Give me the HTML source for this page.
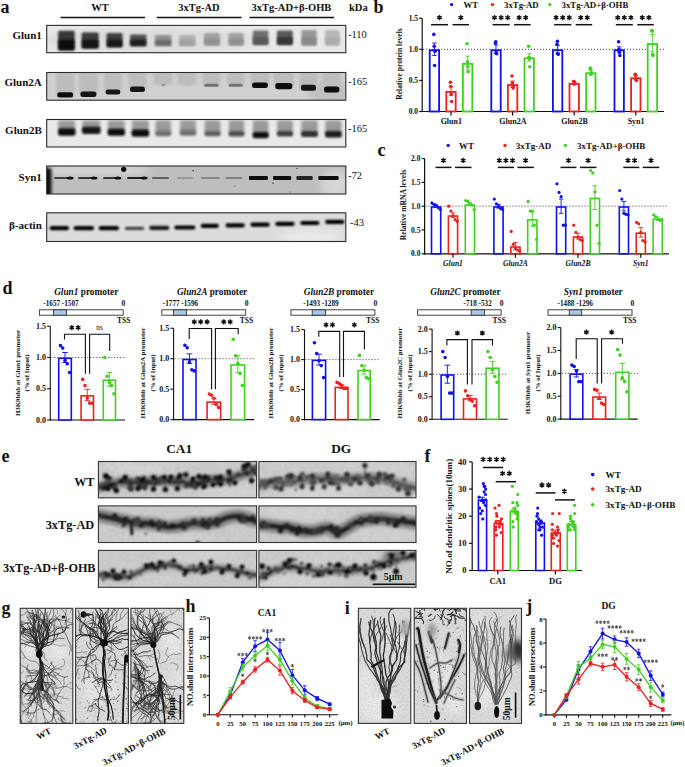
<!DOCTYPE html>
<html><head><meta charset="utf-8"><style>
html,body{margin:0;padding:0;background:#fff;}
svg{display:block;font-family:"Liberation Serif", serif;}
</style></head><body>
<svg width="685" height="767" viewBox="0 0 685 767">
<defs>
<filter id="b1" x="-50%" y="-50%" width="200%" height="200%"><feGaussianBlur stdDeviation="1"/></filter>
<filter id="b06" x="-50%" y="-50%" width="200%" height="200%"><feGaussianBlur stdDeviation="0.6"/></filter>
<filter id="b15" x="-50%" y="-50%" width="200%" height="200%"><feGaussianBlur stdDeviation="1.5"/></filter>
<filter id="b2" x="-50%" y="-50%" width="200%" height="200%"><feGaussianBlur stdDeviation="2.2"/></filter>
<filter id="b3" x="-50%" y="-50%" width="200%" height="200%"><feGaussianBlur stdDeviation="3.5"/></filter>
<filter id="nz" x="0" y="0" width="100%" height="100%"><feTurbulence type="fractalNoise" baseFrequency="0.75" numOctaves="2" seed="4"/><feColorMatrix type="matrix" values="0 0 0 0 0  0 0 0 0 0  0 0 0 0 0  0.45 0 0 0 -0.17"/></filter>
<filter id="b08" x="-50%" y="-50%" width="200%" height="200%"><feGaussianBlur stdDeviation="0.8"/></filter>
<filter id="b07" x="-50%" y="-50%" width="200%" height="200%"><feGaussianBlur stdDeviation="0.7"/></filter>
<filter id="nz2" x="0" y="0" width="100%" height="100%"><feTurbulence type="fractalNoise" baseFrequency="0.6" numOctaves="2" seed="9"/><feColorMatrix type="matrix" values="0 0 0 0 0  0 0 0 0 0  0 0 0 0 0  0.22 0 0 0 -0.09"/></filter>
<filter id="b04" x="-50%" y="-50%" width="200%" height="200%"><feGaussianBlur stdDeviation="0.4"/></filter>
</defs>
<rect width="685" height="767" fill="#fff"/>
<text x="0.50" y="13.20" font-size="18" font-weight="bold" font-style="normal" text-anchor="start" fill="#111" >a</text>
<text x="100.00" y="10.60" font-size="10.5" font-weight="bold" font-style="normal" text-anchor="middle" fill="#111" >WT</text>
<text x="199.00" y="10.60" font-size="10.5" font-weight="bold" font-style="normal" text-anchor="middle" fill="#111" >3xTg-AD</text>
<text x="291.50" y="10.60" font-size="10.5" font-weight="bold" font-style="normal" text-anchor="middle" fill="#111" >3xTg-AD+β-OHB</text>
<text x="349.00" y="10.60" font-size="10.5" font-weight="bold" font-style="normal" text-anchor="start" fill="#111" >kDa</text>
<line x1="60.60" y1="17.50" x2="145.00" y2="17.50" stroke="#111" stroke-width="1.6" />
<line x1="156.80" y1="17.50" x2="241.50" y2="17.50" stroke="#111" stroke-width="1.6" />
<line x1="249.40" y1="17.50" x2="334.00" y2="17.50" stroke="#111" stroke-width="1.6" />
<clipPath id="cg1"><rect x="46.7" y="25.4" width="299.1" height="27.300000000000004"/></clipPath>
<rect x="46.70" y="25.40" width="299.10" height="27.30" fill="#e8e8e8" stroke="none" stroke-width="1" />
<g clip-path="url(#cg1)"><ellipse cx="150.00" cy="40.00" rx="110.00" ry="12.00" fill="#dcdcdc" opacity="1" filter="url(#b3)"/></g>
<g clip-path="url(#cg1)"><rect x="58.10" y="30.70" width="16.60" height="19.80" rx="1.5" fill="#383838" filter="url(#b1)"/></g>
<g clip-path="url(#cg1)"><rect x="58.60" y="39.61" width="15.60" height="10.39" rx="1.5" fill="#0e0e0e" filter="url(#b1)"/></g>
<g clip-path="url(#cg1)"><rect x="81.60" y="32.50" width="17.10" height="15.90" rx="1.5" fill="#3a3a3a" filter="url(#b1)"/></g>
<g clip-path="url(#cg1)"><rect x="82.10" y="39.66" width="16.10" height="8.24" rx="1.5" fill="#141414" filter="url(#b1)"/></g>
<g clip-path="url(#cg1)"><rect x="106.60" y="33.00" width="16.00" height="14.20" rx="1.5" fill="#404040" filter="url(#b1)"/></g>
<g clip-path="url(#cg1)"><rect x="107.10" y="39.39" width="15.00" height="7.31" rx="1.5" fill="#161616" filter="url(#b1)"/></g>
<g clip-path="url(#cg1)"><rect x="130.00" y="34.50" width="16.50" height="11.70" rx="1.5" fill="#505050" filter="url(#b1)"/></g>
<g clip-path="url(#cg1)"><rect x="130.50" y="39.77" width="15.50" height="5.94" rx="1.5" fill="#1c1c1c" filter="url(#b1)"/></g>
<g clip-path="url(#cg1)"><rect x="154.90" y="35.00" width="16.60" height="11.00" rx="1.5" fill="#909090" filter="url(#b1)"/></g>
<g clip-path="url(#cg1)"><rect x="155.40" y="39.95" width="15.60" height="5.55" rx="1.5" fill="#6c6c6c" filter="url(#b1)"/></g>
<g clip-path="url(#cg1)"><rect x="179.00" y="35.00" width="16.40" height="11.00" rx="1.5" fill="#b0b0b0" filter="url(#b1)"/></g>
<g clip-path="url(#cg1)"><rect x="179.50" y="39.95" width="15.40" height="5.55" rx="1.5" fill="#a0a0a0" filter="url(#b1)"/></g>
<g clip-path="url(#cg1)"><rect x="204.00" y="33.00" width="15.90" height="12.50" rx="1.5" fill="#a0a0a0" filter="url(#b1)"/></g>
<g clip-path="url(#cg1)"><rect x="204.50" y="38.62" width="14.90" height="6.38" rx="1.5" fill="#909090" filter="url(#b1)"/></g>
<g clip-path="url(#cg1)"><rect x="228.50" y="33.00" width="15.20" height="12.50" rx="1.5" fill="#a0a0a0" filter="url(#b1)"/></g>
<g clip-path="url(#cg1)"><rect x="229.00" y="38.62" width="14.20" height="6.38" rx="1.5" fill="#909090" filter="url(#b1)"/></g>
<g clip-path="url(#cg1)"><rect x="252.70" y="30.50" width="15.80" height="14.50" rx="1.5" fill="#707070" filter="url(#b1)"/></g>
<g clip-path="url(#cg1)"><rect x="253.20" y="37.02" width="14.80" height="7.48" rx="1.5" fill="#585858" filter="url(#b1)"/></g>
<g clip-path="url(#cg1)"><rect x="276.90" y="30.50" width="15.90" height="14.50" rx="1.5" fill="#585858" filter="url(#b1)"/></g>
<g clip-path="url(#cg1)"><rect x="277.40" y="37.02" width="14.90" height="7.48" rx="1.5" fill="#343434" filter="url(#b1)"/></g>
<g clip-path="url(#cg1)"><rect x="301.40" y="30.00" width="15.30" height="15.50" rx="1.5" fill="#989898" filter="url(#b1)"/></g>
<g clip-path="url(#cg1)"><rect x="301.90" y="36.98" width="14.30" height="8.02" rx="1.5" fill="#888888" filter="url(#b1)"/></g>
<g clip-path="url(#cg1)"><rect x="325.00" y="30.00" width="14.80" height="15.50" rx="1.5" fill="#b8b8b8" filter="url(#b1)"/></g>
<g clip-path="url(#cg1)"><rect x="325.50" y="36.98" width="13.80" height="8.02" rx="1.5" fill="#acacac" filter="url(#b1)"/></g>
<rect x="46.70" y="25.40" width="299.10" height="27.30" fill="none" stroke="#2a2a2a" stroke-width="1.1" />
<text x="41.80" y="38.80" font-size="11" font-weight="bold" font-style="normal" text-anchor="end" fill="#111" >Glun1</text>
<text x="348.00" y="38.30" font-size="10.5" font-weight="normal" font-style="normal" text-anchor="start" fill="#111" >-110</text>
<clipPath id="cg2"><rect x="46.7" y="72.5" width="299.1" height="27.700000000000003"/></clipPath>
<rect x="46.70" y="72.50" width="299.10" height="27.70" fill="#d0d0d0" stroke="none" stroke-width="1" />
<g clip-path="url(#cg2)"><rect x="55.70" y="72.50" width="19.00" height="22.50" rx="1.5" fill="#bcbcbc" filter="url(#b15)"/></g>
<g clip-path="url(#cg2)"><rect x="78.90" y="72.50" width="19.00" height="21.50" rx="1.5" fill="#bcbcbc" filter="url(#b15)"/></g>
<g clip-path="url(#cg2)"><rect x="104.00" y="72.50" width="17.80" height="19.50" rx="1.5" fill="#bcbcbc" filter="url(#b15)"/></g>
<g clip-path="url(#cg2)"><rect x="128.50" y="72.50" width="17.90" height="16.70" rx="1.5" fill="#bcbcbc" filter="url(#b15)"/></g>
<g clip-path="url(#cg2)"><rect x="153.50" y="72.50" width="19.00" height="12.50" rx="1.5" fill="#bcbcbc" filter="url(#b15)"/></g>
<g clip-path="url(#cg2)"><rect x="177.50" y="72.50" width="19.00" height="12.50" rx="1.5" fill="#bcbcbc" filter="url(#b15)"/></g>
<g clip-path="url(#cg2)"><rect x="202.50" y="72.50" width="17.80" height="12.80" rx="1.5" fill="#bcbcbc" filter="url(#b15)"/></g>
<g clip-path="url(#cg2)"><rect x="227.00" y="72.50" width="17.50" height="12.80" rx="1.5" fill="#bcbcbc" filter="url(#b15)"/></g>
<g clip-path="url(#cg2)"><rect x="250.50" y="72.50" width="18.90" height="12.70" rx="1.5" fill="#bcbcbc" filter="url(#b15)"/></g>
<g clip-path="url(#cg2)"><rect x="273.80" y="72.50" width="20.00" height="13.60" rx="1.5" fill="#bcbcbc" filter="url(#b15)"/></g>
<g clip-path="url(#cg2)"><rect x="299.40" y="72.50" width="18.10" height="15.20" rx="1.5" fill="#bcbcbc" filter="url(#b15)"/></g>
<g clip-path="url(#cg2)"><rect x="322.50" y="72.50" width="18.40" height="17.00" rx="1.5" fill="#bcbcbc" filter="url(#b15)"/></g>
<g clip-path="url(#cg2)"><ellipse cx="330.00" cy="92.00" rx="22.00" ry="12.00" fill="#c0c0c0" opacity="1" filter="url(#b3)"/></g>
<g clip-path="url(#cg2)"><rect x="57.20" y="92.30" width="16.00" height="5.20" rx="2.5" fill="#101010" filter="url(#b06)"/></g>
<g clip-path="url(#cg2)"><rect x="80.40" y="91.40" width="16.00" height="5.50" rx="2.5" fill="#181818" filter="url(#b06)"/></g>
<g clip-path="url(#cg2)"><rect x="105.50" y="89.40" width="14.80" height="5.20" rx="2.5" fill="#141414" filter="url(#b06)"/></g>
<g clip-path="url(#cg2)"><rect x="130.00" y="86.40" width="14.90" height="5.70" rx="2.5" fill="#141414" filter="url(#b06)"/></g>
<g clip-path="url(#cg2)"><rect x="161.50" y="83.80" width="4.00" height="2.20" rx="2.5" fill="#909090" filter="url(#b06)"/></g>
<g clip-path="url(#cg2)"><rect x="184.00" y="84.00" width="7.00" height="1.80" rx="2.5" fill="#b8b8b8" filter="url(#b06)"/></g>
<g clip-path="url(#cg2)"><rect x="204.00" y="83.80" width="14.80" height="3.00" rx="2.5" fill="#707070" filter="url(#b06)"/></g>
<g clip-path="url(#cg2)"><rect x="228.50" y="83.80" width="14.50" height="3.00" rx="2.5" fill="#707070" filter="url(#b06)"/></g>
<g clip-path="url(#cg2)"><rect x="252.00" y="82.40" width="15.90" height="5.70" rx="2.5" fill="#0a0a0a" filter="url(#b06)"/></g>
<g clip-path="url(#cg2)"><rect x="275.30" y="83.00" width="17.00" height="6.20" rx="2.5" fill="#0a0a0a" filter="url(#b06)"/></g>
<g clip-path="url(#cg2)"><rect x="300.90" y="84.70" width="15.10" height="6.10" rx="2.5" fill="#121212" filter="url(#b06)"/></g>
<g clip-path="url(#cg2)"><rect x="324.00" y="86.50" width="15.40" height="6.10" rx="2.5" fill="#0a0a0a" filter="url(#b06)"/></g>
<rect x="46.70" y="72.50" width="299.10" height="27.70" fill="none" stroke="#2a2a2a" stroke-width="1.1" />
<text x="41.80" y="86.00" font-size="11" font-weight="bold" font-style="normal" text-anchor="end" fill="#111" >Glun2A</text>
<text x="348.00" y="85.30" font-size="10.5" font-weight="normal" font-style="normal" text-anchor="start" fill="#111" >-165</text>
<clipPath id="cg3"><rect x="46.7" y="119.5" width="299.1" height="27.5"/></clipPath>
<rect x="46.70" y="119.50" width="299.10" height="27.50" fill="#e9e9e9" stroke="none" stroke-width="1" />
<g clip-path="url(#cg3)"><rect x="58.30" y="120.50" width="16.90" height="10.00" rx="1.5" fill="#989898" filter="url(#b15)"/></g>
<g clip-path="url(#cg3)"><rect x="82.20" y="120.50" width="18.10" height="8.50" rx="1.5" fill="#989898" filter="url(#b15)"/></g>
<g clip-path="url(#cg3)"><rect x="107.90" y="120.50" width="16.80" height="10.50" rx="1.5" fill="#989898" filter="url(#b15)"/></g>
<g clip-path="url(#cg3)"><rect x="131.90" y="120.50" width="16.90" height="11.20" rx="1.5" fill="#989898" filter="url(#b15)"/></g>
<g clip-path="url(#cg3)"><rect x="155.50" y="120.50" width="15.40" height="12.30" rx="1.5" fill="#989898" filter="url(#b15)"/></g>
<g clip-path="url(#cg3)"><rect x="180.10" y="120.50" width="15.80" height="11.50" rx="1.5" fill="#989898" filter="url(#b15)"/></g>
<g clip-path="url(#cg3)"><rect x="204.70" y="120.50" width="15.70" height="12.90" rx="1.5" fill="#989898" filter="url(#b15)"/></g>
<g clip-path="url(#cg3)"><rect x="228.90" y="120.50" width="15.30" height="12.90" rx="1.5" fill="#989898" filter="url(#b15)"/></g>
<g clip-path="url(#cg3)"><rect x="252.90" y="120.50" width="15.50" height="13.80" rx="1.5" fill="#989898" filter="url(#b15)"/></g>
<g clip-path="url(#cg3)"><rect x="277.10" y="120.50" width="15.70" height="12.90" rx="1.5" fill="#989898" filter="url(#b15)"/></g>
<g clip-path="url(#cg3)"><rect x="301.30" y="120.50" width="16.40" height="12.90" rx="1.5" fill="#989898" filter="url(#b15)"/></g>
<g clip-path="url(#cg3)"><rect x="325.30" y="120.50" width="16.20" height="12.90" rx="1.5" fill="#989898" filter="url(#b15)"/></g>
<g clip-path="url(#cg3)"><rect x="58.00" y="128.20" width="17.50" height="7.50" rx="2.5" fill="#0c0c0c" filter="url(#b08)"/></g>
<g clip-path="url(#cg3)"><rect x="81.90" y="126.70" width="18.70" height="7.40" rx="2.5" fill="#121212" filter="url(#b08)"/></g>
<g clip-path="url(#cg3)"><rect x="107.60" y="128.70" width="17.40" height="7.00" rx="2.5" fill="#0e0e0e" filter="url(#b08)"/></g>
<g clip-path="url(#cg3)"><rect x="131.60" y="129.40" width="17.50" height="7.40" rx="2.5" fill="#0c0c0c" filter="url(#b08)"/></g>
<g clip-path="url(#cg3)"><rect x="155.20" y="130.50" width="16.00" height="5.80" rx="2.5" fill="#707070" filter="url(#b08)"/></g>
<g clip-path="url(#cg3)"><rect x="179.80" y="129.70" width="16.40" height="6.00" rx="2.5" fill="#707070" filter="url(#b08)"/></g>
<g clip-path="url(#cg3)"><rect x="204.40" y="131.10" width="16.30" height="5.10" rx="2.5" fill="#606060" filter="url(#b08)"/></g>
<g clip-path="url(#cg3)"><rect x="228.60" y="131.10" width="15.90" height="5.40" rx="2.5" fill="#505050" filter="url(#b08)"/></g>
<g clip-path="url(#cg3)"><rect x="252.60" y="132.00" width="16.10" height="6.30" rx="2.5" fill="#0a0a0a" filter="url(#b08)"/></g>
<g clip-path="url(#cg3)"><rect x="276.80" y="131.10" width="16.30" height="5.40" rx="2.5" fill="#404040" filter="url(#b08)"/></g>
<g clip-path="url(#cg3)"><rect x="301.00" y="131.10" width="17.00" height="6.00" rx="2.5" fill="#303030" filter="url(#b08)"/></g>
<g clip-path="url(#cg3)"><rect x="325.00" y="131.10" width="16.80" height="6.40" rx="2.5" fill="#1a1a1a" filter="url(#b08)"/></g>
<rect x="46.70" y="119.50" width="299.10" height="27.50" fill="none" stroke="#2a2a2a" stroke-width="1.1" />
<text x="41.80" y="133.60" font-size="11" font-weight="bold" font-style="normal" text-anchor="end" fill="#111" >Glun2B</text>
<text x="348.00" y="131.60" font-size="10.5" font-weight="normal" font-style="normal" text-anchor="start" fill="#111" >-165</text>
<clipPath id="cg4"><rect x="46.7" y="166" width="299.1" height="28"/></clipPath>
<rect x="46.70" y="166.00" width="299.10" height="28.00" fill="#bebebe" stroke="none" stroke-width="1" />
<g clip-path="url(#cg4)"><ellipse cx="90.00" cy="169.00" rx="60.00" ry="7.00" fill="#d4d4d4" opacity="1" filter="url(#b3)"/></g>
<g clip-path="url(#cg4)"><ellipse cx="335.00" cy="185.00" rx="14.00" ry="14.00" fill="#d6d6d6" opacity="1" filter="url(#b3)"/></g>
<g clip-path="url(#cg4)"><rect x="44.00" y="168.00" width="7.50" height="28.00" rx="1.5" fill="#101010" filter="url(#b15)"/></g>
<g clip-path="url(#cg4)"><rect x="54.00" y="177.00" width="19.60" height="2.00" rx="1" fill="#404040" filter="url(#b06)"/></g>
<g clip-path="url(#cg4)"><ellipse cx="70.10" cy="178.00" rx="3.20" ry="1.50" fill="#101010" opacity="1" filter="url(#b06)"/></g>
<g clip-path="url(#cg4)"><rect x="78.00" y="177.00" width="19.50" height="2.00" rx="1" fill="#383838" filter="url(#b06)"/></g>
<g clip-path="url(#cg4)"><ellipse cx="94.00" cy="178.00" rx="3.20" ry="1.50" fill="#101010" opacity="1" filter="url(#b06)"/></g>
<g clip-path="url(#cg4)"><rect x="103.00" y="177.00" width="18.40" height="2.00" rx="1" fill="#383838" filter="url(#b06)"/></g>
<g clip-path="url(#cg4)"><ellipse cx="117.90" cy="178.00" rx="3.20" ry="1.50" fill="#101010" opacity="1" filter="url(#b06)"/></g>
<g clip-path="url(#cg4)"><rect x="127.00" y="177.00" width="20.60" height="2.00" rx="1" fill="#202020" filter="url(#b06)"/></g>
<g clip-path="url(#cg4)"><ellipse cx="144.10" cy="178.00" rx="3.20" ry="1.50" fill="#101010" opacity="1" filter="url(#b06)"/></g>
<g clip-path="url(#cg4)"><rect x="152.00" y="177.00" width="17.00" height="2.00" rx="1" fill="#606060" filter="url(#b06)"/></g>
<g clip-path="url(#cg4)"><rect x="177.00" y="177.00" width="16.00" height="2.00" rx="1" fill="#989898" filter="url(#b06)"/></g>
<g clip-path="url(#cg4)"><rect x="200.70" y="177.00" width="19.20" height="2.00" rx="1" fill="#888888" filter="url(#b06)"/></g>
<g clip-path="url(#cg4)"><rect x="225.50" y="177.00" width="17.00" height="2.00" rx="1" fill="#808080" filter="url(#b06)"/></g>
<g clip-path="url(#cg4)"><rect x="248.90" y="176.10" width="19.00" height="3.80" rx="1" fill="#101010" filter="url(#b06)"/></g>
<g clip-path="url(#cg4)"><rect x="273.00" y="176.10" width="18.20" height="3.80" rx="1" fill="#080808" filter="url(#b06)"/></g>
<g clip-path="url(#cg4)"><rect x="296.40" y="176.10" width="16.30" height="3.80" rx="1" fill="#202020" filter="url(#b06)"/></g>
<g clip-path="url(#cg4)"><rect x="318.30" y="176.10" width="20.40" height="3.80" rx="1" fill="#101010" filter="url(#b06)"/></g>
<circle cx="123.7" cy="169.3" r="2.6" fill="#080808"/>
<circle cx="193.2" cy="170.7" r="0.8" fill="#333"/>
<circle cx="297" cy="168.5" r="0.7" fill="#444"/>
<circle cx="273" cy="183" r="0.8" fill="#333"/>
<circle cx="235" cy="186" r="0.6" fill="#555"/>
<circle cx="290" cy="192" r="0.6" fill="#555"/>
<rect x="46.70" y="166.00" width="299.10" height="28.00" fill="none" stroke="#2a2a2a" stroke-width="1.1" />
<text x="41.80" y="180.80" font-size="11" font-weight="bold" font-style="normal" text-anchor="end" fill="#111" >Syn1</text>
<text x="348.00" y="178.60" font-size="10.5" font-weight="normal" font-style="normal" text-anchor="start" fill="#111" >-72</text>
<clipPath id="cg5"><rect x="46.7" y="212.8" width="299.1" height="28.69999999999999"/></clipPath>
<rect x="46.70" y="212.80" width="299.10" height="28.70" fill="#dcdcdc" stroke="none" stroke-width="1" />
<g clip-path="url(#cg5)"><ellipse cx="310.00" cy="237.00" rx="30.00" ry="8.00" fill="#e8e8e8" opacity="1" filter="url(#b3)"/></g>
<g clip-path="url(#cg5)"><rect x="49.70" y="226.10" width="19.30" height="4.20" rx="2" fill="#040404" filter="url(#b08)"/></g>
<g clip-path="url(#cg5)"><rect x="73.60" y="226.10" width="20.40" height="4.20" rx="2" fill="#040404" filter="url(#b08)"/></g>
<g clip-path="url(#cg5)"><rect x="98.70" y="226.10" width="20.30" height="4.20" rx="2" fill="#000000" filter="url(#b08)"/></g>
<g clip-path="url(#cg5)"><rect x="124.80" y="226.80" width="19.40" height="3.20" rx="2" fill="#404040" filter="url(#b08)"/></g>
<g clip-path="url(#cg5)"><rect x="149.20" y="225.70" width="20.10" height="4.20" rx="2" fill="#181818" filter="url(#b08)"/></g>
<g clip-path="url(#cg5)"><rect x="174.30" y="225.40" width="21.10" height="4.20" rx="2" fill="#000000" filter="url(#b08)"/></g>
<g clip-path="url(#cg5)"><rect x="200.70" y="223.80" width="18.10" height="4.20" rx="2" fill="#040404" filter="url(#b08)"/></g>
<g clip-path="url(#cg5)"><rect x="225.50" y="223.30" width="19.30" height="4.20" rx="2" fill="#000000" filter="url(#b08)"/></g>
<g clip-path="url(#cg5)"><rect x="250.40" y="222.50" width="19.30" height="4.20" rx="2" fill="#000000" filter="url(#b08)"/></g>
<g clip-path="url(#cg5)"><rect x="275.30" y="221.80" width="19.30" height="4.20" rx="2" fill="#040404" filter="url(#b08)"/></g>
<g clip-path="url(#cg5)"><rect x="300.20" y="220.90" width="19.30" height="4.20" rx="2" fill="#040404" filter="url(#b08)"/></g>
<g clip-path="url(#cg5)"><rect x="325.10" y="219.70" width="19.30" height="4.20" rx="2" fill="#000000" filter="url(#b08)"/></g>
<rect x="46.70" y="212.80" width="299.10" height="28.70" fill="none" stroke="#2a2a2a" stroke-width="1.1" />
<text x="41.80" y="229.20" font-size="11" font-weight="bold" font-style="normal" text-anchor="end" fill="#111" >β-actin</text>
<text x="350.00" y="225.80" font-size="10.5" font-weight="normal" font-style="normal" text-anchor="start" fill="#111" >-43</text>
<text x="373.50" y="12.60" font-size="18" font-weight="bold" font-style="normal" text-anchor="start" fill="#111" >b</text>
<line x1="422.20" y1="18.20" x2="422.20" y2="112.10" stroke="#111" stroke-width="1.2" />
<line x1="421.60" y1="111.50" x2="664.00" y2="111.50" stroke="#111" stroke-width="1.2" />
<line x1="419.20" y1="111.50" x2="422.20" y2="111.50" stroke="#111" stroke-width="1.2" />
<text x="418.00" y="114.05" font-size="7.5" font-weight="bold" font-style="normal" text-anchor="end" fill="#111" >0.0</text>
<line x1="419.20" y1="80.40" x2="422.20" y2="80.40" stroke="#111" stroke-width="1.2" />
<text x="418.00" y="82.95" font-size="7.5" font-weight="bold" font-style="normal" text-anchor="end" fill="#111" >0.5</text>
<line x1="419.20" y1="49.30" x2="422.20" y2="49.30" stroke="#111" stroke-width="1.2" />
<text x="418.00" y="51.85" font-size="7.5" font-weight="bold" font-style="normal" text-anchor="end" fill="#111" >1.0</text>
<line x1="419.20" y1="18.20" x2="422.20" y2="18.20" stroke="#111" stroke-width="1.2" />
<text x="418.00" y="20.75" font-size="7.5" font-weight="bold" font-style="normal" text-anchor="end" fill="#111" >1.5</text>
<line x1="423.00" y1="49.30" x2="664.00" y2="49.30" stroke="#222" stroke-width="0.9" stroke-dasharray="1 2"/>
<text transform="translate(399.50,64.00) rotate(-90)" x="0" y="0" font-size="7.6" font-weight="bold" font-style="normal" text-anchor="middle" dominant-baseline="central" fill="#111">Relative protein levels</text>
<circle cx="451.6" cy="4.6" r="1.7" fill="#1010f0"/>
<text x="463.50" y="8.00" font-size="8.8" font-weight="bold" font-style="normal" text-anchor="start" fill="#111" >WT</text>
<circle cx="492.5" cy="4.6" r="1.7" fill="#f02020"/>
<text x="504.00" y="8.00" font-size="8.8" font-weight="bold" font-style="normal" text-anchor="start" fill="#111" >3xTg-AD</text>
<circle cx="549.8" cy="4.6" r="1.7" fill="#40d020"/>
<text x="561.50" y="8.00" font-size="8.8" font-weight="bold" font-style="normal" text-anchor="start" fill="#111" >3xTg-AD+β-OHB</text>
<rect x="429.70" y="50.20" width="9.40" height="61.30" fill="#fff" stroke="#1010f0" stroke-width="1.8"/>
<line x1="434.40" y1="43.08" x2="434.40" y2="55.52" stroke="#1010f0" stroke-width="0.9" />
<line x1="432.20" y1="43.08" x2="436.60" y2="43.08" stroke="#1010f0" stroke-width="0.9" />
<line x1="432.20" y1="55.52" x2="436.60" y2="55.52" stroke="#1010f0" stroke-width="0.9" />
<circle cx="433.8" cy="34.4" r="1.8" fill="#1010f0"/>
<circle cx="434.2" cy="46.2" r="1.8" fill="#1010f0"/>
<circle cx="434.6" cy="65.5" r="1.8" fill="#1010f0"/>
<circle cx="435" cy="51.2" r="1.8" fill="#1010f0"/>
<rect x="446.30" y="91.87" width="9.40" height="19.63" fill="#fff" stroke="#f02020" stroke-width="1.8"/>
<line x1="451.00" y1="86.62" x2="451.00" y2="95.33" stroke="#f02020" stroke-width="0.9" />
<line x1="448.80" y1="86.62" x2="453.20" y2="86.62" stroke="#f02020" stroke-width="0.9" />
<line x1="448.80" y1="95.33" x2="453.20" y2="95.33" stroke="#f02020" stroke-width="0.9" />
<circle cx="450.4" cy="82.3" r="1.8" fill="#f02020"/>
<circle cx="450.8" cy="86.6" r="1.8" fill="#f02020"/>
<circle cx="451.2" cy="94.1" r="1.8" fill="#f02020"/>
<circle cx="451.6" cy="101.5" r="1.8" fill="#f02020"/>
<rect x="462.90" y="63.88" width="9.40" height="47.62" fill="#fff" stroke="#40d020" stroke-width="1.8"/>
<line x1="467.60" y1="56.14" x2="467.60" y2="69.83" stroke="#40d020" stroke-width="0.9" />
<line x1="465.40" y1="56.14" x2="469.80" y2="56.14" stroke="#40d020" stroke-width="0.9" />
<line x1="465.40" y1="69.83" x2="469.80" y2="69.83" stroke="#40d020" stroke-width="0.9" />
<circle cx="467" cy="43.7" r="1.8" fill="#40d020"/>
<circle cx="467.4" cy="61.7" r="1.8" fill="#40d020"/>
<circle cx="467.8" cy="66.7" r="1.8" fill="#40d020"/>
<circle cx="468.2" cy="71.7" r="1.8" fill="#40d020"/>
<line x1="451.00" y1="111.50" x2="451.00" y2="115.50" stroke="#111" stroke-width="1.2" />
<text x="451.30" y="123.80" font-size="8" font-weight="bold" font-style="normal" text-anchor="middle" fill="#111" >Glun1</text>
<line x1="431.00" y1="24.70" x2="448.00" y2="24.70" stroke="#111" stroke-width="1.5" />
<line x1="452.50" y1="24.70" x2="469.00" y2="24.70" stroke="#111" stroke-width="1.5" />
<path d="M439.5 15v5.3M437.2 16.3l4.6 2.6M437.2 18.9l4.6 -2.6" stroke="#111" stroke-width="1.35" fill="none"/>
<path d="M460.8 15v5.3M458.5 16.3l4.6 2.6M458.5 18.9l4.6 -2.6" stroke="#111" stroke-width="1.35" fill="none"/>
<rect x="491.30" y="50.20" width="9.40" height="61.30" fill="#fff" stroke="#1010f0" stroke-width="1.8"/>
<line x1="496.00" y1="44.95" x2="496.00" y2="53.65" stroke="#1010f0" stroke-width="0.9" />
<line x1="493.80" y1="44.95" x2="498.20" y2="44.95" stroke="#1010f0" stroke-width="0.9" />
<line x1="493.80" y1="53.65" x2="498.20" y2="53.65" stroke="#1010f0" stroke-width="0.9" />
<circle cx="495.4" cy="43.1" r="1.8" fill="#1010f0"/>
<circle cx="495.8" cy="41.8" r="1.8" fill="#1010f0"/>
<circle cx="496.2" cy="52.4" r="1.8" fill="#1010f0"/>
<circle cx="496.6" cy="53.7" r="1.8" fill="#1010f0"/>
<rect x="507.90" y="85.03" width="9.40" height="26.47" fill="#fff" stroke="#f02020" stroke-width="1.8"/>
<line x1="512.60" y1="81.02" x2="512.60" y2="87.24" stroke="#f02020" stroke-width="0.9" />
<line x1="510.40" y1="81.02" x2="514.80" y2="81.02" stroke="#f02020" stroke-width="0.9" />
<line x1="510.40" y1="87.24" x2="514.80" y2="87.24" stroke="#f02020" stroke-width="0.9" />
<circle cx="512" cy="76" r="1.8" fill="#f02020"/>
<circle cx="512.4" cy="82.9" r="1.8" fill="#f02020"/>
<circle cx="512.8" cy="86.6" r="1.8" fill="#f02020"/>
<circle cx="513.2" cy="87.9" r="1.8" fill="#f02020"/>
<rect x="524.50" y="58.29" width="9.40" height="53.21" fill="#fff" stroke="#40d020" stroke-width="1.8"/>
<line x1="529.20" y1="53.65" x2="529.20" y2="61.12" stroke="#40d020" stroke-width="0.9" />
<line x1="527.00" y1="53.65" x2="531.40" y2="53.65" stroke="#40d020" stroke-width="0.9" />
<line x1="527.00" y1="61.12" x2="531.40" y2="61.12" stroke="#40d020" stroke-width="0.9" />
<circle cx="528.6" cy="46.2" r="1.8" fill="#40d020"/>
<circle cx="529" cy="57.4" r="1.8" fill="#40d020"/>
<circle cx="529.4" cy="58.6" r="1.8" fill="#40d020"/>
<circle cx="529.8" cy="66.7" r="1.8" fill="#40d020"/>
<line x1="512.60" y1="111.50" x2="512.60" y2="115.50" stroke="#111" stroke-width="1.2" />
<text x="512.90" y="123.80" font-size="8" font-weight="bold" font-style="normal" text-anchor="middle" fill="#111" >Glun2A</text>
<line x1="492.60" y1="24.70" x2="509.60" y2="24.70" stroke="#111" stroke-width="1.5" />
<line x1="514.10" y1="24.70" x2="530.60" y2="24.70" stroke="#111" stroke-width="1.5" />
<path d="M494.5 15v5.3M492.2 16.3l4.6 2.6M492.2 18.9l4.6 -2.6M501.1 15v5.3M498.8 16.3l4.6 2.6M498.8 18.9l4.6 -2.6M507.7 15v5.3M505.4 16.3l4.6 2.6M505.4 18.9l4.6 -2.6" stroke="#111" stroke-width="1.35" fill="none"/>
<path d="M519.1 15v5.3M516.8 16.3l4.6 2.6M516.8 18.9l4.6 -2.6M525.7 15v5.3M523.4 16.3l4.6 2.6M523.4 18.9l4.6 -2.6" stroke="#111" stroke-width="1.35" fill="none"/>
<rect x="552.90" y="50.20" width="9.40" height="61.30" fill="#fff" stroke="#1010f0" stroke-width="1.8"/>
<line x1="557.60" y1="45.57" x2="557.60" y2="53.03" stroke="#1010f0" stroke-width="0.9" />
<line x1="555.40" y1="45.57" x2="559.80" y2="45.57" stroke="#1010f0" stroke-width="0.9" />
<line x1="555.40" y1="53.03" x2="559.80" y2="53.03" stroke="#1010f0" stroke-width="0.9" />
<circle cx="557" cy="44.3" r="1.8" fill="#1010f0"/>
<circle cx="557.4" cy="41.2" r="1.8" fill="#1010f0"/>
<circle cx="557.8" cy="53.7" r="1.8" fill="#1010f0"/>
<circle cx="558.2" cy="54.3" r="1.8" fill="#1010f0"/>
<rect x="569.50" y="83.79" width="9.40" height="27.71" fill="#fff" stroke="#f02020" stroke-width="1.8"/>
<line x1="574.20" y1="81.64" x2="574.20" y2="84.13" stroke="#f02020" stroke-width="0.9" />
<line x1="572.00" y1="81.64" x2="576.40" y2="81.64" stroke="#f02020" stroke-width="0.9" />
<line x1="572.00" y1="84.13" x2="576.40" y2="84.13" stroke="#f02020" stroke-width="0.9" />
<circle cx="573.6" cy="81.6" r="1.8" fill="#f02020"/>
<circle cx="574" cy="81.6" r="1.8" fill="#f02020"/>
<circle cx="574.4" cy="84.1" r="1.8" fill="#f02020"/>
<circle cx="574.8" cy="82.9" r="1.8" fill="#f02020"/>
<rect x="586.10" y="73.21" width="9.40" height="38.29" fill="#fff" stroke="#40d020" stroke-width="1.8"/>
<line x1="590.80" y1="69.83" x2="590.80" y2="74.80" stroke="#40d020" stroke-width="0.9" />
<line x1="588.60" y1="69.83" x2="593.00" y2="69.83" stroke="#40d020" stroke-width="0.9" />
<line x1="588.60" y1="74.80" x2="593.00" y2="74.80" stroke="#40d020" stroke-width="0.9" />
<circle cx="590.2" cy="68" r="1.8" fill="#40d020"/>
<circle cx="590.6" cy="69.2" r="1.8" fill="#40d020"/>
<circle cx="591" cy="74.2" r="1.8" fill="#40d020"/>
<circle cx="591.4" cy="72.9" r="1.8" fill="#40d020"/>
<line x1="574.20" y1="111.50" x2="574.20" y2="115.50" stroke="#111" stroke-width="1.2" />
<text x="574.50" y="123.80" font-size="8" font-weight="bold" font-style="normal" text-anchor="middle" fill="#111" >Glun2B</text>
<line x1="554.20" y1="24.70" x2="571.20" y2="24.70" stroke="#111" stroke-width="1.5" />
<line x1="575.70" y1="24.70" x2="592.20" y2="24.70" stroke="#111" stroke-width="1.5" />
<path d="M556.1 15v5.3M553.8 16.3l4.6 2.6M553.8 18.9l4.6 -2.6M562.7 15v5.3M560.4 16.3l4.6 2.6M560.4 18.9l4.6 -2.6M569.3 15v5.3M567 16.3l4.6 2.6M567 18.9l4.6 -2.6" stroke="#111" stroke-width="1.35" fill="none"/>
<path d="M580.7 15v5.3M578.4 16.3l4.6 2.6M578.4 18.9l4.6 -2.6M587.3 15v5.3M585 16.3l4.6 2.6M585 18.9l4.6 -2.6" stroke="#111" stroke-width="1.35" fill="none"/>
<rect x="614.50" y="50.20" width="9.40" height="61.30" fill="#fff" stroke="#1010f0" stroke-width="1.8"/>
<line x1="619.20" y1="46.81" x2="619.20" y2="51.79" stroke="#1010f0" stroke-width="0.9" />
<line x1="617.00" y1="46.81" x2="621.40" y2="46.81" stroke="#1010f0" stroke-width="0.9" />
<line x1="617.00" y1="51.79" x2="621.40" y2="51.79" stroke="#1010f0" stroke-width="0.9" />
<circle cx="618.6" cy="41.8" r="1.8" fill="#1010f0"/>
<circle cx="619" cy="49.3" r="1.8" fill="#1010f0"/>
<circle cx="619.4" cy="52.4" r="1.8" fill="#1010f0"/>
<circle cx="619.8" cy="55.5" r="1.8" fill="#1010f0"/>
<rect x="631.10" y="78.19" width="9.40" height="33.31" fill="#fff" stroke="#f02020" stroke-width="1.8"/>
<line x1="635.80" y1="75.42" x2="635.80" y2="79.16" stroke="#f02020" stroke-width="0.9" />
<line x1="633.60" y1="75.42" x2="638.00" y2="75.42" stroke="#f02020" stroke-width="0.9" />
<line x1="633.60" y1="79.16" x2="638.00" y2="79.16" stroke="#f02020" stroke-width="0.9" />
<circle cx="635.2" cy="74.2" r="1.8" fill="#f02020"/>
<circle cx="635.6" cy="75.4" r="1.8" fill="#f02020"/>
<circle cx="636" cy="79.2" r="1.8" fill="#f02020"/>
<circle cx="636.4" cy="80.4" r="1.8" fill="#f02020"/>
<rect x="647.70" y="43.98" width="9.40" height="67.52" fill="#fff" stroke="#40d020" stroke-width="1.8"/>
<line x1="652.40" y1="34.37" x2="652.40" y2="51.79" stroke="#40d020" stroke-width="0.9" />
<line x1="650.20" y1="34.37" x2="654.60" y2="34.37" stroke="#40d020" stroke-width="0.9" />
<line x1="650.20" y1="51.79" x2="654.60" y2="51.79" stroke="#40d020" stroke-width="0.9" />
<circle cx="651.8" cy="30.6" r="1.8" fill="#40d020"/>
<circle cx="652.2" cy="31.3" r="1.8" fill="#40d020"/>
<circle cx="652.6" cy="54.3" r="1.8" fill="#40d020"/>
<circle cx="653" cy="55.5" r="1.8" fill="#40d020"/>
<line x1="635.80" y1="111.50" x2="635.80" y2="115.50" stroke="#111" stroke-width="1.2" />
<text x="636.10" y="123.80" font-size="8" font-weight="bold" font-style="normal" text-anchor="middle" fill="#111" >Syn1</text>
<line x1="615.80" y1="24.70" x2="632.80" y2="24.70" stroke="#111" stroke-width="1.5" />
<line x1="637.30" y1="24.70" x2="653.80" y2="24.70" stroke="#111" stroke-width="1.5" />
<path d="M617.7 15v5.3M615.4 16.3l4.6 2.6M615.4 18.9l4.6 -2.6M624.3 15v5.3M622 16.3l4.6 2.6M622 18.9l4.6 -2.6M630.9 15v5.3M628.6 16.3l4.6 2.6M628.6 18.9l4.6 -2.6" stroke="#111" stroke-width="1.35" fill="none"/>
<path d="M642.3 15v5.3M640 16.3l4.6 2.6M640 18.9l4.6 -2.6M648.9 15v5.3M646.6 16.3l4.6 2.6M646.6 18.9l4.6 -2.6" stroke="#111" stroke-width="1.35" fill="none"/>
<text x="377.50" y="155.80" font-size="18" font-weight="bold" font-style="normal" text-anchor="start" fill="#111" >c</text>
<line x1="424.60" y1="158.60" x2="424.60" y2="254.40" stroke="#111" stroke-width="1.2" />
<line x1="424.00" y1="253.80" x2="669.00" y2="253.80" stroke="#111" stroke-width="1.2" />
<line x1="421.60" y1="253.80" x2="424.60" y2="253.80" stroke="#111" stroke-width="1.2" />
<text x="420.40" y="256.35" font-size="7.5" font-weight="bold" font-style="normal" text-anchor="end" fill="#111" >0.0</text>
<line x1="421.60" y1="230.00" x2="424.60" y2="230.00" stroke="#111" stroke-width="1.2" />
<text x="420.40" y="232.55" font-size="7.5" font-weight="bold" font-style="normal" text-anchor="end" fill="#111" >0.5</text>
<line x1="421.60" y1="206.20" x2="424.60" y2="206.20" stroke="#111" stroke-width="1.2" />
<text x="420.40" y="208.75" font-size="7.5" font-weight="bold" font-style="normal" text-anchor="end" fill="#111" >1.0</text>
<line x1="421.60" y1="182.40" x2="424.60" y2="182.40" stroke="#111" stroke-width="1.2" />
<text x="420.40" y="184.95" font-size="7.5" font-weight="bold" font-style="normal" text-anchor="end" fill="#111" >1.5</text>
<line x1="421.60" y1="158.60" x2="424.60" y2="158.60" stroke="#111" stroke-width="1.2" />
<text x="420.40" y="161.15" font-size="7.5" font-weight="bold" font-style="normal" text-anchor="end" fill="#111" >2.0</text>
<line x1="425.50" y1="206.20" x2="668.00" y2="206.20" stroke="#222" stroke-width="0.9" stroke-dasharray="1 2"/>
<text transform="translate(403.50,205.00) rotate(-90)" x="0" y="0" font-size="7.6" font-weight="bold" font-style="normal" text-anchor="middle" dominant-baseline="central" fill="#111">Relative mRNA levels</text>
<circle cx="448.2" cy="145.4" r="1.7" fill="#1010f0"/>
<text x="459.00" y="148.80" font-size="9" font-weight="bold" font-style="normal" text-anchor="start" fill="#111" >WT</text>
<circle cx="505" cy="145.4" r="1.7" fill="#f02020"/>
<text x="515.80" y="148.80" font-size="9" font-weight="bold" font-style="normal" text-anchor="start" fill="#111" >3xTg-AD</text>
<circle cx="565.4" cy="145.4" r="1.7" fill="#40d020"/>
<text x="577.00" y="148.80" font-size="9" font-weight="bold" font-style="normal" text-anchor="start" fill="#111" >3xTg-AD+β-OHB</text>
<rect x="431.50" y="207.00" width="9.20" height="46.80" fill="#fff" stroke="#1010f0" stroke-width="1.6"/>
<line x1="436.10" y1="205.25" x2="436.10" y2="207.15" stroke="#1010f0" stroke-width="0.9" />
<line x1="433.90" y1="205.25" x2="438.30" y2="205.25" stroke="#1010f0" stroke-width="0.9" />
<line x1="433.90" y1="207.15" x2="438.30" y2="207.15" stroke="#1010f0" stroke-width="0.9" />
<circle cx="431.9" cy="202.9" r="1.6" fill="#1010f0"/>
<circle cx="434" cy="204.3" r="1.6" fill="#1010f0"/>
<circle cx="436.1" cy="205.2" r="1.6" fill="#1010f0"/>
<circle cx="438.2" cy="207.6" r="1.6" fill="#1010f0"/>
<circle cx="440.3" cy="209.5" r="1.6" fill="#1010f0"/>
<rect x="448.40" y="216.04" width="9.20" height="37.76" fill="#fff" stroke="#f02020" stroke-width="1.6"/>
<line x1="453.00" y1="212.86" x2="453.00" y2="217.62" stroke="#f02020" stroke-width="0.9" />
<line x1="450.80" y1="212.86" x2="455.20" y2="212.86" stroke="#f02020" stroke-width="0.9" />
<line x1="450.80" y1="217.62" x2="455.20" y2="217.62" stroke="#f02020" stroke-width="0.9" />
<circle cx="448.8" cy="206.2" r="1.6" fill="#f02020"/>
<circle cx="450.9" cy="211" r="1.6" fill="#f02020"/>
<circle cx="453" cy="215.7" r="1.6" fill="#f02020"/>
<circle cx="455.1" cy="219.5" r="1.6" fill="#f02020"/>
<circle cx="457.2" cy="221.4" r="1.6" fill="#f02020"/>
<rect x="465.30" y="205.10" width="9.20" height="48.70" fill="#fff" stroke="#40d020" stroke-width="1.6"/>
<line x1="469.90" y1="202.87" x2="469.90" y2="205.72" stroke="#40d020" stroke-width="0.9" />
<line x1="467.70" y1="202.87" x2="472.10" y2="202.87" stroke="#40d020" stroke-width="0.9" />
<line x1="467.70" y1="205.72" x2="472.10" y2="205.72" stroke="#40d020" stroke-width="0.9" />
<circle cx="465.7" cy="200.5" r="1.6" fill="#40d020"/>
<circle cx="467.8" cy="201.4" r="1.6" fill="#40d020"/>
<circle cx="469.9" cy="203.8" r="1.6" fill="#40d020"/>
<circle cx="472" cy="205.2" r="1.6" fill="#40d020"/>
<circle cx="474.1" cy="209.5" r="1.6" fill="#40d020"/>
<line x1="453.00" y1="253.80" x2="453.00" y2="257.80" stroke="#111" stroke-width="1.2" />
<text x="453.00" y="266.20" font-size="7.6" font-weight="bold" font-style="italic" text-anchor="middle" fill="#111" >Glun1</text>
<line x1="435.50" y1="167.40" x2="451.50" y2="167.40" stroke="#111" stroke-width="1.5" />
<line x1="455.00" y1="167.40" x2="471.50" y2="167.40" stroke="#111" stroke-width="1.5" />
<path d="M443.5 157.8v5.3M441.2 159.2l4.6 2.6M441.2 161.8l4.6 -2.6" stroke="#111" stroke-width="1.35" fill="none"/>
<path d="M463.2 157.8v5.3M460.9 159.2l4.6 2.6M460.9 161.8l4.6 -2.6" stroke="#111" stroke-width="1.35" fill="none"/>
<rect x="493.90" y="207.00" width="9.20" height="46.80" fill="#fff" stroke="#1010f0" stroke-width="1.6"/>
<line x1="498.50" y1="204.30" x2="498.50" y2="208.10" stroke="#1010f0" stroke-width="0.9" />
<line x1="496.30" y1="204.30" x2="500.70" y2="204.30" stroke="#1010f0" stroke-width="0.9" />
<line x1="496.30" y1="208.10" x2="500.70" y2="208.10" stroke="#1010f0" stroke-width="0.9" />
<circle cx="494.3" cy="199.1" r="1.6" fill="#1010f0"/>
<circle cx="496.4" cy="203.8" r="1.6" fill="#1010f0"/>
<circle cx="498.5" cy="206.2" r="1.6" fill="#1010f0"/>
<circle cx="500.6" cy="208.6" r="1.6" fill="#1010f0"/>
<circle cx="502.7" cy="209.5" r="1.6" fill="#1010f0"/>
<rect x="510.80" y="246.98" width="9.20" height="6.82" fill="#fff" stroke="#f02020" stroke-width="1.6"/>
<line x1="515.40" y1="242.38" x2="515.40" y2="249.99" stroke="#f02020" stroke-width="0.9" />
<line x1="513.20" y1="242.38" x2="517.60" y2="242.38" stroke="#f02020" stroke-width="0.9" />
<line x1="513.20" y1="249.99" x2="517.60" y2="249.99" stroke="#f02020" stroke-width="0.9" />
<circle cx="511.2" cy="231.4" r="1.6" fill="#f02020"/>
<circle cx="513.3" cy="244.3" r="1.6" fill="#f02020"/>
<circle cx="515.4" cy="248.1" r="1.6" fill="#f02020"/>
<circle cx="517.5" cy="250" r="1.6" fill="#f02020"/>
<circle cx="519.6" cy="250.9" r="1.6" fill="#f02020"/>
<rect x="527.70" y="219.85" width="9.20" height="33.95" fill="#fff" stroke="#40d020" stroke-width="1.6"/>
<line x1="532.30" y1="211.91" x2="532.30" y2="226.19" stroke="#40d020" stroke-width="0.9" />
<line x1="530.10" y1="211.91" x2="534.50" y2="211.91" stroke="#40d020" stroke-width="0.9" />
<line x1="530.10" y1="226.19" x2="534.50" y2="226.19" stroke="#40d020" stroke-width="0.9" />
<circle cx="528.1" cy="201.4" r="1.6" fill="#40d020"/>
<circle cx="530.2" cy="211" r="1.6" fill="#40d020"/>
<circle cx="532.3" cy="211" r="1.6" fill="#40d020"/>
<circle cx="534.4" cy="225.2" r="1.6" fill="#40d020"/>
<circle cx="536.5" cy="239.5" r="1.6" fill="#40d020"/>
<line x1="515.40" y1="253.80" x2="515.40" y2="257.80" stroke="#111" stroke-width="1.2" />
<text x="515.40" y="266.20" font-size="7.6" font-weight="bold" font-style="italic" text-anchor="middle" fill="#111" >Glun2A</text>
<line x1="497.90" y1="167.40" x2="513.90" y2="167.40" stroke="#111" stroke-width="1.5" />
<line x1="517.40" y1="167.40" x2="533.90" y2="167.40" stroke="#111" stroke-width="1.5" />
<path d="M499.3 157.8v5.3M497 159.2l4.6 2.6M497 161.8l4.6 -2.6M505.9 157.8v5.3M503.6 159.2l4.6 2.6M503.6 161.8l4.6 -2.6M512.5 157.8v5.3M510.2 159.2l4.6 2.6M510.2 161.8l4.6 -2.6" stroke="#111" stroke-width="1.35" fill="none"/>
<path d="M525.6 157.8v5.3M523.3 159.2l4.6 2.6M523.3 161.8l4.6 -2.6" stroke="#111" stroke-width="1.35" fill="none"/>
<rect x="556.50" y="207.00" width="9.20" height="46.80" fill="#fff" stroke="#1010f0" stroke-width="1.6"/>
<line x1="561.10" y1="199.06" x2="561.10" y2="213.34" stroke="#1010f0" stroke-width="0.9" />
<line x1="558.90" y1="199.06" x2="563.30" y2="199.06" stroke="#1010f0" stroke-width="0.9" />
<line x1="558.90" y1="213.34" x2="563.30" y2="213.34" stroke="#1010f0" stroke-width="0.9" />
<circle cx="556.9" cy="183.8" r="1.6" fill="#1010f0"/>
<circle cx="559" cy="192.4" r="1.6" fill="#1010f0"/>
<circle cx="561.1" cy="196.7" r="1.6" fill="#1010f0"/>
<circle cx="563.2" cy="225.2" r="1.6" fill="#1010f0"/>
<circle cx="565.3" cy="225.2" r="1.6" fill="#1010f0"/>
<rect x="573.40" y="236.99" width="9.20" height="16.81" fill="#fff" stroke="#f02020" stroke-width="1.6"/>
<line x1="578.00" y1="233.33" x2="578.00" y2="239.04" stroke="#f02020" stroke-width="0.9" />
<line x1="575.80" y1="233.33" x2="580.20" y2="233.33" stroke="#f02020" stroke-width="0.9" />
<line x1="575.80" y1="239.04" x2="580.20" y2="239.04" stroke="#f02020" stroke-width="0.9" />
<circle cx="573.8" cy="225.2" r="1.6" fill="#f02020"/>
<circle cx="575.9" cy="232.4" r="1.6" fill="#f02020"/>
<circle cx="578" cy="237.1" r="1.6" fill="#f02020"/>
<circle cx="580.1" cy="239.5" r="1.6" fill="#f02020"/>
<circle cx="582.2" cy="240.5" r="1.6" fill="#f02020"/>
<rect x="590.30" y="198.43" width="9.20" height="55.37" fill="#fff" stroke="#40d020" stroke-width="1.6"/>
<line x1="594.90" y1="185.73" x2="594.90" y2="209.53" stroke="#40d020" stroke-width="0.9" />
<line x1="592.70" y1="185.73" x2="597.10" y2="185.73" stroke="#40d020" stroke-width="0.9" />
<line x1="592.70" y1="209.53" x2="597.10" y2="209.53" stroke="#40d020" stroke-width="0.9" />
<circle cx="590.7" cy="170.5" r="1.6" fill="#40d020"/>
<circle cx="592.8" cy="172.9" r="1.6" fill="#40d020"/>
<circle cx="594.9" cy="191.9" r="1.6" fill="#40d020"/>
<circle cx="597" cy="225.2" r="1.6" fill="#40d020"/>
<circle cx="599.1" cy="243.3" r="1.6" fill="#40d020"/>
<line x1="578.00" y1="253.80" x2="578.00" y2="257.80" stroke="#111" stroke-width="1.2" />
<text x="578.00" y="266.20" font-size="7.6" font-weight="bold" font-style="italic" text-anchor="middle" fill="#111" >Glun2B</text>
<line x1="560.50" y1="167.40" x2="576.50" y2="167.40" stroke="#111" stroke-width="1.5" />
<line x1="580.00" y1="167.40" x2="596.50" y2="167.40" stroke="#111" stroke-width="1.5" />
<path d="M568.5 157.8v5.3M566.2 159.2l4.6 2.6M566.2 161.8l4.6 -2.6" stroke="#111" stroke-width="1.35" fill="none"/>
<path d="M588.2 157.8v5.3M585.9 159.2l4.6 2.6M585.9 161.8l4.6 -2.6" stroke="#111" stroke-width="1.35" fill="none"/>
<rect x="619.30" y="207.00" width="9.20" height="46.80" fill="#fff" stroke="#1010f0" stroke-width="1.6"/>
<line x1="623.90" y1="201.44" x2="623.90" y2="210.96" stroke="#1010f0" stroke-width="0.9" />
<line x1="621.70" y1="201.44" x2="626.10" y2="201.44" stroke="#1010f0" stroke-width="0.9" />
<line x1="621.70" y1="210.96" x2="626.10" y2="210.96" stroke="#1010f0" stroke-width="0.9" />
<circle cx="619.7" cy="190.5" r="1.6" fill="#1010f0"/>
<circle cx="621.8" cy="199.1" r="1.6" fill="#1010f0"/>
<circle cx="623.9" cy="213.3" r="1.6" fill="#1010f0"/>
<circle cx="626" cy="214.3" r="1.6" fill="#1010f0"/>
<circle cx="628.1" cy="214.8" r="1.6" fill="#1010f0"/>
<rect x="636.20" y="233.18" width="9.20" height="20.62" fill="#fff" stroke="#f02020" stroke-width="1.6"/>
<line x1="640.80" y1="227.62" x2="640.80" y2="237.14" stroke="#f02020" stroke-width="0.9" />
<line x1="638.60" y1="227.62" x2="643.00" y2="227.62" stroke="#f02020" stroke-width="0.9" />
<line x1="638.60" y1="237.14" x2="643.00" y2="237.14" stroke="#f02020" stroke-width="0.9" />
<circle cx="636.6" cy="222.4" r="1.6" fill="#f02020"/>
<circle cx="638.7" cy="223.8" r="1.6" fill="#f02020"/>
<circle cx="640.8" cy="232.4" r="1.6" fill="#f02020"/>
<circle cx="642.9" cy="240.5" r="1.6" fill="#f02020"/>
<circle cx="645" cy="241.9" r="1.6" fill="#f02020"/>
<rect x="653.10" y="219.14" width="9.20" height="34.66" fill="#fff" stroke="#40d020" stroke-width="1.6"/>
<line x1="657.70" y1="216.91" x2="657.70" y2="219.77" stroke="#40d020" stroke-width="0.9" />
<line x1="655.50" y1="216.91" x2="659.90" y2="216.91" stroke="#40d020" stroke-width="0.9" />
<line x1="655.50" y1="219.77" x2="659.90" y2="219.77" stroke="#40d020" stroke-width="0.9" />
<circle cx="653.5" cy="214.8" r="1.6" fill="#40d020"/>
<circle cx="655.6" cy="216.7" r="1.6" fill="#40d020"/>
<circle cx="657.7" cy="219.5" r="1.6" fill="#40d020"/>
<circle cx="659.8" cy="220.5" r="1.6" fill="#40d020"/>
<circle cx="661.9" cy="219.5" r="1.6" fill="#40d020"/>
<line x1="640.80" y1="253.80" x2="640.80" y2="257.80" stroke="#111" stroke-width="1.2" />
<text x="640.80" y="266.20" font-size="7.6" font-weight="bold" font-style="italic" text-anchor="middle" fill="#111" >Syn1</text>
<line x1="623.30" y1="167.40" x2="639.30" y2="167.40" stroke="#111" stroke-width="1.5" />
<line x1="642.80" y1="167.40" x2="659.30" y2="167.40" stroke="#111" stroke-width="1.5" />
<path d="M628 157.8v5.3M625.7 159.2l4.6 2.6M625.7 161.8l4.6 -2.6M634.6 157.8v5.3M632.3 159.2l4.6 2.6M632.3 161.8l4.6 -2.6" stroke="#111" stroke-width="1.35" fill="none"/>
<path d="M651 157.8v5.3M648.7 159.2l4.6 2.6M648.7 161.8l4.6 -2.6" stroke="#111" stroke-width="1.35" fill="none"/>
<text x="2.40" y="293.60" font-size="18" font-weight="bold" font-style="normal" text-anchor="start" fill="#111" >d</text>
<line x1="50.30" y1="326.25" x2="50.30" y2="420.55" stroke="#111" stroke-width="1.1" />
<line x1="49.75" y1="420.00" x2="125.00" y2="420.00" stroke="#111" stroke-width="1.1" />
<line x1="47.10" y1="420.00" x2="50.30" y2="420.00" stroke="#111" stroke-width="1.1" />
<text x="45.90" y="422.72" font-size="8" font-weight="bold" font-style="normal" text-anchor="end" fill="#111" >0.0</text>
<line x1="47.10" y1="388.75" x2="50.30" y2="388.75" stroke="#111" stroke-width="1.1" />
<text x="45.90" y="391.47" font-size="8" font-weight="bold" font-style="normal" text-anchor="end" fill="#111" >0.5</text>
<line x1="47.10" y1="357.50" x2="50.30" y2="357.50" stroke="#111" stroke-width="1.1" />
<text x="45.90" y="360.22" font-size="8" font-weight="bold" font-style="normal" text-anchor="end" fill="#111" >1.0</text>
<line x1="47.10" y1="326.25" x2="50.30" y2="326.25" stroke="#111" stroke-width="1.1" />
<text x="45.90" y="328.97" font-size="8" font-weight="bold" font-style="normal" text-anchor="end" fill="#111" >1.5</text>
<line x1="51.30" y1="357.50" x2="125.00" y2="357.50" stroke="#222" stroke-width="0.9" stroke-dasharray="1 2"/>
<rect x="58.70" y="358.30" width="12.60" height="61.70" fill="#fff" stroke="#1010f0" stroke-width="1.6"/>
<line x1="65.00" y1="352.50" x2="65.00" y2="362.50" stroke="#1010f0" stroke-width="0.9" />
<line x1="62.20" y1="352.50" x2="67.80" y2="352.50" stroke="#1010f0" stroke-width="0.9" />
<line x1="62.20" y1="362.50" x2="67.80" y2="362.50" stroke="#1010f0" stroke-width="0.9" />
<circle cx="60.4" cy="345.6" r="1.8" fill="#1010f0"/>
<circle cx="62.7" cy="348.1" r="1.8" fill="#1010f0"/>
<circle cx="65" cy="360.6" r="1.8" fill="#1010f0"/>
<circle cx="67.3" cy="363.8" r="1.8" fill="#1010f0"/>
<circle cx="69.6" cy="372.5" r="1.8" fill="#1010f0"/>
<rect x="81.10" y="395.80" width="12.40" height="24.20" fill="#fff" stroke="#f02020" stroke-width="1.6"/>
<line x1="87.30" y1="389.38" x2="87.30" y2="400.62" stroke="#f02020" stroke-width="0.9" />
<line x1="84.50" y1="389.38" x2="90.10" y2="389.38" stroke="#f02020" stroke-width="0.9" />
<line x1="84.50" y1="400.62" x2="90.10" y2="400.62" stroke="#f02020" stroke-width="0.9" />
<circle cx="82.7" cy="379.4" r="1.8" fill="#f02020"/>
<circle cx="85" cy="385.6" r="1.8" fill="#f02020"/>
<circle cx="87.3" cy="398.1" r="1.8" fill="#f02020"/>
<circle cx="89.6" cy="403.1" r="1.8" fill="#f02020"/>
<circle cx="91.9" cy="403.1" r="1.8" fill="#f02020"/>
<rect x="103.30" y="380.18" width="12.20" height="39.83" fill="#fff" stroke="#40d020" stroke-width="1.6"/>
<line x1="109.40" y1="372.50" x2="109.40" y2="386.25" stroke="#40d020" stroke-width="0.9" />
<line x1="106.60" y1="372.50" x2="112.20" y2="372.50" stroke="#40d020" stroke-width="0.9" />
<line x1="106.60" y1="386.25" x2="112.20" y2="386.25" stroke="#40d020" stroke-width="0.9" />
<circle cx="104.8" cy="357.5" r="1.8" fill="#40d020"/>
<circle cx="107.1" cy="376.2" r="1.8" fill="#40d020"/>
<circle cx="109.4" cy="382.5" r="1.8" fill="#40d020"/>
<circle cx="111.7" cy="385.6" r="1.8" fill="#40d020"/>
<circle cx="114" cy="393.8" r="1.8" fill="#40d020"/>
<polyline points="64.5,339.5 64.5,334.2 85.4,334.2 85.4,373.7" fill="none" stroke="#111" stroke-width="1.1"/>
<polyline points="89.6,373.7 89.6,334.2 109.7,334.2 109.7,351" fill="none" stroke="#111" stroke-width="1.1"/>
<path d="M71.8 325v5.2M69.5 326.3l4.5 2.6M69.5 328.9l4.5 -2.6M78.2 325v5.2M75.9 326.3l4.5 2.6M75.9 328.9l4.5 -2.6" stroke="#111" stroke-width="1.35" fill="none"/>
<text x="99.50" y="330.00" font-size="7.5" font-weight="normal" font-style="normal" text-anchor="middle" fill="#111" >ns</text>
<text x="86.20" y="294.6" font-size="9.3" font-weight="bold" text-anchor="middle" fill="#111"><tspan font-style="italic">Glun1</tspan> promoter</text>
<rect x="39.40" y="309.80" width="83.80" height="5.40" fill="#fff" stroke="#333" stroke-width="0.9" />
<rect x="53.50" y="309.80" width="12.90" height="5.40" fill="#a7c7e4" stroke="#333" stroke-width="0.9" />
<text x="43.30" y="306.30" font-size="7.2" font-weight="bold" font-style="normal" text-anchor="start" fill="#111" >-1657 -1507</text>
<text x="121.50" y="306.30" font-size="7.6" font-weight="bold" font-style="normal" text-anchor="start" fill="#111" >0</text>
<text x="117.00" y="323.20" font-size="7.6" font-weight="bold" font-style="normal" text-anchor="start" fill="#111" >TSS</text>
<text transform="translate(17.00,373.00) rotate(-90)" x="0" y="0" font-size="6.9" font-weight="bold" font-style="normal" text-anchor="middle" dominant-baseline="central" fill="#111">H3K9bhb at Glun1 promoter</text>
<text transform="translate(26.60,373.00) rotate(-90)" x="0" y="0" font-size="6.9" font-weight="bold" font-style="normal" text-anchor="middle" dominant-baseline="central" fill="#111">(% of Input)</text>
<line x1="173.60" y1="328.25" x2="173.60" y2="420.15" stroke="#111" stroke-width="1.1" />
<line x1="173.05" y1="419.60" x2="254.30" y2="419.60" stroke="#111" stroke-width="1.1" />
<line x1="170.40" y1="419.60" x2="173.60" y2="419.60" stroke="#111" stroke-width="1.1" />
<text x="169.20" y="422.32" font-size="8" font-weight="bold" font-style="normal" text-anchor="end" fill="#111" >0.0</text>
<line x1="170.40" y1="389.15" x2="173.60" y2="389.15" stroke="#111" stroke-width="1.1" />
<text x="169.20" y="391.87" font-size="8" font-weight="bold" font-style="normal" text-anchor="end" fill="#111" >0.5</text>
<line x1="170.40" y1="358.70" x2="173.60" y2="358.70" stroke="#111" stroke-width="1.1" />
<text x="169.20" y="361.42" font-size="8" font-weight="bold" font-style="normal" text-anchor="end" fill="#111" >1.0</text>
<line x1="170.40" y1="328.25" x2="173.60" y2="328.25" stroke="#111" stroke-width="1.1" />
<text x="169.20" y="330.97" font-size="8" font-weight="bold" font-style="normal" text-anchor="end" fill="#111" >1.5</text>
<line x1="174.60" y1="358.70" x2="254.30" y2="358.70" stroke="#222" stroke-width="0.9" stroke-dasharray="1 2"/>
<rect x="183.00" y="359.50" width="13.00" height="60.10" fill="#fff" stroke="#1010f0" stroke-width="1.6"/>
<line x1="189.50" y1="353.83" x2="189.50" y2="363.57" stroke="#1010f0" stroke-width="0.9" />
<line x1="186.70" y1="353.83" x2="192.30" y2="353.83" stroke="#1010f0" stroke-width="0.9" />
<line x1="186.70" y1="363.57" x2="192.30" y2="363.57" stroke="#1010f0" stroke-width="0.9" />
<circle cx="184.9" cy="345.3" r="1.8" fill="#1010f0"/>
<circle cx="187.2" cy="347.7" r="1.8" fill="#1010f0"/>
<circle cx="189.5" cy="361.7" r="1.8" fill="#1010f0"/>
<circle cx="191.8" cy="369.7" r="1.8" fill="#1010f0"/>
<circle cx="194.1" cy="370.9" r="1.8" fill="#1010f0"/>
<rect x="207.10" y="402.13" width="13.60" height="17.47" fill="#fff" stroke="#f02020" stroke-width="1.6"/>
<line x1="213.90" y1="398.29" x2="213.90" y2="404.38" stroke="#f02020" stroke-width="0.9" />
<line x1="211.10" y1="398.29" x2="216.70" y2="398.29" stroke="#f02020" stroke-width="0.9" />
<line x1="211.10" y1="404.38" x2="216.70" y2="404.38" stroke="#f02020" stroke-width="0.9" />
<circle cx="209.3" cy="394" r="1.8" fill="#f02020"/>
<circle cx="211.6" cy="395.2" r="1.8" fill="#f02020"/>
<circle cx="213.9" cy="398.3" r="1.8" fill="#f02020"/>
<circle cx="216.2" cy="404.4" r="1.8" fill="#f02020"/>
<circle cx="218.5" cy="407.4" r="1.8" fill="#f02020"/>
<rect x="231.00" y="364.98" width="13.60" height="54.62" fill="#fff" stroke="#40d020" stroke-width="1.6"/>
<line x1="237.80" y1="355.66" x2="237.80" y2="372.71" stroke="#40d020" stroke-width="0.9" />
<line x1="235.00" y1="355.66" x2="240.60" y2="355.66" stroke="#40d020" stroke-width="0.9" />
<line x1="235.00" y1="372.71" x2="240.60" y2="372.71" stroke="#40d020" stroke-width="0.9" />
<circle cx="233.2" cy="339.2" r="1.8" fill="#40d020"/>
<circle cx="235.5" cy="355.7" r="1.8" fill="#40d020"/>
<circle cx="237.8" cy="363.6" r="1.8" fill="#40d020"/>
<circle cx="240.1" cy="373.3" r="1.8" fill="#40d020"/>
<circle cx="242.4" cy="385.5" r="1.8" fill="#40d020"/>
<polyline points="189.2,339 189.2,328.5 211.6,328.5 211.6,389.3" fill="none" stroke="#111" stroke-width="1.1"/>
<polyline points="215.4,389.3 215.4,328.5 238.2,328.5 238.2,334.2" fill="none" stroke="#111" stroke-width="1.1"/>
<path d="M194.3 319.3v5.2M192 320.6l4.5 2.6M192 323.2l4.5 -2.6M200.7 319.3v5.2M198.4 320.6l4.5 2.6M198.4 323.2l4.5 -2.6M207.1 319.3v5.2M204.8 320.6l4.5 2.6M204.8 323.2l4.5 -2.6" stroke="#111" stroke-width="1.35" fill="none"/>
<path d="M223.8 319.3v5.2M221.5 320.6l4.5 2.6M221.5 323.2l4.5 -2.6M230.2 319.3v5.2M227.9 320.6l4.5 2.6M227.9 323.2l4.5 -2.6" stroke="#111" stroke-width="1.35" fill="none"/>
<text x="212.05" y="294.6" font-size="9.3" font-weight="bold" text-anchor="middle" fill="#111"><tspan font-style="italic">Glun2A</tspan> promoter</text>
<rect x="161.80" y="309.80" width="83.90" height="5.40" fill="#fff" stroke="#333" stroke-width="0.9" />
<rect x="173.60" y="309.80" width="13.00" height="5.40" fill="#a7c7e4" stroke="#333" stroke-width="0.9" />
<text x="162.80" y="306.30" font-size="7.2" font-weight="bold" font-style="normal" text-anchor="start" fill="#111" >-1777 -1596</text>
<text x="244.80" y="306.30" font-size="7.6" font-weight="bold" font-style="normal" text-anchor="start" fill="#111" >0</text>
<text x="239.70" y="323.20" font-size="7.6" font-weight="bold" font-style="normal" text-anchor="start" fill="#111" >TSS</text>
<text transform="translate(142.90,373.00) rotate(-90)" x="0" y="0" font-size="6.9" font-weight="bold" font-style="normal" text-anchor="middle" dominant-baseline="central" fill="#111">H3K9bhb at Glun2A promoter</text>
<text transform="translate(152.40,373.00) rotate(-90)" x="0" y="0" font-size="6.9" font-weight="bold" font-style="normal" text-anchor="middle" dominant-baseline="central" fill="#111">(% of Input)</text>
<line x1="304.50" y1="329.60" x2="304.50" y2="420.15" stroke="#111" stroke-width="1.1" />
<line x1="303.95" y1="419.60" x2="379.60" y2="419.60" stroke="#111" stroke-width="1.1" />
<line x1="301.30" y1="419.60" x2="304.50" y2="419.60" stroke="#111" stroke-width="1.1" />
<text x="300.10" y="422.32" font-size="8" font-weight="bold" font-style="normal" text-anchor="end" fill="#111" >0.0</text>
<line x1="301.30" y1="389.60" x2="304.50" y2="389.60" stroke="#111" stroke-width="1.1" />
<text x="300.10" y="392.32" font-size="8" font-weight="bold" font-style="normal" text-anchor="end" fill="#111" >0.5</text>
<line x1="301.30" y1="359.60" x2="304.50" y2="359.60" stroke="#111" stroke-width="1.1" />
<text x="300.10" y="362.32" font-size="8" font-weight="bold" font-style="normal" text-anchor="end" fill="#111" >1.0</text>
<line x1="301.30" y1="329.60" x2="304.50" y2="329.60" stroke="#111" stroke-width="1.1" />
<text x="300.10" y="332.32" font-size="8" font-weight="bold" font-style="normal" text-anchor="end" fill="#111" >1.5</text>
<line x1="305.50" y1="359.60" x2="379.60" y2="359.60" stroke="#222" stroke-width="0.9" stroke-dasharray="1 2"/>
<rect x="312.40" y="360.40" width="13.20" height="59.20" fill="#fff" stroke="#1010f0" stroke-width="1.6"/>
<line x1="319.00" y1="354.20" x2="319.00" y2="365.00" stroke="#1010f0" stroke-width="0.9" />
<line x1="316.20" y1="354.20" x2="321.80" y2="354.20" stroke="#1010f0" stroke-width="0.9" />
<line x1="316.20" y1="365.00" x2="321.80" y2="365.00" stroke="#1010f0" stroke-width="0.9" />
<circle cx="314.4" cy="342.8" r="1.8" fill="#1010f0"/>
<circle cx="316.7" cy="353.6" r="1.8" fill="#1010f0"/>
<circle cx="319" cy="360.8" r="1.8" fill="#1010f0"/>
<circle cx="321.3" cy="365.6" r="1.8" fill="#1010f0"/>
<circle cx="323.6" cy="377.6" r="1.8" fill="#1010f0"/>
<rect x="335.20" y="387.40" width="12.80" height="32.20" fill="#fff" stroke="#f02020" stroke-width="1.6"/>
<line x1="341.60" y1="384.80" x2="341.60" y2="388.40" stroke="#f02020" stroke-width="0.9" />
<line x1="338.80" y1="384.80" x2="344.40" y2="384.80" stroke="#f02020" stroke-width="0.9" />
<line x1="338.80" y1="388.40" x2="344.40" y2="388.40" stroke="#f02020" stroke-width="0.9" />
<circle cx="337" cy="382.4" r="1.8" fill="#f02020"/>
<circle cx="339.3" cy="383.6" r="1.8" fill="#f02020"/>
<circle cx="341.6" cy="385.4" r="1.8" fill="#f02020"/>
<circle cx="343.9" cy="388.4" r="1.8" fill="#f02020"/>
<circle cx="346.2" cy="388.4" r="1.8" fill="#f02020"/>
<rect x="358.00" y="370.60" width="12.20" height="49.00" fill="#fff" stroke="#40d020" stroke-width="1.6"/>
<line x1="364.10" y1="365.60" x2="364.10" y2="374.00" stroke="#40d020" stroke-width="0.9" />
<line x1="361.30" y1="365.60" x2="366.90" y2="365.60" stroke="#40d020" stroke-width="0.9" />
<line x1="361.30" y1="374.00" x2="366.90" y2="374.00" stroke="#40d020" stroke-width="0.9" />
<circle cx="359.5" cy="355.4" r="1.8" fill="#40d020"/>
<circle cx="361.8" cy="365.6" r="1.8" fill="#40d020"/>
<circle cx="364.1" cy="370.4" r="1.8" fill="#40d020"/>
<circle cx="366.4" cy="377.6" r="1.8" fill="#40d020"/>
<circle cx="368.7" cy="378.8" r="1.8" fill="#40d020"/>
<polyline points="318.8,336.7 318.8,331.4 339.7,331.4 339.7,377" fill="none" stroke="#111" stroke-width="1.1"/>
<polyline points="343.5,377 343.5,331.4 364.4,331.4 364.4,349.4" fill="none" stroke="#111" stroke-width="1.1"/>
<path d="M326.1 322.2v5.2M323.8 323.5l4.5 2.6M323.8 326.1l4.5 -2.6M332.5 322.2v5.2M330.2 323.5l4.5 2.6M330.2 326.1l4.5 -2.6" stroke="#111" stroke-width="1.35" fill="none"/>
<path d="M354.4 322.2v5.2M352.1 323.5l4.5 2.6M352.1 326.1l4.5 -2.6" stroke="#111" stroke-width="1.35" fill="none"/>
<text x="338.95" y="294.6" font-size="9.3" font-weight="bold" text-anchor="middle" fill="#111"><tspan font-style="italic">Glun2B</tspan> promoter</text>
<rect x="290.90" y="309.80" width="84.00" height="5.40" fill="#fff" stroke="#333" stroke-width="0.9" />
<rect x="312.20" y="309.80" width="13.30" height="5.40" fill="#a7c7e4" stroke="#333" stroke-width="0.9" />
<text x="303.30" y="306.30" font-size="7.2" font-weight="bold" font-style="normal" text-anchor="start" fill="#111" >-1493 -1289</text>
<text x="373.50" y="306.30" font-size="7.6" font-weight="bold" font-style="normal" text-anchor="start" fill="#111" >0</text>
<text x="365.90" y="323.20" font-size="7.6" font-weight="bold" font-style="normal" text-anchor="start" fill="#111" >TSS</text>
<text transform="translate(270.40,373.00) rotate(-90)" x="0" y="0" font-size="6.9" font-weight="bold" font-style="normal" text-anchor="middle" dominant-baseline="central" fill="#111">H3K9bhb at Glun2B promoter</text>
<text transform="translate(280.00,373.00) rotate(-90)" x="0" y="0" font-size="6.9" font-weight="bold" font-style="normal" text-anchor="middle" dominant-baseline="central" fill="#111">(% of Input)</text>
<line x1="432.10" y1="329.10" x2="432.10" y2="419.85" stroke="#111" stroke-width="1.1" />
<line x1="431.55" y1="419.30" x2="507.70" y2="419.30" stroke="#111" stroke-width="1.1" />
<line x1="428.90" y1="419.30" x2="432.10" y2="419.30" stroke="#111" stroke-width="1.1" />
<text x="427.70" y="422.02" font-size="8" font-weight="bold" font-style="normal" text-anchor="end" fill="#111" >0.0</text>
<line x1="428.90" y1="396.75" x2="432.10" y2="396.75" stroke="#111" stroke-width="1.1" />
<text x="427.70" y="399.47" font-size="8" font-weight="bold" font-style="normal" text-anchor="end" fill="#111" >0.5</text>
<line x1="428.90" y1="374.20" x2="432.10" y2="374.20" stroke="#111" stroke-width="1.1" />
<text x="427.70" y="376.92" font-size="8" font-weight="bold" font-style="normal" text-anchor="end" fill="#111" >1.0</text>
<line x1="428.90" y1="351.65" x2="432.10" y2="351.65" stroke="#111" stroke-width="1.1" />
<text x="427.70" y="354.37" font-size="8" font-weight="bold" font-style="normal" text-anchor="end" fill="#111" >1.5</text>
<line x1="428.90" y1="329.10" x2="432.10" y2="329.10" stroke="#111" stroke-width="1.1" />
<text x="427.70" y="331.82" font-size="8" font-weight="bold" font-style="normal" text-anchor="end" fill="#111" >2.0</text>
<line x1="433.10" y1="374.20" x2="507.70" y2="374.20" stroke="#222" stroke-width="0.9" stroke-dasharray="1 2"/>
<rect x="441.10" y="375.00" width="12.60" height="44.30" fill="#fff" stroke="#1010f0" stroke-width="1.6"/>
<line x1="447.40" y1="365.18" x2="447.40" y2="383.22" stroke="#1010f0" stroke-width="0.9" />
<line x1="444.60" y1="365.18" x2="450.20" y2="365.18" stroke="#1010f0" stroke-width="0.9" />
<line x1="444.60" y1="383.22" x2="450.20" y2="383.22" stroke="#1010f0" stroke-width="0.9" />
<circle cx="442.8" cy="351.6" r="1.8" fill="#1010f0"/>
<circle cx="445.1" cy="357.5" r="1.8" fill="#1010f0"/>
<circle cx="447.4" cy="376.5" r="1.8" fill="#1010f0"/>
<circle cx="449.7" cy="393.1" r="1.8" fill="#1010f0"/>
<circle cx="452" cy="393.1" r="1.8" fill="#1010f0"/>
<rect x="463.50" y="398.90" width="13.00" height="20.40" fill="#fff" stroke="#f02020" stroke-width="1.6"/>
<line x1="470.00" y1="395.40" x2="470.00" y2="400.81" stroke="#f02020" stroke-width="0.9" />
<line x1="467.20" y1="395.40" x2="472.80" y2="395.40" stroke="#f02020" stroke-width="0.9" />
<line x1="467.20" y1="400.81" x2="472.80" y2="400.81" stroke="#f02020" stroke-width="0.9" />
<circle cx="465.4" cy="390.9" r="1.8" fill="#f02020"/>
<circle cx="467.7" cy="395.8" r="1.8" fill="#f02020"/>
<circle cx="470" cy="399" r="1.8" fill="#f02020"/>
<circle cx="472.3" cy="401.3" r="1.8" fill="#f02020"/>
<circle cx="474.6" cy="405.8" r="1.8" fill="#f02020"/>
<rect x="486.10" y="368.24" width="12.80" height="51.07" fill="#fff" stroke="#40d020" stroke-width="1.6"/>
<line x1="492.50" y1="361.57" x2="492.50" y2="373.30" stroke="#40d020" stroke-width="0.9" />
<line x1="489.70" y1="361.57" x2="495.30" y2="361.57" stroke="#40d020" stroke-width="0.9" />
<line x1="489.70" y1="373.30" x2="495.30" y2="373.30" stroke="#40d020" stroke-width="0.9" />
<circle cx="487.9" cy="351.6" r="1.8" fill="#40d020"/>
<circle cx="490.2" cy="357.5" r="1.8" fill="#40d020"/>
<circle cx="492.5" cy="369.7" r="1.8" fill="#40d020"/>
<circle cx="494.8" cy="376.5" r="1.8" fill="#40d020"/>
<circle cx="497.1" cy="382.3" r="1.8" fill="#40d020"/>
<polyline points="446.9,345.6 446.9,339.6 467.4,339.6 467.4,384.5" fill="none" stroke="#111" stroke-width="1.1"/>
<polyline points="472,384.5 472,339.6 492.5,339.6 492.5,345.6" fill="none" stroke="#111" stroke-width="1.1"/>
<path d="M457.4 330.4v5.2M455.1 331.7l4.5 2.6M455.1 334.3l4.5 -2.6" stroke="#111" stroke-width="1.35" fill="none"/>
<path d="M482.4 330.4v5.2M480.1 331.7l4.5 2.6M480.1 334.3l4.5 -2.6" stroke="#111" stroke-width="1.35" fill="none"/>
<text x="465.40" y="294.6" font-size="9.3" font-weight="bold" text-anchor="middle" fill="#111"><tspan font-style="italic">Glun2C</tspan> promoter</text>
<rect x="417.60" y="309.80" width="83.50" height="5.40" fill="#fff" stroke="#333" stroke-width="0.9" />
<rect x="471.20" y="309.80" width="13.30" height="5.40" fill="#a7c7e4" stroke="#333" stroke-width="0.9" />
<text x="463.60" y="306.30" font-size="7.2" font-weight="bold" font-style="normal" text-anchor="start" fill="#111" >-718 -532</text>
<text x="499.70" y="306.30" font-size="7.6" font-weight="bold" font-style="normal" text-anchor="start" fill="#111" >0</text>
<text x="492.50" y="323.20" font-size="7.6" font-weight="bold" font-style="normal" text-anchor="start" fill="#111" >TSS</text>
<text transform="translate(399.50,373.00) rotate(-90)" x="0" y="0" font-size="6.9" font-weight="bold" font-style="normal" text-anchor="middle" dominant-baseline="central" fill="#111">H3K9bhb at Glun2C promoter</text>
<text transform="translate(409.00,373.00) rotate(-90)" x="0" y="0" font-size="6.9" font-weight="bold" font-style="normal" text-anchor="middle" dominant-baseline="central" fill="#111">(% of Input)</text>
<line x1="560.80" y1="327.60" x2="560.80" y2="419.65" stroke="#111" stroke-width="1.1" />
<line x1="560.25" y1="419.10" x2="637.70" y2="419.10" stroke="#111" stroke-width="1.1" />
<line x1="557.60" y1="419.10" x2="560.80" y2="419.10" stroke="#111" stroke-width="1.1" />
<text x="556.40" y="421.82" font-size="8" font-weight="bold" font-style="normal" text-anchor="end" fill="#111" >0.0</text>
<line x1="557.60" y1="396.23" x2="560.80" y2="396.23" stroke="#111" stroke-width="1.1" />
<text x="556.40" y="398.95" font-size="8" font-weight="bold" font-style="normal" text-anchor="end" fill="#111" >0.5</text>
<line x1="557.60" y1="373.35" x2="560.80" y2="373.35" stroke="#111" stroke-width="1.1" />
<text x="556.40" y="376.07" font-size="8" font-weight="bold" font-style="normal" text-anchor="end" fill="#111" >1.0</text>
<line x1="557.60" y1="350.48" x2="560.80" y2="350.48" stroke="#111" stroke-width="1.1" />
<text x="556.40" y="353.20" font-size="8" font-weight="bold" font-style="normal" text-anchor="end" fill="#111" >1.5</text>
<line x1="557.60" y1="327.60" x2="560.80" y2="327.60" stroke="#111" stroke-width="1.1" />
<text x="556.40" y="330.32" font-size="8" font-weight="bold" font-style="normal" text-anchor="end" fill="#111" >2.0</text>
<line x1="561.80" y1="373.35" x2="637.70" y2="373.35" stroke="#222" stroke-width="0.9" stroke-dasharray="1 2"/>
<rect x="570.10" y="374.15" width="12.70" height="44.95" fill="#fff" stroke="#1010f0" stroke-width="1.6"/>
<line x1="576.45" y1="369.69" x2="576.45" y2="377.01" stroke="#1010f0" stroke-width="0.9" />
<line x1="573.65" y1="369.69" x2="579.25" y2="369.69" stroke="#1010f0" stroke-width="0.9" />
<line x1="573.65" y1="377.01" x2="579.25" y2="377.01" stroke="#1010f0" stroke-width="0.9" />
<circle cx="571.9" cy="365.1" r="1.8" fill="#1010f0"/>
<circle cx="574.2" cy="366.5" r="1.8" fill="#1010f0"/>
<circle cx="576.5" cy="371.1" r="1.8" fill="#1010f0"/>
<circle cx="578.8" cy="381.6" r="1.8" fill="#1010f0"/>
<circle cx="581.1" cy="381.6" r="1.8" fill="#1010f0"/>
<rect x="592.90" y="397.03" width="12.70" height="22.07" fill="#fff" stroke="#f02020" stroke-width="1.6"/>
<line x1="599.25" y1="393.02" x2="599.25" y2="399.43" stroke="#f02020" stroke-width="0.9" />
<line x1="596.45" y1="393.02" x2="602.05" y2="393.02" stroke="#f02020" stroke-width="0.9" />
<line x1="596.45" y1="399.43" x2="602.05" y2="399.43" stroke="#f02020" stroke-width="0.9" />
<circle cx="594.6" cy="389.4" r="1.8" fill="#f02020"/>
<circle cx="597" cy="390.3" r="1.8" fill="#f02020"/>
<circle cx="599.2" cy="398.5" r="1.8" fill="#f02020"/>
<circle cx="601.5" cy="403.1" r="1.8" fill="#f02020"/>
<circle cx="603.9" cy="404.5" r="1.8" fill="#f02020"/>
<rect x="615.70" y="372.32" width="13.20" height="46.78" fill="#fff" stroke="#40d020" stroke-width="1.6"/>
<line x1="622.30" y1="363.29" x2="622.30" y2="379.76" stroke="#40d020" stroke-width="0.9" />
<line x1="619.50" y1="363.29" x2="625.10" y2="363.29" stroke="#40d020" stroke-width="0.9" />
<line x1="619.50" y1="379.76" x2="625.10" y2="379.76" stroke="#40d020" stroke-width="0.9" />
<circle cx="617.7" cy="349.6" r="1.8" fill="#40d020"/>
<circle cx="620" cy="355.1" r="1.8" fill="#40d020"/>
<circle cx="622.3" cy="377.9" r="1.8" fill="#40d020"/>
<circle cx="624.6" cy="381.6" r="1.8" fill="#40d020"/>
<circle cx="626.9" cy="391.7" r="1.8" fill="#40d020"/>
<polyline points="576.2,358.9 576.2,338.7 597.2,338.7 597.2,383.6" fill="none" stroke="#111" stroke-width="1.1"/>
<polyline points="601.6,383.6 601.6,338.7 622.5,338.7 622.5,343.7" fill="none" stroke="#111" stroke-width="1.1"/>
<path d="M586.4 329.5v5.2M584.1 330.8l4.5 2.6M584.1 333.4l4.5 -2.6" stroke="#111" stroke-width="1.35" fill="none"/>
<path d="M611.7 329.5v5.2M609.4 330.8l4.5 2.6M609.4 333.4l4.5 -2.6" stroke="#111" stroke-width="1.35" fill="none"/>
<text x="593.25" y="294.6" font-size="9.3" font-weight="bold" text-anchor="middle" fill="#111"><tspan font-style="italic">Syn1</tspan> promoter</text>
<rect x="548.00" y="309.80" width="84.00" height="5.40" fill="#fff" stroke="#333" stroke-width="0.9" />
<rect x="569.30" y="309.80" width="12.40" height="5.40" fill="#a7c7e4" stroke="#333" stroke-width="0.9" />
<text x="557.60" y="306.30" font-size="7.2" font-weight="bold" font-style="normal" text-anchor="start" fill="#111" >-1488 -1296</text>
<text x="630.50" y="306.30" font-size="7.6" font-weight="bold" font-style="normal" text-anchor="start" fill="#111" >0</text>
<text x="623.00" y="323.20" font-size="7.6" font-weight="bold" font-style="normal" text-anchor="start" fill="#111" >TSS</text>
<text transform="translate(527.60,373.00) rotate(-90)" x="0" y="0" font-size="6.9" font-weight="bold" font-style="normal" text-anchor="middle" dominant-baseline="central" fill="#111">H3K9bhb at Syn1 promoter</text>
<text transform="translate(537.10,373.00) rotate(-90)" x="0" y="0" font-size="6.9" font-weight="bold" font-style="normal" text-anchor="middle" dominant-baseline="central" fill="#111">(% of Input)</text>
<text x="1.50" y="462.30" font-size="18" font-weight="bold" font-style="normal" text-anchor="start" fill="#111" >e</text>
<text x="179.20" y="453.40" font-size="13.3" font-weight="bold" font-style="normal" text-anchor="middle" fill="#111" >CA1</text>
<text x="341.20" y="453.40" font-size="13.3" font-weight="bold" font-style="normal" text-anchor="middle" fill="#111" >DG</text>
<text x="94.50" y="486.20" font-size="12.2" font-weight="bold" font-style="normal" text-anchor="end" fill="#111" >WT</text>
<text x="94.20" y="529.20" font-size="12.3" font-weight="bold" font-style="normal" text-anchor="end" fill="#111" >3xTg-AD</text>
<text x="95.50" y="572.20" font-size="12.2" font-weight="bold" font-style="normal" text-anchor="end" fill="#111" >3xTg-AD+β-OHB</text>
<clipPath id="ce1"><rect x="98.4" y="461.5" width="158.20000000000002" height="36.30000000000001"/></clipPath>
<rect x="98.40" y="461.50" width="158.20" height="36.30" fill="#d6d6d6" stroke="none" stroke-width="1" />
<g clip-path="url(#ce1)"><g filter="url(#b1)">
<ellipse cx="140" cy="469" rx="30" ry="6" fill="#dedede" filter="url(#b3)"/>
<ellipse cx="230" cy="492" rx="30" ry="5" fill="#e0e0e0" filter="url(#b3)"/>
<rect x="98.4" y="461.5" width="158.20000000000002" height="36.30000000000001" filter="url(#nz)"/>
<path d="M98.0,488.0 C100.1,487.2 106.0,484.4 110.4,483.5 C114.9,482.6 119.9,482.7 124.7,482.5 C129.5,482.3 134.2,482.7 139.0,482.5 C143.8,482.3 148.7,481.4 153.5,481.2 C158.3,480.9 163.0,480.8 167.8,481.0 C172.6,481.2 177.4,482.2 182.2,482.5 C187.0,482.8 191.7,483.4 196.5,483.0 C201.3,482.6 206.2,480.6 211.0,480.0 C215.8,479.4 220.5,480.2 225.3,479.5 C230.1,478.8 234.8,477.0 239.6,475.5 C244.4,474.0 250.9,471.6 254.0,470.5 C257.1,469.4 257.3,469.2 258.0,469.0" fill="none" stroke="#7e7e7e" stroke-width="10" stroke-linecap="round" filter="url(#b15)"/>
<path d="M98.0,488.0 C100.1,487.2 106.0,484.4 110.4,483.5 C114.9,482.6 119.9,482.7 124.7,482.5 C129.5,482.3 134.2,482.7 139.0,482.5 C143.8,482.3 148.7,481.4 153.5,481.2 C158.3,480.9 163.0,480.8 167.8,481.0 C172.6,481.2 177.4,482.2 182.2,482.5 C187.0,482.8 191.7,483.4 196.5,483.0 C201.3,482.6 206.2,480.6 211.0,480.0 C215.8,479.4 220.5,480.2 225.3,479.5 C230.1,478.8 234.8,477.0 239.6,475.5 C244.4,474.0 250.9,471.6 254.0,470.5 C257.1,469.4 257.3,469.2 258.0,469.0" fill="none" stroke="#2a2a2a" stroke-width="2.4" stroke-linecap="round" stroke-linejoin="round" filter="url(#b06)"/>
<g filter="url(#b07)"><circle cx="124.4" cy="481.2" r="2.1" fill="#1f1f1f"/><circle cx="256.4" cy="466.2" r="2.1" fill="#4f4f4f"/><circle cx="180" cy="480.4" r="1.3" fill="#292929"/><circle cx="247.2" cy="472.8" r="2" fill="#1b1b1b"/><circle cx="225" cy="479.7" r="1.4" fill="#414141"/><circle cx="221.3" cy="481.5" r="2" fill="#2e2e2e"/><circle cx="103.5" cy="484.6" r="1.5" fill="#4e4e4e"/><circle cx="248.1" cy="475.2" r="1.3" fill="#414141"/><circle cx="228.8" cy="482.7" r="2" fill="#353535"/><circle cx="214.6" cy="484.1" r="1.9" fill="#1b1b1b"/><circle cx="127.9" cy="487.6" r="1.7" fill="#434343"/><circle cx="129.6" cy="483.7" r="2.4" fill="#454545"/><circle cx="241" cy="475.1" r="2.2" fill="#404040"/><circle cx="109.3" cy="479.5" r="2.2" fill="#353535"/><circle cx="230.3" cy="479.9" r="2.7" fill="#2c2c2c"/><circle cx="144.7" cy="487.6" r="2.8" fill="#323232"/><circle cx="159.7" cy="483.7" r="1.3" fill="#171717"/><circle cx="123.4" cy="482.5" r="2.4" fill="#505050"/><circle cx="177.4" cy="478.7" r="2.5" fill="#202020"/><circle cx="189.4" cy="482.9" r="1.8" fill="#505050"/><circle cx="197.6" cy="483.4" r="1.9" fill="#4d4d4d"/><circle cx="151.2" cy="482.8" r="2.5" fill="#4d4d4d"/><circle cx="147.1" cy="482.5" r="2.6" fill="#434343"/><circle cx="166.6" cy="481.6" r="1.6" fill="#141414"/><circle cx="206.1" cy="486.3" r="2" fill="#1c1c1c"/><circle cx="251.8" cy="467.4" r="2.2" fill="#4a4a4a"/><circle cx="153.5" cy="477.4" r="2.8" fill="#212121"/><circle cx="124" cy="482.4" r="1.4" fill="#454545"/><circle cx="163.2" cy="481" r="1.8" fill="#484848"/><circle cx="139.3" cy="481.6" r="1.8" fill="#2c2c2c"/><circle cx="137.8" cy="478.4" r="2.3" fill="#1b1b1b"/><circle cx="255.4" cy="473.2" r="2.5" fill="#303030"/><circle cx="105.9" cy="487.5" r="2.8" fill="#303030"/><circle cx="102.5" cy="489.3" r="1.6" fill="#474747"/><circle cx="156.5" cy="482.6" r="2.5" fill="#313131"/><circle cx="191" cy="484.9" r="2.7" fill="#252525"/><circle cx="120.2" cy="481.6" r="2.5" fill="#2a2a2a"/><circle cx="207.6" cy="479.9" r="2.8" fill="#131313"/><circle cx="140.3" cy="481.5" r="2.8" fill="#2c2c2c"/><circle cx="139.2" cy="484.2" r="1.9" fill="#4f4f4f"/><circle cx="227.9" cy="479.7" r="1.9" fill="#1d1d1d"/><circle cx="102.1" cy="487.6" r="2" fill="#1b1b1b"/><circle cx="109.5" cy="485.4" r="1.8" fill="#4e4e4e"/><circle cx="149.9" cy="483" r="2.1" fill="#202020"/><circle cx="197.4" cy="485" r="1.6" fill="#414141"/><circle cx="186" cy="487.3" r="1.4" fill="#3f3f3f"/><circle cx="178.8" cy="482.1" r="2.8" fill="#2a2a2a"/><circle cx="172.2" cy="480.6" r="1.4" fill="#424242"/><circle cx="188.7" cy="483.9" r="2.8" fill="#383838"/><circle cx="148.2" cy="480.2" r="1.4" fill="#2a2a2a"/><circle cx="123" cy="481.4" r="2.6" fill="#454545"/><circle cx="185.9" cy="474.8" r="2.8" fill="#181818"/><circle cx="185.3" cy="485.9" r="1.8" fill="#333333"/><circle cx="147.6" cy="483" r="2.4" fill="#333333"/><circle cx="219.3" cy="481" r="1.8" fill="#1e1e1e"/><circle cx="154.8" cy="484.5" r="1.8" fill="#2c2c2c"/><circle cx="115.2" cy="484.1" r="2.6" fill="#424242"/><circle cx="254.4" cy="470.8" r="2.1" fill="#4e4e4e"/><circle cx="101.2" cy="485.1" r="2.1" fill="#2a2a2a"/><circle cx="238.1" cy="473.7" r="1.4" fill="#131313"/><circle cx="105.8" cy="483.4" r="2.4" fill="#464646"/><circle cx="162.7" cy="481.9" r="2" fill="#454545"/><circle cx="135.8" cy="480.2" r="2.3" fill="#4f4f4f"/><circle cx="202.7" cy="483.7" r="1.4" fill="#1d1d1d"/><circle cx="176.7" cy="480.8" r="2.5" fill="#3a3a3a"/><circle cx="199.2" cy="477.1" r="2.3" fill="#404040"/><circle cx="235.4" cy="475.4" r="1.7" fill="#4c4c4c"/><circle cx="177.8" cy="478.3" r="1.8" fill="#2a2a2a"/><circle cx="230" cy="485.8" r="1.3" fill="#262626"/><circle cx="130.3" cy="480.7" r="2.7" fill="#3f3f3f"/><circle cx="121.3" cy="481.7" r="1.8" fill="#4e4e4e"/><circle cx="158.1" cy="480.8" r="2.5" fill="#505050"/><circle cx="115.3" cy="487.1" r="1.6" fill="#272727"/><circle cx="157.5" cy="480" r="2.2" fill="#1e1e1e"/><circle cx="139.7" cy="484.6" r="1.7" fill="#484848"/><circle cx="252.8" cy="470.2" r="2.7" fill="#323232"/><circle cx="130" cy="480.8" r="1.9" fill="#4e4e4e"/><circle cx="160.8" cy="479.9" r="1.9" fill="#2f2f2f"/><circle cx="196.7" cy="482.6" r="1.9" fill="#232323"/><circle cx="113.8" cy="484.8" r="2.9" fill="#1f1f1f"/><circle cx="103.5" cy="488.3" r="2.4" fill="#131313"/><circle cx="110" cy="478" r="2.2" fill="#2b2b2b"/><circle cx="195.3" cy="482.4" r="1.3" fill="#343434"/><circle cx="121.7" cy="480.9" r="2.9" fill="#1e1e1e"/><circle cx="170.7" cy="483.3" r="1.5" fill="#444444"/><circle cx="243.9" cy="472.5" r="2" fill="#474747"/><circle cx="105.9" cy="486.2" r="2.2" fill="#202020"/><circle cx="190" cy="485.2" r="2.6" fill="#373737"/><circle cx="246" cy="473.6" r="2.2" fill="#171717"/><circle cx="167.7" cy="480.7" r="2.6" fill="#424242"/><circle cx="203.3" cy="483.4" r="2.1" fill="#343434"/><circle cx="197.2" cy="485.3" r="2.1" fill="#454545"/><circle cx="206.2" cy="481.9" r="1.8" fill="#3a3a3a"/><circle cx="198.3" cy="483.8" r="2.7" fill="#161616"/><circle cx="204.9" cy="481.7" r="2.6" fill="#292929"/><circle cx="141.2" cy="483.4" r="1.4" fill="#141414"/><circle cx="191.6" cy="482.1" r="1.9" fill="#141414"/><circle cx="114.7" cy="487.7" r="2.8" fill="#343434"/><circle cx="138.1" cy="483" r="2.8" fill="#2d2d2d"/><circle cx="110.5" cy="485.1" r="2.6" fill="#1f1f1f"/><circle cx="178.4" cy="481.6" r="2.3" fill="#3b3b3b"/><circle cx="125.9" cy="479" r="2.4" fill="#313131"/><circle cx="174.6" cy="483.5" r="1.3" fill="#232323"/><circle cx="206.7" cy="478.8" r="1.6" fill="#434343"/><circle cx="201.7" cy="479.3" r="1.5" fill="#252525"/><circle cx="160.4" cy="478.7" r="2.8" fill="#4d4d4d"/><circle cx="209.5" cy="476.5" r="1.6" fill="#222222"/><circle cx="195.2" cy="487.2" r="2.5" fill="#3b3b3b"/><circle cx="217.8" cy="482.7" r="2.1" fill="#2c2c2c"/><circle cx="131.1" cy="488.9" r="2.9" fill="#353535"/><circle cx="143.8" cy="477.9" r="2.8" fill="#4c4c4c"/><circle cx="111.3" cy="484.8" r="1.9" fill="#1d1d1d"/><circle cx="154.3" cy="478.7" r="2.2" fill="#131313"/><circle cx="243.9" cy="469.4" r="2.8" fill="#424242"/><circle cx="102.2" cy="485.6" r="1.5" fill="#4d4d4d"/><circle cx="183.2" cy="481" r="1.9" fill="#323232"/><circle cx="145.4" cy="484" r="2.3" fill="#2f2f2f"/><circle cx="221.3" cy="482.9" r="2.5" fill="#3b3b3b"/><circle cx="132" cy="484.5" r="1.7" fill="#303030"/><circle cx="140.5" cy="486.8" r="2.2" fill="#2f2f2f"/><circle cx="130.9" cy="483.1" r="2" fill="#252525"/><circle cx="215.8" cy="477.5" r="2.5" fill="#1c1c1c"/><circle cx="158.3" cy="481" r="2.4" fill="#373737"/><circle cx="145.5" cy="482.1" r="2.6" fill="#2f2f2f"/><circle cx="129.5" cy="483.1" r="2.6" fill="#303030"/><circle cx="205.7" cy="485.3" r="1.3" fill="#4c4c4c"/><circle cx="230.2" cy="475.2" r="1.9" fill="#3a3a3a"/><circle cx="169.7" cy="481.2" r="2.4" fill="#161616"/><circle cx="236.4" cy="476.4" r="1.7" fill="#444444"/><circle cx="171.4" cy="478.9" r="1.5" fill="#4b4b4b"/><line x1="106" y1="485.1" x2="105.4" y2="476" stroke="#444" stroke-width="1.2"/><circle cx="106" cy="476" r="3.1" fill="#0c0c0c"/><line x1="125.2" y1="482.5" x2="125.9" y2="477" stroke="#444" stroke-width="1.2"/><circle cx="125.2" cy="477" r="3" fill="#0c0c0c"/><line x1="142.7" y1="482.2" x2="143.5" y2="479.5" stroke="#444" stroke-width="1.2"/><circle cx="142.7" cy="479.5" r="2.8" fill="#0c0c0c"/><line x1="153.5" y1="481.2" x2="152.7" y2="477" stroke="#444" stroke-width="1.2"/><circle cx="153.5" cy="477" r="2.8" fill="#0c0c0c"/><line x1="164.2" y1="481.1" x2="163.8" y2="477" stroke="#444" stroke-width="1.2"/><circle cx="164.2" cy="477" r="2.8" fill="#0c0c0c"/><line x1="179.8" y1="482.2" x2="180.1" y2="476" stroke="#444" stroke-width="1.2"/><circle cx="179.8" cy="476" r="2.9" fill="#0c0c0c"/><line x1="193" y1="482.9" x2="192.3" y2="479" stroke="#444" stroke-width="1.2"/><circle cx="193" cy="479" r="2.8" fill="#0c0c0c"/><line x1="205" y1="481.2" x2="205.7" y2="477" stroke="#444" stroke-width="1.2"/><circle cx="205" cy="477" r="2.8" fill="#0c0c0c"/><line x1="220.5" y1="479.7" x2="220" y2="477" stroke="#444" stroke-width="1.2"/><circle cx="220.5" cy="477" r="2.8" fill="#0c0c0c"/><line x1="244.4" y1="473.8" x2="244.8" y2="466.4" stroke="#444" stroke-width="1.2"/><circle cx="244.4" cy="466.4" r="3" fill="#0c0c0c"/><line x1="251.6" y1="471.3" x2="251.2" y2="480.7" stroke="#444" stroke-width="1.2"/><circle cx="251.6" cy="480.7" r="2.8" fill="#0c0c0c"/><line x1="108" y1="484.4" x2="107.4" y2="488.5" stroke="#444" stroke-width="1.2"/><circle cx="108" cy="488.5" r="2.8" fill="#0c0c0c"/><line x1="116.3" y1="483.1" x2="115.7" y2="490.5" stroke="#444" stroke-width="1.2"/><circle cx="116.3" cy="490.5" r="2.8" fill="#0c0c0c"/><line x1="137.9" y1="482.5" x2="137.9" y2="488.5" stroke="#444" stroke-width="1.2"/><circle cx="137.9" cy="488.5" r="2.8" fill="#0c0c0c"/><line x1="153.5" y1="481.2" x2="153.9" y2="489" stroke="#444" stroke-width="1.2"/><circle cx="153.5" cy="489" r="2.8" fill="#0c0c0c"/><line x1="165.4" y1="481" x2="164.8" y2="489.5" stroke="#444" stroke-width="1.2"/><circle cx="165.4" cy="489.5" r="2.8" fill="#0c0c0c"/><line x1="177.4" y1="482" x2="177.8" y2="488.5" stroke="#444" stroke-width="1.2"/><circle cx="177.4" cy="488.5" r="2.8" fill="#0c0c0c"/><line x1="203.7" y1="481.5" x2="203.4" y2="487" stroke="#444" stroke-width="1.2"/><circle cx="203.7" cy="487" r="2.8" fill="#0c0c0c"/><line x1="220.5" y1="479.7" x2="220.8" y2="484.5" stroke="#444" stroke-width="1.2"/><circle cx="220.5" cy="484.5" r="2.8" fill="#0c0c0c"/><line x1="234.9" y1="476.8" x2="234.6" y2="483" stroke="#444" stroke-width="1.2"/><circle cx="234.9" cy="483" r="2.8" fill="#0c0c0c"/><line x1="229" y1="478.5" x2="228.4" y2="472" stroke="#444" stroke-width="1.2"/><circle cx="229" cy="472" r="2.8" fill="#0c0c0c"/><line x1="248" y1="472.6" x2="247.3" y2="464.5" stroke="#444" stroke-width="1.2"/><circle cx="248" cy="464.5" r="2.8" fill="#0c0c0c"/><line x1="199" y1="482.5" x2="198.1" y2="476.5" stroke="#444" stroke-width="1.2"/><circle cx="199" cy="476.5" r="2.8" fill="#0c0c0c"/><line x1="171" y1="481.3" x2="171.4" y2="477" stroke="#444" stroke-width="1.2"/><circle cx="171" cy="477" r="2.8" fill="#0c0c0c"/><line x1="213" y1="479.9" x2="212.8" y2="485" stroke="#444" stroke-width="1.2"/><circle cx="213" cy="485" r="2.8" fill="#0c0c0c"/></g>
</g></g>
<rect x="98.40" y="461.50" width="158.20" height="36.30" fill="none" stroke="#333" stroke-width="1.1" />
<clipPath id="ce2"><rect x="258.9" y="461.5" width="157.10000000000002" height="36.30000000000001"/></clipPath>
<rect x="258.90" y="461.50" width="157.10" height="36.30" fill="#d6d6d6" stroke="none" stroke-width="1" />
<g clip-path="url(#ce2)"><g filter="url(#b1)">
<ellipse cx="320" cy="492" rx="40" ry="5" fill="#e2e2e2" filter="url(#b3)"/>
<ellipse cx="380" cy="467" rx="30" ry="4" fill="#dedede" filter="url(#b3)"/>
<rect x="258.9" y="461.5" width="157.10000000000002" height="36.30000000000001" filter="url(#nz)"/>
<path d="M258.0,485.5 C260.1,485.1 265.9,483.7 270.4,483.1 C274.8,482.5 279.9,482.4 284.7,482.0 C289.5,481.6 294.3,481.3 299.1,480.7 C303.9,480.1 308.7,478.7 313.5,478.3 C318.3,477.9 323.0,478.1 327.8,478.3 C332.6,478.5 337.4,479.5 342.2,479.5 C347.0,479.5 352.1,478.7 356.5,478.3 C360.9,477.9 364.5,477.2 368.5,477.2 C372.5,477.2 376.1,477.5 380.5,478.3 C384.9,479.1 390.1,480.6 394.9,482.0 C399.7,483.4 405.5,485.7 409.2,486.7 C412.9,487.7 415.7,487.8 417.0,488.0" fill="none" stroke="#8c8c8c" stroke-width="10" stroke-linecap="round" filter="url(#b15)"/>
<path d="M258.0,485.5 C260.1,485.1 265.9,483.7 270.4,483.1 C274.8,482.5 279.9,482.4 284.7,482.0 C289.5,481.6 294.3,481.3 299.1,480.7 C303.9,480.1 308.7,478.7 313.5,478.3 C318.3,477.9 323.0,478.1 327.8,478.3 C332.6,478.5 337.4,479.5 342.2,479.5 C347.0,479.5 352.1,478.7 356.5,478.3 C360.9,477.9 364.5,477.2 368.5,477.2 C372.5,477.2 376.1,477.5 380.5,478.3 C384.9,479.1 390.1,480.6 394.9,482.0 C399.7,483.4 405.5,485.7 409.2,486.7 C412.9,487.7 415.7,487.8 417.0,488.0" fill="none" stroke="#444" stroke-width="2.4" stroke-linecap="round" stroke-linejoin="round" filter="url(#b06)"/>
<g filter="url(#b07)"><circle cx="410.4" cy="487.3" r="2.9" fill="#4f4f4f"/><circle cx="369.6" cy="477.8" r="2.5" fill="#646464"/><circle cx="384" cy="481.3" r="1.4" fill="#4e4e4e"/><circle cx="406.2" cy="486.9" r="2.4" fill="#6f6f6f"/><circle cx="370.6" cy="483.3" r="2.2" fill="#5f5f5f"/><circle cx="325" cy="480.2" r="1.6" fill="#464646"/><circle cx="350.7" cy="483.6" r="2.8" fill="#3f3f3f"/><circle cx="369" cy="475.3" r="2.3" fill="#595959"/><circle cx="287.3" cy="476.7" r="2.7" fill="#4a4a4a"/><circle cx="302.4" cy="484.2" r="1.7" fill="#4f4f4f"/><circle cx="326.7" cy="474.8" r="2" fill="#585858"/><circle cx="338.5" cy="484.6" r="2.1" fill="#6c6c6c"/><circle cx="321.2" cy="480" r="2.2" fill="#6a6a6a"/><circle cx="350.6" cy="477.9" r="1.8" fill="#6f6f6f"/><circle cx="378.4" cy="480.7" r="1.4" fill="#707070"/><circle cx="314.6" cy="476.4" r="2" fill="#6b6b6b"/><circle cx="267.2" cy="484.8" r="1.7" fill="#383838"/><circle cx="273.4" cy="481.2" r="2.7" fill="#4d4d4d"/><circle cx="262.8" cy="483.2" r="2.8" fill="#505050"/><circle cx="328.5" cy="479.7" r="1.4" fill="#494949"/><circle cx="384.5" cy="478.1" r="2.4" fill="#3e3e3e"/><circle cx="289" cy="480" r="1.5" fill="#4a4a4a"/><circle cx="404.4" cy="479.5" r="2.1" fill="#494949"/><circle cx="350.9" cy="480.2" r="2.9" fill="#747474"/><circle cx="333.7" cy="483.1" r="2.8" fill="#464646"/><circle cx="388.3" cy="482.2" r="2.3" fill="#474747"/><circle cx="260.9" cy="480.7" r="1.8" fill="#4d4d4d"/><circle cx="358" cy="478.2" r="2.3" fill="#5a5a5a"/><circle cx="286.2" cy="483.6" r="2.4" fill="#535353"/><circle cx="343" cy="480.3" r="2.1" fill="#404040"/><circle cx="286.7" cy="481.6" r="2.1" fill="#525252"/><circle cx="322" cy="479.6" r="1.5" fill="#4f4f4f"/><circle cx="264.1" cy="480.1" r="1.4" fill="#525252"/><circle cx="377.8" cy="482.1" r="2.3" fill="#3e3e3e"/><circle cx="377.3" cy="477.3" r="1.7" fill="#555555"/><circle cx="275.9" cy="479.4" r="2.8" fill="#4c4c4c"/><circle cx="286.4" cy="484.4" r="1.3" fill="#4c4c4c"/><circle cx="354" cy="477.9" r="1.4" fill="#767676"/><circle cx="369.4" cy="476.4" r="1.6" fill="#717171"/><circle cx="392.6" cy="486.5" r="1.7" fill="#6f6f6f"/><circle cx="280.2" cy="479.1" r="2.6" fill="#393939"/><circle cx="369.8" cy="482.3" r="2.3" fill="#454545"/><circle cx="285.9" cy="484" r="2.2" fill="#666666"/><circle cx="302.3" cy="474.2" r="2.7" fill="#595959"/><circle cx="287.9" cy="481.4" r="2.6" fill="#777777"/><circle cx="368.8" cy="479" r="2.6" fill="#505050"/><circle cx="337.4" cy="475.7" r="1.4" fill="#505050"/><circle cx="370.4" cy="482.5" r="1.4" fill="#686868"/><circle cx="311.8" cy="482" r="2.7" fill="#515151"/><circle cx="346.7" cy="480.3" r="2.7" fill="#383838"/><circle cx="341.8" cy="479.5" r="2.8" fill="#3e3e3e"/><circle cx="386.3" cy="479.2" r="2.6" fill="#444444"/><circle cx="348.7" cy="481" r="1.8" fill="#606060"/><circle cx="402.6" cy="483.4" r="2" fill="#626262"/><circle cx="309.2" cy="476.6" r="1.4" fill="#555555"/><circle cx="385.3" cy="474.8" r="2.3" fill="#616161"/><circle cx="366" cy="479.7" r="1.5" fill="#606060"/><circle cx="305.4" cy="479.7" r="1.3" fill="#606060"/><circle cx="275.9" cy="487.3" r="2.8" fill="#4c4c4c"/><circle cx="333.8" cy="475.7" r="2" fill="#656565"/><circle cx="280.2" cy="480.5" r="1.7" fill="#676767"/><circle cx="401.7" cy="485.5" r="2" fill="#5b5b5b"/><circle cx="339.7" cy="479.6" r="1.7" fill="#5f5f5f"/><circle cx="346.4" cy="480.7" r="2" fill="#585858"/><circle cx="416.1" cy="488.5" r="2.1" fill="#4d4d4d"/><circle cx="338.2" cy="477.8" r="1.4" fill="#636363"/><circle cx="290.8" cy="484.5" r="2.7" fill="#6f6f6f"/><circle cx="358.3" cy="481.4" r="1.4" fill="#727272"/><circle cx="386.5" cy="478.5" r="1.8" fill="#393939"/><circle cx="406.9" cy="483.4" r="1.5" fill="#727272"/><circle cx="377.8" cy="481.4" r="2.6" fill="#5a5a5a"/><circle cx="358.1" cy="480" r="1.3" fill="#4c4c4c"/><circle cx="351.1" cy="478" r="2.4" fill="#636363"/><circle cx="375.4" cy="479.9" r="2" fill="#4e4e4e"/><circle cx="381.4" cy="476.9" r="2.6" fill="#6e6e6e"/><circle cx="299.6" cy="477.8" r="2.7" fill="#575757"/><circle cx="293.8" cy="476.7" r="2.2" fill="#565656"/><circle cx="355.1" cy="477.6" r="1.7" fill="#727272"/><circle cx="384.9" cy="473.6" r="2.2" fill="#555555"/><circle cx="313.4" cy="484.3" r="1.9" fill="#494949"/><circle cx="265.3" cy="482.1" r="2.5" fill="#484848"/><circle cx="386.3" cy="478.2" r="2.1" fill="#555555"/><circle cx="321" cy="481.1" r="2.5" fill="#393939"/><circle cx="259.4" cy="487.4" r="2" fill="#626262"/><circle cx="283.1" cy="485.5" r="1.6" fill="#444444"/><circle cx="299.6" cy="479.3" r="1.5" fill="#4d4d4d"/><circle cx="285.9" cy="484.9" r="1.7" fill="#707070"/><circle cx="343.5" cy="481.2" r="1.8" fill="#616161"/><circle cx="294.3" cy="483.7" r="1.4" fill="#474747"/><circle cx="315.7" cy="483.7" r="1.3" fill="#6c6c6c"/><circle cx="357.6" cy="476.6" r="2.5" fill="#555555"/><circle cx="394" cy="484.5" r="2.9" fill="#595959"/><circle cx="264.7" cy="482.1" r="1.5" fill="#616161"/><circle cx="405.3" cy="488.6" r="2.1" fill="#3b3b3b"/><circle cx="367.7" cy="475.6" r="2.8" fill="#393939"/><circle cx="329.9" cy="478.1" r="1.9" fill="#414141"/><circle cx="315.3" cy="481.7" r="1.6" fill="#464646"/><circle cx="355.5" cy="479" r="2.6" fill="#4d4d4d"/><circle cx="406.5" cy="487.3" r="2" fill="#515151"/><circle cx="308.2" cy="479.2" r="2.6" fill="#727272"/><circle cx="295.7" cy="489.6" r="1.6" fill="#6d6d6d"/><circle cx="378.5" cy="481.8" r="2.6" fill="#5b5b5b"/><circle cx="306.8" cy="476.9" r="1.9" fill="#424242"/><circle cx="346.7" cy="474.9" r="2.9" fill="#4a4a4a"/><circle cx="288" cy="480.8" r="2.7" fill="#5b5b5b"/><circle cx="377.9" cy="478.8" r="1.9" fill="#393939"/><circle cx="387" cy="482.9" r="2.3" fill="#757575"/><circle cx="288.1" cy="480" r="1.6" fill="#5f5f5f"/><circle cx="265.1" cy="487.6" r="2.2" fill="#545454"/><circle cx="275.7" cy="483.3" r="1.7" fill="#656565"/><line x1="290.7" y1="481.5" x2="291.6" y2="476" stroke="#444" stroke-width="1.2"/><circle cx="290.7" cy="476" r="3.2" fill="#303030"/><line x1="312.3" y1="478.5" x2="311.6" y2="476" stroke="#444" stroke-width="1.2"/><circle cx="312.3" cy="476" r="2.8" fill="#303030"/><line x1="327.8" y1="478.3" x2="327.3" y2="474.5" stroke="#444" stroke-width="1.2"/><circle cx="327.8" cy="474.5" r="2.9" fill="#303030"/><line x1="347" y1="479.1" x2="347.8" y2="474.5" stroke="#444" stroke-width="1.2"/><circle cx="347" cy="474.5" r="2.8" fill="#303030"/><line x1="364.9" y1="477.5" x2="365.5" y2="465.5" stroke="#444" stroke-width="1.2"/><circle cx="364.9" cy="465.5" r="3" fill="#303030"/><line x1="379.3" y1="478.2" x2="379.5" y2="474.3" stroke="#444" stroke-width="1.2"/><circle cx="379.3" cy="474.3" r="3.1" fill="#303030"/><line x1="387.7" y1="480.1" x2="388.1" y2="477" stroke="#444" stroke-width="1.2"/><circle cx="387.7" cy="477" r="2.8" fill="#303030"/><line x1="354.2" y1="478.5" x2="353.4" y2="479" stroke="#444" stroke-width="1.2"/><circle cx="354.2" cy="479" r="2.8" fill="#303030"/><line x1="330.2" y1="478.5" x2="330.9" y2="483" stroke="#444" stroke-width="1.2"/><circle cx="330.2" cy="483" r="2.8" fill="#303030"/><line x1="338.6" y1="479.2" x2="337.9" y2="488.5" stroke="#444" stroke-width="1.2"/><circle cx="338.6" cy="488.5" r="2.8" fill="#303030"/><line x1="312.3" y1="478.5" x2="311.6" y2="488.5" stroke="#444" stroke-width="1.2"/><circle cx="312.3" cy="488.5" r="2.8" fill="#303030"/><line x1="324.2" y1="478.3" x2="324.7" y2="487" stroke="#444" stroke-width="1.2"/><circle cx="324.2" cy="487" r="2.8" fill="#303030"/><line x1="281.1" y1="482.3" x2="282" y2="489" stroke="#444" stroke-width="1.2"/><circle cx="281.1" cy="489" r="2.8" fill="#303030"/><line x1="398.4" y1="483.2" x2="399.2" y2="489" stroke="#444" stroke-width="1.2"/><circle cx="398.4" cy="489" r="2.8" fill="#303030"/><line x1="408" y1="486.3" x2="408.4" y2="493.5" stroke="#444" stroke-width="1.2"/><circle cx="408" cy="493.5" r="3" fill="#303030"/><line x1="270.4" y1="483.1" x2="270.1" y2="481" stroke="#444" stroke-width="1.2"/><circle cx="270.4" cy="481" r="2.8" fill="#303030"/><line x1="300" y1="480.6" x2="301" y2="478" stroke="#444" stroke-width="1.2"/><circle cx="300" cy="478" r="2.8" fill="#303030"/><line x1="302" y1="480.2" x2="302.2" y2="487" stroke="#444" stroke-width="1.2"/><circle cx="302" cy="487" r="2.8" fill="#303030"/><line x1="360" y1="478" x2="360.3" y2="483" stroke="#444" stroke-width="1.2"/><circle cx="360" cy="483" r="2.8" fill="#303030"/><line x1="372" y1="477.5" x2="372.4" y2="484" stroke="#444" stroke-width="1.2"/><circle cx="372" cy="484" r="2.8" fill="#303030"/><line x1="392" y1="481.3" x2="392.1" y2="476" stroke="#444" stroke-width="1.2"/><circle cx="392" cy="476" r="2.8" fill="#303030"/></g>
</g></g>
<rect x="258.90" y="461.50" width="157.10" height="36.30" fill="none" stroke="#333" stroke-width="1.1" />
<clipPath id="ce3"><rect x="98.4" y="505.9" width="158.20000000000002" height="36.60000000000002"/></clipPath>
<rect x="98.40" y="505.90" width="158.20" height="36.60" fill="#d6d6d6" stroke="none" stroke-width="1" />
<g clip-path="url(#ce3)"><g filter="url(#b1)">
<ellipse cx="170" cy="538" rx="40" ry="4" fill="#dedede" filter="url(#b3)"/>
<rect x="98.4" y="505.9" width="158.20000000000002" height="36.60000000000002" filter="url(#nz)"/>
<path d="M97.0,515.0 C98.8,515.4 104.2,516.6 108.0,517.4 C111.8,518.2 116.0,519.0 120.0,519.8 C124.0,520.6 127.9,521.6 131.9,522.2 C135.9,522.8 139.9,523.0 143.9,523.4 C147.9,523.8 151.9,523.9 155.9,524.5 C159.9,525.1 163.8,526.8 167.8,527.0 C171.8,527.2 175.8,526.3 179.8,525.7 C183.8,525.1 187.8,523.8 191.8,523.4 C195.8,523.0 199.7,523.6 203.7,523.4 C207.7,523.2 211.7,523.2 215.7,522.2 C219.7,521.2 223.7,518.4 227.7,517.4 C231.7,516.4 235.6,515.8 239.6,516.2 C243.6,516.6 248.5,519.0 251.6,519.8 C254.7,520.6 256.9,520.8 258.0,521.0" fill="none" stroke="#808080" stroke-width="13" stroke-linecap="round" filter="url(#b15)"/>
<path d="M97.0,515.0 C98.8,515.4 104.2,516.6 108.0,517.4 C111.8,518.2 116.0,519.0 120.0,519.8 C124.0,520.6 127.9,521.6 131.9,522.2 C135.9,522.8 139.9,523.0 143.9,523.4 C147.9,523.8 151.9,523.9 155.9,524.5 C159.9,525.1 163.8,526.8 167.8,527.0 C171.8,527.2 175.8,526.3 179.8,525.7 C183.8,525.1 187.8,523.8 191.8,523.4 C195.8,523.0 199.7,523.6 203.7,523.4 C207.7,523.2 211.7,523.2 215.7,522.2 C219.7,521.2 223.7,518.4 227.7,517.4 C231.7,516.4 235.6,515.8 239.6,516.2 C243.6,516.6 248.5,519.0 251.6,519.8 C254.7,520.6 256.9,520.8 258.0,521.0" fill="none" stroke="#262626" stroke-width="5.4" stroke-linecap="round" stroke-linejoin="round" filter="url(#b06)"/>
<g filter="url(#b07)"><circle cx="245.9" cy="521.7" r="2" fill="#3d3d3d"/><circle cx="146.4" cy="522.4" r="2.5" fill="#2e2e2e"/><circle cx="118" cy="520.1" r="2.2" fill="#353535"/><circle cx="242.2" cy="518.8" r="2" fill="#373737"/><circle cx="164.8" cy="523.5" r="2.4" fill="#1b1b1b"/><circle cx="130.1" cy="521.6" r="1.9" fill="#2f2f2f"/><circle cx="202.9" cy="519.9" r="2.5" fill="#2f2f2f"/><circle cx="252.9" cy="516.8" r="2.3" fill="#2c2c2c"/><circle cx="189.3" cy="524.3" r="2.7" fill="#343434"/><circle cx="205.8" cy="522.2" r="2.1" fill="#232323"/><circle cx="182.9" cy="524.1" r="2.8" fill="#1d1d1d"/><circle cx="112.9" cy="516.4" r="1.9" fill="#292929"/><circle cx="248.4" cy="518.4" r="2" fill="#2a2a2a"/><circle cx="184.3" cy="527.2" r="3.4" fill="#353535"/><circle cx="185.4" cy="524.6" r="3.2" fill="#373737"/><circle cx="135.3" cy="523.4" r="2.8" fill="#3d3d3d"/><circle cx="113.2" cy="517" r="1.9" fill="#404040"/><circle cx="164" cy="527.5" r="1.8" fill="#262626"/><circle cx="207.6" cy="526.2" r="3.5" fill="#3a3a3a"/><circle cx="249.1" cy="518.5" r="2.6" fill="#1d1d1d"/><circle cx="152.7" cy="525.9" r="2.1" fill="#1c1c1c"/><circle cx="139.6" cy="522.7" r="2.8" fill="#353535"/><circle cx="250" cy="519.5" r="2.8" fill="#222222"/><circle cx="208.2" cy="523.8" r="2.8" fill="#272727"/><circle cx="137.7" cy="519.4" r="2.6" fill="#2d2d2d"/><circle cx="202.7" cy="525.2" r="2.5" fill="#222222"/><circle cx="241.1" cy="515.9" r="3" fill="#404040"/><circle cx="217.1" cy="519.9" r="2.8" fill="#333333"/><circle cx="162.9" cy="526.3" r="2.8" fill="#2a2a2a"/><circle cx="114.5" cy="516.4" r="2.9" fill="#2d2d2d"/><circle cx="252.4" cy="519.7" r="2.1" fill="#1d1d1d"/><circle cx="151.4" cy="522.2" r="3" fill="#1f1f1f"/><circle cx="134.8" cy="520.6" r="2.6" fill="#292929"/><circle cx="97.6" cy="514.4" r="2.5" fill="#212121"/><circle cx="217.6" cy="518.8" r="1.9" fill="#343434"/><circle cx="217.1" cy="523.5" r="3.5" fill="#323232"/><circle cx="209.6" cy="520.1" r="2.8" fill="#3b3b3b"/><circle cx="125.6" cy="521.3" r="2.8" fill="#282828"/><circle cx="241.7" cy="520" r="3.4" fill="#373737"/><circle cx="157.8" cy="526.8" r="1.8" fill="#353535"/><circle cx="194.4" cy="523" r="2.4" fill="#2b2b2b"/><circle cx="141.1" cy="524.6" r="3.5" fill="#222222"/><circle cx="159.4" cy="522.3" r="2.7" fill="#3b3b3b"/><circle cx="239.2" cy="517.8" r="2.8" fill="#1d1d1d"/><circle cx="158.8" cy="529.3" r="2.1" fill="#2f2f2f"/><circle cx="114.8" cy="515.4" r="2.6" fill="#1f1f1f"/><circle cx="141.7" cy="523.2" r="1.9" fill="#1f1f1f"/><circle cx="136.9" cy="522.5" r="3.6" fill="#404040"/><circle cx="172.6" cy="525.9" r="2.2" fill="#3c3c3c"/><circle cx="120.6" cy="520.3" r="3.3" fill="#1d1d1d"/><circle cx="126" cy="518.5" r="2.5" fill="#1d1d1d"/><circle cx="197.6" cy="523.3" r="3.1" fill="#3e3e3e"/><circle cx="124.3" cy="524.6" r="2.1" fill="#191919"/><circle cx="118.9" cy="519" r="3" fill="#2a2a2a"/><circle cx="172.5" cy="525.9" r="3.2" fill="#1a1a1a"/><circle cx="194.1" cy="521.1" r="2.9" fill="#2c2c2c"/><circle cx="101.7" cy="515.4" r="2.2" fill="#333333"/><circle cx="256.7" cy="521.6" r="3.2" fill="#262626"/><circle cx="182.9" cy="526.3" r="2.5" fill="#262626"/><circle cx="216.9" cy="520.2" r="3.5" fill="#2b2b2b"/></g>
<g filter="url(#b06)"><path d="M131,522 L132,534" stroke="#222" stroke-width="3.4" stroke-linecap="round"/><circle cx="122.3" cy="527" r="1.2" fill="#444"/><circle cx="145.8" cy="534" r="1.3" fill="#333"/><circle cx="197.7" cy="542.5" r="2.2" fill="#222"/></g>
</g></g>
<rect x="98.40" y="505.90" width="158.20" height="36.60" fill="none" stroke="#333" stroke-width="1.1" />
<clipPath id="ce4"><rect x="258.9" y="505.9" width="157.10000000000002" height="36.60000000000002"/></clipPath>
<rect x="258.90" y="505.90" width="157.10" height="36.60" fill="#d6d6d6" stroke="none" stroke-width="1" />
<g clip-path="url(#ce4)"><g filter="url(#b1)">
<ellipse cx="300" cy="513" rx="40" ry="5" fill="#e0e0e0" filter="url(#b3)"/>
<ellipse cx="380" cy="537" rx="40" ry="4" fill="#dedede" filter="url(#b3)"/>
<rect x="258.9" y="505.9" width="157.10000000000002" height="36.60000000000002" filter="url(#nz)"/>
<path d="M258.0,524.5 C260.1,524.7 266.7,525.3 270.4,525.7 C274.1,526.1 276.4,526.6 280.0,527.0 C283.6,527.4 287.9,527.4 291.9,528.1 C295.9,528.8 299.9,530.8 303.9,531.2 C307.9,531.6 311.9,531.0 315.9,530.5 C319.9,530.0 324.2,527.8 327.8,528.1 C331.4,528.4 334.2,532.5 337.4,532.5 C340.6,532.5 343.8,529.8 347.0,528.1 C350.2,526.4 353.3,523.6 356.5,522.2 C359.7,520.8 362.1,520.4 366.1,519.8 C370.1,519.2 376.5,518.6 380.5,518.6 C384.5,518.6 386.9,519.4 390.1,519.8 C393.3,520.2 396.4,520.6 399.6,521.0 C402.8,521.4 406.3,521.8 409.2,522.2 C412.1,522.6 415.7,523.1 417.0,523.3" fill="none" stroke="#808080" stroke-width="13" stroke-linecap="round" filter="url(#b15)"/>
<path d="M258.0,524.5 C260.1,524.7 266.7,525.3 270.4,525.7 C274.1,526.1 276.4,526.6 280.0,527.0 C283.6,527.4 287.9,527.4 291.9,528.1 C295.9,528.8 299.9,530.8 303.9,531.2 C307.9,531.6 311.9,531.0 315.9,530.5 C319.9,530.0 324.2,527.8 327.8,528.1 C331.4,528.4 334.2,532.5 337.4,532.5 C340.6,532.5 343.8,529.8 347.0,528.1 C350.2,526.4 353.3,523.6 356.5,522.2 C359.7,520.8 362.1,520.4 366.1,519.8 C370.1,519.2 376.5,518.6 380.5,518.6 C384.5,518.6 386.9,519.4 390.1,519.8 C393.3,520.2 396.4,520.6 399.6,521.0 C402.8,521.4 406.3,521.8 409.2,522.2 C412.1,522.6 415.7,523.1 417.0,523.3" fill="none" stroke="#222" stroke-width="5.4" stroke-linecap="round" stroke-linejoin="round" filter="url(#b06)"/>
<g filter="url(#b07)"><circle cx="371.3" cy="520" r="3.6" fill="#242424"/><circle cx="284.9" cy="526.5" r="3" fill="#212121"/><circle cx="386.2" cy="518.5" r="1.8" fill="#353535"/><circle cx="395.7" cy="524.5" r="3.6" fill="#1f1f1f"/><circle cx="262.5" cy="526" r="3.3" fill="#2b2b2b"/><circle cx="337.5" cy="534.3" r="3.6" fill="#282828"/><circle cx="392.1" cy="520.9" r="2.3" fill="#3a3a3a"/><circle cx="361.2" cy="522.4" r="3" fill="#1a1a1a"/><circle cx="405" cy="520.1" r="1.9" fill="#1e1e1e"/><circle cx="297.1" cy="532.9" r="2.9" fill="#212121"/><circle cx="388.2" cy="523.1" r="2.3" fill="#292929"/><circle cx="405" cy="521.5" r="2" fill="#373737"/><circle cx="382.8" cy="518" r="2.2" fill="#3e3e3e"/><circle cx="412.8" cy="521.4" r="2" fill="#383838"/><circle cx="299.2" cy="528.7" r="3.2" fill="#1d1d1d"/><circle cx="358.3" cy="521.7" r="2.3" fill="#3a3a3a"/><circle cx="361.1" cy="518.6" r="2.5" fill="#363636"/><circle cx="315.6" cy="532.5" r="2.4" fill="#232323"/><circle cx="376.2" cy="519.7" r="3.4" fill="#2f2f2f"/><circle cx="263.4" cy="523.6" r="3.4" fill="#2c2c2c"/><circle cx="327.8" cy="528.3" r="1.9" fill="#2c2c2c"/><circle cx="371.1" cy="518.6" r="3.3" fill="#3a3a3a"/><circle cx="337.1" cy="528.9" r="3.3" fill="#2a2a2a"/><circle cx="306.2" cy="530.5" r="2.3" fill="#2d2d2d"/><circle cx="376.4" cy="521.1" r="3.2" fill="#282828"/><circle cx="405" cy="522.6" r="1.8" fill="#323232"/><circle cx="321.6" cy="528.2" r="2.6" fill="#2f2f2f"/><circle cx="308.7" cy="531.9" r="3.1" fill="#313131"/><circle cx="402.5" cy="518.2" r="2.1" fill="#262626"/><circle cx="392.4" cy="520.5" r="2.8" fill="#3d3d3d"/><circle cx="291.9" cy="527" r="1.9" fill="#1d1d1d"/><circle cx="266.3" cy="525.7" r="3.5" fill="#3b3b3b"/><circle cx="412" cy="521.4" r="2.4" fill="#2b2b2b"/><circle cx="274.5" cy="526.3" r="2.1" fill="#212121"/><circle cx="381.9" cy="519" r="2.7" fill="#393939"/><circle cx="370" cy="517.1" r="2.3" fill="#353535"/><circle cx="331.2" cy="526.8" r="3" fill="#212121"/><circle cx="312.3" cy="533.5" r="2.1" fill="#212121"/><circle cx="286.9" cy="526.1" r="3.5" fill="#262626"/><circle cx="360" cy="521.9" r="2" fill="#1e1e1e"/><circle cx="306.8" cy="531" r="3.5" fill="#272727"/><circle cx="404.2" cy="519.1" r="2.6" fill="#242424"/><circle cx="292" cy="530.4" r="2.7" fill="#2d2d2d"/><circle cx="415.7" cy="522.8" r="2.6" fill="#212121"/><circle cx="395.2" cy="521.4" r="2.1" fill="#262626"/><circle cx="260" cy="524.2" r="2.3" fill="#363636"/><circle cx="366" cy="519.8" r="2.4" fill="#272727"/><circle cx="304.6" cy="529.8" r="2.7" fill="#2a2a2a"/><circle cx="407.4" cy="522.1" r="2.8" fill="#262626"/><circle cx="316" cy="533" r="2.2" fill="#383838"/><circle cx="320.4" cy="531.1" r="3.3" fill="#343434"/><circle cx="314.8" cy="531.3" r="2.6" fill="#3c3c3c"/><circle cx="323.8" cy="530" r="1.9" fill="#2b2b2b"/><circle cx="358.7" cy="521.9" r="2.8" fill="#1c1c1c"/><circle cx="350.7" cy="525" r="3.1" fill="#3e3e3e"/><circle cx="292" cy="529" r="2.1" fill="#1f1f1f"/><circle cx="360.6" cy="519.9" r="2.3" fill="#404040"/><circle cx="370.5" cy="519.3" r="2.1" fill="#393939"/><circle cx="393.1" cy="519.3" r="2.3" fill="#3d3d3d"/><circle cx="280.6" cy="530.7" r="2.9" fill="#1c1c1c"/></g>
</g></g>
<rect x="258.90" y="505.90" width="157.10" height="36.60" fill="none" stroke="#333" stroke-width="1.1" />
<clipPath id="ce5"><rect x="98.4" y="550.4" width="158.20000000000002" height="36.89999999999998"/></clipPath>
<rect x="98.40" y="550.40" width="158.20" height="36.90" fill="#d6d6d6" stroke="none" stroke-width="1" />
<g clip-path="url(#ce5)"><g filter="url(#b1)">
<ellipse cx="200" cy="556" rx="40" ry="4" fill="#dedede" filter="url(#b3)"/>
<ellipse cx="150" cy="584" rx="30" ry="3" fill="#dcdcdc" filter="url(#b3)"/>
<rect x="98.4" y="550.4" width="158.20000000000002" height="36.89999999999998" filter="url(#nz)"/>
<path d="M97.0,574.5 C98.8,574.7 104.6,575.3 108.0,575.7 C111.4,576.1 114.3,576.8 117.5,577.0 C120.7,577.2 123.9,577.6 127.1,577.0 C130.3,576.4 133.5,574.7 136.7,573.3 C139.9,571.9 143.1,569.5 146.3,568.5 C149.5,567.5 152.7,567.9 155.9,567.3 C159.1,566.7 162.2,565.2 165.4,565.0 C168.6,564.8 171.8,565.4 175.0,566.2 C178.2,567.0 181.4,569.1 184.6,569.7 C187.8,570.3 191.0,569.9 194.2,569.7 C197.4,569.5 200.5,568.9 203.7,568.5 C206.9,568.1 210.1,567.3 213.3,567.3 C216.5,567.3 219.7,568.1 222.9,568.5 C226.1,568.9 229.3,569.1 232.5,569.7 C235.7,570.3 238.4,571.3 242.0,572.1 C245.6,572.9 251.3,574.0 254.0,574.5 C256.7,575.0 257.3,574.9 258.0,575.0" fill="none" stroke="#888" stroke-width="7" stroke-linecap="round" filter="url(#b15)"/>
<path d="M97.0,574.5 C98.8,574.7 104.6,575.3 108.0,575.7 C111.4,576.1 114.3,576.8 117.5,577.0 C120.7,577.2 123.9,577.6 127.1,577.0 C130.3,576.4 133.5,574.7 136.7,573.3 C139.9,571.9 143.1,569.5 146.3,568.5 C149.5,567.5 152.7,567.9 155.9,567.3 C159.1,566.7 162.2,565.2 165.4,565.0 C168.6,564.8 171.8,565.4 175.0,566.2 C178.2,567.0 181.4,569.1 184.6,569.7 C187.8,570.3 191.0,569.9 194.2,569.7 C197.4,569.5 200.5,568.9 203.7,568.5 C206.9,568.1 210.1,567.3 213.3,567.3 C216.5,567.3 219.7,568.1 222.9,568.5 C226.1,568.9 229.3,569.1 232.5,569.7 C235.7,570.3 238.4,571.3 242.0,572.1 C245.6,572.9 251.3,574.0 254.0,574.5 C256.7,575.0 257.3,574.9 258.0,575.0" fill="none" stroke="#2a2a2a" stroke-width="2.8" stroke-linecap="round" stroke-linejoin="round" filter="url(#b06)"/>
<g filter="url(#b06)"><ellipse cx="117.5" cy="577" rx="5.5" ry="4" fill="#222"/><ellipse cx="104" cy="574" rx="3" ry="2.5" fill="#333"/></g>
<g filter="url(#b07)"><circle cx="157.7" cy="571.2" r="1.3" fill="#3d3d3d"/><circle cx="199.5" cy="566.9" r="1.1" fill="#363636"/><circle cx="102.6" cy="574.1" r="2.2" fill="#5f5f5f"/><circle cx="207.6" cy="567.6" r="2.2" fill="#575757"/><circle cx="252.1" cy="576.2" r="2.3" fill="#5c5c5c"/><circle cx="154.7" cy="566.7" r="1.7" fill="#232323"/><circle cx="239.2" cy="573.3" r="1.8" fill="#434343"/><circle cx="163.7" cy="562.1" r="1.3" fill="#2a2a2a"/><circle cx="196.6" cy="571.7" r="1.1" fill="#262626"/><circle cx="214.4" cy="568.6" r="2.4" fill="#5b5b5b"/><circle cx="124.7" cy="577.7" r="1.6" fill="#5d5d5d"/><circle cx="169" cy="563.8" r="2.1" fill="#565656"/><circle cx="202.3" cy="564.4" r="1.7" fill="#2b2b2b"/><circle cx="104.7" cy="577" r="1.6" fill="#464646"/><circle cx="198.2" cy="566.4" r="1.3" fill="#5f5f5f"/><circle cx="153.4" cy="568.4" r="1.1" fill="#262626"/><circle cx="117.1" cy="577.1" r="1.9" fill="#272727"/><circle cx="132.3" cy="576.6" r="1.2" fill="#454545"/><circle cx="130.9" cy="571.9" r="2.1" fill="#585858"/><circle cx="169.8" cy="561.6" r="1.4" fill="#555555"/><circle cx="176.9" cy="564.3" r="1.5" fill="#565656"/><circle cx="255.8" cy="575.3" r="1.2" fill="#373737"/><circle cx="164.2" cy="566.6" r="1.8" fill="#333333"/><circle cx="189.1" cy="566" r="1.2" fill="#373737"/><circle cx="180" cy="567.9" r="2.1" fill="#1d1d1d"/><circle cx="180.6" cy="566.3" r="1.2" fill="#1a1a1a"/><circle cx="140.6" cy="574.5" r="1.1" fill="#4a4a4a"/><circle cx="205" cy="567.1" r="1.8" fill="#292929"/><circle cx="184.6" cy="574.2" r="2.4" fill="#212121"/><circle cx="208.9" cy="572.4" r="1.3" fill="#5c5c5c"/><circle cx="210.7" cy="564.6" r="1.1" fill="#181818"/><circle cx="149.6" cy="564.5" r="1.2" fill="#333333"/><circle cx="139.5" cy="571.1" r="1.4" fill="#515151"/><circle cx="193.4" cy="565.9" r="2.1" fill="#444444"/><circle cx="142.7" cy="569.6" r="1.4" fill="#4d4d4d"/><circle cx="103.3" cy="580.1" r="1.4" fill="#3a3a3a"/><circle cx="108.1" cy="574.6" r="2.4" fill="#1d1d1d"/><circle cx="135" cy="573.1" r="1.6" fill="#565656"/><circle cx="105" cy="573.3" r="2.3" fill="#292929"/><circle cx="155" cy="568.1" r="1.1" fill="#1c1c1c"/><circle cx="201.9" cy="573.2" r="1.6" fill="#171717"/><circle cx="117.9" cy="575.4" r="2.2" fill="#202020"/><circle cx="211.2" cy="569.3" r="2.3" fill="#1b1b1b"/><circle cx="109.2" cy="574.5" r="1.5" fill="#232323"/><circle cx="115.1" cy="573.6" r="1.2" fill="#555555"/><circle cx="106.3" cy="574.2" r="2.4" fill="#1f1f1f"/><circle cx="226.4" cy="569.2" r="2.3" fill="#484848"/><circle cx="222.7" cy="569.4" r="2.2" fill="#2a2a2a"/><circle cx="159.2" cy="565.7" r="2.4" fill="#3d3d3d"/><circle cx="214.2" cy="568.3" r="1.7" fill="#5a5a5a"/><circle cx="129.7" cy="578.2" r="2" fill="#1e1e1e"/><circle cx="195.8" cy="570.6" r="2.3" fill="#323232"/><circle cx="158.6" cy="568.3" r="1.7" fill="#3a3a3a"/><circle cx="174" cy="559.9" r="1.6" fill="#2f2f2f"/><circle cx="107.5" cy="577.6" r="1.2" fill="#343434"/><circle cx="152.6" cy="565.7" r="2.4" fill="#2a2a2a"/><circle cx="165.1" cy="567.9" r="2" fill="#303030"/><circle cx="151.8" cy="568.5" r="1.6" fill="#4f4f4f"/><circle cx="154.9" cy="568.5" r="1.9" fill="#1c1c1c"/><circle cx="179.5" cy="566.6" r="2" fill="#242424"/><circle cx="184.6" cy="569.4" r="1.2" fill="#181818"/><circle cx="249.2" cy="578" r="1.6" fill="#4c4c4c"/><circle cx="138.4" cy="572.2" r="2.2" fill="#555555"/><circle cx="171.7" cy="566.4" r="1.1" fill="#383838"/><circle cx="159.1" cy="566.9" r="1.5" fill="#1f1f1f"/><circle cx="105.6" cy="575.5" r="2.1" fill="#232323"/><circle cx="103.1" cy="576.4" r="2.2" fill="#575757"/><circle cx="247" cy="573.4" r="2.3" fill="#232323"/><circle cx="181.7" cy="566" r="1.2" fill="#5f5f5f"/><circle cx="257.9" cy="575.2" r="1.7" fill="#1a1a1a"/><line x1="146.3" y1="568.5" x2="145.8" y2="565.5" stroke="#444" stroke-width="1.2"/><circle cx="146.3" cy="565.5" r="2.6" fill="#0c0c0c"/><line x1="152" y1="567.8" x2="151.8" y2="564.5" stroke="#444" stroke-width="1.2"/><circle cx="152" cy="564.5" r="2.6" fill="#0c0c0c"/><line x1="173.8" y1="566" x2="173.6" y2="560.5" stroke="#444" stroke-width="1.2"/><circle cx="173.8" cy="560.5" r="2.6" fill="#0c0c0c"/><line x1="201.3" y1="568.8" x2="202.2" y2="564.2" stroke="#444" stroke-width="1.2"/><circle cx="201.3" cy="564.2" r="2.6" fill="#0c0c0c"/><line x1="211" y1="567.6" x2="210.7" y2="561.8" stroke="#444" stroke-width="1.2"/><circle cx="211" cy="561.8" r="2.8" fill="#0c0c0c"/><line x1="228.9" y1="569.2" x2="229.4" y2="566" stroke="#444" stroke-width="1.2"/><circle cx="228.9" cy="566" r="2.6" fill="#0c0c0c"/><line x1="237.3" y1="570.9" x2="236.6" y2="575.5" stroke="#444" stroke-width="1.2"/><circle cx="237.3" cy="575.5" r="2.7" fill="#0c0c0c"/><line x1="205" y1="568.3" x2="205.5" y2="571.5" stroke="#444" stroke-width="1.2"/><circle cx="205" cy="571.5" r="2.6" fill="#0c0c0c"/><line x1="186" y1="569.7" x2="185.9" y2="571" stroke="#444" stroke-width="1.2"/><circle cx="186" cy="571" r="2.6" fill="#0c0c0c"/><line x1="124" y1="577" x2="125" y2="572" stroke="#444" stroke-width="1.2"/><circle cx="124" cy="572" r="2.6" fill="#0c0c0c"/><line x1="113" y1="576.4" x2="112" y2="571" stroke="#444" stroke-width="1.2"/><circle cx="113" cy="571" r="2.6" fill="#0c0c0c"/><line x1="160" y1="566.3" x2="159.5" y2="562.5" stroke="#444" stroke-width="1.2"/><circle cx="160" cy="562.5" r="2.6" fill="#0c0c0c"/><line x1="242" y1="572.1" x2="242.8" y2="567" stroke="#444" stroke-width="1.2"/><circle cx="242" cy="567" r="2.6" fill="#0c0c0c"/><line x1="222" y1="568.4" x2="221.9" y2="572" stroke="#444" stroke-width="1.2"/><circle cx="222" cy="572" r="2.6" fill="#0c0c0c"/></g>
</g></g>
<rect x="98.40" y="550.40" width="158.20" height="36.90" fill="none" stroke="#333" stroke-width="1.1" />
<clipPath id="ce6"><rect x="258.9" y="550.4" width="157.10000000000002" height="36.89999999999998"/></clipPath>
<rect x="258.90" y="550.40" width="157.10" height="36.90" fill="#d6d6d6" stroke="none" stroke-width="1" />
<g clip-path="url(#ce6)"><g filter="url(#b1)">
<ellipse cx="300" cy="582" rx="40" ry="5" fill="#e2e2e2" filter="url(#b3)"/>
<ellipse cx="330" cy="556" rx="30" ry="3" fill="#dedede" filter="url(#b3)"/>
<rect x="258.9" y="550.4" width="157.10000000000002" height="36.89999999999998" filter="url(#nz)"/>
<g filter="url(#b2)"><ellipse cx="395" cy="556" rx="12" ry="5" fill="#666"/></g>
<path d="M258.0,578.1 C259.7,577.3 264.3,574.9 268.0,573.3 C271.7,571.7 276.0,569.5 280.0,568.5 C284.0,567.5 287.9,567.3 291.9,567.3 C295.9,567.3 299.9,567.9 303.9,568.5 C307.9,569.1 311.9,570.6 315.9,571.0 C319.9,571.4 323.8,571.0 327.8,571.0 C331.8,571.0 335.8,571.0 339.8,571.0 C343.8,571.0 347.8,571.2 351.8,571.0 C355.8,570.8 359.7,570.5 363.7,569.7 C367.7,568.9 371.7,567.6 375.7,566.2 C379.7,564.8 383.7,562.6 387.7,561.4 C391.7,560.2 395.2,559.8 399.6,559.0 C404.0,558.2 411.1,557.1 414.0,556.6 C416.9,556.1 416.5,556.1 417.0,556.0" fill="none" stroke="#858585" stroke-width="8" stroke-linecap="round" filter="url(#b15)"/>
<path d="M258.0,578.1 C259.7,577.3 264.3,574.9 268.0,573.3 C271.7,571.7 276.0,569.5 280.0,568.5 C284.0,567.5 287.9,567.3 291.9,567.3 C295.9,567.3 299.9,567.9 303.9,568.5 C307.9,569.1 311.9,570.6 315.9,571.0 C319.9,571.4 323.8,571.0 327.8,571.0 C331.8,571.0 335.8,571.0 339.8,571.0 C343.8,571.0 347.8,571.2 351.8,571.0 C355.8,570.8 359.7,570.5 363.7,569.7 C367.7,568.9 371.7,567.6 375.7,566.2 C379.7,564.8 383.7,562.6 387.7,561.4 C391.7,560.2 395.2,559.8 399.6,559.0 C404.0,558.2 411.1,557.1 414.0,556.6 C416.9,556.1 416.5,556.1 417.0,556.0" fill="none" stroke="#2e2e2e" stroke-width="2.6" stroke-linecap="round" stroke-linejoin="round" filter="url(#b06)"/>
<g filter="url(#b07)"><circle cx="376.8" cy="566.3" r="1.8" fill="#1d1d1d"/><circle cx="278.3" cy="571.1" r="2.3" fill="#535353"/><circle cx="264.6" cy="573.5" r="1.9" fill="#353535"/><circle cx="414.9" cy="553.2" r="1.6" fill="#2f2f2f"/><circle cx="383" cy="564" r="2.3" fill="#323232"/><circle cx="280.9" cy="568.3" r="1.3" fill="#535353"/><circle cx="391.4" cy="563.4" r="2.2" fill="#191919"/><circle cx="262.8" cy="575" r="2" fill="#5b5b5b"/><circle cx="343.3" cy="566.7" r="1.7" fill="#5d5d5d"/><circle cx="307.9" cy="569.1" r="1.4" fill="#4c4c4c"/><circle cx="326.7" cy="570.6" r="2.3" fill="#2f2f2f"/><circle cx="407.4" cy="556.7" r="1.5" fill="#4c4c4c"/><circle cx="354.5" cy="571.5" r="1.2" fill="#5c5c5c"/><circle cx="371.5" cy="568.6" r="1.1" fill="#4a4a4a"/><circle cx="292.7" cy="559.8" r="2.3" fill="#5b5b5b"/><circle cx="310" cy="564.5" r="1.6" fill="#1b1b1b"/><circle cx="407.8" cy="556.6" r="1.1" fill="#222222"/><circle cx="365.4" cy="565.4" r="2.1" fill="#272727"/><circle cx="365.9" cy="568" r="2.1" fill="#4d4d4d"/><circle cx="313.3" cy="576.6" r="1.7" fill="#474747"/><circle cx="371" cy="569.2" r="1" fill="#242424"/><circle cx="412.6" cy="556.5" r="1.9" fill="#525252"/><circle cx="263.3" cy="577.2" r="2" fill="#4c4c4c"/><circle cx="265.7" cy="578.1" r="2.4" fill="#2a2a2a"/><circle cx="268.2" cy="573.9" r="1.9" fill="#1a1a1a"/><circle cx="397.9" cy="560.5" r="2.2" fill="#4c4c4c"/><circle cx="344.8" cy="571.8" r="2.1" fill="#3f3f3f"/><circle cx="361.1" cy="567.7" r="1.8" fill="#484848"/><circle cx="262.6" cy="577.5" r="1.3" fill="#333333"/><circle cx="281.1" cy="569.7" r="1.8" fill="#474747"/><circle cx="321.9" cy="572.6" r="1.7" fill="#1e1e1e"/><circle cx="374.4" cy="562.2" r="2.3" fill="#1b1b1b"/><circle cx="261.8" cy="574.2" r="1.3" fill="#3f3f3f"/><circle cx="327.2" cy="572.6" r="1.3" fill="#555555"/><circle cx="296.1" cy="559.7" r="1.1" fill="#181818"/><circle cx="291.9" cy="566" r="2.1" fill="#282828"/><circle cx="346.3" cy="576.1" r="2.4" fill="#5b5b5b"/><circle cx="284.3" cy="573.9" r="1.2" fill="#595959"/><circle cx="414.7" cy="559.7" r="1.2" fill="#303030"/><circle cx="312.4" cy="571.4" r="1.3" fill="#5c5c5c"/><circle cx="260.5" cy="576.8" r="1.7" fill="#606060"/><circle cx="372.6" cy="569.1" r="1.5" fill="#363636"/><circle cx="379.1" cy="566.3" r="1.4" fill="#606060"/><circle cx="389.9" cy="554.7" r="2.1" fill="#373737"/><circle cx="322.3" cy="574.9" r="2.4" fill="#3d3d3d"/><circle cx="287.6" cy="564.3" r="1.4" fill="#323232"/><circle cx="348.4" cy="567.9" r="1.8" fill="#3e3e3e"/><circle cx="379.2" cy="564.7" r="1.7" fill="#222222"/><circle cx="390.2" cy="561.2" r="2.2" fill="#1d1d1d"/><circle cx="376.3" cy="562.4" r="2" fill="#606060"/><circle cx="407.3" cy="558.1" r="1.5" fill="#202020"/><circle cx="379.5" cy="563.6" r="2" fill="#252525"/><circle cx="334.9" cy="565.9" r="2.2" fill="#4b4b4b"/><circle cx="298" cy="568.1" r="1.8" fill="#222222"/><circle cx="359" cy="569.1" r="2.1" fill="#323232"/><circle cx="300.4" cy="568.2" r="2" fill="#3c3c3c"/><circle cx="379.4" cy="565.6" r="1.8" fill="#272727"/><circle cx="389.6" cy="565.8" r="2.4" fill="#515151"/><circle cx="275.1" cy="568.3" r="2.2" fill="#4e4e4e"/><circle cx="334.6" cy="571.2" r="1.2" fill="#393939"/><circle cx="270.2" cy="573" r="1.9" fill="#2e2e2e"/><circle cx="380.5" cy="569.2" r="1.1" fill="#353535"/><circle cx="348.7" cy="572.3" r="1.5" fill="#4a4a4a"/><circle cx="328" cy="569.6" r="2.4" fill="#575757"/><circle cx="289.3" cy="567.9" r="2" fill="#262626"/><circle cx="345.7" cy="572.4" r="1.4" fill="#1e1e1e"/><circle cx="329.6" cy="564.4" r="2.3" fill="#282828"/><circle cx="357.1" cy="569.1" r="2.2" fill="#444444"/><circle cx="359.9" cy="567.3" r="1.5" fill="#5e5e5e"/><circle cx="363.9" cy="569.7" r="1.9" fill="#4b4b4b"/><circle cx="370.9" cy="567.6" r="1.2" fill="#424242"/><circle cx="414.6" cy="556" r="1.3" fill="#272727"/><circle cx="339.6" cy="574.5" r="1.5" fill="#5d5d5d"/><circle cx="270.4" cy="570.5" r="1.2" fill="#171717"/><circle cx="295.1" cy="566.5" r="1.7" fill="#282828"/><circle cx="350.7" cy="567.1" r="1.1" fill="#464646"/><circle cx="320.5" cy="573.4" r="1.8" fill="#555555"/><circle cx="350.3" cy="571.8" r="1.8" fill="#1d1d1d"/><circle cx="329.8" cy="573.3" r="1.2" fill="#292929"/><circle cx="317" cy="574.6" r="1.8" fill="#434343"/><circle cx="343.3" cy="569.7" r="1.5" fill="#404040"/><circle cx="360.3" cy="568.8" r="1.7" fill="#3a3a3a"/><circle cx="390.7" cy="558.8" r="2.3" fill="#3a3a3a"/><circle cx="307.1" cy="573.8" r="2.1" fill="#5a5a5a"/><circle cx="301.6" cy="563.1" r="1.7" fill="#3a3a3a"/><circle cx="365.3" cy="573.6" r="1.8" fill="#434343"/><circle cx="321.4" cy="566.2" r="1.3" fill="#343434"/><circle cx="352.7" cy="568.4" r="1.7" fill="#2f2f2f"/><circle cx="268.4" cy="568.3" r="2.3" fill="#2e2e2e"/><circle cx="334.6" cy="567" r="2.1" fill="#555555"/><line x1="262" y1="576.2" x2="261.5" y2="566.2" stroke="#444" stroke-width="1.2"/><circle cx="262" cy="566.2" r="3" fill="#0c0c0c"/><line x1="289.5" y1="567.5" x2="290" y2="560.5" stroke="#444" stroke-width="1.2"/><circle cx="289.5" cy="560.5" r="2.8" fill="#0c0c0c"/><line x1="308.7" y1="569.5" x2="308.7" y2="566" stroke="#444" stroke-width="1.2"/><circle cx="308.7" cy="566" r="2.8" fill="#0c0c0c"/><line x1="338.6" y1="571" x2="338.5" y2="565" stroke="#444" stroke-width="1.2"/><circle cx="338.6" cy="565" r="3.2" fill="#0c0c0c"/><line x1="347" y1="571" x2="346.3" y2="571.5" stroke="#444" stroke-width="1.2"/><circle cx="347" cy="571.5" r="2.9" fill="#0c0c0c"/><line x1="373.3" y1="566.9" x2="373.9" y2="577" stroke="#444" stroke-width="1.2"/><circle cx="373.3" cy="577" r="3.2" fill="#0c0c0c"/><line x1="396" y1="559.7" x2="396.3" y2="571.5" stroke="#444" stroke-width="1.2"/><circle cx="396" cy="571.5" r="3" fill="#0c0c0c"/><line x1="411.6" y1="557" x2="410.7" y2="555.4" stroke="#444" stroke-width="1.2"/><circle cx="411.6" cy="555.4" r="2.8" fill="#0c0c0c"/><line x1="330.2" y1="571" x2="329.6" y2="572.5" stroke="#444" stroke-width="1.2"/><circle cx="330.2" cy="572.5" r="2.8" fill="#0c0c0c"/><line x1="318" y1="571" x2="317.1" y2="575" stroke="#444" stroke-width="1.2"/><circle cx="318" cy="575" r="2.8" fill="#0c0c0c"/><line x1="300" y1="568.1" x2="300.1" y2="572" stroke="#444" stroke-width="1.2"/><circle cx="300" cy="572" r="2.8" fill="#0c0c0c"/><line x1="355" y1="570.7" x2="355.4" y2="566" stroke="#444" stroke-width="1.2"/><circle cx="355" cy="566" r="2.8" fill="#0c0c0c"/><line x1="366" y1="569" x2="365.7" y2="573" stroke="#444" stroke-width="1.2"/><circle cx="366" cy="573" r="2.8" fill="#0c0c0c"/><line x1="384" y1="562.9" x2="383.4" y2="566" stroke="#444" stroke-width="1.2"/><circle cx="384" cy="566" r="2.8" fill="#0c0c0c"/><line x1="392" y1="560.5" x2="391.8" y2="556" stroke="#444" stroke-width="1.2"/><circle cx="392" cy="556" r="2.8" fill="#0c0c0c"/><line x1="403" y1="558.4" x2="403.2" y2="553" stroke="#444" stroke-width="1.2"/><circle cx="403" cy="553" r="2.8" fill="#0c0c0c"/><line x1="285" y1="568" x2="284.1" y2="564" stroke="#444" stroke-width="1.2"/><circle cx="285" cy="564" r="2.8" fill="#0c0c0c"/></g>
</g></g>
<rect x="258.90" y="550.40" width="157.10" height="36.90" fill="none" stroke="#333" stroke-width="1.1" />
<line x1="372.80" y1="584.20" x2="415.20" y2="584.20" stroke="#111" stroke-width="1.6" />
<text x="393.20" y="579.60" font-size="10" font-weight="bold" font-style="normal" text-anchor="middle" fill="#111" >5μm</text>
<text x="424.50" y="462.00" font-size="18" font-weight="bold" font-style="normal" text-anchor="start" fill="#111" >f</text>
<line x1="472.20" y1="461.90" x2="472.20" y2="571.10" stroke="#111" stroke-width="1.2" />
<line x1="471.60" y1="570.50" x2="582.20" y2="570.50" stroke="#111" stroke-width="1.2" />
<line x1="469.00" y1="570.50" x2="472.20" y2="570.50" stroke="#111" stroke-width="1.2" />
<text x="466.60" y="573.39" font-size="8.5" font-weight="bold" font-style="normal" text-anchor="end" fill="#111" >0</text>
<line x1="469.00" y1="543.35" x2="472.20" y2="543.35" stroke="#111" stroke-width="1.2" />
<text x="466.60" y="546.24" font-size="8.5" font-weight="bold" font-style="normal" text-anchor="end" fill="#111" >10</text>
<line x1="469.00" y1="516.20" x2="472.20" y2="516.20" stroke="#111" stroke-width="1.2" />
<text x="466.60" y="519.09" font-size="8.5" font-weight="bold" font-style="normal" text-anchor="end" fill="#111" >20</text>
<line x1="469.00" y1="489.05" x2="472.20" y2="489.05" stroke="#111" stroke-width="1.2" />
<text x="466.60" y="491.94" font-size="8.5" font-weight="bold" font-style="normal" text-anchor="end" fill="#111" >30</text>
<line x1="469.00" y1="461.90" x2="472.20" y2="461.90" stroke="#111" stroke-width="1.2" />
<text x="466.60" y="464.79" font-size="8.5" font-weight="bold" font-style="normal" text-anchor="end" fill="#111" >40</text>
<text transform="translate(448.80,516.30) rotate(-90)" x="0" y="0" font-size="9.1" font-weight="bold" font-style="normal" text-anchor="middle" dominant-baseline="central" fill="#111">NO.of dendritic spines(10um)</text>
<rect x="478.40" y="500.17" width="8.20" height="70.33" fill="#fff" stroke="#1010f0" stroke-width="1.6"/>
<line x1="482.50" y1="497.19" x2="482.50" y2="501.54" stroke="#1010f0" stroke-width="0.9" />
<line x1="480.00" y1="497.19" x2="485.00" y2="497.19" stroke="#1010f0" stroke-width="0.9" />
<line x1="480.00" y1="501.54" x2="485.00" y2="501.54" stroke="#1010f0" stroke-width="0.9" />
<circle cx="483.4" cy="483.6" r="1.6" fill="#1010f0"/>
<circle cx="484.2" cy="486.3" r="1.6" fill="#1010f0"/>
<circle cx="484.6" cy="486.3" r="1.6" fill="#1010f0"/>
<circle cx="485.7" cy="489.1" r="1.6" fill="#1010f0"/>
<circle cx="484.2" cy="491.8" r="1.6" fill="#1010f0"/>
<circle cx="485.5" cy="494.5" r="1.6" fill="#1010f0"/>
<circle cx="479.1" cy="497.2" r="1.6" fill="#1010f0"/>
<circle cx="482.3" cy="499.9" r="1.6" fill="#1010f0"/>
<circle cx="485.7" cy="499.9" r="1.6" fill="#1010f0"/>
<circle cx="483.6" cy="502.6" r="1.6" fill="#1010f0"/>
<circle cx="485.4" cy="505.3" r="1.6" fill="#1010f0"/>
<circle cx="479.7" cy="508.1" r="1.6" fill="#1010f0"/>
<circle cx="482.3" cy="510.8" r="1.6" fill="#1010f0"/>
<circle cx="480.7" cy="513.5" r="1.6" fill="#1010f0"/>
<circle cx="482.8" cy="518.9" r="1.6" fill="#1010f0"/>
<rect x="494.20" y="523.52" width="8.60" height="46.98" fill="#fff" stroke="#f02020" stroke-width="1.6"/>
<line x1="498.50" y1="520.54" x2="498.50" y2="524.89" stroke="#f02020" stroke-width="0.9" />
<line x1="496.00" y1="520.54" x2="501.00" y2="520.54" stroke="#f02020" stroke-width="0.9" />
<line x1="496.00" y1="524.89" x2="501.00" y2="524.89" stroke="#f02020" stroke-width="0.9" />
<circle cx="499" cy="505.3" r="1.6" fill="#f02020"/>
<circle cx="495" cy="508.1" r="1.6" fill="#f02020"/>
<circle cx="496.5" cy="513.5" r="1.6" fill="#f02020"/>
<circle cx="496.9" cy="516.2" r="1.6" fill="#f02020"/>
<circle cx="501.5" cy="518.9" r="1.6" fill="#f02020"/>
<circle cx="500.4" cy="521.6" r="1.6" fill="#f02020"/>
<circle cx="496" cy="521.6" r="1.6" fill="#f02020"/>
<circle cx="500.6" cy="524.3" r="1.6" fill="#f02020"/>
<circle cx="495.9" cy="527.1" r="1.6" fill="#f02020"/>
<circle cx="499.3" cy="527.1" r="1.6" fill="#f02020"/>
<circle cx="495.8" cy="529.8" r="1.6" fill="#f02020"/>
<circle cx="494.9" cy="529.8" r="1.6" fill="#f02020"/>
<circle cx="501.2" cy="532.5" r="1.6" fill="#f02020"/>
<circle cx="496.4" cy="535.2" r="1.6" fill="#f02020"/>
<rect x="510.30" y="511.57" width="8.00" height="58.93" fill="#fff" stroke="#40d020" stroke-width="1.6"/>
<line x1="514.30" y1="508.60" x2="514.30" y2="512.94" stroke="#40d020" stroke-width="0.9" />
<line x1="511.80" y1="508.60" x2="516.80" y2="508.60" stroke="#40d020" stroke-width="0.9" />
<line x1="511.80" y1="512.94" x2="516.80" y2="512.94" stroke="#40d020" stroke-width="0.9" />
<circle cx="512.3" cy="486.3" r="1.6" fill="#40d020"/>
<circle cx="517.8" cy="494.5" r="1.6" fill="#40d020"/>
<circle cx="517" cy="502.6" r="1.6" fill="#40d020"/>
<circle cx="512.8" cy="502.6" r="1.6" fill="#40d020"/>
<circle cx="517.6" cy="505.3" r="1.6" fill="#40d020"/>
<circle cx="514.6" cy="508.1" r="1.6" fill="#40d020"/>
<circle cx="515.6" cy="510.8" r="1.6" fill="#40d020"/>
<circle cx="512.2" cy="510.8" r="1.6" fill="#40d020"/>
<circle cx="517.5" cy="513.5" r="1.6" fill="#40d020"/>
<circle cx="515.7" cy="513.5" r="1.6" fill="#40d020"/>
<circle cx="517.7" cy="516.2" r="1.6" fill="#40d020"/>
<circle cx="517.1" cy="518.9" r="1.6" fill="#40d020"/>
<circle cx="512.9" cy="521.6" r="1.6" fill="#40d020"/>
<circle cx="513.3" cy="527.1" r="1.6" fill="#40d020"/>
<line x1="497.80" y1="570.50" x2="497.80" y2="574.50" stroke="#111" stroke-width="1.2" />
<text x="497.80" y="584.20" font-size="8.6" font-weight="bold" font-style="normal" text-anchor="middle" fill="#111" >CA1</text>
<rect x="535.80" y="522.97" width="8.60" height="47.53" fill="#fff" stroke="#1010f0" stroke-width="1.6"/>
<line x1="540.10" y1="520.00" x2="540.10" y2="524.35" stroke="#1010f0" stroke-width="0.9" />
<line x1="537.60" y1="520.00" x2="542.60" y2="520.00" stroke="#1010f0" stroke-width="0.9" />
<line x1="537.60" y1="524.35" x2="542.60" y2="524.35" stroke="#1010f0" stroke-width="0.9" />
<circle cx="537.7" cy="508.1" r="1.6" fill="#1010f0"/>
<circle cx="537.5" cy="513.5" r="1.6" fill="#1010f0"/>
<circle cx="537" cy="516.2" r="1.6" fill="#1010f0"/>
<circle cx="538.7" cy="518.9" r="1.6" fill="#1010f0"/>
<circle cx="540.8" cy="521.6" r="1.6" fill="#1010f0"/>
<circle cx="536.5" cy="521.6" r="1.6" fill="#1010f0"/>
<circle cx="541.4" cy="521.6" r="1.6" fill="#1010f0"/>
<circle cx="538.9" cy="524.3" r="1.6" fill="#1010f0"/>
<circle cx="538.7" cy="524.3" r="1.6" fill="#1010f0"/>
<circle cx="542.4" cy="527.1" r="1.6" fill="#1010f0"/>
<circle cx="540" cy="527.1" r="1.6" fill="#1010f0"/>
<circle cx="538.8" cy="529.8" r="1.6" fill="#1010f0"/>
<circle cx="540" cy="529.8" r="1.6" fill="#1010f0"/>
<circle cx="541.6" cy="535.2" r="1.6" fill="#1010f0"/>
<rect x="551.30" y="533.02" width="8.90" height="37.48" fill="#fff" stroke="#f02020" stroke-width="1.6"/>
<line x1="555.75" y1="530.05" x2="555.75" y2="534.39" stroke="#f02020" stroke-width="0.9" />
<line x1="553.25" y1="530.05" x2="558.25" y2="530.05" stroke="#f02020" stroke-width="0.9" />
<line x1="553.25" y1="534.39" x2="558.25" y2="534.39" stroke="#f02020" stroke-width="0.9" />
<circle cx="552.6" cy="513.5" r="1.6" fill="#f02020"/>
<circle cx="559.2" cy="513.5" r="1.6" fill="#f02020"/>
<circle cx="552.3" cy="524.3" r="1.6" fill="#f02020"/>
<circle cx="557.5" cy="527.1" r="1.6" fill="#f02020"/>
<circle cx="558.2" cy="529.8" r="1.6" fill="#f02020"/>
<circle cx="552.3" cy="529.8" r="1.6" fill="#f02020"/>
<circle cx="557.8" cy="532.5" r="1.6" fill="#f02020"/>
<circle cx="554.8" cy="532.5" r="1.6" fill="#f02020"/>
<circle cx="556.3" cy="535.2" r="1.6" fill="#f02020"/>
<circle cx="552.2" cy="535.2" r="1.6" fill="#f02020"/>
<circle cx="552.5" cy="537.9" r="1.6" fill="#f02020"/>
<circle cx="553.5" cy="537.9" r="1.6" fill="#f02020"/>
<circle cx="559" cy="540.6" r="1.6" fill="#f02020"/>
<circle cx="553.6" cy="543.4" r="1.6" fill="#f02020"/>
<circle cx="557.6" cy="546.1" r="1.6" fill="#f02020"/>
<rect x="567.30" y="524.60" width="8.50" height="45.90" fill="#fff" stroke="#40d020" stroke-width="1.6"/>
<line x1="571.55" y1="521.63" x2="571.55" y2="525.97" stroke="#40d020" stroke-width="0.9" />
<line x1="569.05" y1="521.63" x2="574.05" y2="521.63" stroke="#40d020" stroke-width="0.9" />
<line x1="569.05" y1="525.97" x2="574.05" y2="525.97" stroke="#40d020" stroke-width="0.9" />
<circle cx="574.6" cy="505.3" r="1.6" fill="#40d020"/>
<circle cx="574.7" cy="513.5" r="1.6" fill="#40d020"/>
<circle cx="570.4" cy="516.2" r="1.6" fill="#40d020"/>
<circle cx="570.5" cy="518.9" r="1.6" fill="#40d020"/>
<circle cx="571.7" cy="521.6" r="1.6" fill="#40d020"/>
<circle cx="573.5" cy="521.6" r="1.6" fill="#40d020"/>
<circle cx="568.7" cy="524.3" r="1.6" fill="#40d020"/>
<circle cx="573.3" cy="524.3" r="1.6" fill="#40d020"/>
<circle cx="573.7" cy="527.1" r="1.6" fill="#40d020"/>
<circle cx="574.1" cy="527.1" r="1.6" fill="#40d020"/>
<circle cx="568.2" cy="527.1" r="1.6" fill="#40d020"/>
<circle cx="574.8" cy="529.8" r="1.6" fill="#40d020"/>
<circle cx="568.6" cy="529.8" r="1.6" fill="#40d020"/>
<circle cx="570.4" cy="529.8" r="1.6" fill="#40d020"/>
<line x1="555.40" y1="570.50" x2="555.40" y2="574.50" stroke="#111" stroke-width="1.2" />
<text x="555.40" y="584.20" font-size="8.6" font-weight="bold" font-style="normal" text-anchor="middle" fill="#111" >DG</text>
<line x1="483.00" y1="467.50" x2="503.20" y2="467.50" stroke="#111" stroke-width="1.5" />
<path d="M483.1 456.7v5.4M480.7 458l4.7 2.7M480.7 460.8l4.7 -2.7M489.8 456.7v5.4M487.4 458l4.7 2.7M487.4 460.8l4.7 -2.7M496.5 456.7v5.4M494.1 458l4.7 2.7M494.1 460.8l4.7 -2.7M503.2 456.7v5.4M500.8 458l4.7 2.7M500.8 460.8l4.7 -2.7" stroke="#111" stroke-width="1.35" fill="none"/>
<line x1="495.70" y1="481.70" x2="516.00" y2="481.70" stroke="#111" stroke-width="1.5" />
<path d="M502.5 470.7v5.4M500.2 472l4.7 2.7M500.2 474.8l4.7 -2.7M509.2 470.7v5.4M506.9 472l4.7 2.7M506.9 474.8l4.7 -2.7" stroke="#111" stroke-width="1.35" fill="none"/>
<line x1="535.70" y1="492.90" x2="555.60" y2="492.90" stroke="#111" stroke-width="1.5" />
<path d="M541.9 482.3v5.4M539.6 483.6l4.7 2.7M539.6 486.4l4.7 -2.7M548.6 482.3v5.4M546.3 483.6l4.7 2.7M546.3 486.4l4.7 -2.7" stroke="#111" stroke-width="1.35" fill="none"/>
<line x1="555.00" y1="499.90" x2="574.90" y2="499.90" stroke="#111" stroke-width="1.5" />
<path d="M564.3 488.5v5.4M562 489.8l4.7 2.7M562 492.6l4.7 -2.7" stroke="#111" stroke-width="1.35" fill="none"/>
<circle cx="592.7" cy="474.6" r="1.8" fill="#1010f0"/>
<text x="605.50" y="477.90" font-size="9.2" font-weight="bold" font-style="normal" text-anchor="start" fill="#111" >WT</text>
<circle cx="592.7" cy="489" r="1.8" fill="#f02020"/>
<text x="605.50" y="492.30" font-size="9.2" font-weight="bold" font-style="normal" text-anchor="start" fill="#111" >3xTg-AD</text>
<circle cx="592.7" cy="504.7" r="1.8" fill="#40d020"/>
<text x="605.50" y="508.00" font-size="9.2" font-weight="bold" font-style="normal" text-anchor="start" fill="#111" >3xTg-AD+β-OHB</text>
<text x="1.50" y="613.50" font-size="18" font-weight="bold" font-style="normal" text-anchor="start" fill="#111" >g</text>
<clipPath id="cg_1"><rect x="20.2" y="608.3" width="52.599999999999994" height="115.10000000000002"/></clipPath>
<rect x="20.20" y="608.30" width="52.60" height="115.10" fill="#dcdcdc" stroke="none" stroke-width="1" />
<g clip-path="url(#cg_1)"><g filter="url(#b04)">
<ellipse cx="30" cy="648" rx="7" ry="9" fill="#ececec" filter="url(#b3)"/>
<ellipse cx="58" cy="652" rx="10" ry="9" fill="#eaeaea" filter="url(#b3)"/>
<ellipse cx="52" cy="708" rx="8" ry="10" fill="#e6e6e6" filter="url(#b3)"/>
<ellipse cx="45" cy="612" rx="10" ry="4" fill="#e4e4e4" filter="url(#b3)"/>
<rect x="20.2" y="608.3" width="52.599999999999994" height="115.10000000000002" filter="url(#nz2)"/>
<g filter="url(#b04)" opacity="1.0"><path d="M50.8 630.6l-1.1-1.2-1.2-1.1-.5-1.5-.9-1.3-.8-1.4-1.2-1-1.5-.5-1.4-.8-1.2-1.1-.7-1.4" fill="none" stroke="#6a6a6a" stroke-width="0.57" stroke-linecap="round" stroke-linejoin="round"/><path d="M48.5 630.2l-1.5-.6-1.1-1.2-1.1-1.1-.9-1.3-.5-1.6" fill="none" stroke="#5b5b5b" stroke-width="0.65" stroke-linecap="round" stroke-linejoin="round"/><path d="M55.2 710.4l1.6 .4 1.5 .4 1.6-.3 1.6 .1 1.5-.4 1.5 .8" fill="none" stroke="#595959" stroke-width="0.56" stroke-linecap="round" stroke-linejoin="round"/><path d="M39.7 649.7l1.4 .8 1.3 .8 1.2 1.1 .7 1.4-.1 1.6-.1 1.6 .6 1.5 1 1.3 1.4 .7" fill="none" stroke="#5b5b5b" stroke-width="0.70" stroke-linecap="round" stroke-linejoin="round"/><path d="M46.4 709.6l.7 1.5 1.5 .5 1 1.2 .7 1.5 1.5 .7 1.5 .4 1.4-.7 1.6-.4 1.4-.7 .8-1.4" fill="none" stroke="#6b6b6b" stroke-width="0.62" stroke-linecap="round" stroke-linejoin="round"/><path d="M52.1 661.4l-1.2 1.1 .2 1.6 1.4 .8 1.1 1.3 0 1.6-1.3 1-1.4 .6-1.3 1" fill="none" stroke="#4c4c4c" stroke-width="0.68" stroke-linecap="round" stroke-linejoin="round"/><path d="M23.6 671.6l-1.4 .8-1 1.3-.9 1.3-1.3 1-.6 1.5-.8 1.4" fill="none" stroke="#515151" stroke-width="0.46" stroke-linecap="round" stroke-linejoin="round"/><path d="M47.8 700.8l.7-1.4 .7-1.4 1.1-1.2 .7-1.4-.6-1.5" fill="none" stroke="#4b4b4b" stroke-width="0.52" stroke-linecap="round" stroke-linejoin="round"/><path d="M32.6 639.7l-1 1.2-1.2 1-1.3 .9-1.1 1.2-1.4 .8-.8 1.4-1.3 1" fill="none" stroke="#555555" stroke-width="0.58" stroke-linecap="round" stroke-linejoin="round"/><path d="M59.5 667.9l1.3-.9 1.6-.3 1.3-.9 .7-1.5 .4-1.5-.2-1.6-.7-1.4-1.3-1" fill="none" stroke="#474747" stroke-width="0.49" stroke-linecap="round" stroke-linejoin="round"/><path d="M26.8 671.3l1.2 1 1.5 .6 .6 1.5 .8 1.4 .8 1.4-.1 1.6 .6 1.4-.5 1.5" fill="none" stroke="#4f4f4f" stroke-width="0.63" stroke-linecap="round" stroke-linejoin="round"/><path d="M43.2 614l-1.3 .9-1.2 1.1-1.2 1-1.2 1-1.6 .3" fill="none" stroke="#5d5d5d" stroke-width="0.46" stroke-linecap="round" stroke-linejoin="round"/><path d="M60.8 718.7l.6 1.5 .8 1.4 1.1 1.1 1.6 .4 1.5-.3 1.4 .8 1.4 .7 1.6 .1 1.3 1" fill="none" stroke="#424242" stroke-width="0.61" stroke-linecap="round" stroke-linejoin="round"/><path d="M27.8 690.8l1.2 1 1.6 .4 .8 1.4 1 1.2 1.2 1.1" fill="none" stroke="#4d4d4d" stroke-width="0.51" stroke-linecap="round" stroke-linejoin="round"/><path d="M68.6 698.7l-1.6 .5-1.3-.9-1.6 .1-1.6-.2-1.4 .8" fill="none" stroke="#4c4c4c" stroke-width="0.48" stroke-linecap="round" stroke-linejoin="round"/><path d="M66.7 620.2l-1 1.2-.5 1.6-.2 1.6" fill="none" stroke="#606060" stroke-width="0.68" stroke-linecap="round" stroke-linejoin="round"/><path d="M25.9 612.7l-1.1 1.2-1.4 .8-1.5 .6-1.5 .4-.9 1.4-1.4 .8-1.6 0-1.6-.2-1.5-.3" fill="none" stroke="#666666" stroke-width="0.70" stroke-linecap="round" stroke-linejoin="round"/><path d="M35.3 627.2l-1.4-.8-1.4 .7-1.4 .9-1.4 .7-1.1 1.1-1.6-.2-1.6 .2-1.6 .2" fill="none" stroke="#6d6d6d" stroke-width="0.54" stroke-linecap="round" stroke-linejoin="round"/><path d="M28 627.1l-.9 1.3-1 1.2-1.1 1.2-1.1 1.1-1 1.3-1.3 .9-1.4 .8-.8 1.4-.9 1.3-1.5 .3" fill="none" stroke="#707070" stroke-width="0.67" stroke-linecap="round" stroke-linejoin="round"/><path d="M58.3 718l.3 1.6 1.4 .8 1.3 1 1.4 .8 1.4 .6 1.6 .4 1.6 0 1.5-.5 1.5-.5" fill="none" stroke="#5d5d5d" stroke-width="0.68" stroke-linecap="round" stroke-linejoin="round"/><path d="M70.2 613l.3-1.5 1-1.2-.2-1.6" fill="none" stroke="#595959" stroke-width="0.48" stroke-linecap="round" stroke-linejoin="round"/><path d="M29.9 687.8l-1.5-.7-.8-1.4-.6-1.5-.8-1.3-.4-1.6 .5-1.5 .4-1.6 .9-1.3 1.3-1" fill="none" stroke="#6e6e6e" stroke-width="0.52" stroke-linecap="round" stroke-linejoin="round"/><path d="M22.9 620.5l-1.3 .9-.8 1.4-.1 1.6-1.1 1.1-1.6 0-1.6 0-1.6-.5-1.6-.1-1.5-.3" fill="none" stroke="#5d5d5d" stroke-width="0.57" stroke-linecap="round" stroke-linejoin="round"/><path d="M25.4 696.3l.7-1.4 1.3-.9 .6-1.5 1.2-1.1 .9-1.3 .6-1.5 .9-1.3" fill="none" stroke="#5d5d5d" stroke-width="0.67" stroke-linecap="round" stroke-linejoin="round"/><path d="M48.6 696.9l.8-1.4 1.5-.6 1.6-.1 1.5-.3 1.6-.3 1.6-.3" fill="none" stroke="#6c6c6c" stroke-width="0.49" stroke-linecap="round" stroke-linejoin="round"/><path d="M48 673.2l1 1.3 1.6 .4 1.6 0 1.5 .3 1.5 .5 1.5-.7 1.1-1 1.4-.9" fill="none" stroke="#4f4f4f" stroke-width="0.67" stroke-linecap="round" stroke-linejoin="round"/><path d="M46.5 643.4l1.4-.9 1.5-.2 1.4 .8 1 1.2" fill="none" stroke="#434343" stroke-width="0.56" stroke-linecap="round" stroke-linejoin="round"/><path d="M55.4 608.8l1.4 .9 .9 1.3 0 1.6-.5 1.6" fill="none" stroke="#686868" stroke-width="0.51" stroke-linecap="round" stroke-linejoin="round"/><path d="M65.7 645.2l-1.6 0-1.5 .4-1.6 0-1.5 .7-1.3-1.1-1.5-.3-1.6-.2-1.5-.5" fill="none" stroke="#6c6c6c" stroke-width="0.54" stroke-linecap="round" stroke-linejoin="round"/><path d="M27.7 721.4l1.6 .3 1.6 .2 1.3 1 1 1.2 1.1 1.1 .7 1.5 .2 1.6" fill="none" stroke="#4b4b4b" stroke-width="0.66" stroke-linecap="round" stroke-linejoin="round"/><path d="M40.9 651l0-1.6-.5-1.5-.5-1.5-.1-1.6 .1-1.6 0-1.6 .2-1.6 .3-1.6 .9-1.3 .4-1.6 .3-1.5" fill="none" stroke="#181818" stroke-width="0.67" stroke-linecap="round" stroke-linejoin="round"/><path d="M39.9 646.4l-.8-1.5-.7-1.4-1-1.2-1.4-.9-1.5-.4-1.6-.3" fill="none" stroke="#242424" stroke-width="0.47" stroke-linecap="round" stroke-linejoin="round"/><path d="M36 641.4l.8-1.4 1.3-.9 1.2-1.1" fill="none" stroke="#303030" stroke-width="0.45" stroke-linecap="round" stroke-linejoin="round"/><path d="M39.8 644.8l1.3-1 1-1.2 1.3-.9 1.4-.8 1.3-.9 1.4-.8" fill="none" stroke="#242424" stroke-width="0.47" stroke-linecap="round" stroke-linejoin="round"/><path d="M47.5 639.2l.9-1.4 .7-1.4 1.1-1.1" fill="none" stroke="#303030" stroke-width="0.45" stroke-linecap="round" stroke-linejoin="round"/><path d="M47.5 639.2l1.6-.2 1.6 .2 1.6 .4" fill="none" stroke="#303030" stroke-width="0.45" stroke-linecap="round" stroke-linejoin="round"/><path d="M42 634l-.1-1.6 0-1.6 0-1.6-.5-1.6" fill="none" stroke="#242424" stroke-width="0.50" stroke-linecap="round" stroke-linejoin="round"/><path d="M41.4 627.6l-.4-1.5-.2-1.6" fill="none" stroke="#303030" stroke-width="0.45" stroke-linecap="round" stroke-linejoin="round"/><path d="M41.4 627.6l0-1.6 .1-1.6" fill="none" stroke="#303030" stroke-width="0.45" stroke-linecap="round" stroke-linejoin="round"/><path d="M42 634l1-1.3 .9-1.3 .9-1.3 .8-1.4" fill="none" stroke="#242424" stroke-width="0.50" stroke-linecap="round" stroke-linejoin="round"/><path d="M39.9 651l-.6-1.5-.2-1.6-.2-1.6-.6-1.5-.5-1.5-.2-1.6-.2-1.6-.1-1.6 .1-1.6-.6-1.5-.7-1.4-.8-1.3-1.2-1.1-.9-1.3-.8-1.4-.9-1.4" fill="none" stroke="#1c1c1c" stroke-width="0.83" stroke-linecap="round" stroke-linejoin="round"/><path d="M35.3 632.7l-1.1-1.2-1.3-1-1.4-.8-1.5-.6-1.6 0-1.6 .2-1.5-.3-1.6-.4" fill="none" stroke="#282828" stroke-width="0.58" stroke-linecap="round" stroke-linejoin="round"/><path d="M23.7 628.6l-1.6-.2-1.6-.3-1.5-.5-1.5-.5" fill="none" stroke="#343434" stroke-width="0.45" stroke-linecap="round" stroke-linejoin="round"/><path d="M23.7 628.6l-1.5-.6-1.5-.4-1.5-.5-1.6-.1" fill="none" stroke="#343434" stroke-width="0.45" stroke-linecap="round" stroke-linejoin="round"/><path d="M39.7 651l-.6-1.5-.6-1.5-.6-1.4-.7-1.5-.5-1.5-.6-1.5-.6-1.4-.9-1.4-1.1-1.1-1.3-1-1.5-.7-1.5-.6-1.5-.5-1.4-.8-1.5-.2-1.5-.6-1.6-.2-1.6-.1" fill="none" stroke="#282828" stroke-width="0.92" stroke-linecap="round" stroke-linejoin="round"/><path d="M20.1 633.5l-1.6 0-1.6 0-1.5 .6-1.6 .3-1.6 0-1.6 .2" fill="none" stroke="#343434" stroke-width="0.69" stroke-linecap="round" stroke-linejoin="round"/><path d="M10.6 634.6l-1.6-.1-1.6 0-1.6-.2-1.6 .1" fill="none" stroke="#404040" stroke-width="0.52" stroke-linecap="round" stroke-linejoin="round"/><path d="M10.6 634.6l-1.6-.1-1.5 .6-1.4 .7" fill="none" stroke="#404040" stroke-width="0.52" stroke-linecap="round" stroke-linejoin="round"/><path d="M20.1 633.5l-1.5-.6-1.4-.8-1.5-.5-1.6-.3-1.5-.6-1.3-.8-1.4-.8-1.3-1-1.4-.7-1.4-.9" fill="none" stroke="#343434" stroke-width="0.69" stroke-linecap="round" stroke-linejoin="round"/><path d="M35.9 651l.2-1.6 .4-1.5 .6-1.5 1.2-1.1 1.2-1 1.1-1.2 1.3-1 1.1-1.1 1.1-1.2 1.5-.6 1.4-.8 1.1-1.1 1.2-1 1.4-.8 1.6-.3 1.5-.6 1.5-.4 1.6-.2 1.6-.1 1.5-.6 1.5-.6 1.5-.5 1.4-.8 .7-1.4" fill="none" stroke="#1c1c1c" stroke-width="0.92" stroke-linecap="round" stroke-linejoin="round"/><path d="M36.5 647.9l.2-1.6-.2-1.6 .3-1.6 .5-1.5-.4-1.6-.6-1.5-.5-1.5-.5-1.5-1-1.2-1.2-1.1-1.1-1.1-.9-1.4-1.1-1.2-.7-1.4" fill="none" stroke="#282828" stroke-width="0.65" stroke-linecap="round" stroke-linejoin="round"/><path d="M37.1 646.4l.9-1.4 .2-1.5 .9-1.4 .4-1.5 .3-1.6 .3-1.6 .1-1.6 .4-1.5 .3-1.6 .4-1.5 .6-1.5 .6-1.5 .3-1.6 .8-1.3" fill="none" stroke="#282828" stroke-width="0.65" stroke-linecap="round" stroke-linejoin="round"/><path d="M40.9 632.7l.2-1.6 .1-1.5-.1-1.6 .1-1.6-.2-1.6" fill="none" stroke="#343434" stroke-width="0.45" stroke-linecap="round" stroke-linejoin="round"/><path d="M63 632.2l-.2-1.5-.4-1.6-.3-1.6-.6-1.5-.6-1.5-.3-1.5-.9-1.3-.9-1.3" fill="none" stroke="#282828" stroke-width="0.65" stroke-linecap="round" stroke-linejoin="round"/><path d="M58.8 620.4l-.9-1.4-.7-1.4-1-1.2-.9-1.4" fill="none" stroke="#343434" stroke-width="0.48" stroke-linecap="round" stroke-linejoin="round"/><path d="M58.8 620.4l-.8-1.5-1.4-.7-1.3-.8-1.1-1.3" fill="none" stroke="#343434" stroke-width="0.48" stroke-linecap="round" stroke-linejoin="round"/><path d="M65.1 630l.6-1.5 .3-1.6 .2-1.6 .1-1.6-.3-1.6-.1-1.6 .3-1.5 .2-1.6-.4-1.5-.4-1.6" fill="none" stroke="#282828" stroke-width="0.69" stroke-linecap="round" stroke-linejoin="round"/><path d="M65.6 614.3l-.6-1.5-1-1.2-1.2-1.1-1-1.2" fill="none" stroke="#343434" stroke-width="0.52" stroke-linecap="round" stroke-linejoin="round"/><path d="M65.6 614.3l.4-1.6 0-1.6 0-1.6" fill="none" stroke="#343434" stroke-width="0.52" stroke-linecap="round" stroke-linejoin="round"/><path d="M65.1 630l.7-1.5 .7-1.4 .9-1.4 1.5-.6 1.5-.5 1.5-.3 1.6 .5 1.2 1 1.4 .8 1.6 .3" fill="none" stroke="#282828" stroke-width="0.69" stroke-linecap="round" stroke-linejoin="round"/><path d="M77.7 626.9l1.6-.3 1.4 .7 1.2 1.1 1.4 .8" fill="none" stroke="#343434" stroke-width="0.52" stroke-linecap="round" stroke-linejoin="round"/><path d="M77.7 626.9l1.4 .8 1.5 .5 1.4 .7" fill="none" stroke="#343434" stroke-width="0.52" stroke-linecap="round" stroke-linejoin="round"/><path d="M38.9 651l-.9-1.3-.7-1.5-.5-1.5-.1-1.6-.2-1.6-.4-1.6-.1-1.5-.8-1.4-1-1.3-1.2-1.1-1.3-.9-1.2-1-1.4-.8-1.4-.7-1.5-.5-1.6-.4-1.6-.2" fill="none" stroke="#282828" stroke-width="0.87" stroke-linecap="round" stroke-linejoin="round"/><path d="M36.1 641.9l-.3-1.5-.8-1.4-.8-1.4-.9-1.3-.9-1.3-1-1.3-.5-1.5" fill="none" stroke="#343434" stroke-width="0.61" stroke-linecap="round" stroke-linejoin="round"/><path d="M30.9 632.2l-.7-1.4-.3-1.6 0-1.6-.4-1.6" fill="none" stroke="#404040" stroke-width="0.46" stroke-linecap="round" stroke-linejoin="round"/><path d="M30.9 632.2l0-1.6-.2-1.6-.6-1.5" fill="none" stroke="#404040" stroke-width="0.46" stroke-linecap="round" stroke-linejoin="round"/><path d="M30.5 634.7l-1.2-1-1.3-1-1.3-1-1.3-.8-1.5-.7-.9-1.3-.8-1.4-.8-1.4" fill="none" stroke="#343434" stroke-width="0.61" stroke-linecap="round" stroke-linejoin="round"/><path d="M21.4 626.1l-.6-1.4-.7-1.5-1-1.2-1.2-1.1" fill="none" stroke="#404040" stroke-width="0.46" stroke-linecap="round" stroke-linejoin="round"/><path d="M21.4 626.1l-.8-1.3-1.2-1.1-1.6-.3-1.5-.6" fill="none" stroke="#404040" stroke-width="0.46" stroke-linecap="round" stroke-linejoin="round"/><path d="M23 632.1l-1.5-.4-1.5-.6-1.2-1.1-1.1-1.2-.9-1.3-.7-1.4-.9-1.4-.6-1.4-.8-1.4" fill="none" stroke="#343434" stroke-width="0.66" stroke-linecap="round" stroke-linejoin="round"/><path d="M23 632.1l-1.5-.4-1.6-.4-1.6-.1-1.6 .2-1.5-.4-1.6-.3-1.6 0-1.4-.7" fill="none" stroke="#343434" stroke-width="0.66" stroke-linecap="round" stroke-linejoin="round"/><path d="M10.6 630l-1.6-.3-1.5-.6-1.4-.8" fill="none" stroke="#404040" stroke-width="0.49" stroke-linecap="round" stroke-linejoin="round"/><path d="M10.6 630l-1.4-.9-1-1.2-.8-1.4-.5-1.5" fill="none" stroke="#404040" stroke-width="0.49" stroke-linecap="round" stroke-linejoin="round"/><path d="M39 651l.7-1.5 .7-1.4 .8-1.4 .7-1.4 .8-1.4 .8-1.4 1-1.2 .7-1.5 .6-1.5 .6-1.5 .9-1.3 .6-1.4-.1-1.6" fill="none" stroke="#2c2c2c" stroke-width="0.98" stroke-linecap="round" stroke-linejoin="round"/><path d="M47.8 632.5l-.9-1.4-.7-1.5-.4-1.5-.5-1.5 0-1.6-.2-1.6 0-1.6" fill="none" stroke="#383838" stroke-width="0.73" stroke-linecap="round" stroke-linejoin="round"/><path d="M45.1 621.8l0-1.6-.5-1.5-.6-1.5-.2-1.6" fill="none" stroke="#444444" stroke-width="0.55" stroke-linecap="round" stroke-linejoin="round"/><path d="M45.1 621.8l-.1-1.6-.3-1.6-.1-1.6" fill="none" stroke="#444444" stroke-width="0.55" stroke-linecap="round" stroke-linejoin="round"/><path d="M47.8 632.5l0-1.6 0-1.6 .2-1.6 .6-1.5 .6-1.5 .2-1.6" fill="none" stroke="#383838" stroke-width="0.73" stroke-linecap="round" stroke-linejoin="round"/><path d="M49.4 623.1l-.2-1.6-.2-1.6 0-1.6" fill="none" stroke="#444444" stroke-width="0.55" stroke-linecap="round" stroke-linejoin="round"/><path d="M49.4 623.1l.1-1.6 0-1.6" fill="none" stroke="#444444" stroke-width="0.55" stroke-linecap="round" stroke-linejoin="round"/><path d="M40.2 651l.6-1.5 .7-1.4 .3-1.6 .5-1.5 .4-1.6 .1-1.6 .4-1.5 .4-1.6-.2-1.5-.1-1.6 .3-1.6 .1-1.6 .2-1.6 0-1.6 .2-1.6 .1-1.6-.2-1.6-.5-1.5" fill="none" stroke="#252525" stroke-width="0.93" stroke-linecap="round" stroke-linejoin="round"/><path d="M43.5 622.9l-1.2-1.1-1.1-1.1-1.1-1.2-1.4-.9-1.1-1.1-1.3-.9-1.4-.8" fill="none" stroke="#313131" stroke-width="0.69" stroke-linecap="round" stroke-linejoin="round"/><path d="M41.2 620.7l-1.5-.7-1-1.3-.9-1.3-.7-1.4" fill="none" stroke="#3d3d3d" stroke-width="0.49" stroke-linecap="round" stroke-linejoin="round"/><path d="M34.9 615.8l-1.6 .1-1.6 .1-1.5 .5-1.5 .6" fill="none" stroke="#3d3d3d" stroke-width="0.52" stroke-linecap="round" stroke-linejoin="round"/><path d="M34.9 615.8l-1.3-1-.7-1.4-.5-1.5-.3-1.6" fill="none" stroke="#3d3d3d" stroke-width="0.52" stroke-linecap="round" stroke-linejoin="round"/><path d="M43.5 622.9l-.5-1.5-.7-1.4-.9-1.3-1.5-.8-1.1-1.1-1.2-1.1-1.4-.8-1.5-.6-1.5-.6" fill="none" stroke="#313131" stroke-width="0.69" stroke-linecap="round" stroke-linejoin="round"/><path d="M36.2 614.9l.4-1.5 .7-1.5 0-1.6" fill="none" stroke="#3d3d3d" stroke-width="0.49" stroke-linecap="round" stroke-linejoin="round"/><path d="M33.2 613.7l-1.5-.1-1.6-.3-1.3-.9-1.1-1.2" fill="none" stroke="#3d3d3d" stroke-width="0.52" stroke-linecap="round" stroke-linejoin="round"/><path d="M33.2 613.7l-1.5-.4-1.5-.5-1.5-.6-1.6-.2-1.6 .2" fill="none" stroke="#3d3d3d" stroke-width="0.52" stroke-linecap="round" stroke-linejoin="round"/><path d="M41 651l-.2-1.6-.2-1.6 .4-1.5 .6-1.5 .6-1.5 .4-1.5 .6-1.5 .9-1.4 .6-1.5 .7-1.4 .5-1.5 .5-1.5-.2-1.6-.5-1.5-.4-1.6 .1-1.6-.4-1.5-.9-1.3-.6-1.5 .3-1.6 .2-1.6 .5-1.5 .3-1.6 .1-1.6" fill="none" stroke="#2e2e2e" stroke-width="0.94" stroke-linecap="round" stroke-linejoin="round"/><path d="M42.2 643.3l.5-1.5 .3-1.6 .9-1.3 .9-1.3 1-1.3 1-1.3 1.1-1.1 1.4-.9 1.4-.6 1.4-.8" fill="none" stroke="#3a3a3a" stroke-width="0.66" stroke-linecap="round" stroke-linejoin="round"/><path d="M46.8 635l-.4-1.5-.6-1.5-.7-1.4-.8-1.4" fill="none" stroke="#464646" stroke-width="0.46" stroke-linecap="round" stroke-linejoin="round"/><path d="M42.6 641.8l-1-1.3-1-1.3-.6-1.5-.4-1.5 0-1.6-.1-1.6-.7-1.4-1.1-1.2-1-1.2-1.2-1.2-1-1.2-1.1-1.1-1.1-1.2-1.2-1.1" fill="none" stroke="#3a3a3a" stroke-width="0.66" stroke-linecap="round" stroke-linejoin="round"/><path d="M40 637.7l-.5-1.5 0-1.6-.2-1.6-.6-1.5-.8-1.3" fill="none" stroke="#464646" stroke-width="0.46" stroke-linecap="round" stroke-linejoin="round"/><path d="M31.1 623.4l-1.4-.7-1.6 .2-1.6 .3-1.5 .5-1.5 .4-1.6 .1-1.5 .7-1.5 .3" fill="none" stroke="#464646" stroke-width="0.49" stroke-linecap="round" stroke-linejoin="round"/><path d="M31.1 623.4l-.4-1.5-1-1.3-1-1.2-.9-1.3-1.1-1.2" fill="none" stroke="#464646" stroke-width="0.49" stroke-linecap="round" stroke-linejoin="round"/><path d="M43.2 640.3l-.9-1.3-.7-1.4-.8-1.4-.6-1.5-.8-1.4-.4-1.5-.4-1.6-.5-1.5-.4-1.6-.1-1.5 .5-1.6 .3-1.5" fill="none" stroke="#3a3a3a" stroke-width="0.66" stroke-linecap="round" stroke-linejoin="round"/><path d="M39 631.8l.3-1.6 .1-1.6 .2-1.6 .7-1.4 1.2-1.1 1.2-1" fill="none" stroke="#464646" stroke-width="0.46" stroke-linecap="round" stroke-linejoin="round"/><path d="M38.4 622.5l.3-1.6 .3-1.6 .2-1.6 .4-1.5 .7-1.5 .4-1.5" fill="none" stroke="#464646" stroke-width="0.49" stroke-linecap="round" stroke-linejoin="round"/><path d="M38.4 622.5l.5-1.6 .5-1.5 .7-1.4 0-1.6 .2-1.6 .1-1.6" fill="none" stroke="#464646" stroke-width="0.49" stroke-linecap="round" stroke-linejoin="round"/><path d="M44.9 614.5l0-1.6 .3-1.6 .1-1.6-.2-1.5-.1-1.6 .3-1.6 .2-1.6 .3-1.6" fill="none" stroke="#3a3a3a" stroke-width="0.71" stroke-linecap="round" stroke-linejoin="round"/><path d="M45.8 601.8l-.3-1.5 0-1.6 .5-1.6 .9-1.3" fill="none" stroke="#464646" stroke-width="0.53" stroke-linecap="round" stroke-linejoin="round"/><path d="M45.8 601.8l.7-1.4 .9-1.3 .9-1.3" fill="none" stroke="#464646" stroke-width="0.53" stroke-linecap="round" stroke-linejoin="round"/><path d="M44.9 614.5l0-1.6 .3-1.6 .2-1.5 .4-1.6 .3-1.6 .4-1.5 .1-1.6 0-1.6-.1-1.6-.6-1.5-.8-1.3-.6-1.5-.7-1.4-.8-1.4" fill="none" stroke="#3a3a3a" stroke-width="0.71" stroke-linecap="round" stroke-linejoin="round"/><path d="M45.4 609.8l-.4-1.6-.7-1.5-.4-1.5-.3-1.6-.4-1.5-.4-1.6-.2-1.6" fill="none" stroke="#464646" stroke-width="0.49" stroke-linecap="round" stroke-linejoin="round"/><path d="M43 593.2l-1.4-.8-1.1-1.2-1.1-1.2-1.2-1-1.2-1.1-1-1.3-1-1.2" fill="none" stroke="#464646" stroke-width="0.53" stroke-linecap="round" stroke-linejoin="round"/><path d="M43 593.2l-.7-1.5-.7-1.4-.5-1.5-1.1-1.2-1-1.3-1.1-1.1-1.4-.8" fill="none" stroke="#464646" stroke-width="0.53" stroke-linecap="round" stroke-linejoin="round"/><path d="M39.6 651l1.2-1 1-1.2 .5-1.6 0-1.6-.6-1.5-.7-1.4-.6-1.5-.7-1.4-.4-1.6-.6-1.4-.1-1.6 .1-1.6 .3-1.6 .5-1.5 .7-1.5 .3-1.6 .8-1.3 .6-1.5 .4-1.6 .7-1.4 .9-1.3 1.3-1" fill="none" stroke="#181818" stroke-width="0.94" stroke-linecap="round" stroke-linejoin="round"/><path d="M40 651l.7-1.4 1.1-1.2 1.2-1 1.3-1 1.6-.4 1.5-.4 1.6-.3 1.5-.6 1.3-.9 1.1-1.2 .4-1.5 .4-1.6 .4-1.5 .2-1.6 .1-1.6 0-1.6 .5-1.5 .8-1.4 1.1-1.2 1.4-.7" fill="none" stroke="#2c2c2c" stroke-width="0.91" stroke-linecap="round" stroke-linejoin="round"/><path d="M54.3 636.4l-.2-1.6-.1-1.6 0-1.6 0-1.6-.1-1.6 .1-1.6 .1-1.6 .5-1.5 .1-1.6 .1-1.6" fill="none" stroke="#383838" stroke-width="0.64" stroke-linecap="round" stroke-linejoin="round"/><path d="M58.2 628.4l1.4-.8 1.6-.4 1.6-.2 1.5 .2 1.6 .5 1.6 .3 1.6-.1" fill="none" stroke="#383838" stroke-width="0.68" stroke-linecap="round" stroke-linejoin="round"/><path d="M58.2 628.4l1.6-.1 1.6 .4 1.3 1 1.1 1.1 .9 1.3 .6 1.5 .8 1.4 .6 1.5 .6 1.4 .5 1.6 .6 1.5 .8 1.3" fill="none" stroke="#383838" stroke-width="0.68" stroke-linecap="round" stroke-linejoin="round"/><path d="M62.7 629.7l1.4-.8 1.5-.5 1.5-.5 1.5-.5" fill="none" stroke="#444444" stroke-width="0.48" stroke-linecap="round" stroke-linejoin="round"/><path d="M69.2 642.3l.9 1.3 .9 1.4 .4 1.5 0 1.6 0 1.6 .4 1.6" fill="none" stroke="#444444" stroke-width="0.51" stroke-linecap="round" stroke-linejoin="round"/><path d="M69.2 642.3l.6 1.5 .1 1.6 .2 1.6 .2 1.6 .1 1.6-.7 1.4 0 1.6-.2 1.6" fill="none" stroke="#444444" stroke-width="0.51" stroke-linecap="round" stroke-linejoin="round"/><path d="M41.3 651l-.3-1.6-.1-1.6 .4-1.5 .4-1.5 .5-1.6 .3-1.5 0-1.6 .3-1.6 .3-1.6 .4-1.5 .1-1.6 .1-1.6 .7-1.5 1-1.2 .7-1.5 .9-1.3 .6-1.5 .5-1.5 .7-1.4 .8-1.4 1-1.2" fill="none" stroke="#2f2f2f" stroke-width="0.93" stroke-linecap="round" stroke-linejoin="round"/><path d="M42.2 643.2l-.7-1.4-.7-1.5-.5-1.5-.5-1.5-.4-1.6-.5-1.4-.4-1.6 .1-1.6" fill="none" stroke="#3b3b3b" stroke-width="0.65" stroke-linecap="round" stroke-linejoin="round"/><path d="M38.6 631.1l-.1-1.6-.3-1.6-.3-1.5-.3-1.6" fill="none" stroke="#474747" stroke-width="0.49" stroke-linecap="round" stroke-linejoin="round"/><path d="M38.6 631.1l.5-1.5 .3-1.6 .5-1.5" fill="none" stroke="#474747" stroke-width="0.49" stroke-linecap="round" stroke-linejoin="round"/><path d="M46.1 628l.6-1.4 .5-1.6 .6-1.4 0-1.6-.2-1.6-.1-1.6 .3-1.6 .8-1.4 .8-1.4 .8-1.4 .5-1.5 0-1.6" fill="none" stroke="#3b3b3b" stroke-width="0.65" stroke-linecap="round" stroke-linejoin="round"/><path d="M47.2 625l-.5-1.5-.8-1.4-1.4-.8-1.5-.2-1.6 0" fill="none" stroke="#474747" stroke-width="0.46" stroke-linecap="round" stroke-linejoin="round"/><path d="M50.6 619.7l1.1-1.2 1.1-1.1 .4-1.6 .5-1.5 .2-1.6-.2-1.6-.5-1.5-.4-1.6-.8-1.4-.6-1.4-.1-1.6 .4-1.6" fill="none" stroke="#3b3b3b" stroke-width="0.70" stroke-linecap="round" stroke-linejoin="round"/><path d="M51.7 602l-.1-1.6-.3-1.6-.3-1.5 .2-1.6 .3-1.6 .3-1.6 .1-1.6" fill="none" stroke="#474747" stroke-width="0.53" stroke-linecap="round" stroke-linejoin="round"/><path d="M51.7 602l.9-1.4 1-1.2 .8-1.4 .8-1.4" fill="none" stroke="#474747" stroke-width="0.53" stroke-linecap="round" stroke-linejoin="round"/><path d="M50.6 619.7l1.5-.6 1.6-.1 1.6 .1 1.6-.1 1.6 .1 1.5 .5 1.6 .4 1.5 .3 1.6 .1 1.6 .3" fill="none" stroke="#3b3b3b" stroke-width="0.70" stroke-linecap="round" stroke-linejoin="round"/><path d="M66.3 620.7l1.5-.6 1.4-.9 1.2-.9" fill="none" stroke="#474747" stroke-width="0.53" stroke-linecap="round" stroke-linejoin="round"/><path d="M66.3 620.7l1.3 1 1.5 .5 1.5 .3 1.6 .5 1.4 .6" fill="none" stroke="#474747" stroke-width="0.53" stroke-linecap="round" stroke-linejoin="round"/><path d="M40.6 651l-1-1.2-1.2-1.1-1.4-.7-1.6-.5-1.5-.5-1.5-.5-1.6-.4-1.5-.3-1.5-.6-1.5-.6-1.6-.2-1.3-.8-1.6-.5-1.4-.7-1.4-.7-1.4-.8-1.5-.7-1.5-.3-1.6 .2-1.6 .4-1.5 .2" fill="none" stroke="#161616" stroke-width="0.65" stroke-linecap="round" stroke-linejoin="round"/><path d="M9.9 640.7l-1.6 .5-1.2 .9-1.1 1.2-1.5 .6-1.6-.1-1.6 0-1.6 0-1.6 0-1.6 0-1.5-.4" fill="none" stroke="#222222" stroke-width="0.49" stroke-linecap="round" stroke-linejoin="round"/><path d="M9.9 640.7l-1.6-.3-1.6-.3-1.6-.1-1.6-.2-1.6-.3-1.5-.3-1.6 .2-1.5 .6-1.4 .7-1.4 .8-1.2 1.1-1.2 1" fill="none" stroke="#222222" stroke-width="0.49" stroke-linecap="round" stroke-linejoin="round"/><path d="M-2.7 640l-1.6 .1-1.5 .5-1.1 1.2-1 1.2-1.1 1.2" fill="none" stroke="#2e2e2e" stroke-width="0.45" stroke-linecap="round" stroke-linejoin="round"/><path d="M-7.9 643.6l-.9 1.4-.5 1.5-.6 1.4-.9 1.4-1.2 1-1.5 .5" fill="none" stroke="#2e2e2e" stroke-width="0.45" stroke-linecap="round" stroke-linejoin="round"/><path d="M-7.9 643.6l-1.5 .7-1.4 .8-1.4 .6-1.4 .9-1.5 .4-1.6 .3-1.6 .1" fill="none" stroke="#2e2e2e" stroke-width="0.45" stroke-linecap="round" stroke-linejoin="round"/><path d="M39.3 651l1-1.2 1.1-1.3 .7-1.4 .7-1.4 .3-1.6 .1-1.6 .2-1.6 .3-1.6-.1-1.6-.7-1.3-.8-1.4-1-1.3-1.2-1.1-1.3-.9-1.5-.6-1.2-1-1.3-.9-1-1.3-.8-1.4-1-1.3-1-1.2-1.4-.8-1.6-.1" fill="none" stroke="#1d1d1d" stroke-width="0.64" stroke-linecap="round" stroke-linejoin="round"/><path d="M43.2 642.5l1.2-1 1.1-1.2 1.1-1.2 .8-1.3 1-1.3 .9-1.3 .8-1.4 .9-1.3 1.3-1" fill="none" stroke="#292929" stroke-width="0.45" stroke-linecap="round" stroke-linejoin="round"/><path d="M52.3 631.5l1-1.3 1.1-1.1 1.1-1.2 1.3-.9 1.4-.8" fill="none" stroke="#353535" stroke-width="0.45" stroke-linecap="round" stroke-linejoin="round"/><path d="M52.3 631.5l1.3-1 1.2-.9 1.3-1 1.4-.7 1.1-1.3" fill="none" stroke="#353535" stroke-width="0.45" stroke-linecap="round" stroke-linejoin="round"/><path d="M30.8 624l1.2-1 1.2-1.1 1.4-.7 1.5-.7 1.5-.4 1.5-.5 1.6-.3 1.6 0 1.6 .3 1.5 .2 1.6 .5 1.3 .9 1.4 .8" fill="none" stroke="#292929" stroke-width="0.45" stroke-linecap="round" stroke-linejoin="round"/><path d="M34.6 621.2l.6-1.5 1-1.3 .8-1.4 1-1.2" fill="none" stroke="#353535" stroke-width="0.45" stroke-linecap="round" stroke-linejoin="round"/><path d="M49.7 622l1.3 .9 1.3 1 1.2 1 1.4 .7 1.5 .6" fill="none" stroke="#353535" stroke-width="0.45" stroke-linecap="round" stroke-linejoin="round"/><path d="M49.7 622l1 1.3 1.1 1.1 1.2 1.1 .9 1.3 .9 1.3 .5 1.5" fill="none" stroke="#353535" stroke-width="0.45" stroke-linecap="round" stroke-linejoin="round"/><path d="M27.8 623.1l-1.6 .3-1.5 .3-1.5 .6-1.6 .2-1.6 .1-1.5 .5-1.6 .2-1.6-.1-1.6-.3" fill="none" stroke="#292929" stroke-width="0.48" stroke-linecap="round" stroke-linejoin="round"/><path d="M18.5 625.1l-1.6-.2-1.6-.1-1.5-.5" fill="none" stroke="#353535" stroke-width="0.45" stroke-linecap="round" stroke-linejoin="round"/><path d="M13.7 624.9l-1.6 0-1.5-.3-1.6-.2-1.6 0" fill="none" stroke="#353535" stroke-width="0.45" stroke-linecap="round" stroke-linejoin="round"/><path d="M13.7 624.9l-1.5-.5-1.6-.3-1.6-.2-1.3-.8" fill="none" stroke="#353535" stroke-width="0.45" stroke-linecap="round" stroke-linejoin="round"/><path d="M27.8 623.1l-1.5-.7-1.6-.1-1.5-.2-1.6 .3-1.6 .4-1.4 .7-1.5 .4-1.6 .2" fill="none" stroke="#292929" stroke-width="0.48" stroke-linecap="round" stroke-linejoin="round"/><path d="M15.5 624.1l-1.6 .1-1.6-.3-1.6-.1-1.6-.2-1.6-.1" fill="none" stroke="#353535" stroke-width="0.45" stroke-linecap="round" stroke-linejoin="round"/><path d="M15.5 624.1l-1.6 0-1.6-.4-1.5-.6-1.3-.9" fill="none" stroke="#353535" stroke-width="0.45" stroke-linecap="round" stroke-linejoin="round"/><path d="M39.7 651l.7-1.4 1-1.3 .9-1.3 .8-1.4 .9-1.3 .5-1.5-.2-1.6-.4-1.6-.4-1.5-.5-1.5-.6-1.5-.4-1.5-.2-1.6-.5-1.6-.5-1.5-.6-1.5-.6-1.4-.6-1.5" fill="none" stroke="#2c2c2c" stroke-width="0.73" stroke-linecap="round" stroke-linejoin="round"/><path d="M39 624.5l-1-1.3-1.4-.9-1.1-1-1.1-1.3-1.1-1.1-1.5-.5-1.3-1" fill="none" stroke="#383838" stroke-width="0.55" stroke-linecap="round" stroke-linejoin="round"/><path d="M30.5 617.4l-1-1.2-1.1-1.2-.5-1.5" fill="none" stroke="#444444" stroke-width="0.45" stroke-linecap="round" stroke-linejoin="round"/><path d="M30.5 617.4l-.5-1.5-.2-1.6-.1-1.6" fill="none" stroke="#444444" stroke-width="0.45" stroke-linecap="round" stroke-linejoin="round"/><path d="M39 624.5l0-1.6-.3-1.6-.2-1.6-.5-1.5 0-1.6 .4-1.6 0-1.6 0-1.6" fill="none" stroke="#383838" stroke-width="0.55" stroke-linecap="round" stroke-linejoin="round"/><path d="M39.3 651l-.9-1.3-1-1.2-.9-1.4-.6-1.4-1-1.3-1.2-1.1-1-1.3-1.2-1-1.5-.5-1.5-.4-1.5-.7-1.2-1-1.3-1-1.3-.8-1.3-1-1.1-1.2" fill="none" stroke="#282828" stroke-width="0.75" stroke-linecap="round" stroke-linejoin="round"/><path d="M31.5 641l-.2-1.6-.2-1.6-.1-1.6-.4-1.5-.4-1.6-.4-1.5" fill="none" stroke="#343434" stroke-width="0.53" stroke-linecap="round" stroke-linejoin="round"/><path d="M29.8 631.6l-.8-1.4-1-1.2-1.1-1.2" fill="none" stroke="#404040" stroke-width="0.45" stroke-linecap="round" stroke-linejoin="round"/><path d="M29.8 631.6l.2-1.6-.1-1.6" fill="none" stroke="#404040" stroke-width="0.45" stroke-linecap="round" stroke-linejoin="round"/><path d="M38.9 651l-.4-1.5 0-1.6-.5-1.6-.1-1.6-.2-1.5-.7-1.4-1.1-1.3-1-1.2-.8-1.4-.9-1.3-.9-1.3-1.1-1.1-1.4-.9-1.1-1.1-1-1.3-1.2-1.1-1.2-1-.9-1.3-1.2-1.1-1.4-.7-1.3-.9-1.2-1.1-1.1-1.1" fill="none" stroke="#191919" stroke-width="0.94" stroke-linecap="round" stroke-linejoin="round"/><path d="M37 641.8l-.8-1.5-.7-1.4-.5-1.5-.7-1.5-.6-1.4-.7-1.5-.3-1.5-.2-1.6-.2-1.6 .2-1.6-.3-1.6-.9-1.3" fill="none" stroke="#252525" stroke-width="0.66" stroke-linecap="round" stroke-linejoin="round"/><path d="M31.3 623.8l-1-1.2-1-1.3-.8-1.4-.4-1.5-.7-1.5-.6-1.5" fill="none" stroke="#313131" stroke-width="0.49" stroke-linecap="round" stroke-linejoin="round"/><path d="M31.3 623.8l-.5-1.5-.4-1.6-.7-1.4-.8-1.4" fill="none" stroke="#313131" stroke-width="0.49" stroke-linecap="round" stroke-linejoin="round"/><path d="M31.2 634.2l-.3-1.6-.3-1.6-.5-1.5-.6-1.5-.8-1.4-.6-1.4-.7-1.5" fill="none" stroke="#252525" stroke-width="0.66" stroke-linecap="round" stroke-linejoin="round"/><path d="M39 651l-.2-1.6-.4-1.5-1-1.3-1-1.3-.5-1.5-.2-1.6 .4-1.5 .2-1.6 .1-1.6-.1-1.6-.3-1.6-.7-1.4-.8-1.4-.7-1.4-.2-1.6 0-1.6 .4-1.5 .6-1.5 .9-1.4 .5-1.5 .2-1.6 .2-1.6-.1-1.6 .4-1.5" fill="none" stroke="#171717" stroke-width="0.91" stroke-linecap="round" stroke-linejoin="round"/><path d="M35.3 632.9l.3-1.6 .1-1.6 .1-1.6 0-1.6 .1-1.6-.3-1.5-.6-1.5-.6-1.5-.5-1.5-.5-1.6" fill="none" stroke="#232323" stroke-width="0.63" stroke-linecap="round" stroke-linejoin="round"/><path d="M35 621.9l-.9-1.3-1.2-1.1-1.1-1.1-1.3-1" fill="none" stroke="#2f2f2f" stroke-width="0.45" stroke-linecap="round" stroke-linejoin="round"/><path d="M33.4 617.3l-.5-1.5-.4-1.5-.4-1.5 .1-1.6 .7-1.5" fill="none" stroke="#2f2f2f" stroke-width="0.48" stroke-linecap="round" stroke-linejoin="round"/><path d="M33.4 617.3l-.3-1.5 0-1.6 .1-1.6" fill="none" stroke="#2f2f2f" stroke-width="0.48" stroke-linecap="round" stroke-linejoin="round"/><path d="M40.3 651l-.8-1.4-.6-1.5-.9-1.3-1-1.3-.6-1.5-.5-1.5-.8-1.4-.8-1.3-.8-1.5-.2-1.5-.4-1.6 .5-1.5 .6-1.5 .3-1.6 0-1.6 0-1.6-.4-1.5-.4-1.6 .2-1.6 0-1.6 0-1.6-.1-1.6 .4-1.5" fill="none" stroke="#171717" stroke-width="0.68" stroke-linecap="round" stroke-linejoin="round"/><path d="M33.4 633.7l-.2-1.6 0-1.6-.1-1.6 .2-1.6 .3-1.6 .4-1.5 0-1.6 .1-1.6 0-1.6 .4-1.6 0-1.6-.2-1.5" fill="none" stroke="#232323" stroke-width="0.48" stroke-linecap="round" stroke-linejoin="round"/><path d="M33.6 625.7l-.3-1.6-.2-1.5-.3-1.6-.7-1.4-1-1.3" fill="none" stroke="#2f2f2f" stroke-width="0.45" stroke-linecap="round" stroke-linejoin="round"/><path d="M34 632.2l-1.4-.8-1.4-.7-1.5-.6-1.6-.4-1.6 0-1.6-.2-1.6-.2" fill="none" stroke="#232323" stroke-width="0.48" stroke-linecap="round" stroke-linejoin="round"/><path d="M33.7 619.5l-1-1.2-1-1.3-.8-1.3-1-1.3-1-1.2-.9-1.4-.8-1.3-.6-1.5-.6-1.5-.6-1.5-.9-1.3" fill="none" stroke="#232323" stroke-width="0.48" stroke-linecap="round" stroke-linejoin="round"/><path d="M26.6 609l-.5-1.6-.8-1.3-1.2-1.1" fill="none" stroke="#2f2f2f" stroke-width="0.45" stroke-linecap="round" stroke-linejoin="round"/><path d="M24.5 604.7l-1.4-.9-.8-1.4-1.3-.9-1.5-.7" fill="none" stroke="#2f2f2f" stroke-width="0.45" stroke-linecap="round" stroke-linejoin="round"/><path d="M24.5 604.7l-1-1.3-.9-1.3-1.3-1-1.3-.9-1.2-1" fill="none" stroke="#2f2f2f" stroke-width="0.45" stroke-linecap="round" stroke-linejoin="round"/><path d="M40.5 651l.5-1.5 .5-1.5 .9-1.3 1.2-1.1 1.3-.9 1.5-.7 1.1-1.1 1.5-.4 1.6-.5 1.4-.6 1.5-.6" fill="none" stroke="#141414" stroke-width="0.80" stroke-linecap="round" stroke-linejoin="round"/><path d="M53.5 640.8l1.2-1.1 1.1-1.2 .9-1.3 .8-1.4" fill="none" stroke="#202020" stroke-width="0.60" stroke-linecap="round" stroke-linejoin="round"/><path d="M57.5 635.8l.4-1.5 .4-1.6" fill="none" stroke="#2c2c2c" stroke-width="0.45" stroke-linecap="round" stroke-linejoin="round"/><path d="M57.5 635.8l1.2-1 1-1.2" fill="none" stroke="#2c2c2c" stroke-width="0.45" stroke-linecap="round" stroke-linejoin="round"/><path d="M53.5 640.8l1.4-.9 1.5-.5 1.3-.8 1.6-.4 1.6 .2 1.6 .1 1.6 .1" fill="none" stroke="#202020" stroke-width="0.60" stroke-linecap="round" stroke-linejoin="round"/><path d="M40.1 651l-1.2-1-.9-1.3-.9-1.4-1-1.2-.5-1.5-.5-1.6 0-1.6-.1-1.6-.1-1.6 .2-1.5 .7-1.5 .7-1.4 .9-1.3 .2-1.6 .2-1.6 .4-1.6 .8-1.4 .3-1.5-.2-1.6-.4-1.6" fill="none" stroke="#202020" stroke-width="0.88" stroke-linecap="round" stroke-linejoin="round"/><path d="M35.1 643l-1.6-.2-1.5-.4-1.6-.1-1.6-.3-1.5-.5-1.6-.3-1.5-.5-1.5-.7-1.4-.6-1.5-.7-1.4-.7" fill="none" stroke="#2c2c2c" stroke-width="0.62" stroke-linecap="round" stroke-linejoin="round"/><path d="M18.4 638l-1.6-.1-1.3 .9-1.1 1.2-1 1.3-1 1.3" fill="none" stroke="#383838" stroke-width="0.46" stroke-linecap="round" stroke-linejoin="round"/><path d="M18.4 638l-1.2-1-1.3-1-1.5-.5-1.5-.7-1.3-.8-1.5-.6" fill="none" stroke="#383838" stroke-width="0.46" stroke-linecap="round" stroke-linejoin="round"/><path d="M38.7 621.6l-.7-1.4-.8-1.4-.6-1.5-.3-1.6-.3-1.5 0-1.6-.3-1.6 0-1.6-.4-1.6-.1-1.6 .3-1.5" fill="none" stroke="#2c2c2c" stroke-width="0.66" stroke-linecap="round" stroke-linejoin="round"/><path d="M36.6 617.3l-1.5-.4-1.4-.7-1.5-.7-1.3-1" fill="none" stroke="#383838" stroke-width="0.46" stroke-linecap="round" stroke-linejoin="round"/><path d="M38.7 621.6l0-1.6 0-1.6-.4-1.5-.2-1.6-.2-1.6 .1-1.6 .1-1.6-.4-1.5-.5-1.6-.5-1.5-.2-1.5" fill="none" stroke="#2c2c2c" stroke-width="0.66" stroke-linecap="round" stroke-linejoin="round"/><path d="M37.7 609l.4-1.6 .7-1.4 .8-1.4 1.1-1.1 .9-1.4 .9-1.3" fill="none" stroke="#383838" stroke-width="0.46" stroke-linecap="round" stroke-linejoin="round"/><path d="M36.5 604.4l-.8-1.4-1.2-1.1-1.3-.9-1.2-1.1" fill="none" stroke="#383838" stroke-width="0.50" stroke-linecap="round" stroke-linejoin="round"/><path d="M36.5 604.4l-.1-1.6 .3-1.6 .4-1.6-.2-1.6 0-1.5 .4-1.6" fill="none" stroke="#383838" stroke-width="0.50" stroke-linecap="round" stroke-linejoin="round"/><path d="M38.6 651l-.8-1.4-.6-1.5-.3-1.6-1-1.2-1.2-1.1-1.4-.7-1.5-.6-1.6-.1-1.6-.4-1.6 .2-1.5 .5-1.6 .2-1.5 .4-1.6 .3-1.5 .6-1.6 .2-1.6 .1" fill="none" stroke="#1d1d1d" stroke-width="0.74" stroke-linecap="round" stroke-linejoin="round"/><path d="M39 651l1-1.3 .8-1.3 1.2-1.2 1.1-1 .8-1.5 .9-1.3 1.2-1 .9-1.3 .4-1.6 .5-1.5 .5-1.5 .3-1.6 0-1.6 .5-1.5 .1-1.6" fill="none" stroke="#212121" stroke-width="0.84" stroke-linecap="round" stroke-linejoin="round"/><path d="M48.3 636.5l1.6-.1 1.5-.7 1.5-.5 1.6-.3 1.6-.2 1.6-.1" fill="none" stroke="#2d2d2d" stroke-width="0.59" stroke-linecap="round" stroke-linejoin="round"/><path d="M49.2 630.2l-.4-1.6-.5-1.5-.9-1.3-1-1.2-1.1-1.2" fill="none" stroke="#2d2d2d" stroke-width="0.63" stroke-linecap="round" stroke-linejoin="round"/><path d="M45.3 623.4l-1.3-.9-1.2-1.1-1.1-1.2" fill="none" stroke="#393939" stroke-width="0.47" stroke-linecap="round" stroke-linejoin="round"/><path d="M45.3 623.4l-1.1-1.2-1-1.2-.4-1.6" fill="none" stroke="#393939" stroke-width="0.47" stroke-linecap="round" stroke-linejoin="round"/><path d="M49.2 630.2l.9-1.3 .5-1.5 .4-1.6 .7-1.4 .8-1.4 .8-1.4 1.2-1.1 1.3-.8" fill="none" stroke="#2d2d2d" stroke-width="0.63" stroke-linecap="round" stroke-linejoin="round"/><path d="M55.8 619.7l.9-1.4 .9-1.3 1.3-1 1.3-.9" fill="none" stroke="#393939" stroke-width="0.47" stroke-linecap="round" stroke-linejoin="round"/><path d="M55.8 619.7l1.6-.3 1.6 .4 1.6 .2" fill="none" stroke="#393939" stroke-width="0.47" stroke-linecap="round" stroke-linejoin="round"/><path d="M39 651l-.6-1.5-.7-1.5-.6-1.4-.4-1.6-.2-1.6-.5-1.5-.4-1.5 0-1.6 0-1.6 .2-1.6 0-1.6 .4-1.6 .4-1.5 .6-1.5 .9-1.4 .2-1.5 0-1.6" fill="none" stroke="#2b2b2b" stroke-width="0.86" stroke-linecap="round" stroke-linejoin="round"/><path d="M35.6 637.2l-.3-1.6 0-1.6-.1-1.6 .2-1.6 0-1.6-.3-1.6-.3-1.5-.1-1.6-.3-1.6" fill="none" stroke="#373737" stroke-width="0.60" stroke-linecap="round" stroke-linejoin="round"/><path d="M34.4 622.9l-.1-1.6 0-1.6-.2-1.6" fill="none" stroke="#434343" stroke-width="0.45" stroke-linecap="round" stroke-linejoin="round"/><path d="M34.4 622.9l-.4-1.6-.9-1.2-.6-1.5-.8-1.4-.9-1.4" fill="none" stroke="#434343" stroke-width="0.45" stroke-linecap="round" stroke-linejoin="round"/><path d="M39.6 651l.8-1.4 1.1-1.2 1.4-.8 1.3-.9 1.3-.9 1.2-1.1 .5-1.5 .3-1.6 .2-1.5 0-1.6 .5-1.6 .1-1.6-.2-1.6-.5-1.5-.4-1.5-.1-1.6-.1-1.6" fill="none" stroke="#141414" stroke-width="0.84" stroke-linecap="round" stroke-linejoin="round"/><path d="M47 627.5l0-1.6-.4-1.6-.9-1.3-1.2-1.1-.7-1.4-.2-1.6 0-1.6 0-1.6-.6-1.5-.8-1.4" fill="none" stroke="#202020" stroke-width="0.63" stroke-linecap="round" stroke-linejoin="round"/><path d="M42.2 612.8l-1.2-1-.9-1.3-1-1.3-.8-1.4-1.3-1-.9-1.3" fill="none" stroke="#2c2c2c" stroke-width="0.47" stroke-linecap="round" stroke-linejoin="round"/><path d="M42.2 612.8l-.9-1.3-1-1.2-.9-1.4-.8-1.3" fill="none" stroke="#2c2c2c" stroke-width="0.47" stroke-linecap="round" stroke-linejoin="round"/><path d="M47 627.5l-.1-1.6 .1-1.6-.1-1.6-.1-1.6-.1-1.6 .2-1.6 0-1.6" fill="none" stroke="#202020" stroke-width="0.63" stroke-linecap="round" stroke-linejoin="round"/><path d="M46.9 616.3l-.2-1.6-.4-1.5-.6-1.5-.9-1.4" fill="none" stroke="#2c2c2c" stroke-width="0.47" stroke-linecap="round" stroke-linejoin="round"/><path d="M46.9 616.3l.3-1.6 0-1.6 .6-1.4" fill="none" stroke="#2c2c2c" stroke-width="0.47" stroke-linecap="round" stroke-linejoin="round"/><path d="M38.9 651l0-1.6-.4-1.5-.9-1.3-1-1.4-.9-1.3-1.1-1.1-1.1-1.2-1.2-1-1.1-1.2-1.3-1-1.3-.9-1.1-1.1-1.4-.8-1.3-.9-1.4-.9-1.3-.8-1.5-.7-1.5-.5-1.6-.2-1.5 .2-1.6 .3-1.6 .2-1.4 .8" fill="none" stroke="#2c2c2c" stroke-width="0.82" stroke-linecap="round" stroke-linejoin="round"/><path d="M23.4 633.8l-.5-1.5-.3-1.6 .1-1.6 .1-1.6 .1-1.6-.5-1.4-.6-1.5-.6-1.5" fill="none" stroke="#383838" stroke-width="0.58" stroke-linecap="round" stroke-linejoin="round"/><path d="M22.1 633l-1-1.3-.5-1.5-.7-1.5-1-1.2-1.3-.9-1.1-1.2-.8-1.4-.9-1.3-1-1.2-1-1.3" fill="none" stroke="#383838" stroke-width="0.58" stroke-linecap="round" stroke-linejoin="round"/><path d="M12.8 620.2l-1.1-1.1-1.4-.9-1.4-.7-1.5-.5-1.3-1" fill="none" stroke="#444444" stroke-width="0.45" stroke-linecap="round" stroke-linejoin="round"/><path d="M12.8 620.2l-1.1-1.2-1-1.2-1.1-1.2-.5-1.5" fill="none" stroke="#444444" stroke-width="0.45" stroke-linecap="round" stroke-linejoin="round"/><path d="M38.3 651l-.4-1.5-.1-1.6 .6-1.5 .5-1.5 .7-1.5 1.1-1.1 1-1.3 1.5-.6 1.1-1.2 1.1-1.2 .8-1.3 .5-1.5 .1-1.6 .4-1.6 .5-1.5 .6-1.5 .4-1.6 .4-1.5 .4-1.5 1.1-1.2 1.1-1.2 1.1-1.1 1.1-1.2" fill="none" stroke="#1e1e1e" stroke-width="0.98" stroke-linecap="round" stroke-linejoin="round"/><path d="M48.3 629l-1.1-1.1-1.2-1.1-1-1.3-1-1.2-1.2-1-1.4-.8-1.5-.7" fill="none" stroke="#2a2a2a" stroke-width="0.68" stroke-linecap="round" stroke-linejoin="round"/><path d="M39.5 655l1 7 .7 8 .6 8 .4 12" fill="none" stroke="#111" stroke-width="2.2" stroke-linecap="round"/><path d="M41.4 663.6l-1 1.3-.7 1.4-.2 1.6 .2 1.6 .5 1.5 .5 1.5 .3 1.6-.1 1.6-.3 1.6 .2 1.6 0 1.6-.7 1.4-1 1.3" fill="none" stroke="#333333" stroke-width="0.59" stroke-linecap="round" stroke-linejoin="round"/><path d="M40.6 677.4l-.5 1.5-.6 1.4-1.1 1.2-1.3 1-.9 1.3-.7 1.4-1 1.3-1 1.3-.2 1.5-.1 1.6-.1 1.6 .4 1.6 .3 1.6 .4 1.5 .4 1.5" fill="none" stroke="#171717" stroke-width="0.73" stroke-linecap="round" stroke-linejoin="round"/><path d="M42.1 674.4l.3 1.6 .1 1.6 .6 1.5 .3 1.5-.5 1.6-.4 1.5-.5 1.6-.4 1.5-.7 1.4-.5 1.6-.4 1.5-.2 1.6-.6 1.5-.9 1.3-.4 1.6-.5 1.5" fill="none" stroke="#303030" stroke-width="0.98" stroke-linecap="round" stroke-linejoin="round"/><path d="M42.5 677.6l-1.2 1.1-.7 1.4-.5 1.5-.5 1.5-.4 1.6-.9 1.3" fill="none" stroke="#3c3c3c" stroke-width="0.69" stroke-linecap="round" stroke-linejoin="round"/><path d="M38.3 686l-.3 1.6-.5 1.5-.7 1.5" fill="none" stroke="#484848" stroke-width="0.51" stroke-linecap="round" stroke-linejoin="round"/><path d="M38.3 686l-1.4 .8-1.4 .7-1.4 .8" fill="none" stroke="#484848" stroke-width="0.51" stroke-linecap="round" stroke-linejoin="round"/><path d="M37.4 698.8l0 1.6 .1 1.6 .1 1.6 .9 1.3 1.2 1.1 1 1.2 .9 1.3 1.4 .8 1.5 .3 1.6 .2" fill="none" stroke="#3c3c3c" stroke-width="0.74" stroke-linecap="round" stroke-linejoin="round"/><path d="M37.4 698.8l-1.2 1-1.5 .5-1.6 .5-1.6-.2-1.6 0-1.4-.6-1.6-.2" fill="none" stroke="#3c3c3c" stroke-width="0.74" stroke-linecap="round" stroke-linejoin="round"/><path d="M43.8 686l-.8 1.4-1.2 1-1.5 .7-1.5 .6-1.6 .2-1.5 .2-1.6 .2-1.6-.3-1.6-.4-1.6-.2-1.5-.3-1.6-.2-1.6-.1-1.6-.3-1.3-.8-1.5-.7-1.5-.5" fill="none" stroke="#383838" stroke-width="0.53" stroke-linecap="round" stroke-linejoin="round"/><path d="M18.7 686.5l-1.6 0-1.6-.4-1.4-.6-1.5-.8-1.4-.6-1.4-.8-1.5-.6-1.5-.4-1.6-.5-1.6-.1" fill="none" stroke="#444444" stroke-width="0.45" stroke-linecap="round" stroke-linejoin="round"/><path d="M18.7 686.5l-1.3-1-.6-1.4-.6-1.5-.5-1.6-.4-1.5-.5-1.5-.7-1.4-.1-1.6-.8-1.4-1-1.3" fill="none" stroke="#444444" stroke-width="0.45" stroke-linecap="round" stroke-linejoin="round"/><path d="M14.1 676.6l-.8-1.4-.3-1.6-.3-1.6 .3-1.5 .3-1.6 .4-1.6" fill="none" stroke="#505050" stroke-width="0.45" stroke-linecap="round" stroke-linejoin="round"/><path d="M12.2 672.3l-1.2-1-1.3-.9-1.4-.8-.9-1.3" fill="none" stroke="#505050" stroke-width="0.45" stroke-linecap="round" stroke-linejoin="round"/><path d="M12.2 672.3l-.8-1.3-1.2-1.1-1.5-.6-1.5-.6-1.3-.9" fill="none" stroke="#505050" stroke-width="0.45" stroke-linecap="round" stroke-linejoin="round"/><path d="M41.5 681.5l-.2 1.6-.5 1.5-.8 1.4-.6 1.5-.6 1.5-.3 1.5-.2 1.6-.5 1.6-.8 1.3-.7 1.5-.9 1.3" fill="none" stroke="#2d2d2d" stroke-width="0.91" stroke-linecap="round" stroke-linejoin="round"/><path d="M38.3 692.1l.3 1.6 .7 1.4 .6 1.5 .3 1.6 .6 1.5 .2 1.5" fill="none" stroke="#393939" stroke-width="0.64" stroke-linecap="round" stroke-linejoin="round"/><path d="M41 701.2l.4 1.6 .2 1.6 .8 1.4" fill="none" stroke="#454545" stroke-width="0.48" stroke-linecap="round" stroke-linejoin="round"/><path d="M41 701.2l.1 1.6-.5 1.6-.9 1.3" fill="none" stroke="#454545" stroke-width="0.48" stroke-linecap="round" stroke-linejoin="round"/><path d="M37.8 693.7l-1 1.2-1.2 1.1-.8 1.3-.8 1.4-1.1 1.2" fill="none" stroke="#393939" stroke-width="0.64" stroke-linecap="round" stroke-linejoin="round"/><path d="M32.9 699.9l-.5 1.5-.6 1.4-.8 1.5" fill="none" stroke="#454545" stroke-width="0.48" stroke-linecap="round" stroke-linejoin="round"/><path d="M32.9 699.9l-1.4 .7-1.3 1-1.3 .9" fill="none" stroke="#454545" stroke-width="0.48" stroke-linecap="round" stroke-linejoin="round"/><path d="M35.4 697.8l-.6 1.5-1.1 1.1-.8 1.4-1 1.3-.5 1.5-.4 1.5" fill="none" stroke="#393939" stroke-width="0.68" stroke-linecap="round" stroke-linejoin="round"/><path d="M35.4 697.8l-1.1 1.1-1.4 .8-1.2 1.1-1.3 1-1 1.2" fill="none" stroke="#393939" stroke-width="0.68" stroke-linecap="round" stroke-linejoin="round"/><path d="M29.4 703l-.6 1.5-.7 1.4-.7 1.5" fill="none" stroke="#454545" stroke-width="0.51" stroke-linecap="round" stroke-linejoin="round"/><path d="M29.4 703l-1.4 .8-1.5 .4-1.6-.2" fill="none" stroke="#454545" stroke-width="0.51" stroke-linecap="round" stroke-linejoin="round"/><path d="M42.4 679.8l-.6 1.4-.5 1.6 0 1.6-.4 1.5-.2 1.6 0 1.6 .3 1.6 .1 1.6 .7 1.4 1.3 .9 1.4 .8 1.1 1.2 1 1.2 1 1.3 1 1.2 .8 1.4 1 1.3 .7 1.4 1.2 1.1 .9 1.3 1 1.3" fill="none" stroke="#1e1e1e" stroke-width="0.60" stroke-linecap="round" stroke-linejoin="round"/><path d="M44.5 695.4l-1.6 .4-1.4 .7-1.4 .8-1.4 .7-1.6 .3-1.6 .2-1.5 .4" fill="none" stroke="#2a2a2a" stroke-width="0.45" stroke-linecap="round" stroke-linejoin="round"/><path d="M34 698.9l-.9 1.3-.3 1.6" fill="none" stroke="#363636" stroke-width="0.45" stroke-linecap="round" stroke-linejoin="round"/><path d="M34 698.9l-1.5-.5-1.4-.7-1.4-.8" fill="none" stroke="#363636" stroke-width="0.45" stroke-linecap="round" stroke-linejoin="round"/><path d="M39.4 687.3l-.4 1.5-.1 1.6 0 1.6-.1 1.6 0 1.6 .6 1.5-.2 1.6 .7 1.4 .6 1.5 .3 1.6 .4 1.5 .4 1.6 .6 1.5 .2 1.5 .5 1.6 .1 1.6 .4 1.5" fill="none" stroke="#303030" stroke-width="0.52" stroke-linecap="round" stroke-linejoin="round"/><path d="M42.2 707.4l-1.2 .9-1.4 .9-1.6 .3-1.4 .8-1 1.2-1.4 .8-1.5 .6-1.6 .2-1.5 .4" fill="none" stroke="#3c3c3c" stroke-width="0.45" stroke-linecap="round" stroke-linejoin="round"/><path d="M43.4 713.6l.4 1.6 .4 1.5 .3 1.6 .3 1.6 .6 1.5 .4 1.5 .7 1.4 .6 1.5 .1 1.6-.2 1.6" fill="none" stroke="#3c3c3c" stroke-width="0.45" stroke-linecap="round" stroke-linejoin="round"/><path d="M43.4 713.6l.4 1.6 .6 1.5 .7 1.4 1.2 1.1 1 1.2 .6 1.5 1 1.2 1.3 1 1.2 1" fill="none" stroke="#3c3c3c" stroke-width="0.45" stroke-linecap="round" stroke-linejoin="round"/><path d="M48.9 723.1l1.2 1 1.4 .9 1.3 .9 1.6 .1" fill="none" stroke="#484848" stroke-width="0.45" stroke-linecap="round" stroke-linejoin="round"/><path d="M41.6 674.6l0 1.6-.3 1.6-.7 1.4-1.3 .9-1.6 .5-1.4 .7-1.6 .4-1.5 .4-1.6 0-1.6 .1-1.5 .5-1.3 .9-1.3 1-1.2 1-.9 1.4-.6 1.4-1.2 1.1-1.2 1.1-1.1 1.1-1 1.3" fill="none" stroke="#1c1c1c" stroke-width="0.87" stroke-linecap="round" stroke-linejoin="round"/><path d="M25.9 684.6l-.8 1.4-.4 1.5-.7 1.5-1.2 1.1-1.1 1.1-1.3 .9-1.5 .5-1.4 .8-1.2 1.1" fill="none" stroke="#282828" stroke-width="0.61" stroke-linecap="round" stroke-linejoin="round"/><path d="M22.8 690.1l-.4 1.5-.6 1.5-.7 1.4" fill="none" stroke="#343434" stroke-width="0.45" stroke-linecap="round" stroke-linejoin="round"/><path d="M16.3 694.5l-.8 1.4-.5 1.5-.4 1.6-.7 1.4" fill="none" stroke="#343434" stroke-width="0.46" stroke-linecap="round" stroke-linejoin="round"/><path d="M16.3 694.5l-1.5 .5-1.4 .8-1.1 1.2-.5 1.5-.7 1.5" fill="none" stroke="#343434" stroke-width="0.46" stroke-linecap="round" stroke-linejoin="round"/><path d="M24.7 685.6l-1 1.2-.8 1.4-.1 1.6-.3 1.6-.6 1.5 0 1.6-.1 1.6-.1 1.6 0 1.6 0 1.6 .3 1.6" fill="none" stroke="#282828" stroke-width="0.61" stroke-linecap="round" stroke-linejoin="round"/><path d="M22 702.5l.8 1.4 .7 1.4 1 1.2 1 1.3 .7 1.5 .6 1.4" fill="none" stroke="#343434" stroke-width="0.46" stroke-linecap="round" stroke-linejoin="round"/><path d="M22 702.5l-.1 1.6 .1 1.6-.5 1.5-.6 1.5" fill="none" stroke="#343434" stroke-width="0.46" stroke-linecap="round" stroke-linejoin="round"/><path d="M41.3 685.1l-.6 1.5-.7 1.4-1.1 1.2-1.4 .7-1.3 .9-1.2 1.1-1.2 1.1-1.5 .4-1.5 .4-1.6-.2-1.6-.1-1.6 .2-1.4-.8-1.4-.6-1-1.3-1-1.2-1.1-1.2-1-1.2-1.1-1.2-1-1.2-1.5-.6-1.4-.8-1.4-.7-1.3-1" fill="none" stroke="#171717" stroke-width="1.00" stroke-linecap="round" stroke-linejoin="round"/><path d="M41.4 661.8l.9 1.3 .2 1.6 .4 1.5 .3 1.6-.2 1.6 .5 1.5 .7 1.4 .1 1.6 .1 1.6-.2 1.6-.7 1.5-.5 1.5-1 1.2-1.2 1.1-1.1 1.1-1.4 .8-1.4 .8" fill="none" stroke="#141414" stroke-width="0.83" stroke-linecap="round" stroke-linejoin="round"/><path d="M40.8 682.4l1.5 .4 1.6-.3 1.6-.1 1.6 0 1.6 .3 1.6 0 1.6 .1 1.5 .4 1.5 .6" fill="none" stroke="#202020" stroke-width="0.58" stroke-linecap="round" stroke-linejoin="round"/><path d="M53.4 683.2l1 1.3 .8 1.3 1.1 1.3 .7 1.4" fill="none" stroke="#2c2c2c" stroke-width="0.45" stroke-linecap="round" stroke-linejoin="round"/><path d="M41.8 677.7l-.1 1.6 0 1.6-.1 1.6-.3 1.6 0 1.6 .4 1.6 .7 1.4 .9 1.3 .7 1.4 .2 1.6 .2 1.6 .6 1.5 .6 1.5 .7 1.4 1 1.3 1 1.3 1.2 .9 1.4 .9 .9 1.3 .5 1.5 .6 1.5 .7 1.4" fill="none" stroke="#161616" stroke-width="0.51" stroke-linecap="round" stroke-linejoin="round"/><path d="M53.6 709.1l1.1 1.2 1.4 .8 .9 1.3 1.1 1.2 .9 1.3 1 1.2 1 1.3 .6 1.5 .5 1.5 .4 1.6 .5 1.5 .7 1.4" fill="none" stroke="#222222" stroke-width="0.45" stroke-linecap="round" stroke-linejoin="round"/><path d="M61 717.4l.5 1.5 .7 1.4 1.3 1.1 1.1 1.1 1.5 .6 1.5 .6 1.6 .2" fill="none" stroke="#2e2e2e" stroke-width="0.45" stroke-linecap="round" stroke-linejoin="round"/><path d="M63.7 724.9l.6 1.5 .5 1.5 .1 1.6 .5 1.5 .7 1.5" fill="none" stroke="#2e2e2e" stroke-width="0.45" stroke-linecap="round" stroke-linejoin="round"/><path d="M63.7 724.9l-.3 1.6-.6 1.5-.5 1.5-.8 1.4-.6 1.5" fill="none" stroke="#2e2e2e" stroke-width="0.45" stroke-linecap="round" stroke-linejoin="round"/><path d="M53.6 709.1l0 1.6-.2 1.6-.5 1.5-.2 1.6 0 1.6-.3 1.6-.5 1.5 .4 1.6-.1 1.6-.3 1.5-.3 1.6-.8 1.4" fill="none" stroke="#222222" stroke-width="0.45" stroke-linecap="round" stroke-linejoin="round"/><path d="M39.9 686.6l1 1.2 1.2 1.1 1.2 1 1.3 1 1.4 .6 1.2 1.1 1.2 1.1 1 1.3 1.2 1 .9 1.4 1.1 1.1 1.1 1.1 1.6 .4 1.4 .8 1.1 1.2 1.1 1.1" fill="none" stroke="#212121" stroke-width="0.87" stroke-linecap="round" stroke-linejoin="round"/><path d="M42.2 664.4l-.7 1.4-.9 1.4-.7 1.4-.2 1.6-.2 1.6 .2 1.6-.3 1.5-.5 1.6-.8 1.3-.2 1.6 0 1.6 .2 1.6-.3 1.6 0 1.6 .4 1.5 .3 1.6" fill="none" stroke="#282828" stroke-width="0.87" stroke-linecap="round" stroke-linejoin="round"/><path d="M41.8 688l.7 1.5 1.1 1.1 1.1 1.2 .9 1.3 .3 1.6 .9 1.3 .2 1.6-.1 1.6 .1 1.6 .4 1.5 1 1.2 1.1 1.2 1.1 1.2 1.4 .7 1.5 .7 1.2 1 1.2 1 1.3 1 1.2 1.1 1.2 1 .9 1.3 .6 1.5 .7 1.4 .9 1.4" fill="none" stroke="#313131" stroke-width="0.59" stroke-linecap="round" stroke-linejoin="round"/><path d="M43.4 681.8l.9 1.3 .7 1.5 .3 1.5 .6 1.5 .3 1.6 .6 1.4 .5 1.6 .7 1.4 .6 1.5 .9 1.3 .8 1.4 .8 1.4 .8 1.4 .6 1.5 .3 1.5 .1 1.6 .4 1.6" fill="none" stroke="#303030" stroke-width="0.53" stroke-linecap="round" stroke-linejoin="round"/><path d="M43 678l-1 1.2-1 1.3-.2 1.6-.6 1.5-.7 1.4-.9 1.3-.9 1.3-1.2 1.1-.8 1.4-.6 1.5-.5 1.5-.1 1.6-.3 1.6 0 1.6 .4 1.5 .4 1.6 .9 1.2 .9 1.4 .2 1.6-.2 1.6-.5 1.5-.5 1.5-.5 1.5-1 1.3" fill="none" stroke="#333333" stroke-width="0.64" stroke-linecap="round" stroke-linejoin="round"/><path d="M37 705.2l-.7 1.4-.1 1.6-.2 1.6 .2 1.6 .2 1.6-.1 1.6 0 1.6 .1 1.5 0 1.6-.2 1.6 0 1.6-.2 1.6 0 1.6 .4 1.6" fill="none" stroke="#3f3f3f" stroke-width="0.45" stroke-linecap="round" stroke-linejoin="round"/><path d="M34.3 712.6l-.6 1.5 .2 1.6-.5 1.5-1 1.2-1.2 1.1-.7 1.4-.9 1.4-1 1.3-.7 1.4-.9 1.3" fill="none" stroke="#3f3f3f" stroke-width="0.48" stroke-linecap="round" stroke-linejoin="round"/><path d="M31.2 719.5l.6 1.5 .2 1.6 .1 1.6 .1 1.6" fill="none" stroke="#4b4b4b" stroke-width="0.45" stroke-linecap="round" stroke-linejoin="round"/><path d="M34.3 712.6l-1.5 .6-1.6-.1-1.6-.2-1.6-.1-1.5-.4-1.5-.5-1.5-.6-1.5-.5-1.5-.6-1.6-.4-1.6-.1" fill="none" stroke="#3f3f3f" stroke-width="0.48" stroke-linecap="round" stroke-linejoin="round"/><path d="M31.2 713.1l-.6 1.5-.8 1.4-.8 1.3-.8 1.4" fill="none" stroke="#4b4b4b" stroke-width="0.45" stroke-linecap="round" stroke-linejoin="round"/><path d="M17.3 709.7l-1.5 .4-1.6 .4-1.6-.2-1.5 .5-1.6-.1-1.6-.1-1.6-.3" fill="none" stroke="#4b4b4b" stroke-width="0.45" stroke-linecap="round" stroke-linejoin="round"/><path d="M17.3 709.7l-1.4-.7-1.5-.4-1.6-.1-1.6 0-1.6 .3-1.5 .5-1.3 .9" fill="none" stroke="#4b4b4b" stroke-width="0.45" stroke-linecap="round" stroke-linejoin="round"/><path d="M42.4 665.9l-.2 1.6-.1 1.6 .2 1.5-.4 1.6-.3 1.6-.6 1.5-1 1.2-.5 1.5-1 1.3-.9 1.3-.6 1.4-.7 1.5-.5 1.5" fill="none" stroke="#141414" stroke-width="0.77" stroke-linecap="round" stroke-linejoin="round"/><path d="M35.8 685l-.3 1.6 0 1.6 .3 1.6 .1 1.5 .3 1.6" fill="none" stroke="#202020" stroke-width="0.58" stroke-linecap="round" stroke-linejoin="round"/><path d="M36.2 692.9l1.1 1.1 1.4 .8" fill="none" stroke="#2c2c2c" stroke-width="0.45" stroke-linecap="round" stroke-linejoin="round"/><path d="M36.2 692.9l-.4 1.6-.7 1.4-1.3 .9" fill="none" stroke="#2c2c2c" stroke-width="0.45" stroke-linecap="round" stroke-linejoin="round"/><path d="M35.8 685l-.6 1.5-.4 1.6-.4 1.5-.9 1.4-.6 1.4-.6 1.5-1.1 1.2" fill="none" stroke="#202020" stroke-width="0.58" stroke-linecap="round" stroke-linejoin="round"/><path d="M31.2 695.1l-.9 1.3-.9 1.3-.8 1.4" fill="none" stroke="#2c2c2c" stroke-width="0.45" stroke-linecap="round" stroke-linejoin="round"/><path d="M31.2 695.1l-1.4 .6-1.6-.1" fill="none" stroke="#2c2c2c" stroke-width="0.45" stroke-linecap="round" stroke-linejoin="round"/><path d="M41.5 660.9l.8 1.4 1.2 1.1 1.2 1.1 1.2 1 1.4 .8 1.1 1.1 1.3 1 1.2 1.1 1.3 .9 1.1 1.1 1.4 .9 1.5 .4 1.3 1 1.2 1 1.4 .9 1.3 .8 1.6 .4 1.6 .2 1.6-.1 1.5-.6" fill="none" stroke="#2b2b2b" stroke-width="0.65" stroke-linecap="round" stroke-linejoin="round"/><path d="M45.9 665.5l-.7 1.4-.9 1.3-.7 1.5-.7 1.4-.5 1.5-1.1 1.2-1.6 .4-1.4 .7-1.6 .4-1.6 .2-1.6 0" fill="none" stroke="#373737" stroke-width="0.45" stroke-linecap="round" stroke-linejoin="round"/><path d="M33.5 675.5l-1.5 .2-1.6 .2-1.6 .1-1.6 0" fill="none" stroke="#434343" stroke-width="0.45" stroke-linecap="round" stroke-linejoin="round"/><path d="M33.5 675.5l-1.6-.1-1.5 .3-1.6 0-1.6 .1-1.6 .3" fill="none" stroke="#434343" stroke-width="0.45" stroke-linecap="round" stroke-linejoin="round"/><path d="M64.6 677.1l-.4 1.5-.5 1.6 .3 1.5 .2 1.6-.4 1.6-.1 1.6-.4 1.5-1 1.3-1.4 .9-.7 1.4-.9 1.3" fill="none" stroke="#373737" stroke-width="0.45" stroke-linecap="round" stroke-linejoin="round"/><path d="M59.3 692.9l-.6 1.5-.6 1.5-.8 1.4-1 1.2-.6 1.5-1 1.2" fill="none" stroke="#434343" stroke-width="0.45" stroke-linecap="round" stroke-linejoin="round"/><path d="M59.3 692.9l-1.1 1.2-.7 1.4-.5 1.6-.2 1.6 .2 1.6 .2 1.5" fill="none" stroke="#434343" stroke-width="0.45" stroke-linecap="round" stroke-linejoin="round"/><path d="M41.1 680.6l.4 1.5-.1 1.6 .6 1.5 .9 1.3 .4 1.5 .6 1.5 .9 1.4 .9 1.3 .8 1.4 .9 1.3 .6 1.5 1 1.2 1 1.3 .9 1.3 1 1.3 1 1.3 .7 1.4 .2 1.6 .1 1.6 .1 1.6 .1 1.6-.2 1.6 0 1.6" fill="none" stroke="#191919" stroke-width="0.81" stroke-linecap="round" stroke-linejoin="round"/><path d="M53.9 707.4l1.2 1.1 1 1.2 1 1.3 1.1 1.1 .6 1.5 1.1 1.2 1 1.3 .9 1.3 1.1 1.1 1.4 .8 1.1 1.2" fill="none" stroke="#252525" stroke-width="0.57" stroke-linecap="round" stroke-linejoin="round"/><path d="M59.9 714.8l1.3 .9 1.4 .8 1.2 1.1 1.2 1" fill="none" stroke="#313131" stroke-width="0.45" stroke-linecap="round" stroke-linejoin="round"/><path d="M53.9 713.8l-.2 1.6 .4 1.5 .5 1.5 .8 1.4 .4 1.6 .8 1.3 .8 1.4 1.3 .9 1.4 .8 1.5 .6 1.5 .6 1.6 .2 1.5 .6" fill="none" stroke="#252525" stroke-width="0.61" stroke-linecap="round" stroke-linejoin="round"/><path d="M66.2 727.8l1.6 .1 1.5-.4 1.6 0 1.5-.7 1.6-.3 1.4-.6 1.3-1" fill="none" stroke="#313131" stroke-width="0.45" stroke-linecap="round" stroke-linejoin="round"/><path d="M66.2 727.8l1.3 .8 1.3 1 1.4 .8 1 1.3 1 1.2 1.2 1 1.4 .9 1 1.3" fill="none" stroke="#313131" stroke-width="0.45" stroke-linecap="round" stroke-linejoin="round"/><path d="M53.9 713.8l-.3 1.5-.2 1.6-.6 1.5-.6 1.5-1.1 1.1-1.5 .7-1.4 .7-1.6 .2-1.6 0-1.5 .4-1.4 .8-1.5 .7-1 1.2" fill="none" stroke="#252525" stroke-width="0.61" stroke-linecap="round" stroke-linejoin="round"/><path d="M39.6 725.7l-1.2 1.1-1 1.2-.9 1.3-.5 1.5-.1 1.6-.5 1.6-.2 1.6 .1 1.6" fill="none" stroke="#313131" stroke-width="0.45" stroke-linecap="round" stroke-linejoin="round"/><path d="M39.6 725.7l-1 1.3-1.2 1-1.3 .9-1.1 1.1-1 1.3" fill="none" stroke="#313131" stroke-width="0.45" stroke-linecap="round" stroke-linejoin="round"/><path d="M42.4 675.5l-1 1.3-.8 1.4-.7 1.4-1 1.3-.6 1.5-.7 1.4-.2 1.6-.4 1.5-.8 1.4-.9 1.4-.9 1.3" fill="none" stroke="#212121" stroke-width="0.73" stroke-linecap="round" stroke-linejoin="round"/><path d="M39.9 679.6l-.1 1.6 .3 1.6 .4 1.5 .1 1.6-.4 1.6" fill="none" stroke="#2d2d2d" stroke-width="0.51" stroke-linecap="round" stroke-linejoin="round"/><path d="M34.4 691l-.7 1.4-.8 1.4-.8 1.4-1.1 1.2-.9 1.3" fill="none" stroke="#2d2d2d" stroke-width="0.55" stroke-linecap="round" stroke-linejoin="round"/><path d="M30.1 697.7l.2 1.6 .3 1.6" fill="none" stroke="#393939" stroke-width="0.45" stroke-linecap="round" stroke-linejoin="round"/><path d="M30.1 697.7l-1 1.3-.4 1.5" fill="none" stroke="#393939" stroke-width="0.45" stroke-linecap="round" stroke-linejoin="round"/><path d="M34.4 691l-1.3 .9-1.3 1-1.6 .1-1.5 .5-1.5 .5" fill="none" stroke="#2d2d2d" stroke-width="0.55" stroke-linecap="round" stroke-linejoin="round"/><path d="M27.2 694l-1.3 .9-1.1 1.2-.9 1.3" fill="none" stroke="#393939" stroke-width="0.45" stroke-linecap="round" stroke-linejoin="round"/><path d="M27.2 694l-1.4 .8-1.3 1" fill="none" stroke="#393939" stroke-width="0.45" stroke-linecap="round" stroke-linejoin="round"/><path d="M41.5 660.8l.5 1.6 .6 1.5 .6 1.5 .4 1.5 .2 1.6 .9 1.3 1 1.2 1.2 1.2 1.1 1.2 .7 1.4 .3 1.6 .6 1.4 1.2 1.1 1.3 .9 1.2 1 1 1.3 .8 1.4" fill="none" stroke="#2b2b2b" stroke-width="0.92" stroke-linecap="round" stroke-linejoin="round"/><path d="M46.9 672.2l1 1.2 1 1.2 1.5 .7 1.4 .7 1.4 .7" fill="none" stroke="#373737" stroke-width="0.65" stroke-linecap="round" stroke-linejoin="round"/><path d="M53.2 676.7l1.6 .5 1.5 .3" fill="none" stroke="#434343" stroke-width="0.49" stroke-linecap="round" stroke-linejoin="round"/><path d="M53.2 676.7l1.2 1.1 1.3 1 1.4 .7" fill="none" stroke="#434343" stroke-width="0.49" stroke-linecap="round" stroke-linejoin="round"/><path d="M52.1 679.8l.1 1.6-.7 1.4-.6 1.5-.6 1.5-1.1 1.2-1 1.3-1.1 1-1.4 .9-1.2 1.1" fill="none" stroke="#373737" stroke-width="0.65" stroke-linecap="round" stroke-linejoin="round"/><path d="M50.3 685.8l-.8 1.4-.9 1.3-.9 1.3-1.3 1" fill="none" stroke="#434343" stroke-width="0.45" stroke-linecap="round" stroke-linejoin="round"/><path d="M41.2 688.2l-1.1 1.2-1.2 1.1-.6 1.4-.3 1.6-.6 1.5-.6 1.5-.9 1.3-1 1.2-1.1 1.2-1.1 1.2-1 1.2-1.1 1.1-.3 1.6-.7 1.5-1.2 1.1-1.3 .9-1.4 .7-1.3 1" fill="none" stroke="#1d1d1d" stroke-width="0.57" stroke-linecap="round" stroke-linejoin="round"/><path d="M30.3 705.3l-1.2 1.1-.7 1.4-.1 1.6-.1 1.6-.2 1.6" fill="none" stroke="#292929" stroke-width="0.45" stroke-linecap="round" stroke-linejoin="round"/><path d="M28.2 711l.2 1.6-.1 1.6" fill="none" stroke="#353535" stroke-width="0.45" stroke-linecap="round" stroke-linejoin="round"/><path d="M28 712.6l-.7 1.5-1.4 .8" fill="none" stroke="#353535" stroke-width="0.45" stroke-linecap="round" stroke-linejoin="round"/><path d="M28 712.6l0 1.6 0 1.6" fill="none" stroke="#353535" stroke-width="0.45" stroke-linecap="round" stroke-linejoin="round"/><path d="M24.4 710.5l-.4 1.5-.8 1.5-.9 1.2-.8 1.4-.6 1.5-.5 1.5-.6 1.5-.3 1.6-.2 1.6 0 1.6" fill="none" stroke="#292929" stroke-width="0.45" stroke-linecap="round" stroke-linejoin="round"/><path d="M20.4 719.1l-1.6 .2-1.6 .2-.8 1.4-.6 1.5" fill="none" stroke="#353535" stroke-width="0.45" stroke-linecap="round" stroke-linejoin="round"/><path d="M19.3 725.4l.2 1.6 .1 1.6-.2 1.6 0 1.6" fill="none" stroke="#353535" stroke-width="0.45" stroke-linecap="round" stroke-linejoin="round"/><path d="M19.3 725.4l-.3 1.6-.3 1.5-.1 1.6" fill="none" stroke="#353535" stroke-width="0.45" stroke-linecap="round" stroke-linejoin="round"/><path d="M24.4 710.5l-1.3 .9-1.4 .7-1.6 .3-1.6 .1-1.6 .3-1.4 .8-1.3 .8-1.2 1.1" fill="none" stroke="#292929" stroke-width="0.45" stroke-linecap="round" stroke-linejoin="round"/><path d="M18.5 712.5l-1.6-.3-1.2-1-1.5-.6-1.5-.4-1.6-.3" fill="none" stroke="#353535" stroke-width="0.45" stroke-linecap="round" stroke-linejoin="round"/><path d="M41.9 662l.1 1.6 .4 1.5-.1 1.6-.3 1.6-.8 1.4-1.1 1.2-.9 1.3-1 1.3-.8 1.3-.7 1.5-1 1.3-1.1 1.1-1 1.2-1.4 .9-1 1.2-1.6 .2-1.5 .5-1.6 .1-1.5 .6-1.5 .6-1.4 .8-1 1.3" fill="none" stroke="#171717" stroke-width="0.90" stroke-linecap="round" stroke-linejoin="round"/><path d="M21.1 686.1l-.1 1.6-1 1.3-.7 1.4 .2 1.6 .6 1.5 .3 1.5 .1 1.6 .8 1.4" fill="none" stroke="#232323" stroke-width="0.67" stroke-linecap="round" stroke-linejoin="round"/><path d="M21.1 686.1l-1 1.2-1.1 1.2-.6 1.4-.6 1.5-.7 1.5-.8 1.4-.7 1.4-.4 1.6-.4 1.5-.3 1.6" fill="none" stroke="#232323" stroke-width="0.67" stroke-linecap="round" stroke-linejoin="round"/><path d="M14.5 700.4l.3 1.6 0 1.6-.5 1.5-.6 1.5-.9 1.3-.9 1.3" fill="none" stroke="#2f2f2f" stroke-width="0.50" stroke-linecap="round" stroke-linejoin="round"/><path d="M14.5 700.4l-.3 1.6-.9 1.3-.5 1.5-.6 1.5-.3 1.5" fill="none" stroke="#2f2f2f" stroke-width="0.50" stroke-linecap="round" stroke-linejoin="round"/><path d="M43.3 664.1l-.5 1.5-.8 1.4-.7 1.5-.6 1.4-.5 1.6 .1 1.6-.3 1.5-.4 1.6 .5 1.5 .6 1.5 .3 1.6-.3 1.6-.7 1.4-.7 1.5-.9 1.2-1.2 1.1-1.4 .8" fill="none" stroke="#333333" stroke-width="1.00" stroke-linecap="round" stroke-linejoin="round"/><path d="M42 667l-.8 1.4-1.2 1.1-1.1 1.1-.9 1.3-.5 1.6" fill="none" stroke="#3f3f3f" stroke-width="0.70" stroke-linecap="round" stroke-linejoin="round"/><path d="M39.6 676.2l.4 1.6 .2 1.5-.5 1.6-.4 1.5-.9 1.4-.4 1.5-.6 1.5-.6 1.5" fill="none" stroke="#3f3f3f" stroke-width="0.70" stroke-linecap="round" stroke-linejoin="round"/><path d="M36.8 688.3l0 1.6-.4 1.5" fill="none" stroke="#4b4b4b" stroke-width="0.52" stroke-linecap="round" stroke-linejoin="round"/><path d="M36.8 688.3l-.7 1.4-.4 1.6-.9 1.3-1.2 1.1" fill="none" stroke="#4b4b4b" stroke-width="0.52" stroke-linecap="round" stroke-linejoin="round"/><path d="M39.3 685.3l-.1 1.5-.1 1.6-.5 1.6-.3 1.5 0 1.6 .7 1.5 1.2 1 1 1.3 1.3 .8" fill="none" stroke="#3f3f3f" stroke-width="0.70" stroke-linecap="round" stroke-linejoin="round"/><path d="M42.5 697.7l1.4 .8 1.6-.1 1.5-.5 1.6-.4 1.6 .1" fill="none" stroke="#4b4b4b" stroke-width="0.52" stroke-linecap="round" stroke-linejoin="round"/><path d="M42.5 697.7l1 1.3 1.2 1.1 1.3 .9 1.1 1.1 1.4 .9" fill="none" stroke="#4b4b4b" stroke-width="0.52" stroke-linecap="round" stroke-linejoin="round"/><path d="M35.8 688.4l-1.4 .8-1.6 0-1.5-.5-1-1.3-.8-1.3-1.3-1" fill="none" stroke="#3f3f3f" stroke-width="0.75" stroke-linecap="round" stroke-linejoin="round"/><path d="M28.2 685.1l-1.6-.4-1.6-.1" fill="none" stroke="#4b4b4b" stroke-width="0.56" stroke-linecap="round" stroke-linejoin="round"/><path d="M28.2 685.1l-1.2-1-.8-1.4-.2-1.6" fill="none" stroke="#4b4b4b" stroke-width="0.56" stroke-linecap="round" stroke-linejoin="round"/><path d="M35.8 688.4l-1.6 .1-1.5 .6-1.5 .5-1.5-.4-1.1-1.2-.8-1.4-.9-1.3-1.3-.9-1.4-.8" fill="none" stroke="#3f3f3f" stroke-width="0.75" stroke-linecap="round" stroke-linejoin="round"/><path d="M32.7 689.1l-1.4-.7-1.4-.8-1.4-.7-1.5-.6-1.5-.4" fill="none" stroke="#4b4b4b" stroke-width="0.52" stroke-linecap="round" stroke-linejoin="round"/><path d="M24.2 683.6l-1.5-.6-1.5-.3-1.6 .2-1.6 .5-1.2 .9" fill="none" stroke="#4b4b4b" stroke-width="0.56" stroke-linecap="round" stroke-linejoin="round"/><path d="M24.2 683.6l-1.2-1-1.2-1.1-1.2-1.1-1.4-.6" fill="none" stroke="#4b4b4b" stroke-width="0.56" stroke-linecap="round" stroke-linejoin="round"/><path d="M41.5 683.1l1.5 .6 1.3 .9 1.4 .8 .6 1.5 1.1 1.1 .2 1.6-.3 1.6-.8 1.4-.4 1.5-.7 1.5-1 1.3" fill="none" stroke="#2e2e2e" stroke-width="0.60" stroke-linecap="round" stroke-linejoin="round"/><path d="M44.4 696.9l-.2 1.5-.2 1.6-.4 1.6-.5 1.5-1.1 1.1-1 1.3-.4 1.6" fill="none" stroke="#3a3a3a" stroke-width="0.45" stroke-linecap="round" stroke-linejoin="round"/><path d="M44.4 696.9l-1.3 .8-1.2 1.1-.8 1.3-.9 1.4-1.4 .8" fill="none" stroke="#3a3a3a" stroke-width="0.45" stroke-linecap="round" stroke-linejoin="round"/><path d="M41.5 670.3l1.4-.6 1.6-.4 1.5-.4 1.6-.2 1.5-.7 .6-1.5 .8-1.3 1.2-1.1 .3-1.6" fill="none" stroke="#3e3e3e" stroke-width="0.60" stroke-linecap="round" stroke-linejoin="round"/><path d="M41.5 667.2l-1.4-.9-1.1-1.1-.8-1.4-1.2-1.1-1.1-1.1-1.6-.4-1.6 0-1.6-.1-1.4-.6-1.4-.8-1.3-.9-1.3-1-.9-1.3" fill="none" stroke="#474747" stroke-width="0.60" stroke-linecap="round" stroke-linejoin="round"/><path d="M25.7 657.8l-1.5 .2-1.6 0-1.5-.6-1.5-.5-1.6-.4" fill="none" stroke="#535353" stroke-width="0.45" stroke-linecap="round" stroke-linejoin="round"/><path d="M24.8 656.5l-1.1-1.2-.9-1.3-.7-1.4-.8-1.5-.7-1.4" fill="none" stroke="#535353" stroke-width="0.45" stroke-linecap="round" stroke-linejoin="round"/><path d="M24.8 656.5l-.9-1.4-.4-1.5-1-1.3-1.1-1.1-1.2-1.1-1.3-.9-1-1.3-1-1.2" fill="none" stroke="#535353" stroke-width="0.45" stroke-linecap="round" stroke-linejoin="round"/><path d="M41.5 677.6l1.1 1.2 .8 1.4 .7 1.4 .9 1.3 .9 1.4 .4 1.5 .6 1.5 .5 1.5 .6 1.5 0 1.6 .1 1.6-.2 1.6-.5 1.5" fill="none" stroke="#404040" stroke-width="0.60" stroke-linecap="round" stroke-linejoin="round"/><path d="M45.9 684.3l1.6 0 1.6-.1 1.6-.1 1.6 .1 1.5 .3 1.6 .1 1.4 .8" fill="none" stroke="#4c4c4c" stroke-width="0.45" stroke-linecap="round" stroke-linejoin="round"/><path d="M47.9 695.1l-.1 1.6-.3 1.6-.2 1.5 .2 1.6 .2 1.6 .7 1.5" fill="none" stroke="#4c4c4c" stroke-width="0.45" stroke-linecap="round" stroke-linejoin="round"/><path d="M47.4 696.6l.3 1.6 .7 1.4 .6 1.5 .4 1.5 .1 1.6 .2 1.6-.4 1.6-.7 1.4" fill="none" stroke="#4c4c4c" stroke-width="0.45" stroke-linecap="round" stroke-linejoin="round"/><path d="M47.4 696.6l-.1 1.6 .4 1.6 .4 1.5 .5 1.5 .8 1.4 .7 1.5 .9 1.3 1.3 1" fill="none" stroke="#4c4c4c" stroke-width="0.45" stroke-linecap="round" stroke-linejoin="round"/><path d="M41.5 671.5l1.2 1.1 .8 1.4 1.4 .9 1.3 .8 .8 1.4 .4 1.5 .2 1.6 .2 1.6 .3 1.6 .3 1.5 .6 1.5-.3 1.6-.4 1.5-.9 1.3-.8 1.4" fill="none" stroke="#424242" stroke-width="0.60" stroke-linecap="round" stroke-linejoin="round"/><path d="M46.6 692.2l-1 1.2-1.3 1-1.4 .7-1.5 .7-1.5 .4-1.6 .5-1.4 .6-1.6 .4" fill="none" stroke="#4e4e4e" stroke-width="0.45" stroke-linecap="round" stroke-linejoin="round"/><path d="M46.6 692.2l-1 1.3-1.3 .9-.5 1.5-.7 1.5-.4 1.5-1 1.3-.6 1.5-.4 1.5" fill="none" stroke="#4e4e4e" stroke-width="0.45" stroke-linecap="round" stroke-linejoin="round"/><path d="M41.5 672.7l-1.5 .6-1.6 0-1.6 0-1.5-.1-1.6 .2-1.6-.1-1.6-.3-1.2-1-.8-1.4-.8-1.4-.9-1.4" fill="none" stroke="#393939" stroke-width="0.60" stroke-linecap="round" stroke-linejoin="round"/><path d="M41.5 679.7l1.2 1.1 1.2 1 1.5 .6 1.6 .4 1.3 .9 1.1 1.2 1.1 1.1 1.4 .9 1.3 .8 1.6 .4 1.6 0 1.6-.1 1.6-.3 1.5-.2 1.5-.7 1.6 .1 1.5-.5" fill="none" stroke="#464646" stroke-width="0.60" stroke-linecap="round" stroke-linejoin="round"/><path d="M65.7 686.4l1.2-1.2 1.2-1 1.3-.9 1.6-.4 1.6 .1 1.5-.4" fill="none" stroke="#525252" stroke-width="0.45" stroke-linecap="round" stroke-linejoin="round"/><path d="M65.7 686.4l1.6 .2 1.4 .8 1.3 .9 1.6 .4 1.5-.3 1.5-.7 1.4-.8" fill="none" stroke="#525252" stroke-width="0.45" stroke-linecap="round" stroke-linejoin="round"/><path d="M41.5 675.9l.9 1.4 .6 1.4 .7 1.5 .2 1.6 1 1.3 1 1.2 1 1.2 1.1 1.2 1.4 .7 1.5 .8 1.2 .9 1.1 1.2 .6 1.5 .8 1.4-.1 1.6" fill="none" stroke="#414141" stroke-width="0.60" stroke-linecap="round" stroke-linejoin="round"/><path d="M54.5 694.8l.4 1.5 .7 1.5 .9 1.3 .8 1.4 1 1.2 1.4 .8 1.5 .7" fill="none" stroke="#4d4d4d" stroke-width="0.45" stroke-linecap="round" stroke-linejoin="round"/><path d="M54.5 694.8l-.6 1.5-.8 1.4-.7 1.4-1 1.2-1.4 .9-1.3 .9" fill="none" stroke="#4d4d4d" stroke-width="0.45" stroke-linecap="round" stroke-linejoin="round"/><path d="M41.5 671l-1.5-.6-1.6 0-1.5 .5-1.4 .8-1.5 .6-1.6 .2-1.6 0-1.3-.8-1.4-.8-1.1-1.2-.1-1.6 .4-1.6 .5-1.5" fill="none" stroke="#343434" stroke-width="0.60" stroke-linecap="round" stroke-linejoin="round"/><path d="M41.5 673.8l-1.2 1.1-.7 1.4-.8 1.4-.4 1.5 .3 1.6 .1 1.6-.8 1.4-.7 1.4-.1 1.6 .4 1.6 .7 1.4 .6 1.5 .9 1.3 .1 1.6 .1 1.6-.1 1.6-.1 1.6-.7 1.5" fill="none" stroke="#2b2b2b" stroke-width="0.60" stroke-linecap="round" stroke-linejoin="round"/><path d="M38.3 689.8l-.9-1.3-.3-1.6 0-1.6 .9-1.3 .8-1.4 .5-1.5 .5-1.5" fill="none" stroke="#373737" stroke-width="0.45" stroke-linecap="round" stroke-linejoin="round"/><path d="M39.1 700.5l-.2 1.6 .4 1.5 .6 1.5 .7 1.4 1.4 .9 1.2 1 1.6 .3 1.5 .6 .8 1.3 1.2 1.2 1.3 .9" fill="none" stroke="#373737" stroke-width="0.45" stroke-linecap="round" stroke-linejoin="round"/><path d="M39.1 700.5l-1.1 1.2-1.5 .3-1.6 .2-1.6 .4-1.5 .3-1.5 .7-1.1 1.2" fill="none" stroke="#373737" stroke-width="0.45" stroke-linecap="round" stroke-linejoin="round"/><path d="M41.5 664.6l-.6 1.5-.7 1.4 0 1.6-.3 1.6-1.1 1.2-1.3 .9-1.1 1.2-.4 1.5-.2 1.6-.3 1.6-.5 1.5-1.2 1-1.6 .2-1.5-.5" fill="none" stroke="#343434" stroke-width="0.60" stroke-linecap="round" stroke-linejoin="round"/><path d="M41.5 681.1l1.6 .3 1.3 .8 1.6 .5 1.2 1 1.4 .8 1.3 1 1.4 .7 1 1.3 .9 1.3 .5 1.5 .4 1.6" fill="none" stroke="#3d3d3d" stroke-width="0.60" stroke-linecap="round" stroke-linejoin="round"/><path d="M48.6 684.5l1.5-.4 1.5 .5 1.5 .7 .9 1.3-.5 1.5-1.1 1.2" fill="none" stroke="#494949" stroke-width="0.45" stroke-linecap="round" stroke-linejoin="round"/><path d="M54.1 691.9l.5 1.5 1.2 1.1 1.2 .9 1.4 .9 1.5 .3 1.6 .1 1.6 .4" fill="none" stroke="#494949" stroke-width="0.45" stroke-linecap="round" stroke-linejoin="round"/><path d="M54.1 691.9l-.5 1.5-.3 1.6-.7 1.4-1 1.2-1.3 1-.9 1.3" fill="none" stroke="#494949" stroke-width="0.45" stroke-linecap="round" stroke-linejoin="round"/><path d="M41.5 676.9l1.4-.7 1.5-.7 1.6-.2 1.5-.5 1.5-.6 1.3-.9 1.3-1 1-1.2 .9-1.3 1.5-.6 1.6-.4 1.6 .1 1.6-.1 1.4 .7" fill="none" stroke="#2a2a2a" stroke-width="0.60" stroke-linecap="round" stroke-linejoin="round"/><path d="M41.5 672.7l1.6 .1 1.6-.3 1.6-.2 1.5 .3 1.6-.3 1.6 .1 1.6 .3 1.4 .7 .8 1.3 .7 1.5 .8 1.4 .9 1.3 1.3 1 .9 1.3 1 1.2 .7 1.5" fill="none" stroke="#484848" stroke-width="0.60" stroke-linecap="round" stroke-linejoin="round"/><path d="M41.5 673.6l-1.6 0-1.4-.8-1.2-1.1-1.1-1.1-1.5-.6-1.6 0-1.5 .7-1.5-.2-1.6-.3-1.5-.6-1.1-1.1-.9-1.3-1.5-.6-1.4-.8-1.1-1.1-.8-1.4-.9-1.3-1.4-.8" fill="none" stroke="#2f2f2f" stroke-width="0.60" stroke-linecap="round" stroke-linejoin="round"/><path d="M17.9 661.2l-1.6 .1-1.6 .1-1.5 .5-1.6 .1-1.6 .1-1.6 .1-1.6 0-1.4-.8-1.3-.9" fill="none" stroke="#3b3b3b" stroke-width="0.45" stroke-linecap="round" stroke-linejoin="round"/><path d="M17.9 661.2l-1.4-.9-1.4-.6-1.5-.6-1.6 0-1.6 0-1.6 .1-1.6-.2-1.6-.4" fill="none" stroke="#3b3b3b" stroke-width="0.45" stroke-linecap="round" stroke-linejoin="round"/><path d="M41.5 675.4l1.6 .4 1.6 0 1.6-.2 1.5-.5 1.4-.7 1.2-1.1 .9-1.3 .9-1.3" fill="none" stroke="#282828" stroke-width="0.60" stroke-linecap="round" stroke-linejoin="round"/><path d="M52.2 670.7l1.2-1.1 .8-1.4 .4-1.5" fill="none" stroke="#343434" stroke-width="0.45" stroke-linecap="round" stroke-linejoin="round"/><path d="M52.2 670.7l1.1-1.2 1-1.2 .9-1.4 1.1-1.1" fill="none" stroke="#343434" stroke-width="0.45" stroke-linecap="round" stroke-linejoin="round"/><path d="M22 724l-.3-1.6-.4-1.5-.4-1.6-.5-1.5-.4-1.5-.6-1.5-.5-1.5 .1-1.6-.4-1.6-.2-1.6-.1-1.6-.4-1.5-.7-1.5-.7-1.4-.6-1.5-.6-1.5-.6-1.5-.5-1.5-.4-1.5-.6-1.5-.6-1.5-.6-1.5-.6-1.5-.6-1.5-.7-1.4-.8-1.4-.7-1.4-.7-1.5-.5-1.5-.4-1.5-.3-1.6-.5-1.5-.5-1.6-.6-1.4-.8-1.4-.8-1.4-.8-1.4" fill="none" stroke="#303030" stroke-width="1.00" stroke-linecap="round" stroke-linejoin="round"/></g>
<g filter="url(#b06)"><ellipse cx="39.3" cy="654" rx="3.3" ry="4" fill="#080808"/><ellipse cx="42.5" cy="644.5" rx="2" ry="1.8" fill="#222"/><ellipse cx="63.5" cy="617" rx="2" ry="1.6" fill="#222"/><ellipse cx="24" cy="630" rx="1.5" ry="1.5" fill="#333"/></g>
</g></g>
<rect x="20.20" y="608.30" width="52.60" height="115.10" fill="none" stroke="#333" stroke-width="1.1" />
<clipPath id="cg_2"><rect x="75.6" y="608.3" width="52.80000000000001" height="115.10000000000002"/></clipPath>
<rect x="75.60" y="608.30" width="52.80" height="115.10" fill="#dcdcdc" stroke="none" stroke-width="1" />
<g clip-path="url(#cg_2)"><g filter="url(#b04)">
<ellipse cx="95" cy="690" rx="12" ry="18" fill="#e6e6e6" filter="url(#b3)"/>
<ellipse cx="112" cy="690" rx="6" ry="12" fill="#e8e8e8" filter="url(#b3)"/>
<rect x="75.6" y="608.3" width="52.80000000000001" height="115.10000000000002" filter="url(#nz2)"/>
<circle cx="109.8" cy="674.4" r=".4" fill="#818181"/><circle cx="127.3" cy="675.9" r=".7" fill="#828282"/><circle cx="123.6" cy="667.4" r=".4" fill="#545454"/><circle cx="121.9" cy="667.4" r=".4" fill="#686868"/><circle cx="115.3" cy="709.6" r=".6" fill="#8b8b8b"/><circle cx="115.7" cy="677.5" r=".7" fill="#6f6f6f"/><circle cx="89.6" cy="643.9" r=".7" fill="#8f8f8f"/><circle cx="77.1" cy="661.9" r=".4" fill="#5c5c5c"/><circle cx="81.7" cy="650.7" r=".4" fill="#696969"/><circle cx="98.5" cy="660" r=".7" fill="#696969"/><circle cx="85.4" cy="664.5" r=".7" fill="#7c7c7c"/><circle cx="127.7" cy="704.6" r=".6" fill="#6f6f6f"/><circle cx="96.1" cy="704" r=".5" fill="#818181"/><circle cx="83.5" cy="686.7" r=".5" fill="#848484"/><circle cx="81" cy="656.6" r=".5" fill="#7c7c7c"/><circle cx="126.7" cy="721.5" r=".5" fill="#5a5a5a"/><circle cx="80.7" cy="717.2" r=".4" fill="#787878"/><circle cx="126.8" cy="665.4" r=".6" fill="#8f8f8f"/><circle cx="105.2" cy="695.8" r=".5" fill="#606060"/><circle cx="77.9" cy="641.3" r=".5" fill="#888888"/><circle cx="100.2" cy="690.7" r=".4" fill="#888888"/><circle cx="85.1" cy="707.6" r=".6" fill="#5c5c5c"/><circle cx="118.5" cy="712.4" r=".4" fill="#575757"/><circle cx="75.3" cy="656.4" r=".6" fill="#818181"/><circle cx="86.1" cy="679.3" r=".4" fill="#5b5b5b"/><circle cx="115.8" cy="682" r=".7" fill="#707070"/><circle cx="120.9" cy="721.1" r=".7" fill="#6d6d6d"/><circle cx="78.9" cy="678.1" r=".6" fill="#666666"/><circle cx="79.5" cy="657.4" r=".4" fill="#6d6d6d"/><circle cx="109.9" cy="682.5" r=".7" fill="#575757"/><circle cx="123.5" cy="673" r=".7" fill="#808080"/><circle cx="91.8" cy="661" r=".4" fill="#7f7f7f"/><circle cx="101.8" cy="685.3" r=".4" fill="#898989"/><circle cx="109.3" cy="665.3" r=".5" fill="#6f6f6f"/><circle cx="126.3" cy="698.8" r=".7" fill="#5f5f5f"/><circle cx="94.8" cy="675.1" r=".5" fill="#6c6c6c"/><circle cx="127.2" cy="703.5" r=".4" fill="#565656"/><circle cx="93.4" cy="722.1" r=".6" fill="#8c8c8c"/><circle cx="87.3" cy="718.5" r=".6" fill="#6b6b6b"/><circle cx="118.9" cy="665.3" r=".4" fill="#686868"/><circle cx="76.1" cy="643.8" r=".5" fill="#888888"/><circle cx="93.2" cy="651.7" r=".7" fill="#747474"/><circle cx="75.8" cy="643.2" r=".7" fill="#828282"/><circle cx="92.3" cy="689.1" r=".5" fill="#838383"/><circle cx="94.8" cy="696.9" r=".4" fill="#898989"/><circle cx="89.3" cy="675.8" r=".4" fill="#747474"/><circle cx="89.1" cy="703.1" r=".6" fill="#686868"/><circle cx="110.8" cy="712.9" r=".5" fill="#848484"/><circle cx="90.4" cy="711.4" r=".6" fill="#6e6e6e"/><circle cx="113.3" cy="716.8" r=".6" fill="#898989"/><circle cx="93.2" cy="658.1" r=".4" fill="#7c7c7c"/><circle cx="93" cy="656.8" r=".6" fill="#6e6e6e"/><circle cx="117.9" cy="689.8" r=".7" fill="#656565"/><circle cx="98.4" cy="721.1" r=".6" fill="#7e7e7e"/><circle cx="79.2" cy="647.4" r=".4" fill="#686868"/><circle cx="127.3" cy="711" r=".6" fill="#6c6c6c"/><circle cx="115.3" cy="675.3" r=".5" fill="#555555"/><circle cx="75.2" cy="719.7" r=".4" fill="#6e6e6e"/><circle cx="101.8" cy="707.1" r=".7" fill="#5b5b5b"/><circle cx="95.4" cy="683.6" r=".4" fill="#787878"/><circle cx="117.7" cy="701.2" r=".7" fill="#717171"/><circle cx="78.4" cy="668.8" r=".5" fill="#6e6e6e"/><circle cx="102.5" cy="710.3" r=".4" fill="#696969"/><circle cx="75.9" cy="652.7" r=".4" fill="#8b8b8b"/><circle cx="122.6" cy="710.4" r=".6" fill="#6e6e6e"/><circle cx="110.8" cy="665.1" r=".5" fill="#707070"/><circle cx="76.6" cy="719.6" r=".7" fill="#616161"/><circle cx="94.1" cy="710.4" r=".5" fill="#6a6a6a"/><circle cx="128.4" cy="680" r=".6" fill="#868686"/><circle cx="96" cy="663.1" r=".6" fill="#606060"/><circle cx="121.4" cy="643.7" r=".4" fill="#7c7c7c"/><circle cx="110.9" cy="720.3" r=".5" fill="#858585"/><circle cx="87.5" cy="700.9" r=".4" fill="#656565"/><circle cx="121.6" cy="642.1" r=".4" fill="#7d7d7d"/><circle cx="110" cy="719.9" r=".7" fill="#707070"/><circle cx="102.8" cy="723.7" r=".4" fill="#858585"/><circle cx="75.3" cy="686.9" r=".7" fill="#767676"/><circle cx="95.8" cy="646.9" r=".6" fill="#6e6e6e"/><circle cx="102.6" cy="674.4" r=".4" fill="#505050"/><circle cx="96.1" cy="686.5" r=".7" fill="#7a7a7a"/><circle cx="128.7" cy="653.2" r=".6" fill="#7d7d7d"/><circle cx="123.6" cy="686.6" r=".4" fill="#616161"/><circle cx="110.4" cy="699.8" r=".6" fill="#7d7d7d"/><circle cx="85.3" cy="662.2" r=".4" fill="#838383"/><circle cx="99" cy="686.4" r=".5" fill="#5b5b5b"/><circle cx="98.7" cy="719.1" r=".6" fill="#545454"/><circle cx="94.3" cy="641.8" r=".4" fill="#565656"/><circle cx="108.7" cy="665.9" r=".5" fill="#818181"/><circle cx="98.3" cy="685.9" r=".6" fill="#8c8c8c"/><circle cx="97.8" cy="716.5" r=".7" fill="#565656"/><circle cx="84.3" cy="672.3" r=".5" fill="#727272"/><circle cx="121.5" cy="654.9" r=".7" fill="#7c7c7c"/><circle cx="124.5" cy="668.9" r=".6" fill="#858585"/><circle cx="113.8" cy="649.6" r=".6" fill="#878787"/><circle cx="90.8" cy="680.7" r=".4" fill="#5b5b5b"/><circle cx="93.8" cy="673.8" r=".6" fill="#6b6b6b"/><circle cx="116.3" cy="674" r=".4" fill="#6c6c6c"/><circle cx="87.4" cy="717.4" r=".4" fill="#767676"/><circle cx="98.2" cy="713" r=".6" fill="#8c8c8c"/><circle cx="96.2" cy="706.6" r=".7" fill="#8e8e8e"/><circle cx="118.4" cy="695.9" r=".7" fill="#717171"/><circle cx="102.7" cy="697.9" r=".5" fill="#525252"/><circle cx="80" cy="702.9" r=".7" fill="#767676"/><circle cx="111.1" cy="690.2" r=".6" fill="#515151"/><circle cx="107.8" cy="653.2" r=".5" fill="#878787"/><circle cx="128.1" cy="677.5" r=".6" fill="#898989"/><circle cx="80.5" cy="721.4" r=".5" fill="#8e8e8e"/><circle cx="122.1" cy="665.1" r=".6" fill="#6f6f6f"/><circle cx="113.4" cy="662.5" r=".4" fill="#797979"/><circle cx="86.1" cy="654.1" r=".5" fill="#6a6a6a"/><circle cx="110.2" cy="723.5" r=".4" fill="#666666"/><circle cx="78.9" cy="674.3" r=".7" fill="#828282"/><circle cx="117" cy="722.2" r=".4" fill="#6d6d6d"/><circle cx="128.6" cy="701.9" r=".5" fill="#7d7d7d"/><circle cx="83.6" cy="721.8" r=".6" fill="#6a6a6a"/><circle cx="107.9" cy="658.9" r=".7" fill="#747474"/><circle cx="125.1" cy="683.2" r=".6" fill="#545454"/><circle cx="105" cy="675.2" r=".5" fill="#686868"/><circle cx="113.9" cy="703.4" r=".5" fill="#585858"/><circle cx="118.2" cy="715.5" r=".4" fill="#8f8f8f"/><circle cx="115.7" cy="663.4" r=".6" fill="#808080"/><circle cx="89.6" cy="710.9" r=".6" fill="#8a8a8a"/><circle cx="116.5" cy="720.1" r=".6" fill="#767676"/><circle cx="110.8" cy="658.1" r=".5" fill="#767676"/><circle cx="114" cy="696.9" r=".7" fill="#686868"/><circle cx="76.7" cy="646.5" r=".6" fill="#525252"/><circle cx="106.9" cy="662.7" r=".4" fill="#515151"/><circle cx="88.4" cy="676.5" r=".6" fill="#737373"/><circle cx="87.2" cy="700.9" r=".6" fill="#5c5c5c"/><circle cx="117.4" cy="701.5" r=".7" fill="#6c6c6c"/>
<g filter="url(#b04)" opacity="1.0"><path d="M126.4 708.4l1.5 .3 1.4-.8 1.2-1.1 .9-1.3 1-1.3 1.5-.4 1.6 0 1.6 .4 1.6 0 1.6 0 1.3-.9 1.6-.3 1.4-.8 1.6-.3 1-1.2" fill="none" stroke="#2c2c2c" stroke-width="0.55" stroke-linecap="round" stroke-linejoin="round"/><path d="M89.1 705.7l1.4 .7 1.6-.4 1.2 1 1.3 1 1.5 .5 1.4-.7" fill="none" stroke="#404040" stroke-width="0.55" stroke-linecap="round" stroke-linejoin="round"/><path d="M101.2 644.6l-1.6 .3-1.4-.8-1.5-.6-1.4-.6-1.5-.7-1.4-.8-.9-1.3-1.1-1.2-.4-1.5-.6-1.5 .3-1.6 .4-1.5 1-1.3" fill="none" stroke="#202020" stroke-width="0.83" stroke-linecap="round" stroke-linejoin="round"/><path d="M80.3 689.7l-1.4-.7-1.1-1.2-1-1.2-.8-1.4-.4-1.6-.8-1.3-.5-1.6 .5-1.5 .3-1.6 .7-1.4 .3-1.6 .7-1.4 .5-1.5 .3-1.6 1-1.3" fill="none" stroke="#3a3a3a" stroke-width="0.64" stroke-linecap="round" stroke-linejoin="round"/><path d="M89.9 677.7l-1.1-1.3 .2-1.6-.3-1.5-.4-1.6-.9-1.3-1-1.3" fill="none" stroke="#2d2d2d" stroke-width="0.62" stroke-linecap="round" stroke-linejoin="round"/><path d="M111 686.9l-1.1-1.1-1.2-1-.7-1.5-1.1-1.1-.9-1.4-1.5-.6-1.5-.4-1.5-.5-1.6 .4-1 1.3-.6 1.5-.5 1.5" fill="none" stroke="#2e2e2e" stroke-width="0.76" stroke-linecap="round" stroke-linejoin="round"/><path d="M114.5 669.8l.1-1.6 .8-1.4 .5-1.5 .3-1.6 .3-1.5-.2-1.6-.9-1.3-.5-1.5 .3-1.6-.3-1.6-.7-1.4-1.4-.8-1.3-1-1.5-.3-1.4-.8-1.5-.6" fill="none" stroke="#343434" stroke-width="0.85" stroke-linecap="round" stroke-linejoin="round"/><path d="M124.4 651l1 1.3 .7 1.4 0 1.6-.1 1.6 .7 1.5 .2 1.5 .6 1.5 .9 1.4 1.4 .8 1.5 .4 1.5 .6 1.6 0 1.6-.2 1.5 .3" fill="none" stroke="#333333" stroke-width="0.51" stroke-linecap="round" stroke-linejoin="round"/><path d="M122.9 683.4l.9 1.3 .9 1.3 1.1 1.3 1.2 1 .9 1.3 1 1.3 .9 1.3 .6 1.5 .8 1.3 1 1.3 1.1 1.2 .8 1.3 1.4 .8 1.4 .8 1 1.2" fill="none" stroke="#262626" stroke-width="0.82" stroke-linecap="round" stroke-linejoin="round"/><path d="M104.6 640.6l.4 1.5 1.3 .9 1.1 1.3 .6 1.4 1.1 1.2 1.5 .6 1 1.2 1.6 .4" fill="none" stroke="#232323" stroke-width="0.64" stroke-linecap="round" stroke-linejoin="round"/><path d="M104.8 684.4l-1.1-1.2-.7-1.4-1.6-.5-1.5-.5-.9-1.3-1-1.3-.2-1.6 0-1.6-1-1.2-.6-1.5 .1-1.6-.4-1.5 .2-1.6-.9-1.4 .8-1.4" fill="none" stroke="#464646" stroke-width="0.81" stroke-linecap="round" stroke-linejoin="round"/><path d="M94.5 670.5l-1.1-1.2-1.3-1-1.3-.9-.9-1.3-1.5-.6-1.5-.5-1.6 .3-1.5 .3-1.6-.1-1.6 .3-1.6-.1-1.6 .3-1.6-.1-1.5 .3-1 1.3-.3 1.6" fill="none" stroke="#373737" stroke-width="0.63" stroke-linecap="round" stroke-linejoin="round"/><path d="M76.6 640.4l1.2-1 .9-1.3 1.3-.9 1.3-1 1.6-.3 1.6-.2 1.5 .1 1.6 .1 1.6-.3 1.4-.8 1.3-.9 1.3-.9 1.5-.7 1.4-.8 1.5-.6" fill="none" stroke="#3a3a3a" stroke-width="0.84" stroke-linecap="round" stroke-linejoin="round"/><path d="M92.8 661.2l-1.2-1.1-1.1-1.1 .2-1.6-.7-1.5 .3-1.6 .1-1.6 0-1.6" fill="none" stroke="#474747" stroke-width="0.63" stroke-linecap="round" stroke-linejoin="round"/><path d="M110.9 662l.9-1.3 1.6-.1 1.6-.3 1.4 .8 1.3 .9 1.3 1 1.1 1.1 1.4 .7 1.6 .4 1.6-.3 1.4-.6 1.3-.9 1-1.3 .6-1.5-.2-1.6" fill="none" stroke="#3c3c3c" stroke-width="0.65" stroke-linecap="round" stroke-linejoin="round"/><path d="M104.5 711.4l-1.3-.9-1.4-.8-1.6-.5-1.1-1.1-1.2-1.1-1-1.2-1.3-.9-.1-1.6" fill="none" stroke="#242424" stroke-width="0.81" stroke-linecap="round" stroke-linejoin="round"/><path d="M91.3 670.5l.8 1.4 1 1.2 .3 1.6 .1 1.6 .6 1.4 1.1 1.3 1.5 .4 1 1.3 .1 1.6 .6 1.5 1.3 1" fill="none" stroke="#3d3d3d" stroke-width="0.83" stroke-linecap="round" stroke-linejoin="round"/><path d="M92.2 682.4l1.5-.5 1.1-1.1 1.5-.7 1.4-.7 1.3-1 1.5-.5 1.6 .1 1.4 .8 1.2 1 1.6 .3 1.6 .2 1.6 .1 1.6 0 1.4-.8" fill="none" stroke="#202020" stroke-width="0.86" stroke-linecap="round" stroke-linejoin="round"/><path d="M83.9 666.2l1.3-1 1.4-.7 1.6-.3 1.2-1 1.3-1 1.2-1 1.5-.4 1.2-1.1 1.5-.5 1.6 .1 1.1 1.2 1.5 .6 .6 1.5 .9 1.3" fill="none" stroke="#3d3d3d" stroke-width="0.66" stroke-linecap="round" stroke-linejoin="round"/><path d="M85.7 663l0-1.6 1-1.3 1.1-1.2 0-1.6 .7-1.4 1.3-.9 1.5 .4 1.6-.3 1.6-.4 1 1.2 .8 1.4-.5 1.6-1.1 1.2-1.4 .6-1.4 .8-.2 1.6 1 1.3" fill="none" stroke="#232323" stroke-width="0.71" stroke-linecap="round" stroke-linejoin="round"/><path d="M87.6 711l.5-1.5 .5-1.6 .7-1.4 1.4-.8 1.6 .1 1.4-.8 .9-1.3" fill="none" stroke="#494949" stroke-width="0.85" stroke-linecap="round" stroke-linejoin="round"/><path d="M109.4 641l.8 1.4 .8 1.4 .9 1.3-.5 1.5-.3 1.6 .4 1.5-.5 1.6-1.2 1-1.2 1" fill="none" stroke="#505050" stroke-width="0.76" stroke-linecap="round" stroke-linejoin="round"/><path d="M94.4 649.7l-1.6-.1-1.6-.2-1.3-.9-1.5-.6-.6-1.4-.6-1.5-.5-1.5-.1-1.6" fill="none" stroke="#202020" stroke-width="0.55" stroke-linecap="round" stroke-linejoin="round"/><path d="M96.2 646.7l0-1.6-.3-1.6 .1-1.6-.4-1.5-1-1.3-.3-1.6-.5-1.5-.7-1.4-1.4-.9-1.2-1-.8-1.4-1.3-.8" fill="none" stroke="#484848" stroke-width="0.51" stroke-linecap="round" stroke-linejoin="round"/><path d="M106.3 705.9l.8-1.4-.6-1.5-1.1-1.1-.3-1.6-.7-1.4-.9-1.3-1.5-.8-1.1-1.1-.9-1.3-.8-1.4-1.3-.9-.3-1.6-.6-1.5-1.2-1-.8-1.4-.6-1.5" fill="none" stroke="#2e2e2e" stroke-width="0.50" stroke-linecap="round" stroke-linejoin="round"/><path d="M95.1 677.1l.7 1.4 .6 1.5 .9 1.3 1.2 1.1 1.6 .1 1.6-.1 1.3 1 1.4 .6 1.5 .8 .9 1.2 1.2 1.1 1.6 .3 1.4 .7 1.1 1.2" fill="none" stroke="#4a4a4a" stroke-width="0.71" stroke-linecap="round" stroke-linejoin="round"/><path d="M75.5 652.3l1.5 .4 1.6-.2 1.6-.2 1.5-.4 1.6 .5 1.5-.3 1.6-.6" fill="none" stroke="#3f3f3f" stroke-width="0.50" stroke-linecap="round" stroke-linejoin="round"/><path d="M93.7 699.8l1.4-.6 1.6-.1 1.6-.1 1.6 .1 1.5 .5 1.6 .2 1.6 0 1.6-.4 1.2-1 .9-1.3 1.2-1.1" fill="none" stroke="#3b3b3b" stroke-width="0.71" stroke-linecap="round" stroke-linejoin="round"/><path d="M102.6 696.5l-1.1 1.1-1.6 .4-1.3 .8-1.4 .9-1.4 .8-1.4 .7-1.3 .9-.8 1.4-.3 1.6 .1 1.6 .1 1.6-.3 1.5-.4 1.6" fill="none" stroke="#2e2e2e" stroke-width="0.62" stroke-linecap="round" stroke-linejoin="round"/><path d="M75.7 647.2l-1.4 .8-1.5 .6-1.6 .1-1.6 .2-1.5-.4-1.6 .1-1.6-.2-1.6 .5-1.6-.3" fill="none" stroke="#282828" stroke-width="0.65" stroke-linecap="round" stroke-linejoin="round"/><path d="M88.7 677.5l-1.6 .1-1.5 .3-1.5 .6-.2 1.6 0 1.6 .5 1.5" fill="none" stroke="#4b4b4b" stroke-width="0.85" stroke-linecap="round" stroke-linejoin="round"/><path d="M105 656.1l-.1-1.6-.2-1.5 0-1.6-.4-1.6-.9-1.3-1.1-1.2-.3-1.5-.5-1.6-1.3-.9-1.5-.5-1.4-.8-1.6-.5" fill="none" stroke="#464646" stroke-width="0.82" stroke-linecap="round" stroke-linejoin="round"/><path d="M115.8 721.6l-1.4 .8-1.1 1.1-1.1 1.2-1.4 .9-1.5 .4-1.5 .6-1.1 1.1-1.5 .7" fill="none" stroke="#222222" stroke-width="0.84" stroke-linecap="round" stroke-linejoin="round"/><path d="M93.8 649.2l-1.3-1-.9-1.3-.4-1.5-.8-1.5-.4-1.5 .5-1.6 .2-1.5-.1-1.6 .3-1.6-.1-1.6-.5-1.5-.1-1.6-.1-1.6 .2-1.6 .8-1.4" fill="none" stroke="#2c2c2c" stroke-width="0.80" stroke-linecap="round" stroke-linejoin="round"/><path d="M108.5 676.9l1.2-1.1 1.1-1.2 .7-1.4 .1-1.6 .5-1.5 .7-1.4 .9-1.3 .9-1.4 .8-1.4 .5-1.5 .4-1.5 .8-1.4 1.1-1.2" fill="none" stroke="#303030" stroke-width="0.56" stroke-linecap="round" stroke-linejoin="round"/><path d="M124.1 669.7l-1.6 .2-1.5-.1-1.6 .3-1.6-.4-1.6 .1-1.1-1.1-1.4-.8-1.3-.9-1.2-1.1-1.4-.8-.8-1.4-.2-1.6 .1-1.6 .1-1.6 .8-1.4 1.2-1" fill="none" stroke="#343434" stroke-width="0.73" stroke-linecap="round" stroke-linejoin="round"/><path d="M107.3 705.9l.9-1.4-.1-1.6 1-1.2 .4-1.5 1.4-.9 1.5-.2 1.6 .3 1.6-.3 1.4-.8 1-1.2 1-1.3 .9-1.3" fill="none" stroke="#4f4f4f" stroke-width="0.79" stroke-linecap="round" stroke-linejoin="round"/><path d="M88.7 666.8l-1.6-.3-1.1-1.1-1-1.3-.5-1.5-.8-1.4-1.2-1-1.4-.8-1.6-.3-1.5-.5" fill="none" stroke="#3c3c3c" stroke-width="0.56" stroke-linecap="round" stroke-linejoin="round"/><path d="M122.3 655.6l1.1-1.1 1.1-1.2 .5-1.5 .9-1.3 1.5-.5 1.3-1 1.4-.6 1.6 .4 1.5-.7 1.4 .7 1.4 .8 1.6 .4 1.6 .1 1.1 1.2 1.1 1.1 .9 1.3 1 1.3" fill="none" stroke="#494949" stroke-width="0.59" stroke-linecap="round" stroke-linejoin="round"/><path d="M109.3 715.8l1 1.2 .4 1.5 .5 1.5 .8 1.5 .4 1.5 1.4 .8 1.4 .8" fill="none" stroke="#363636" stroke-width="0.60" stroke-linecap="round" stroke-linejoin="round"/><path d="M103.6 642l-.5-1.5-1.1-1.2-1.4-.8-1.4-.8-1.5-.4-1.6 0-1.5-.5-1.6-.3-1.4-.7-1.6-.3-1.6-.3-1.5-.3-1.6-.1-1.6 .1-1.6 0-1.6-.3-1.5 .4-1.5 .5-1.4 .8-1.3 1-1.4 .7" fill="none" stroke="#151515" stroke-width="1.02" stroke-linecap="round" stroke-linejoin="round"/><path d="M86.9 634.9l-1.5-.5-1.6-.4-1.2-1.1-1.1-1.1-1.2-1.1-1.4-.7" fill="none" stroke="#212121" stroke-width="0.71" stroke-linecap="round" stroke-linejoin="round"/><path d="M82.1 634.9l-.9-1.3-.4-1.5 .2-1.6 .1-1.6 .4-1.6 .3-1.6 .5-1.5 1.1-1.1 .9-1.4 .5-1.5 1.1-1.2" fill="none" stroke="#212121" stroke-width="0.71" stroke-linecap="round" stroke-linejoin="round"/><path d="M80.5 634.6l-.4-1.5-.1-1.6-.3-1.6 .2-1.6-.2-1.6 .2-1.6 0-1.5 .3-1.6-.1-1.6-.8-1.4-.4-1.5-.6-1.5" fill="none" stroke="#212121" stroke-width="0.71" stroke-linecap="round" stroke-linejoin="round"/><path d="M73.4 638l-1.5 .8-1.2 .9-1.6 .5-1.6 .1-1.5 .3-1.6-.1-1.6 .1-1.6 .2-1.6 .1-1.6-.2-1.5-.5-1.6-.4-1.5-.4" fill="none" stroke="#212121" stroke-width="0.77" stroke-linecap="round" stroke-linejoin="round"/><path d="M73.4 638l-1.4 .9-1.2 1-1.4 .7-1.2 1.1-.9 1.3-.7 1.5-.5 1.5-.1 1.6-.4 1.6" fill="none" stroke="#212121" stroke-width="0.77" stroke-linecap="round" stroke-linejoin="round"/><path d="M102 642l-.9-1.3-1.1-1.2-1.2-1.1-.7-1.4-.3-1.6 .4-1.5-.3-1.6-.4-1.5-.2-1.6-.6-1.5-.5-1.5-.4-1.6-.2-1.6-.3-1.5 .2-1.6 .4-1.6-.3-1.6" fill="none" stroke="#242424" stroke-width="0.64" stroke-linecap="round" stroke-linejoin="round"/><path d="M104.4 642l.6-1.5 .1-1.6 0-1.6 .3-1.5-.4-1.6-.3-1.6 .2-1.6 .8-1.4-.3-1.5-.6-1.5-1-1.2-.8-1.4" fill="none" stroke="#1e1e1e" stroke-width="0.99" stroke-linecap="round" stroke-linejoin="round"/><path d="M103 624l-1.2-1-.8-1.4-.9-1.4-1.2-1.1-1.1-1.1-.9-1.3-.7-1.5-.7-1.4" fill="none" stroke="#2a2a2a" stroke-width="0.74" stroke-linecap="round" stroke-linejoin="round"/><path d="M103 624l-1.1-1.2-.6-1.5-1-1.2-.8-1.4-1-1.3-.6-1.5-.6-1.4" fill="none" stroke="#2a2a2a" stroke-width="0.74" stroke-linecap="round" stroke-linejoin="round"/><path d="M102.4 642l-1.6-.5-1.5-.5-1.5-.5-1.6-.3-1.4-.6-1.4-.9-1.2-1-1.5-.6-1.3-.9-.8-1.4-.6-1.5-.5-1.5-.2-1.6-.7-1.4-.8-1.4-.4-1.6-.3-1.5-1.1-1.2" fill="none" stroke="#151515" stroke-width="0.70" stroke-linecap="round" stroke-linejoin="round"/><path d="M104.5 642l1.6-.2 1.5-.2 1.6-.4 1.6-.3 1.5 .2 1.6-.2 1.6 0 1.6-.4 1.5-.6 1.5-.5 1.5-.5 1.6 .2 1.6 .3 1.6-.1 1.6 .3" fill="none" stroke="#111111" stroke-width="0.95" stroke-linecap="round" stroke-linejoin="round"/><path d="M112.3 641.1l1.6 .1 1.6 .2 1.6 .4 1.6 .1 1.6-.2 1.3-.9" fill="none" stroke="#1d1d1d" stroke-width="0.66" stroke-linecap="round" stroke-linejoin="round"/><path d="M128 639.6l1.6-.2 1.6 .1 1.5 .2 1.6 .4 1.5-.3 1.6-.2 1.6 .1 1.6 .2" fill="none" stroke="#1d1d1d" stroke-width="0.71" stroke-linecap="round" stroke-linejoin="round"/><path d="M128 639.6l1.4 .7 1.6 .4 1.6 0 1.6 .1 1.6 0 1.6-.1 1.6 0 1.5-.4 1.4-.7" fill="none" stroke="#1d1d1d" stroke-width="0.71" stroke-linecap="round" stroke-linejoin="round"/><path d="M103.9 642l-1.5 .6-1.5 .6-1.1 1.1-1.2 1.1-.7 1.5-1 1.2-.8 1.4-1 1.2-1.3 1-1.4 .8-1.2 1-1.4 .9-1.2 1-1.2 1.1-1.4 .7-1.6 .2-1.6 0" fill="none" stroke="#191919" stroke-width="0.82" stroke-linecap="round" stroke-linejoin="round"/><path d="M82.8 657.4l-1.4 .8-1.3 .9-1 1.2-.8 1.4-.7 1.4-.9 1.4" fill="none" stroke="#252525" stroke-width="0.62" stroke-linecap="round" stroke-linejoin="round"/><path d="M82.8 657.4l-1.5-.2-1.6 .3-1.6-.1-1.6-.2-1.6 .1-1.5 .5-1.2 1.1-1.3 .9-1.3 .9-1.4 .9" fill="none" stroke="#252525" stroke-width="0.62" stroke-linecap="round" stroke-linejoin="round"/><path d="M105.5 642l-.2-1.6-.3-1.6-.7-1.4-.4-1.6-.5-1.5-.3-1.6-.7-1.4-1.2-1-.9-1.3-1-1.3-.9-1.3-.3-1.6 .7-1.5" fill="none" stroke="#111111" stroke-width="1.05" stroke-linecap="round" stroke-linejoin="round"/><path d="M98.8 623.3l.1-1.6 .7-1.4 1-1.2 1.2-1.2 .8-1.3 .8-1.4 1-1.3" fill="none" stroke="#1d1d1d" stroke-width="0.78" stroke-linecap="round" stroke-linejoin="round"/><path d="M98.8 623.3l.7-1.4 .7-1.4 1.1-1.2 1.3-1" fill="none" stroke="#1d1d1d" stroke-width="0.78" stroke-linecap="round" stroke-linejoin="round"/><path d="M104.3 642l.8-1.4 .7-1.4 .4-1.6 .5-1.5 0-1.6-.6-1.5-.4-1.5 0-1.6-.1-1.6 0-1.6-.5-1.6-.8-1.4-.5-1.5 0-1.6-.2-1.6 0-1.6-.3-1.5-.6-1.5-.1-1.6-.6-1.5-1-1.3-1-1.2" fill="none" stroke="#141414" stroke-width="0.88" stroke-linecap="round" stroke-linejoin="round"/><path d="M104.3 623.7l-.3-1.5-.5-1.5-1-1.3-1.1-1.2-.8-1.4-1-1.2-1.1-1.1-1.1-1.2-.7-1.4" fill="none" stroke="#202020" stroke-width="0.61" stroke-linecap="round" stroke-linejoin="round"/><path d="M100 608.8l-.9-1.3-1.3-1-1.4-.8-1.4-.6-1.6 0-1.6 .2-1.6 .2-1.5 .5-1.6 .4-1.6-.2" fill="none" stroke="#202020" stroke-width="0.66" stroke-linecap="round" stroke-linejoin="round"/><path d="M100 608.8l-1.1-1.2-.9-1.3-.9-1.3-.4-1.6-.2-1.6-.2-1.6 .3-1.5-.6-1.5-.9-1.3-1-1.2-.6-1.5" fill="none" stroke="#202020" stroke-width="0.66" stroke-linecap="round" stroke-linejoin="round"/><path d="M103.4 642l1.6 0 1.6 .4 1.6 0 1.5 .3 1.6 .2 1.6 .3 1.6 .3 1.5 .3 1.6-.5 1.5-.5 1.6-.3" fill="none" stroke="#282828" stroke-width="0.81" stroke-linecap="round" stroke-linejoin="round"/><path d="M102.7 642l-1.2-1-1.4-.8-1.2-1.1-1-1.2-1-1.3-.8-1.3-.6-1.5-.8-1.4-1-1.3-1.2-1-1.5-.5" fill="none" stroke="#171717" stroke-width="0.98" stroke-linecap="round" stroke-linejoin="round"/><path d="M91 629.6l-1.5-.5-1.3-.9-1.2-1.1-.8-1.4-.8-1.4" fill="none" stroke="#232323" stroke-width="0.74" stroke-linecap="round" stroke-linejoin="round"/><path d="M91 629.6l-1-1.3-1.5-.6-1.5-.5-1.3-.9" fill="none" stroke="#232323" stroke-width="0.74" stroke-linecap="round" stroke-linejoin="round"/><path d="M105 642l-1.5-.6-1.4-.8-1.4-.7-1.5-.6-1.2-1-1.2-1.1-1.1-1.2-.5-1.5-.9-1.4-.5-1.5-.1-1.6 .2-1.6 .2-1.6 .7-1.4 0-1.6" fill="none" stroke="#222222" stroke-width="0.75" stroke-linecap="round" stroke-linejoin="round"/><path d="M94.8 623.8l-.9-1.3-.5-1.5-.5-1.5-.3-1.6 0-1.6 0-1.6 0-1.6 .5-1.5" fill="none" stroke="#2e2e2e" stroke-width="0.56" stroke-linecap="round" stroke-linejoin="round"/><path d="M94.8 623.8l.1-1.6-.9-1.3-1.1-1.2-1.4-.6-1.4-.8-1.1-1.2-1-1.3-1.2-1-1.5-.5" fill="none" stroke="#2e2e2e" stroke-width="0.56" stroke-linecap="round" stroke-linejoin="round"/><path d="M103.9 642l1.2-1 .9-1.3 .8-1.4 .6-1.5 .2-1.6-.4-1.5-.2-1.6-.1-1.6 .1-1.6-.9-1.4-.2-1.6-.3-1.5-.3-1.6 .3-1.6 0-1.6 1-1.2 1.3-1 1.3-.9 1.3-.9 1.1-1.2" fill="none" stroke="#1c1c1c" stroke-width="0.71" stroke-linecap="round" stroke-linejoin="round"/><path d="M106 639.7l1.1-1.2 1.2-1.1 .9-1.3 .7-1.4 1-1.3 1.3-.9 1.1-1.2 1.1-1.1 1.3-.9 1.4-.9" fill="none" stroke="#282828" stroke-width="0.50" stroke-linecap="round" stroke-linejoin="round"/><path d="M111.6 614.4l.4-1.6 .5-1.5 .7-1.4 .8-1.4 .6-1.5 .2-1.6 .3-1.6" fill="none" stroke="#282828" stroke-width="0.53" stroke-linecap="round" stroke-linejoin="round"/><path d="M111.6 614.4l1.1-1.2 1-1.2 .8-1.4 .6-1.5 .3-1.5-.4-1.6-.4-1.5 .1-1.6 .2-1.6-.3-1.6-.2-1.6" fill="none" stroke="#282828" stroke-width="0.53" stroke-linecap="round" stroke-linejoin="round"/><path d="M105.1 642l1.5-.5 1.6-.2 1.6 .3 1.5 .4 1.2 1.1 1 1.3 1 1.2 1.1 1.1 1.1 1.2 1.2 1 1.5 .6 1.6 0 1.6-.4 1.5-.5 1.4-.8 1.5-.6" fill="none" stroke="#1c1c1c" stroke-width="0.86" stroke-linecap="round" stroke-linejoin="round"/><path d="M111.3 642l1-1.2 1.1-1.1 1.2-1.1 1.2-1.1 1.3-.9 1.3-.9 1.4-.8 1.5-.5" fill="none" stroke="#282828" stroke-width="0.60" stroke-linecap="round" stroke-linejoin="round"/><path d="M127 647.2l1.3-1 1.2-.9 .6-1.5 .5-1.6 .5-1.5-.1-1.6 0-1.6 0-1.6-.1-1.6" fill="none" stroke="#282828" stroke-width="0.64" stroke-linecap="round" stroke-linejoin="round"/><path d="M127 647.2l1.6-.2 1.5-.3 1.6-.5 1.5-.4 1.6 .4 1.4 .6 1.5 .5 1.6 .3 1.5 .5 1.6 .2" fill="none" stroke="#282828" stroke-width="0.64" stroke-linecap="round" stroke-linejoin="round"/><path d="M102.9 642l.3-1.6 .9-1.3 1.2-1.1 1.4-.8 1.3-.9 1.1-1.1 1.3-1 .8-1.4 .4-1.5 .4-1.6 .5-1.5 .3-1.6 .3-1.6 .7-1.4 1.2-1 1.3-.9 1.5-.6 1.4-.8" fill="none" stroke="#1a1a1a" stroke-width="0.61" stroke-linecap="round" stroke-linejoin="round"/><path d="M116.3 621.7l-.3-1.6 0-1.6 .1-1.6 .7-1.5 .1-1.6-.3-1.5-.8-1.4-1-1.2-1.3-1-1.5-.5" fill="none" stroke="#262626" stroke-width="0.45" stroke-linecap="round" stroke-linejoin="round"/><path d="M119.2 620.3l.9-1.3 .3-1.6 0-1.6 .2-1.6 .7-1.4 1-1.2 .8-1.4 .9-1.3 .9-1.4 .7-1.4 .3-1.6" fill="none" stroke="#262626" stroke-width="0.46" stroke-linecap="round" stroke-linejoin="round"/><path d="M119.2 620.3l1.2-1.1 1.5-.7 1.2-1 1-1.2 .9-1.4 .9-1.2 1.1-1.2 1.4-.8 1.4-.8 1.6-.3 1.6-.4" fill="none" stroke="#262626" stroke-width="0.46" stroke-linecap="round" stroke-linejoin="round"/><path d="M105.5 642l.2-1.6-.3-1.6-.1-1.6 .3-1.5-.1-1.6-.4-1.6-1-1.2-.7-1.4-.9-1.4-.9-1.3-.5-1.5-.7-1.5-.4-1.5-.2-1.6-.1-1.6 0-1.6-.4-1.6-.6-1.5-.8-1.3-.8-1.4-.9-1.3-.6-1.5" fill="none" stroke="#242424" stroke-width="1.04" stroke-linecap="round" stroke-linejoin="round"/><path d="M105.1 632.5l-1.3-.9-1.3-.9-1.4-.8-1.3-1-1.4-.7-1.5-.5-1.6-.2-1.6-.4" fill="none" stroke="#303030" stroke-width="0.73" stroke-linecap="round" stroke-linejoin="round"/><path d="M104.1 631.3l-1-1.2-1.1-1.3-1.2-1-1.1-1.1-1.4-.9-1.3-.9-1.6-.3-1.5-.6-1.4-.7-1.6 .2-1.5 .4" fill="none" stroke="#303030" stroke-width="0.73" stroke-linecap="round" stroke-linejoin="round"/><path d="M102.5 628.5l1.1-1.2 1-1.1 .8-1.5 1-1.2 1.1-1.1 1.2-1.1 1.4-.8 1.5-.4 1.2-1.1" fill="none" stroke="#303030" stroke-width="0.73" stroke-linecap="round" stroke-linejoin="round"/><path d="M104.1 642l1.5-.6 1.6 0 1.6-.2 1.5-.4 1.5-.7 1.6-.3 1.4-.7 1.3-1 1.5-.4 1.5-.5 1.4-.8 1.5-.6 1.6-.1 1.6-.3 1.5-.4 1.6-.3" fill="none" stroke="#101010" stroke-width="0.80" stroke-linecap="round" stroke-linejoin="round"/><path d="M128.3 634.7l1.6-.2 1.6 .1 1.6-.1 1.6 .1 1.5-.4 1.5-.6" fill="none" stroke="#1c1c1c" stroke-width="0.60" stroke-linecap="round" stroke-linejoin="round"/><path d="M128.3 634.7l1.6 .4 1.4 .8 1.6 .1 1.6 0 1.5-.3 1.6 0 1.6 .3 1.6-.1 1.6 .2 1.6 0" fill="none" stroke="#1c1c1c" stroke-width="0.60" stroke-linecap="round" stroke-linejoin="round"/><path d="M103.7 642l.3-1.6 .1-1.6 .1-1.6 .5-1.5 .2-1.6 .2-1.6 .2-1.6 .7-1.4 .9-1.3 .8-1.4 .7-1.4 .7-1.5 .1-1.6 .5-1.5 .6-1.5" fill="none" stroke="#282828" stroke-width="0.65" stroke-linecap="round" stroke-linejoin="round"/><path d="M110.3 619.3l.6-1.4 1.1-1.2 .4-1.6-.2-1.6-.4-1.5" fill="none" stroke="#343434" stroke-width="0.49" stroke-linecap="round" stroke-linejoin="round"/><path d="M110.3 619.3l1.2-1 1.2-1.1 1-1.3 .9-1.3 1-1.2 1.1-1.1 1-1.3 .5-1.5" fill="none" stroke="#343434" stroke-width="0.49" stroke-linecap="round" stroke-linejoin="round"/><path d="M102.2 642l-.7-1.4-.5-1.6-.1-1.6 0-1.6 .1-1.5-.1-1.6 .2-1.6 0-1.6-.3-1.6 .1-1.6 .1-1.6-.1-1.6 .7-1.4 .4-1.6 .2-1.6 .2-1.6 .9-1.3 1.1-1.1 .9-1.4 .8-1.3" fill="none" stroke="#161616" stroke-width="0.90" stroke-linecap="round" stroke-linejoin="round"/><path d="M101 634.3l.5-1.6 .1-1.6-.1-1.6-.4-1.5-.4-1.6-.4-1.5 .1-1.6 .4-1.6" fill="none" stroke="#222222" stroke-width="0.63" stroke-linecap="round" stroke-linejoin="round"/><path d="M101.6 621.7l-.2-1.6-.2-1.6-.3-1.6-.5-1.5 0-1.6-.1-1.6-.2-1.6-.4-1.5-.2-1.6" fill="none" stroke="#222222" stroke-width="0.63" stroke-linecap="round" stroke-linejoin="round"/><path d="M103.4 642l.3-1.6 .8-1.3 1-1.3 .7-1.5 .7-1.4 .5-1.5 .3-1.6 .9-1.3 .7-1.4 .3-1.6 .1-1.6-.4-1.6-.9-1.3-.6-1.4 0-1.6-.8-1.4-.9-1.4-.5-1.5" fill="none" stroke="#212121" stroke-width="0.78" stroke-linecap="round" stroke-linejoin="round"/><path d="M109.7 625.9l-.5-1.5-.2-1.6-.1-1.6-.4-1.5-.3-1.6-.4-1.6-.4-1.5" fill="none" stroke="#2d2d2d" stroke-width="0.54" stroke-linecap="round" stroke-linejoin="round"/><path d="M105.1 642l-1.6 .1-1.6 .5-1.2 1-1.4 .8-1.4 .9-1.4 .7-1.3 .9-1 1.2-1.2 1.2-1.4 .6-1.2 1.2-.8 1.3-.5 1.5-.7 1.5-.6 1.5-.7 1.4-.1 1.6-.2 1.6-.5 1.5 0 1.6-.2 1.6-.2 1.6" fill="none" stroke="#181818" stroke-width="0.76" stroke-linecap="round" stroke-linejoin="round"/><path d="M85.9 667.8l.6 1.4 1.1 1.3 1.3 .9 1.5 .6 1.1 1.1 1.1 1.2 1.2 1.1 1.2 .9 1.3 1 1.5 .6 1.5 .7 1.5 .4 1.6-.4" fill="none" stroke="#242424" stroke-width="0.57" stroke-linecap="round" stroke-linejoin="round"/><path d="M85.9 667.8l-.3 1.5-.6 1.5-.3 1.6-.2 1.6-.5 1.5-.1 1.6-.5 1.5-1 1.3-.8 1.4" fill="none" stroke="#242424" stroke-width="0.57" stroke-linecap="round" stroke-linejoin="round"/><path d="M102.7 642l-.9-1.3-1-1.3-1.2-1-1.1-1.2-.7-1.4-.5-1.6-.8-1.3-.8-1.4-1-1.2-1.5-.7-1.4-.8-1.4-.7-1.3-.9-1.3-.9-1.4-.8-1.3-1-1.2-1-1.3-1.1-1.2-1" fill="none" stroke="#131313" stroke-width="0.93" stroke-linecap="round" stroke-linejoin="round"/><path d="M83.9 623.5l-1.6-.5-1.4-.8-1.1-1-1.4-.9-1.1-1.2-1.2-1" fill="none" stroke="#1f1f1f" stroke-width="0.65" stroke-linecap="round" stroke-linejoin="round"/><path d="M81.4 621.4l-1.2-1.1-1-1.2-1.2-1-1.3-.9-1.2-1.1-.8-1.4-.7-1.4-.4-1.6-.4-1.5-.8-1.4-1.1-1.2" fill="none" stroke="#1f1f1f" stroke-width="0.70" stroke-linecap="round" stroke-linejoin="round"/><path d="M81.4 621.4l-.8-1.4-.3-1.5-.3-1.6-.5-1.5-.2-1.6-.6-1.5-.6-1.5" fill="none" stroke="#1f1f1f" stroke-width="0.70" stroke-linecap="round" stroke-linejoin="round"/><path d="M103.2 642l.8-1.4 .7-1.4 .7-1.5 0-1.6 .1-1.6-.3-1.5-.5-1.6-.6-1.5-.5-1.5-.3-1.5 0-1.6 .1-1.6 .1-1.6 .6-1.5 .6-1.5 .5-1.5 .6-1.5 .8-1.4" fill="none" stroke="#222222" stroke-width="0.79" stroke-linecap="round" stroke-linejoin="round"/><path d="M105.4 637.7l1.1-1.1 .6-1.5-.3-1.6-.3-1.6-.3-1.5-.1-1.6 0-1.6 .2-1.6 .7-1.5 .4-1.5" fill="none" stroke="#2e2e2e" stroke-width="0.55" stroke-linecap="round" stroke-linejoin="round"/><path d="M103.4 623.7l-.7-1.5-.9-1.3-.7-1.4-.6-1.5 .3-1.6 .5-1.5 .7-1.5" fill="none" stroke="#2e2e2e" stroke-width="0.55" stroke-linecap="round" stroke-linejoin="round"/><path d="M106.6 614.7l.3-1.6 .4-1.5 .4-1.5 .6-1.6 .6-1.4 .6-1.5 .7-1.5 .6-1.4 .4-1.6 0-1.6-.2-1.6" fill="none" stroke="#2e2e2e" stroke-width="0.59" stroke-linecap="round" stroke-linejoin="round"/><path d="M106.6 614.7l1-1.2 .8-1.4 .2-1.6 0-1.6-.2-1.6-.1-1.6" fill="none" stroke="#2e2e2e" stroke-width="0.59" stroke-linecap="round" stroke-linejoin="round"/><path d="M103.9 642l1.1-1.1 1.1-1.2 .3-1.6 .5-1.5 .5-1.5 .8-1.4 1.2-1 1.5-.6 1.5-.5 1.6-.3 1.5 .6 1.5 .6 1.5 .4 1.6 .1 1.6 .1 1.6 .4 1.6 .1 1.6-.2 1.6-.1 1.5 .4 1.6 .3 1.5 .6" fill="none" stroke="#272727" stroke-width="1.08" stroke-linecap="round" stroke-linejoin="round"/><path d="M132.7 634.6l1.5-.3 1.6-.5 1.5-.5 1.5-.6 1.5-.3 1.5-.6 1.3-1 .6-1.5 0-1.6 .1-1.6 0-1.6 .1-1.6-.2-1.6" fill="none" stroke="#333333" stroke-width="0.81" stroke-linecap="round" stroke-linejoin="round"/><path d="M132.7 634.6l1.1 1.1 1.5 .6 1.5 .6 1.6 .1 1.5 .5 1.5 .6 1.5 .6 1.6 .2 1.5 .6 1.2 1 1.4 .8 1.6 .3 1.6-.1 1.5-.4" fill="none" stroke="#333333" stroke-width="0.81" stroke-linecap="round" stroke-linejoin="round"/><path d="M104.3 642l-.9-1.3-1.5-.7-1.2-1-1.5-.4-1.5-.7-1.5-.5-1.5-.6-1.1-1.2-.5-1.5-.2-1.6-.3-1.5-.4-1.6-.1-1.6-.1-1.6 .4-1.5 .4-1.6 .2-1.6 .4-1.5 .1-1.6 0-1.6-.4-1.5" fill="none" stroke="#252525" stroke-width="0.76" stroke-linecap="round" stroke-linejoin="round"/><path d="M92.8 623.1l-1.6-.1-1.5 .4-1.5 .6-1.6 .1-1.5 .5-1.6 .4-1.5 .5" fill="none" stroke="#313131" stroke-width="0.53" stroke-linecap="round" stroke-linejoin="round"/><path d="M93.4 620l-1.5 .3-1.6 .4-1.5 .6-1.4 .7-1.5 .6-1.4 .9-.8 1.3-.9 1.4-.8 1.3-.6 1.5-1 1.2" fill="none" stroke="#313131" stroke-width="0.53" stroke-linecap="round" stroke-linejoin="round"/><path d="M103.3 642l.6-1.5 .7-1.4 .9-1.4 1-1.2 1-1.2 1-1.3 1.1-1.1 1-1.3 1.2-1.1 1.2-1 1.2-1 1.3-1 1.2-1" fill="none" stroke="#252525" stroke-width="0.95" stroke-linecap="round" stroke-linejoin="round"/><path d="M104.9 642l1-1.2 1.4-.9 1.4-.7 1.3-.8 1.5-.8 1.2-1 1.1-1.1 1.4-.8 1.4-.8 1.4-.8 1.4-.8" fill="none" stroke="#1d1d1d" stroke-width="0.96" stroke-linecap="round" stroke-linejoin="round"/><path d="M119.4 632.3l1.5-.5 1.6-.3 1.5-.4 1.6-.4" fill="none" stroke="#292929" stroke-width="0.72" stroke-linecap="round" stroke-linejoin="round"/><path d="M119.4 632.3l1.4-.8 1.6-.3 1.5-.5 1.5-.3 1.6-.5 1.6-.3" fill="none" stroke="#292929" stroke-width="0.72" stroke-linecap="round" stroke-linejoin="round"/><path d="M103.5 646l.2 2.2 0 2.2 .2 2.2 .1 2.2-.7 2-.2 2.2 .1 2.2-.2 2.2-.1 2.2 0 2.2-.1 2.2 .1 2.2 .1 2.2 .4 2.2 .5 2.1 .4 2.2 .1 2.2 0 2.2 .2 2.2 .5 2.1 .5 2.2 .3 2.2 .3 2.1 .7 2.1 .3 2.2 .6 2.1 .3 2.2 .1 2.2 .1 2.2 .5 2.2-.3 2.1-.2 2.2-.3 2.2-.3 2.2" fill="none" stroke="#111" stroke-width="1.6" stroke-linecap="round"/><path d="M105 650l-.1 2.2 .3 2.2-.1 2.2-.2 2.2-.4 2.1 0 2.2 .2 2.2 .2 2.2 .3 2.2 .3 2.2 .3 2.1 .1 2.2-.1 2.2 0 2.2 .2 2.2 .1 2.2 .2 2.2 .5 2.1 .2 2.2 .4 2.2 .3 2.2 .2 2.2 .8 2 .7 2.1 1 2 .8 2 .5 2.2 .5 2.1 .6 2.1 0 2.2 .2 2.2 .3 2.2" fill="none" stroke="#111" stroke-width="1.1" stroke-linecap="round"/><path d="M104 660l.1 2.2-.1 2.2 0 2.2-.1 2.2 .1 2.2-.3 2.2 0 2.2-.3 2.1-.1 2.2-.2 2.2-.1 2.2-.4 2.2-.8 2-.6 2.1-.6 2.2-.6 2.1-.6 2.1-.8 2.1-.5 2.1 .2 2.2 .3 2.2 .2 2.2 .1 2.2 0 2.2-.3 2.1-.3 2.2-.6 2.1-.3 2.2" fill="none" stroke="#111" stroke-width="0.8" stroke-linecap="round"/><path d="M125,660 L124.5,676 L124,690 L123.2,705 L122.8,724" fill="none" stroke="#1a1a1a" stroke-width="1.8"/></g>
<g filter="url(#b06)"><ellipse cx="104" cy="643" rx="3.9" ry="3.4" fill="#080808"/><ellipse cx="83.5" cy="614.5" rx="2.8" ry="3.2" fill="#111"/><path d="M84,613 L89,613.5 L94,614.5 L89,615.8 L84,616.5 Z" fill="#222"/><ellipse cx="126.5" cy="658.6" rx="2.4" ry="4.2" fill="#111"/></g>
</g></g>
<rect x="75.60" y="608.30" width="52.80" height="115.10" fill="none" stroke="#333" stroke-width="1.1" />
<clipPath id="cg_3"><rect x="130.9" y="608.3" width="52.900000000000006" height="115.10000000000002"/></clipPath>
<rect x="130.90" y="608.30" width="52.90" height="115.10" fill="#dcdcdc" stroke="none" stroke-width="1" />
<g clip-path="url(#cg_3)"><g filter="url(#b04)">
<ellipse cx="172" cy="642" rx="9" ry="14" fill="#eaeaea" filter="url(#b3)"/>
<ellipse cx="176" cy="680" rx="7" ry="10" fill="#e6e6e6" filter="url(#b3)"/>
<rect x="130.9" y="608.3" width="52.900000000000006" height="115.10000000000002" filter="url(#nz2)"/>
<g filter="url(#b04)" opacity="1.0"><path d="M131.7 720.4l0-1.6-.9-1.4-.4-1.5 .3-1.6-.1-1.6-.2-1.6-1.2-1-1.3-.9-.3-1.5-.1-1.6-.2-1.6" fill="none" stroke="#505050" stroke-width="0.69" stroke-linecap="round" stroke-linejoin="round"/><path d="M145.7 608.5l-.9 1.4-.9 1.3-1.3 .8-1.6 .4-1.5-.4-1.4-.7" fill="none" stroke="#424242" stroke-width="0.63" stroke-linecap="round" stroke-linejoin="round"/><path d="M174.7 689.5l-.5 1.5-.6 1.5-.5 1.5-.3 1.6-1.4 .7" fill="none" stroke="#6e6e6e" stroke-width="0.69" stroke-linecap="round" stroke-linejoin="round"/><path d="M144.9 722.8l-.4 1.6 .7 1.4 1.2 1 1.2 1.1 1.6-.2 1.5-.7 1.5 .5 1-1.2 1.6-.3" fill="none" stroke="#444444" stroke-width="0.63" stroke-linecap="round" stroke-linejoin="round"/><path d="M156.2 629.2l-1.2-1.1 .2-1.6-.4-1.5 .4-1.5" fill="none" stroke="#686868" stroke-width="0.69" stroke-linecap="round" stroke-linejoin="round"/><path d="M168.1 608.2l1.5 .5 .6 1.5 .4 1.5 .8 1.5 1.1 1.1" fill="none" stroke="#6b6b6b" stroke-width="0.50" stroke-linecap="round" stroke-linejoin="round"/><path d="M168.6 615.3l1.5-.6 1.6 0 1.3-.9 1.3-.9 1.2-1.1 1.1-1.2 .7-1.4" fill="none" stroke="#6b6b6b" stroke-width="0.66" stroke-linecap="round" stroke-linejoin="round"/><path d="M157.9 685.8l-.1 1.6 .1 1.6 .1 1.6-.3 1.5 1.1 1.2 1.3 .9 1.2 1.1 .4 1.5 1 1.3 .3 1.6" fill="none" stroke="#6a6a6a" stroke-width="0.46" stroke-linecap="round" stroke-linejoin="round"/><path d="M176.9 670.4l.2-1.6 .8-1.4-.1-1.6-.9-1.4-1.5-.3-1.4-.8-1.6-.4-1.5 .4" fill="none" stroke="#555555" stroke-width="0.49" stroke-linecap="round" stroke-linejoin="round"/><path d="M144.4 676l-.8-1.4-1.5-.7-1.4-.7-1.6-.3-1.3-1" fill="none" stroke="#525252" stroke-width="0.70" stroke-linecap="round" stroke-linejoin="round"/><path d="M179.7 611.1l-.5-1.6-1.1-1.1-1.6-.2-1.4-.7-1.1-1.2 0-1.5 0-1.6 .3-1.6" fill="none" stroke="#505050" stroke-width="0.47" stroke-linecap="round" stroke-linejoin="round"/><path d="M144.4 668.3l1 1.2 1.4 .8 .5 1.5 .8 1.4" fill="none" stroke="#5e5e5e" stroke-width="0.62" stroke-linecap="round" stroke-linejoin="round"/><path d="M168.6 657.1l-1.1-1.1-1-1.3-.9-1.3 .7-1.5 .3-1.6 1-1.3 .1-1.6" fill="none" stroke="#5b5b5b" stroke-width="0.64" stroke-linecap="round" stroke-linejoin="round"/><path d="M154.3 703l.6 1.4 .7 1.5 1.2 1 .3 1.6 1.2 1.1 1.4 .6 1.6-.3 1.6-.2 1.4-.7" fill="none" stroke="#6f6f6f" stroke-width="0.48" stroke-linecap="round" stroke-linejoin="round"/><path d="M168 709.2l-.9-1.3-.7-1.5-.7-1.4-.7-1.4-.2-1.6 0-1.6 .6-1.5" fill="none" stroke="#474747" stroke-width="0.48" stroke-linecap="round" stroke-linejoin="round"/><path d="M151.1 696.5l.8-1.4-.3-1.6-.3-1.6-.3-1.5-.4-1.6-.2-1.6-.4-1.5 .4-1.6" fill="none" stroke="#686868" stroke-width="0.51" stroke-linecap="round" stroke-linejoin="round"/><path d="M137.9 680.4l-1.6 .2-1.6 .4-1.5-.6-1.1 1.1-.5 1.5" fill="none" stroke="#515151" stroke-width="0.47" stroke-linecap="round" stroke-linejoin="round"/><path d="M162.1 702.1l1.5 .4 1.6-.4 1.2-1 1.4-.7 .9-1.4 1.5-.6 1.4-.7 1-1.3 1.2-1" fill="none" stroke="#707070" stroke-width="0.57" stroke-linecap="round" stroke-linejoin="round"/><path d="M157.7 649.9l1.1 1.2 .4 1.6 .3 1.5 .4 1.6-.5 1.5-.3 1.6-.5 1.5 0 1.6 .5 1.5" fill="none" stroke="#525252" stroke-width="0.55" stroke-linecap="round" stroke-linejoin="round"/><path d="M155.7 710.3l-1.5-.6-1.5-.4-1.6-.1-1.6-.1" fill="none" stroke="#6b6b6b" stroke-width="0.58" stroke-linecap="round" stroke-linejoin="round"/><path d="M171.2 716.2l1.6-.3 1.6 .2 .8 1.3 1.3 1 1.2 1 .7 1.5" fill="none" stroke="#6e6e6e" stroke-width="0.68" stroke-linecap="round" stroke-linejoin="round"/><path d="M170.7 655.1l1.5-.5 1.4-.8 1.5 .6 1.6 0 1.6-.3 1.4-.7 1.5 .7" fill="none" stroke="#525252" stroke-width="0.60" stroke-linecap="round" stroke-linejoin="round"/><path d="M132.8 682.9l1.6 .3 1.4-.8 1.1-1.1 1.4-.8" fill="none" stroke="#434343" stroke-width="0.50" stroke-linecap="round" stroke-linejoin="round"/><path d="M132 656.6l-.5-1.6 .5-1.5 .6-1.5" fill="none" stroke="#474747" stroke-width="0.47" stroke-linecap="round" stroke-linejoin="round"/><path d="M156.6 638.8l.1-1.6 .7-1.4 .3-1.6 0-1.6 0-1.6" fill="none" stroke="#4b4b4b" stroke-width="0.59" stroke-linecap="round" stroke-linejoin="round"/><path d="M149.1 680.1l.3 1.6 .4 1.5 .9 1.3-.4 1.6-.2 1.6-1.1 1.1-.5 1.6 .2 1.5 1.1 1.2 .5 1.5" fill="none" stroke="#4e4e4e" stroke-width="0.60" stroke-linecap="round" stroke-linejoin="round"/><path d="M158.6 640.9l-1.4-.8-1.5-.5-1.5-.4-1.6 .3-1.3-.9-1.6 .2" fill="none" stroke="#6c6c6c" stroke-width="0.45" stroke-linecap="round" stroke-linejoin="round"/><path d="M169.6 655.5l-1.2 1.1-.7 1.4-.8 1.4-.6 1.5-1.2 1-1.5 .5-1.6 .4-1.3 1" fill="none" stroke="#606060" stroke-width="0.67" stroke-linecap="round" stroke-linejoin="round"/><path d="M165.6 618.9l1.1 1.1 1.2 1.1 .4 1.5-.9 1.3-1.5 .5-1.6-.4-1.4 .8-1.3 1 0 1.5-.3 1.6" fill="none" stroke="#575757" stroke-width="0.46" stroke-linecap="round" stroke-linejoin="round"/><path d="M182.8 610.2l-.6-1.5-.6-1.5-1-1.3-.1-1.6-.5-1.5-.5-1.5-.9-1.4-1.5-.4-1.4-.7" fill="none" stroke="#525252" stroke-width="0.57" stroke-linecap="round" stroke-linejoin="round"/><path d="M154.6 644l-1.5-.5-1.6-.3-1.5-.3-1.5-.6-1-1.3-.8-1.4-.2-1.6-.3-1.5-.6-1.5-1-1.2-1.1-1.3-1.1-1.1-.8-1.4-1.1-1.2" fill="none" stroke="#242424" stroke-width="0.67" stroke-linecap="round" stroke-linejoin="round"/><path d="M140.5 628.8l-1.5-.5-1.5-.6-1.5-.4-1.6-.4-1.4-.6-1.6-.3" fill="none" stroke="#303030" stroke-width="0.50" stroke-linecap="round" stroke-linejoin="round"/><path d="M140.5 628.8l-1.1-1.1-1.5-.7-1.4-.6-1.5-.7-1.5-.5-1.5-.4" fill="none" stroke="#303030" stroke-width="0.50" stroke-linecap="round" stroke-linejoin="round"/><path d="M132 624.8l-1.6 .3-1.4 .8" fill="none" stroke="#3c3c3c" stroke-width="0.45" stroke-linecap="round" stroke-linejoin="round"/><path d="M132 624.8l-1.5-.7-1.4-.7" fill="none" stroke="#3c3c3c" stroke-width="0.45" stroke-linecap="round" stroke-linejoin="round"/><path d="M152.4 644l-.8-1.4-.5-1.5-.4-1.6-.2-1.5-.4-1.6-.1-1.6-.5-1.5-.7-1.4-.8-1.4-1-1.3-.8-1.4-.7-1.4-.5-1.6" fill="none" stroke="#272727" stroke-width="0.83" stroke-linecap="round" stroke-linejoin="round"/><path d="M145 624.8l-.7-1.4-.7-1.4-.4-1.6 .1-1.6-.1-1.6 0-1.6-.1-1.6" fill="none" stroke="#333333" stroke-width="0.62" stroke-linecap="round" stroke-linejoin="round"/><path d="M145 624.8l-.6-1.4-.6-1.5-.8-1.4-.8-1.4-1-1.2" fill="none" stroke="#333333" stroke-width="0.62" stroke-linecap="round" stroke-linejoin="round"/><path d="M141.2 617.9l-1.1-1.2-1.5-.6-1.1-1.2" fill="none" stroke="#3f3f3f" stroke-width="0.46" stroke-linecap="round" stroke-linejoin="round"/><path d="M141.2 617.9l-1.1-1.2-1.5-.6" fill="none" stroke="#3f3f3f" stroke-width="0.46" stroke-linecap="round" stroke-linejoin="round"/><path d="M155.6 644l-.1-1.6-.2-1.6-.7-1.4-1.1-1.2-1.2-1-.8-1.4-.4-1.5-.3-1.6-.8-1.4-.9-1.3-1-1.2-.9-1.3-.9-1.4" fill="none" stroke="#282828" stroke-width="0.75" stroke-linecap="round" stroke-linejoin="round"/><path d="M153.5 638.2l-1.5-.5-1.6-.3-1.5-.5-1.3-.9" fill="none" stroke="#343434" stroke-width="0.53" stroke-linecap="round" stroke-linejoin="round"/><path d="M146.3 626.1l-.9-1.3-1.3-.9-1.1-1.2-1.4-.8-1.1-1.2-1.1-1.1" fill="none" stroke="#343434" stroke-width="0.56" stroke-linecap="round" stroke-linejoin="round"/><path d="M141.6 621.9l-1.2-1.1-1.4-.7" fill="none" stroke="#404040" stroke-width="0.45" stroke-linecap="round" stroke-linejoin="round"/><path d="M146.3 626.1l-.1-1.6-.6-1.5-.4-1.6-.6-1.4-.9-1.3-1.1-1.2-.7-1.5-1-1.2" fill="none" stroke="#343434" stroke-width="0.56" stroke-linecap="round" stroke-linejoin="round"/><path d="M140.9 614.8l-1.6-.5-1.2-.9-1.6-.5-1.5-.3-1.5-.6" fill="none" stroke="#404040" stroke-width="0.45" stroke-linecap="round" stroke-linejoin="round"/><path d="M140.9 614.8l-.2-1.6 0-1.6-.2-1.6" fill="none" stroke="#404040" stroke-width="0.45" stroke-linecap="round" stroke-linejoin="round"/><path d="M152.2 644l.1-1.6 .3-1.6 0-1.6 .3-1.5-.1-1.6-.2-1.6-.2-1.6-.2-1.6-.3-1.6 0-1.6 .2-1.5 1-1.3 .9-1.3 1.5-.6 1.5-.4 1.6-.4 1.5-.3 1.6 .4 1.1 1.1 .9 1.3 .2 1.6" fill="none" stroke="#1b1b1b" stroke-width="0.80" stroke-linecap="round" stroke-linejoin="round"/><path d="M154.1 644l.2-1.6 .3-1.5 .1-1.6 .3-1.6-.1-1.6-.1-1.6-.2-1.6 0-1.6 0-1.6 .6-1.5 .9-1.3" fill="none" stroke="#1f1f1f" stroke-width="0.86" stroke-linecap="round" stroke-linejoin="round"/><path d="M156.1 626.9l.8-1.4 .9-1.3 .9-1.4 .8-1.3 1.1-1.2 1.2-1.1" fill="none" stroke="#2b2b2b" stroke-width="0.65" stroke-linecap="round" stroke-linejoin="round"/><path d="M161.8 619.2l.6-1.5 .9-1.3" fill="none" stroke="#373737" stroke-width="0.48" stroke-linecap="round" stroke-linejoin="round"/><path d="M161.8 619.2l1.6-.1 1.4-.8 1.4-.7 1.5-.6" fill="none" stroke="#373737" stroke-width="0.48" stroke-linecap="round" stroke-linejoin="round"/><path d="M156.1 626.9l1-1.2 1.2-1.1 1.3-.9 1-1.3 .6-1.5 1.1-1.1" fill="none" stroke="#2b2b2b" stroke-width="0.65" stroke-linecap="round" stroke-linejoin="round"/><path d="M162.3 619.8l1.1-1.2 1.3-.9 1.4-.9 1.5-.5" fill="none" stroke="#373737" stroke-width="0.48" stroke-linecap="round" stroke-linejoin="round"/><path d="M162.3 619.8l1.3-.9 1.2-1.1" fill="none" stroke="#373737" stroke-width="0.48" stroke-linecap="round" stroke-linejoin="round"/><path d="M153.3 644l.2-1.6 .1-1.6 .4-1.5 .7-1.5 .3-1.5 0-1.6-.1-1.6-.3-1.6-.3-1.6-.1-1.6-.3-1.6 0-1.6-.3-1.5-.7-1.5-.2-1.6 0-1.6 .2-1.6 .1-1.6 1.1-1.1 1-1.3 1-1.2 1-1.2" fill="none" stroke="#1b1b1b" stroke-width="0.81" stroke-linecap="round" stroke-linejoin="round"/><path d="M154.9 633.1l-.3-1.6 .1-1.6 .1-1.6-.2-1.6-.7-1.4-.6-1.5-.7-1.4-.2-1.6-.8-1.4" fill="none" stroke="#272727" stroke-width="0.56" stroke-linecap="round" stroke-linejoin="round"/><path d="M151.6 619.4l-1.4-.7-1-1.3-.5-1.5-.5-1.5" fill="none" stroke="#333333" stroke-width="0.45" stroke-linecap="round" stroke-linejoin="round"/><path d="M151.6 619.4l-.9-1.3-.6-1.5-.5-1.5" fill="none" stroke="#333333" stroke-width="0.45" stroke-linecap="round" stroke-linejoin="round"/><path d="M153 644l-.6-1.5-.3-1.6-.6-1.4-1.1-1.2-1-1.3-.6-1.5-.7-1.4-.6-1.5-.5-1.5-.5-1.5 .1-1.6 .6-1.5 1-1.3 .8-1.3 .5-1.6 .6-1.5" fill="none" stroke="#282828" stroke-width="0.93" stroke-linecap="round" stroke-linejoin="round"/><path d="M150.1 620.8l.5-1.5 0-1.6-.1-1.6-.3-1.6-.5-1.5-.1-1.6 .3-1.5 .4-1.6" fill="none" stroke="#343434" stroke-width="0.70" stroke-linecap="round" stroke-linejoin="round"/><path d="M150.1 620.8l1.3-.8 1.4-.8 1.3-1 1-1.2 1.2-1.1 1.4-.8 1.2-1 1.6-.4" fill="none" stroke="#343434" stroke-width="0.70" stroke-linecap="round" stroke-linejoin="round"/><path d="M153.1 644l-.8-1.4-.4-1.5-.4-1.6-.7-1.4-1-1.3-1.2-1-1.2-1-1.6-.4-1.2-1-1.6-.4-1.3-.9-1.2-1.1-1.3-.9-1.5-.5-1.5-.6-1.6-.1-1.4-.8-1.6 .1-1.6-.3-1.5-.4-1.5-.7-1.4-.8" fill="none" stroke="#171717" stroke-width="0.95" stroke-linecap="round" stroke-linejoin="round"/><path d="M125.6 626l-1.5-.3-1.6-.4-1.6-.3-1.5 .2-1.6-.2-1.6-.1-1.6 .2-1.5 .7-1.4 .7-1.3 .9-1.1 1.2-1.2 1" fill="none" stroke="#232323" stroke-width="0.71" stroke-linecap="round" stroke-linejoin="round"/><path d="M125.6 626l-1.4-.8-1.5-.5-1.5-.6-1.3-.8-1.3-1-1.4-.9-1.4-.8-1.2-.9-1.4-.9-1.3-.9" fill="none" stroke="#232323" stroke-width="0.71" stroke-linecap="round" stroke-linejoin="round"/><path d="M154.4 644l1.1-1.2 .9-1.3 .8-1.3 1.2-1.2 1.2-1 .8-1.4 1.1-1.2 1.3-.8 1.6-.4 1.6-.2 1.5-.4 1.5-.6 1.5-.6 1.4-.6 1.5-.7 1.5-.4 1.5-.6 1.4-.9 1.5-.3 1.6 0 1.4 .8" fill="none" stroke="#2a2a2a" stroke-width="0.97" stroke-linecap="round" stroke-linejoin="round"/><path d="M156.4 641.5l-.7-1.4-1.1-1.2-1.2-1-1.3-1-1.5-.6-1.5-.3-1.3-.9-1.3-1-.9-1.3-1-1.3-.9-1.3" fill="none" stroke="#363636" stroke-width="0.68" stroke-linecap="round" stroke-linejoin="round"/><path d="M147.8 635.1l-1.2-1.1-1.3-1-1.2-1-1.2-1.1-1.3-.9-1.3-1" fill="none" stroke="#424242" stroke-width="0.47" stroke-linecap="round" stroke-linejoin="round"/><path d="M182.3 629.7l1.5 .4 1.6 .2 1.5 .6 1.4 .8 1.2 1.1 1.3 .9 1.4 .8 1.4 .8 .9 1.3 1 1.2 1 1.3 .8 1.4" fill="none" stroke="#363636" stroke-width="0.72" stroke-linecap="round" stroke-linejoin="round"/><path d="M186.9 630.9l1.5 .6 1.5 .6 1.2 1 1.2 1.1" fill="none" stroke="#424242" stroke-width="0.51" stroke-linecap="round" stroke-linejoin="round"/><path d="M188.3 631.7l1.5-.4 1.5-.8 1.5-.4" fill="none" stroke="#424242" stroke-width="0.51" stroke-linecap="round" stroke-linejoin="round"/><path d="M193.6 635.3l1.6-.2 1.5-.4 1.3-1 1.3-.9" fill="none" stroke="#424242" stroke-width="0.51" stroke-linecap="round" stroke-linejoin="round"/><path d="M197.3 640.5l.8 1.4 .9 1.3 .8 1.4 .4 1.5" fill="none" stroke="#424242" stroke-width="0.54" stroke-linecap="round" stroke-linejoin="round"/><path d="M197.3 640.5l.4 1.5 .2 1.6 .5 1.5 .2 1.6 .1 1.6-.4 1.5-.4 1.6" fill="none" stroke="#424242" stroke-width="0.54" stroke-linecap="round" stroke-linejoin="round"/><path d="M182.3 629.7l1.5 .5 1.4 .9 1.2 1 1.2 1.1 1.1 1.2 .6 1.5 .6 1.4 .4 1.6 .4 1.5 .7 1.5 1.1 1.1" fill="none" stroke="#363636" stroke-width="0.72" stroke-linecap="round" stroke-linejoin="round"/><path d="M192.5 643l1.4 .8 1.4 .7 1.5 .4 1.4 .8" fill="none" stroke="#424242" stroke-width="0.54" stroke-linecap="round" stroke-linejoin="round"/><path d="M192.5 643l1.1 1.1 1.2 1.1 1.4 .8 1.4 .7 1.4 .8" fill="none" stroke="#424242" stroke-width="0.54" stroke-linecap="round" stroke-linejoin="round"/><path d="M154.3 644l0-1.6 .1-1.6 .5-1.5 .4-1.6 .7-1.4 1.2-1.1 1.4-.8 1.4-.7 1.4-.7 1.6-.3 1.6-.3 1.6 0 1.6 .3 1.5 .1 1.6 .5 1.5 .5 1.5 .6 1.3 .8 1.3 1 1.2 1.1 1.2 1" fill="none" stroke="#2b2b2b" stroke-width="0.83" stroke-linecap="round" stroke-linejoin="round"/><path d="M173.9 634.4l-1.1-1.2-1.1-1.1-1.5-.6-1.5-.5-1.5-.7-1.3-.9-1.3-.9-1.3-1-1.4-.7-1.4-.8-1.6-.5-1.5-.3" fill="none" stroke="#373737" stroke-width="0.58" stroke-linecap="round" stroke-linejoin="round"/><path d="M163.3 627.5l-1.3-.9-1.3-.9-1.1-1.2-1.3-1-.8-1.4-.7-1.4-.8-1.4" fill="none" stroke="#434343" stroke-width="0.45" stroke-linecap="round" stroke-linejoin="round"/><path d="M152.5 644l-.8-1.4-.9-1.3-.4-1.6 .5-1.5 .6-1.5 .4-1.5 1.1-1.2 .9-1.3 .8-1.4 .8-1.4 .9-1.3 .8-1.3 .8-1.4 .3-1.6 .3-1.6 .3-1.5 0-1.6" fill="none" stroke="#232323" stroke-width="0.67" stroke-linecap="round" stroke-linejoin="round"/><path d="M150.4 639.7l-.4-1.5-.8-1.4-1.1-1.2-1-1.2-1.1-1.1-1.4-.9" fill="none" stroke="#2f2f2f" stroke-width="0.47" stroke-linecap="round" stroke-linejoin="round"/><path d="M149.2 636.8l.9-1.3 .8-1.3" fill="none" stroke="#3b3b3b" stroke-width="0.45" stroke-linecap="round" stroke-linejoin="round"/><path d="M148.1 635.6l-.8-1.4-.9-1.3" fill="none" stroke="#3b3b3b" stroke-width="0.45" stroke-linecap="round" stroke-linejoin="round"/><path d="M158.9 619.6l-.5-1.6-.7-1.4-.6-1.5-.8-1.3-.8-1.4-.6-1.5-.3-1.6" fill="none" stroke="#2f2f2f" stroke-width="0.50" stroke-linecap="round" stroke-linejoin="round"/><path d="M154.6 609.3l-1.4-.8-1.4-.8-1.4-.8" fill="none" stroke="#3b3b3b" stroke-width="0.45" stroke-linecap="round" stroke-linejoin="round"/><path d="M154.6 609.3l-.4-1.5-.1-1.6-.3-1.6" fill="none" stroke="#3b3b3b" stroke-width="0.45" stroke-linecap="round" stroke-linejoin="round"/><path d="M158.9 619.6l.4-1.6-.2-1.6 0-1.6-.4-1.5-.7-1.5-.5-1.5-.9-1.3" fill="none" stroke="#2f2f2f" stroke-width="0.50" stroke-linecap="round" stroke-linejoin="round"/><path d="M153.8 644l-1.3-.9-1.4-.8-1.4-.7-1.5-.6-1.3-.9-1.4-.9-1-1.2-.9-1.3-1-1.3-1.1-1.2-1.1-1.1-1.1-1.2-1-1.2-.8-1.4-.6-1.5" fill="none" stroke="#252525" stroke-width="0.90" stroke-linecap="round" stroke-linejoin="round"/><path d="M136.9 627.8l-.5-1.5-.7-1.4-.8-1.4-.7-1.5-.5-1.5-.7-1.4" fill="none" stroke="#313131" stroke-width="0.67" stroke-linecap="round" stroke-linejoin="round"/><path d="M134.2 622l-.4-1.5-.4-1.6-.1-1.6" fill="none" stroke="#3d3d3d" stroke-width="0.47" stroke-linecap="round" stroke-linejoin="round"/><path d="M133 619.1l-1.5-.8-1.4-.7-1.3-.8" fill="none" stroke="#3d3d3d" stroke-width="0.50" stroke-linecap="round" stroke-linejoin="round"/><path d="M133 619.1l-.6-1.5-.5-1.5 .2-1.6" fill="none" stroke="#3d3d3d" stroke-width="0.50" stroke-linecap="round" stroke-linejoin="round"/><path d="M136.9 627.8l.1-1.6 .3-1.6-.2-1.5 .1-1.6 .2-1.6 0-1.6 .5-1.5 .6-1.5 1-1.2" fill="none" stroke="#313131" stroke-width="0.67" stroke-linecap="round" stroke-linejoin="round"/><path d="M139.5 614.1l.9-1.4 .8-1.3 .7-1.5 .8-1.4 .6-1.4" fill="none" stroke="#3d3d3d" stroke-width="0.50" stroke-linecap="round" stroke-linejoin="round"/><path d="M139.5 614.1l1.3-1.1 1.2-1 1.2-1.1 .9-1.3" fill="none" stroke="#3d3d3d" stroke-width="0.50" stroke-linecap="round" stroke-linejoin="round"/><path d="M154 644l-1.6-.3-1.6-.3-1.5-.2-1.6 0-1.6-.2-1.6 0-1.6 .2-1.5 .6-1.6 .3-1.6-.1-1.5-.3-1.6 .1-1.6 .4-1.6-.2-1.5 .4-1.6 .3-1.6 .3-1.4 .6-1.6-.1" fill="none" stroke="#202020" stroke-width="0.75" stroke-linecap="round" stroke-linejoin="round"/><path d="M138.2 644l-.9-1.3-.8-1.4-.8-1.3-.5-1.6-.5-1.5" fill="none" stroke="#2c2c2c" stroke-width="0.53" stroke-linecap="round" stroke-linejoin="round"/><path d="M134.7 636.9l-1.4-.8-1.3-.9" fill="none" stroke="#383838" stroke-width="0.45" stroke-linecap="round" stroke-linejoin="round"/><path d="M134.7 636.9l.3-1.6-.4-1.5-.1-1.6" fill="none" stroke="#383838" stroke-width="0.45" stroke-linecap="round" stroke-linejoin="round"/><path d="M153.6 644l-.4-1.5-.6-1.5-.5-1.6-.1-1.5 .3-1.6 .3-1.6 .5-1.5 .4-1.6 .2-1.5 .5-1.6 .3-1.5 1-1.3 .9-1.3" fill="none" stroke="#202020" stroke-width="0.63" stroke-linecap="round" stroke-linejoin="round"/><path d="M156.4 624.4l.9-1.4 .9-1.3 .6-1.5 .7-1.4 .9-1.3 .9-1.3" fill="none" stroke="#2c2c2c" stroke-width="0.48" stroke-linecap="round" stroke-linejoin="round"/><path d="M161.3 616.2l.4-1.6 .2-1.5" fill="none" stroke="#383838" stroke-width="0.45" stroke-linecap="round" stroke-linejoin="round"/><path d="M161.3 616.2l1-1.3 1-1.2 .6-1.5" fill="none" stroke="#383838" stroke-width="0.45" stroke-linecap="round" stroke-linejoin="round"/><path d="M156.4 624.4l1.3-1 1.3-.8 1.5-.7 1.5-.4 1.6-.5" fill="none" stroke="#2c2c2c" stroke-width="0.48" stroke-linecap="round" stroke-linejoin="round"/><path d="M163.6 621l1.1-1.1 1.4-.9" fill="none" stroke="#383838" stroke-width="0.45" stroke-linecap="round" stroke-linejoin="round"/><path d="M163.6 621l1.5 .6 1.4 .6" fill="none" stroke="#383838" stroke-width="0.45" stroke-linecap="round" stroke-linejoin="round"/><path d="M153 644l.9-1.3 .9-1.3 .6-1.5 .7-1.5 .8-1.3 .8-1.4 0-1.6-.2-1.6-.8-1.5-.3-1.5-.5-1.5-.9-1.4-1-1.2-.8-1.4-1.2-1.1-.8-1.4-.8-1.4-1.2-1-1.4-.8-1.4-.7-1.3-1" fill="none" stroke="#202020" stroke-width="0.78" stroke-linecap="round" stroke-linejoin="round"/><path d="M153.1 644l-1.6-.5-1.5-.5-1.6 .1-1.6 .1-1.6-.1-1.6-.2-1.5-.3-1.6 .1-1.6 .2-1.1 1.2" fill="none" stroke="#1e1e1e" stroke-width="0.77" stroke-linecap="round" stroke-linejoin="round"/><path d="M137.8 644.1l-.8 1.4-.9 1.3-.9 1.3-.9 1.3-1.3 .9-1.4 .8" fill="none" stroke="#2a2a2a" stroke-width="0.58" stroke-linecap="round" stroke-linejoin="round"/><path d="M134.3 649.4l-1.5 .6-1.5 .5-1.5 .4" fill="none" stroke="#363636" stroke-width="0.45" stroke-linecap="round" stroke-linejoin="round"/><path d="M133 650.3l-1.2 1.1-1.3 .9" fill="none" stroke="#363636" stroke-width="0.45" stroke-linecap="round" stroke-linejoin="round"/><path d="M137.8 644.1l-1.2 1.1-1.3 .8-1.5 .5-1.2 1.1-1.1 1.1-.6 1.5" fill="none" stroke="#2a2a2a" stroke-width="0.58" stroke-linecap="round" stroke-linejoin="round"/><path d="M130.9 650.2l0 1.6-.3 1.6" fill="none" stroke="#363636" stroke-width="0.45" stroke-linecap="round" stroke-linejoin="round"/><path d="M130.9 650.2l-1.1 1.2-.5 1.5 .2 1.6" fill="none" stroke="#363636" stroke-width="0.45" stroke-linecap="round" stroke-linejoin="round"/><path d="M152.4 644l.1-1.6-.5-1.5-.7-1.5-1.1-1.2-1.4-.7-1.6-.1-1.6-.1-1.6 .4-1.5 .4-1.6 .4-1.5 .4-1.4 .9-1.3 .8" fill="none" stroke="#141414" stroke-width="0.89" stroke-linecap="round" stroke-linejoin="round"/><path d="M140.9 638.5l0-1.6 .2-1.5 .3-1.6 .2-1.6 .3-1.6 .4-1.5 .5-1.5" fill="none" stroke="#202020" stroke-width="0.62" stroke-linecap="round" stroke-linejoin="round"/><path d="M142.8 627.6l.4-1.6 .6-1.5 .7-1.4 .4-1.5" fill="none" stroke="#2c2c2c" stroke-width="0.47" stroke-linecap="round" stroke-linejoin="round"/><path d="M142.8 627.6l.4-1.6 .6-1.5-.3-1.5" fill="none" stroke="#2c2c2c" stroke-width="0.47" stroke-linecap="round" stroke-linejoin="round"/><path d="M139.4 638.9l-.2-1.6 .2-1.5 .6-1.5 .6-1.5 .8-1.4 .9-1.3" fill="none" stroke="#202020" stroke-width="0.62" stroke-linecap="round" stroke-linejoin="round"/><path d="M140.6 632.8l.6-1.5 .5-1.5" fill="none" stroke="#2c2c2c" stroke-width="0.45" stroke-linecap="round" stroke-linejoin="round"/><path d="M136.7 640.6l-1.5 .5-1.6 0-1.6 .4-1.6 .3-1.4 .6-1.6 .3-1.6-.3" fill="none" stroke="#202020" stroke-width="0.67" stroke-linecap="round" stroke-linejoin="round"/><path d="M136.7 640.6l-1.6-.1-1.6-.1-1.6 .1-1.6 .2-1.5-.5" fill="none" stroke="#202020" stroke-width="0.67" stroke-linecap="round" stroke-linejoin="round"/><path d="M128.8 640.2l-1.6-.1-1.6 .2-1.6-.2" fill="none" stroke="#2c2c2c" stroke-width="0.50" stroke-linecap="round" stroke-linejoin="round"/><path d="M128.8 640.2l-.7-1.4-.7-1.4-.6-1.5" fill="none" stroke="#2c2c2c" stroke-width="0.50" stroke-linecap="round" stroke-linejoin="round"/><path d="M155.1 644l.4-1.5 .3-1.6-.1-1.6-.3-1.6-.8-1.4-.8-1.3-1.3-1.1-1.6 0-1.5-.2-1.4-.8" fill="none" stroke="#181818" stroke-width="0.97" stroke-linecap="round" stroke-linejoin="round"/><path d="M154.6 636.3l.6-1.5 .8-1.4 .9-1.3 1.2-1 1.1-1.1" fill="none" stroke="#242424" stroke-width="0.68" stroke-linecap="round" stroke-linejoin="round"/><path d="M159.2 630l1.1-1.2 1.3-1 1.5-.4" fill="none" stroke="#303030" stroke-width="0.51" stroke-linecap="round" stroke-linejoin="round"/><path d="M159.2 630l1.6-.3 1.6-.2" fill="none" stroke="#303030" stroke-width="0.51" stroke-linecap="round" stroke-linejoin="round"/><path d="M151.5 644l-1.6-.1-1.6 .1-1.6 .1-1.6 .2-1.6 .3-1.6 .2-1.6 .2-1.3 1-1.2 .9-1.2 1.1-1 1.3-1.2 1-1.6 .4-1.5 .6-1.4 .6-1.2 1.1-1.3 1-1.2 1-1 1.3-1.2 1" fill="none" stroke="#1b1b1b" stroke-width="0.72" stroke-linecap="round" stroke-linejoin="round"/><path d="M139 646l-.7-1.5-.8-1.3-.6-1.5-.6-1.5-.9-1.3-1-1.2-1-1.3-1.2-1.1" fill="none" stroke="#272727" stroke-width="0.50" stroke-linecap="round" stroke-linejoin="round"/><path d="M132.2 635.3l-1.4-.8-1.3-.9-1.3-.9-1.1-1.1-1-1.3" fill="none" stroke="#333333" stroke-width="0.45" stroke-linecap="round" stroke-linejoin="round"/><path d="M132.2 635.3l-.7-1.4-.6-1.5 0-1.6 .2-1.6" fill="none" stroke="#333333" stroke-width="0.45" stroke-linecap="round" stroke-linejoin="round"/><path d="M154.5 644l.2-1.6-.3-1.5-.4-1.6-.5-1.5-.6-1.5-.4-1.6 .5-1.5 .8-1.4 1-1.2 1.3-.9 1.3-1 1.4-.6 1.6-.5 1.3-.8 1.4-.8 1-1.3 1.1-1.1" fill="none" stroke="#2f2f2f" stroke-width="0.85" stroke-linecap="round" stroke-linejoin="round"/><path d="M164.1 624.7l1.2-1 1.2-1 1.4-.9 1.6-.1 1.6 .3 1.5 .6 1.3 .8 1.6 .4 1.5 .5" fill="none" stroke="#3b3b3b" stroke-width="0.59" stroke-linecap="round" stroke-linejoin="round"/><path d="M166.5 622.7l1.6-.4 1.6 .1 1.6-.2" fill="none" stroke="#474747" stroke-width="0.45" stroke-linecap="round" stroke-linejoin="round"/><path d="M177 624.3l1.5 .6 1.2 1 1.3 1 1.3 .9" fill="none" stroke="#474747" stroke-width="0.45" stroke-linecap="round" stroke-linejoin="round"/><path d="M177 624.3l1.3 .8 1.6 .4 1.6 0" fill="none" stroke="#474747" stroke-width="0.45" stroke-linecap="round" stroke-linejoin="round"/><path d="M153.6 644l.6-1.5 1.2-1 .6-1.5 1-1.2 .9-1.4 .3-1.6 .4-1.5 .8-1.4 .7-1.5 .7-1.4 .3-1.6 .3-1.6 .3-1.5 .3-1.6 .1-1.6-.3-1.6" fill="none" stroke="#303030" stroke-width="0.99" stroke-linecap="round" stroke-linejoin="round"/><path d="M160.1 631.4l1.2-1 1.2-1.1 1-1.2 1-1.3 .9-1.3 1-1.2 1.1-1.2" fill="none" stroke="#3c3c3c" stroke-width="0.69" stroke-linecap="round" stroke-linejoin="round"/><path d="M153.5 644l-1.2-1-1.4-.9-1.5-.5-1.5-.5-1.6-.3-1.6 0-1.5 .4-1.6 .1-1.6-.3-1.5-.2" fill="none" stroke="#282828" stroke-width="0.81" stroke-linecap="round" stroke-linejoin="round"/><path d="M152.6 644l1.5-.5 1.3-.9 1.5-.6 1.1-1.1 .9-1.4 .3-1.5 .7-1.5 .8-1.4 .6-1.5 .9-1.3 .8-1.3 .4-1.6 .2-1.6 .4-1.5 .1-1.6 .1-1.6" fill="none" stroke="#2a2a2a" stroke-width="0.65" stroke-linecap="round" stroke-linejoin="round"/><path d="M152.6 644l-1.5-.7-1.4-.8-1.4-.7-1.6-.2-1.5-.5-1.5-.5-1.5-.7-1.4-.7-1.2-1-1.2-1.1-1.3-1-.9-1.3-1-1.3-.7-1.4-.6-1.5-.8-1.4-1.2-1-1.1-1.2-1-1.3-1-1.2-1.4-.7" fill="none" stroke="#181818" stroke-width="0.96" stroke-linecap="round" stroke-linejoin="round"/><path d="M153.6 644l-1.1-1.1-1.1-1.2-.8-1.5-1.2-.9-1.4-.8-1.5-.5-1.5-.6-1.3-1-.9-1.3-1-1.2-1-1.3-.6-1.5-.5-1.5-.5-1.5-.5-1.5-.6-1.5-.3-1.6-.2-1.6 .4-1.5-.2-1.6-.1-1.6" fill="none" stroke="#151515" stroke-width="0.70" stroke-linecap="round" stroke-linejoin="round"/><path d="M137.7 617.2l-.6-1.5-1-1.3-.3-1.5-.3-1.6-.2-1.6-.6-1.5-.4-1.6-.9-1.3-.8-1.3-.7-1.5-1.3-1-1.3-.9" fill="none" stroke="#212121" stroke-width="0.52" stroke-linecap="round" stroke-linejoin="round"/><path d="M129.3 600.6l-1.3-.8-1.6-.2-1.6 .1-1.6 .1-1.5-.6-1.4-.7-1.4-.8" fill="none" stroke="#2d2d2d" stroke-width="0.45" stroke-linecap="round" stroke-linejoin="round"/><path d="M129.3 600.6l-1.4-.7-1.4-.9-1.2-1-1.3-.9-1.2-1-1.6-.4" fill="none" stroke="#2d2d2d" stroke-width="0.45" stroke-linecap="round" stroke-linejoin="round"/><path d="M137.7 617.2l.2-1.6 .1-1.6-.1-1.6-.2-1.6-.3-1.6 .1-1.6 .4-1.5-.2-1.6" fill="none" stroke="#212121" stroke-width="0.52" stroke-linecap="round" stroke-linejoin="round"/><path d="M137.9 606.1l.7-1.5 .3-1.5 .2-1.6 .6-1.5 .2-1.6" fill="none" stroke="#2d2d2d" stroke-width="0.45" stroke-linecap="round" stroke-linejoin="round"/><path d="M154.8 644l-1.1-1.1-1.3-1-1.4-.7-1.3-1-1.3-.9-1.5-.7-1.4-.7-.9-1.3-1-1.2-1.4-.9-1-1.3-.7-1.4-1.3-1-.9-1.3-.7-1.4-.8-1.4-.9-1.3-1.1-1.2-1-1.2-1.2-1-1-1.3-1-1.3" fill="none" stroke="#2e2e2e" stroke-width="0.75" stroke-linecap="round" stroke-linejoin="round"/><path d="M139.2 630.8l-1.1-1.1-1.3-1-1.5-.4-1.5-.4-1.6-.3-1.4-.8-1.6 0-1.6-.2-1.5-.5-1.6-.4-1.5-.6" fill="none" stroke="#3a3a3a" stroke-width="0.53" stroke-linecap="round" stroke-linejoin="round"/><path d="M129.2 626.8l-1-1.3-1.1-1.1-.8-1.4-.5-1.6" fill="none" stroke="#464646" stroke-width="0.45" stroke-linecap="round" stroke-linejoin="round"/><path d="M123 625.1l-1.4-.7-1.2-1-1.3-1-1.3-.9" fill="none" stroke="#464646" stroke-width="0.45" stroke-linecap="round" stroke-linejoin="round"/><path d="M123 625.1l-1.4-.7-1.4-.8-1.4-.8-1.2-1-1.2-1.1-1.4-.8" fill="none" stroke="#464646" stroke-width="0.45" stroke-linecap="round" stroke-linejoin="round"/><path d="M130.6 619.4l-1.4-.8-1.4-.7-1.5-.5-1.2-1.1-.5-1.6-.6-1.5-.5-1.5-.1-1.6-.2-1.5-.2-1.6-.4-1.6-.4-1.5" fill="none" stroke="#3a3a3a" stroke-width="0.56" stroke-linecap="round" stroke-linejoin="round"/><path d="M123.5 611.7l-.8-1.4-1.1-1.1-1.3-1-1.3-.8-1.5-.6-1-1.2" fill="none" stroke="#464646" stroke-width="0.45" stroke-linecap="round" stroke-linejoin="round"/><path d="M122.2 603.9l-.2-1.6-.5-1.6-.1-1.6 .1-1.6-.3-1.5" fill="none" stroke="#464646" stroke-width="0.45" stroke-linecap="round" stroke-linejoin="round"/><path d="M122.2 603.9l-.2-1.6 .1-1.6-.2-1.6-.3-1.6-.3-1.5" fill="none" stroke="#464646" stroke-width="0.45" stroke-linecap="round" stroke-linejoin="round"/><path d="M130.6 619.4l-1.4-.8-1.5-.6-1.5-.4-1.6-.4-1.4-.7-1.2-1.1-1.3-.9-1.3-.9-1.1-1.2-1.2-1-1.2-1" fill="none" stroke="#3a3a3a" stroke-width="0.56" stroke-linecap="round" stroke-linejoin="round"/><path d="M153.6,647 L155,655 L157,665 L159.5,676 L161,688 L163,700 L165,724" fill="none" stroke="#141414" stroke-width="1.5"/><path d="M160.2 674.7l.1 1.6 .3 1.5 .6 1.5 .7 1.5 .4 1.5-.3 1.6-.6 1.5-.4 1.5-.4 1.6-.3 1.6-.5 1.5-.3 1.6-.3 1.5-.3 1.6-.4 1.6-.4 1.5" fill="none" stroke="#2c2c2c" stroke-width="0.87" stroke-linecap="round" stroke-linejoin="round"/><path d="M159.8 691.6l-.5 1.5-.5 1.5-.1 1.6-.1 1.6 .4 1.6 .6 1.5" fill="none" stroke="#383838" stroke-width="0.61" stroke-linecap="round" stroke-linejoin="round"/><path d="M162 675.2l.9 1.4 .7 1.4 .9 1.3 .6 1.5 .7 1.5 .4 1.5 .4 1.6 .2 1.5 .3 1.6 1 1.3 1 1.2 .7 1.4 .7 1.5 .7 1.4 .5 1.5 .7 1.5 .5 1.5 .4 1.6 0 1.6 .1 1.6" fill="none" stroke="#1d1d1d" stroke-width="0.55" stroke-linecap="round" stroke-linejoin="round"/><path d="M164.5 679.3l-.5 1.5-.5 1.5-.6 1.5 .1 1.6 .2 1.6-.1 1.6-.4 1.5 .1 1.6 .1 1.6 0 1.6" fill="none" stroke="#292929" stroke-width="0.45" stroke-linecap="round" stroke-linejoin="round"/><path d="M173.4 704.6l.4 1.5 .9 1.4 1 1.1 1.2 1.1 1.6 .4 1.5 .3 1.5 .7 1.5 .6 1.3 .8 1.5 .6 1.5 .5" fill="none" stroke="#292929" stroke-width="0.45" stroke-linecap="round" stroke-linejoin="round"/><path d="M173.4 704.6l.3 1.5 .2 1.6-.7 1.5-.3 1.5-.3 1.6-.9 1.3-.7 1.4-1.1 1.2-1 1.3-1.2 1-1.4 .8-1.5 .6-1.4 .7" fill="none" stroke="#292929" stroke-width="0.45" stroke-linecap="round" stroke-linejoin="round"/><path d="M160 676.8l.2 1.6-.4 1.5-.3 1.6-.4 1.6-.1 1.6 0 1.6-.5 1.4-.8 1.4-.9 1.4-1.2 1-1.4 .9-1.2 1-1.1 1.1-.5 1.6-.4 1.5-.6 1.5-.4 1.5-.4 1.6-.2 1.6-.6 1.5-.5 1.5" fill="none" stroke="#2d2d2d" stroke-width="0.69" stroke-linecap="round" stroke-linejoin="round"/><path d="M151.9 694.5l1.3 .9 1.4 .8 1.1 1.2 1.2 1 1.3 1 1.1 1.2 .6 1.5 .7 1.4" fill="none" stroke="#393939" stroke-width="0.49" stroke-linecap="round" stroke-linejoin="round"/><path d="M148.8 705.3l1.3 1 1.4 .8 1.3 .9 1.6 .4 1.5 .5 1.6 .2 1.5 .4" fill="none" stroke="#393939" stroke-width="0.49" stroke-linecap="round" stroke-linejoin="round"/><path d="M160.7 681.5l.9 1.4 .4 1.5 .1 1.6 .1 1.6 .2 1.6 .3 1.6-.3 1.5-.5 1.6-.7 1.4-1.4 .9-1.2 1-.9 1.4-.9 1.3-1.4 .6-1.3 .9-1.4 .9-1.5 .6-1.5 .6-1.5 .5-1.4 .8" fill="none" stroke="#303030" stroke-width="0.68" stroke-linecap="round" stroke-linejoin="round"/><path d="M148.2 704l1.1 1.1 1.4 .8 1.2 1.1 1.2 1 1.1 1.2 1.2 1 1.3 1 1.5 .6" fill="none" stroke="#3c3c3c" stroke-width="0.47" stroke-linecap="round" stroke-linejoin="round"/><path d="M159.5 678.1l.4 1.6 .5 1.5 .9 1.3 1.1 1.2 .8 1.3 1.1 1.2 .9 1.3 1.1 1.3 .5 1.5 .8 1.4 .6 1.4 .6 1.5 .5 1.5 .4 1.6 .1 1.6-.2 1.6-.4 1.5-.8 1.4-1 1.3-1.1 1.1-1 1.2-1.1 1.2" fill="none" stroke="#262626" stroke-width="0.51" stroke-linecap="round" stroke-linejoin="round"/><path d="M161 676.7l-.3 1.5-.3 1.6-.3 1.6-.3 1.5 .2 1.6 0 1.6-.2 1.6-.3 1.6-.4 1.6 .1 1.6 .5 1.5 .7 1.4 .5 1.5 .4 1.6 1 1.3" fill="none" stroke="#1c1c1c" stroke-width="0.81" stroke-linecap="round" stroke-linejoin="round"/><path d="M159.2 692.5l.5 1.5 .4 1.5 .2 1.6-.3 1.6-.3 1.5-.2 1.6-.3 1.6-.8 1.4" fill="none" stroke="#282828" stroke-width="0.57" stroke-linecap="round" stroke-linejoin="round"/><path d="M159.7 694l-.3 1.5-1 1.3-.9 1.3-1.4 .9-1.3 .9-1 1.2-.8 1.4" fill="none" stroke="#282828" stroke-width="0.57" stroke-linecap="round" stroke-linejoin="round"/><path d="M162.3 699.8l.9 1.3 .5 1.5 .1 1.6 .7 1.4 .3 1.6 .4 1.6" fill="none" stroke="#282828" stroke-width="0.61" stroke-linecap="round" stroke-linejoin="round"/><path d="M162.3 699.8l.9 1.3 .9 1.3 .6 1.5 .6 1.4 .6 1.5 .5 1.6" fill="none" stroke="#282828" stroke-width="0.61" stroke-linecap="round" stroke-linejoin="round"/><path d="M160.2 684.2l-.1 1.6-.7 1.4-.2 1.6-.4 1.5-.8 1.4-.7 1.5-.2 1.5-.1 1.6 .4 1.6 .7 1.4 .4 1.6 .4 1.5-.5 1.6-.4 1.5-.1 1.6 .5 1.5 .5 1.6 .3 1.6-.2 1.5-.4 1.6" fill="none" stroke="#1a1a1a" stroke-width="0.86" stroke-linecap="round" stroke-linejoin="round"/><path d="M158.6 714.9l.1 1.6 .1 1.6 .4 1.5 .7 1.5 .7 1.4 .3 1.6 .5 1.5 0 1.6 0 1.6 0 1.6" fill="none" stroke="#262626" stroke-width="0.64" stroke-linecap="round" stroke-linejoin="round"/><path d="M158.6 714.9l-1 1.2-.9 1.4-1.1 1.1-1.1 1.2-1.3 .9-1.4 .7-1.5 .8-1.6 0-1.6 .1-1.5 .3-1.6 .3-1.6 .2" fill="none" stroke="#262626" stroke-width="0.64" stroke-linecap="round" stroke-linejoin="round"/><path d="M159.9 672.7l-.4 1.5 0 1.6 0 1.6-.5 1.6-.2 1.6-.2 1.5-.1 1.6 .1 1.6 .2 1.6 .2 1.6-.3 1.6-1.1 1.1-1 1.3-1 1.2-1 1.3-.8 1.4-.5 1.5-1.1 1.2-1.2 1.1" fill="none" stroke="#303030" stroke-width="0.52" stroke-linecap="round" stroke-linejoin="round"/><path d="M158.8 686.9l-1 1.3-1.2 1.1-1.1 1.2-1 1.2-.7 1.4-.5 1.5-1.2 1.2-1.2 1-1.2 1" fill="none" stroke="#3c3c3c" stroke-width="0.45" stroke-linecap="round" stroke-linejoin="round"/><path d="M151 700.2l-.7 1.4 .2 1.6 .1 1.6 .7 1.4 .8 1.4 1.3 1 1.2 1.1 1.3 .9 1.5 .5" fill="none" stroke="#3c3c3c" stroke-width="0.45" stroke-linecap="round" stroke-linejoin="round"/><path d="M151 700.2l-1.2 1-1.1 1.2-1 1.2-1.3 .9-1.2 1.1-1.4 .8-1.1 1.1-1.4 .9-1.3 .9-1.6 .4" fill="none" stroke="#3c3c3c" stroke-width="0.45" stroke-linecap="round" stroke-linejoin="round"/><path d="M161.5 681.7l-.5 1.5-.6 1.5-.2 1.6 .2 1.6 .2 1.6 .5 1.5 .5 1.5 .8 1.4 .2 1.6-.2 1.6-.1 1.6-.2 1.6 .1 1.6 .2 1.6 .6 1.4" fill="none" stroke="#202020" stroke-width="0.81" stroke-linecap="round" stroke-linejoin="round"/><path d="M160.6 679.6l-.7 1.5-.2 1.6-.2 1.5-.7 1.5-.7 1.4-.5 1.5-.4 1.6-.7 1.5-.7 1.4-.9 1.3-1.1 1.2-1.1 1.2-1.2 1-1 1.3-.8 1.3-1.1 1.2-1.3 .9-1.4 .7-.8 1.5-1.1 1.1-.3 1.6" fill="none" stroke="#242424" stroke-width="0.72" stroke-linecap="round" stroke-linejoin="round"/><path d="M143.7 707.4l-.1 1.6-.5 1.5-.2 1.6-.8 1.3-.8 1.5-.9 1.3-1 1.2-.7 1.4-.7 1.5-.6 1.5-1.1 1.1-1.3 1" fill="none" stroke="#303030" stroke-width="0.54" stroke-linecap="round" stroke-linejoin="round"/><path d="M143.7 707.4l-.8 1.3-1.1 1.2-1.1 1.1-1.3 1-1.3 1-1.2 1-1.2 1-1.4 .8-1.2 1.1-1.3 .9-1.4 .7-1.5 .6" fill="none" stroke="#303030" stroke-width="0.54" stroke-linecap="round" stroke-linejoin="round"/><path d="M160.9 676.7l.1 1.6 .1 1.6 .4 1.5 1.2 1 1.3 1 1.3 .9 1.2 1.1 1.4 .7 1.5 .6 1.6 .1 1.6-.2 1.6-.5 1.5 .2 1.6 .4 1.4 .8 1.4 .7 1.5 .7 1.4 .7 1.4 .7 1.6 .4 1.5-.3" fill="none" stroke="#1f1f1f" stroke-width="0.83" stroke-linecap="round" stroke-linejoin="round"/><path d="M187.5 690.4l1.2-1.1 1.4-.9 1.3-.8 1.4-.9 1.4-.8 1.3-.9 1.5-.4 1.6-.5 1.3-.8 1.3-1 1.5-.6 1.5-.5 1.3-1 1.2-1" fill="none" stroke="#2b2b2b" stroke-width="0.62" stroke-linecap="round" stroke-linejoin="round"/><path d="M187.5 690.4l1.6 0 1.6 .4 1.4 .7 1.4 .8 1.6 .1 1.5 .5 1.5 .7 1.3 .9 1.5 .6 1.5 .6 1.5 .4" fill="none" stroke="#2b2b2b" stroke-width="0.62" stroke-linecap="round" stroke-linejoin="round"/><path d="M161.3 679.5l-.7 1.4-.5 1.5-1.2 1.1-1 1.3-.4 1.5-.6 1.5-1.1 1.1-1.3 1-1.3 .8-1.4 1-1.2 1-1.3 1-1.3 .8-1.4 .8-1.4 .8-1.3 .9-.9 1.3-.9 1.4-1.1 1.1" fill="none" stroke="#141414" stroke-width="0.82" stroke-linecap="round" stroke-linejoin="round"/><path d="M142.1 699.7l.4 1.5 .4 1.6 .5 1.5 1.2 1 1.5 .6 1.3 .9 1.5 .7" fill="none" stroke="#202020" stroke-width="0.57" stroke-linecap="round" stroke-linejoin="round"/><path d="M141 700.8l-.5 1.5-.8 1.4-1 1.2-1.2 1.1-.8 1.4-.7 1.4-.7 1.5-.5 1.5" fill="none" stroke="#202020" stroke-width="0.62" stroke-linecap="round" stroke-linejoin="round"/><path d="M141 700.8l-1.4 .7-1.6 .5-1.5 .4-1.6 .3-1.6-.3-1.5-.2-1.6-.4-1.5-.5" fill="none" stroke="#202020" stroke-width="0.62" stroke-linecap="round" stroke-linejoin="round"/><path d="M159.7 674.7l-.3 1.6 0 1.6-.1 1.6 0 1.6-.1 1.6 .6 1.5 .3 1.5-.3 1.6-.4 1.6-.5 1.5-.1 1.6 0 1.6-.2 1.6-.1 1.6-.1 1.6-.4 1.5-.7 1.5-.6 1.4-.1 1.6-.6 1.5-.5 1.5-.1 1.6-.4 1.6 .1 1.6" fill="none" stroke="#181818" stroke-width="0.50" stroke-linecap="round" stroke-linejoin="round"/><path d="M156 705.9l-1.2 1-1.2 1.1-1.3 1-1.1 1.1-.9 1.4-.7 1.4-.8 1.4-1.2 1-1.4 .8-1.5 .5-1.4 .8-1.3 .9-1.5 .6" fill="none" stroke="#242424" stroke-width="0.45" stroke-linecap="round" stroke-linejoin="round"/><path d="M155.1 712.2l.6 1.5 .5 1.5 .6 1.5 .6 1.5 .9 1.3 .9 1.3 .9 1.3 .9 1.3 .9 1.4 .9 1.3 1 1.2 1.2 1.1 1.1 1.2 1.3 .9 1.2 1" fill="none" stroke="#242424" stroke-width="0.45" stroke-linecap="round" stroke-linejoin="round"/><path d="M155.1 712.2l-.6 1.4-1.2 1.1-.8 1.4-.8 1.4-.5 1.5-.2 1.6-.1 1.6 .2 1.6 .1 1.6" fill="none" stroke="#242424" stroke-width="0.45" stroke-linecap="round" stroke-linejoin="round"/><path d="M159.7 677.7l-.3 1.5-.8 1.4-1.1 1.2-1.3 1-1.4 .7-1.6 .2-1.4 .8-1.4 .9-1.3 .9-1.3 .9-1.4 .6-1 1.3-.9 1.4-.6 1.4-.8 1.4-1 1.3-.9 1.3-.9 1.3-.5 1.5-.8 1.4-.8 1.4-.6 1.5" fill="none" stroke="#252525" stroke-width="0.51" stroke-linecap="round" stroke-linejoin="round"/><path d="M141.2 695.9l-.6 1.5-.9 1.3-.5 1.5-.4 1.6-.4 1.5-.3 1.6-.5 1.5-.6 1.5-.1 1.6 .2 1.6" fill="none" stroke="#313131" stroke-width="0.45" stroke-linecap="round" stroke-linejoin="round"/><path d="M160.5 683.4l-.7 1.4-.2 1.6 0 1.6 0 1.6 .5 1.6-.3 1.5 .2 1.6 .4 1.5 .8 1.4 .6 1.5 .2 1.6 .3 1.6 .5 1.5 .5 1.5 .9 1.3" fill="none" stroke="#272727" stroke-width="0.59" stroke-linecap="round" stroke-linejoin="round"/><path d="M162.8 703.4l-.3 1.6-.1 1.6 .3 1.5 .4 1.6-.6 1.5-.1 1.6" fill="none" stroke="#333333" stroke-width="0.45" stroke-linecap="round" stroke-linejoin="round"/><path d="M164.2 706.2l1.4 .7 1.6 .4 1.5 .5 1.6 .2 1.6-.2" fill="none" stroke="#333333" stroke-width="0.45" stroke-linecap="round" stroke-linejoin="round"/><path d="M164.2 706.2l.5 1.6 .9 1.3 .9 1.3 1 1.3 1.3 .8 1.3 1 1.1 1.1 1 1.3 .1 1.6" fill="none" stroke="#333333" stroke-width="0.45" stroke-linecap="round" stroke-linejoin="round"/><path d="M161.6 677.1l-.7 1.5-1.2 1.1-.6 1.5-.3 1.6-.3 1.5 0 1.6 .1 1.6 .2 1.6 .5 1.5 .4 1.6 .4 1.5-.6 1.5-.7 1.4-.9 1.4-.8 1.3-.9 1.4-.7 1.4-.8 1.4-.6 1.5-.8 1.4-.7 1.4-.9 1.3-.6 1.5" fill="none" stroke="#272727" stroke-width="0.73" stroke-linecap="round" stroke-linejoin="round"/><path d="M159.1 681.2l-1.4 .6-1.6 .4-1.6 0-1.6-.1-1.6-.4-1.6 0-1.6-.3" fill="none" stroke="#333333" stroke-width="0.51" stroke-linecap="round" stroke-linejoin="round"/><path d="M158.8 696.6l-.1 1.6-.5 1.6-.5 1.5-1 1.3-1.1 1.1-1.3 .9-1.3 1-1.3 .8-1.3 1-1.3 1-1.3 .9-1.4 .7" fill="none" stroke="#333333" stroke-width="0.51" stroke-linecap="round" stroke-linejoin="round"/><path d="M157.1 699.3l-1.2 1.1-1.2 1.1-1.3 1-1.2 .9-1.2 1.1-.7 1.5-.9 1.3-1 1.3" fill="none" stroke="#333333" stroke-width="0.51" stroke-linecap="round" stroke-linejoin="round"/><path d="M155.5 702.1l-1.4 .8-1.4 .8-1.3 1-1.1 1.1-1.2 1-1.6 .3-1.3 .9-1.3 1" fill="none" stroke="#333333" stroke-width="0.51" stroke-linecap="round" stroke-linejoin="round"/><path d="M152.6 707.8l-.1 1.6-.2 1.6-.8 1.3-.7 1.5-.3 1.6 .2 1.6 .3 1.5 .2 1.6-.2 1.6 0 1.6 0 1.6-.6 1.5" fill="none" stroke="#333333" stroke-width="0.51" stroke-linecap="round" stroke-linejoin="round"/><path d="M151.1 710.6l-.3 1.6-.4 1.5 0 1.6-.2 1.6 0 1.6-.2 1.6 .2 1.6-.2 1.6 0 1.6-.2 1.6" fill="none" stroke="#333333" stroke-width="0.55" stroke-linecap="round" stroke-linejoin="round"/><path d="M151.1 710.6l-1.1 1.2-1.2 1.1-.7 1.4-.8 1.4-.6 1.5-.6 1.4-.4 1.6-.1 1.6-.5 1.5-.2 1.6" fill="none" stroke="#333333" stroke-width="0.55" stroke-linecap="round" stroke-linejoin="round"/><path d="M159.2 680.2l.1 1.6-.1 1.6-.3 1.6-.2 1.6-.7 1.4-.1 1.6 .2 1.6 .1 1.6 .1 1.6 .2 1.6-.4 1.5-.1 1.6-.3 1.6-.3 1.5-.2 1.6-.2 1.6-.2 1.6-.2 1.6-.6 1.5-.6 1.5-.4 1.5" fill="none" stroke="#303030" stroke-width="0.78" stroke-linecap="round" stroke-linejoin="round"/><path d="M155 713.1l.6 1.5 .6 1.5 1 1.2 1.1 1.2 1.1 1.2 1.1 1.1 1.4 .7 1.5 .7 1.3 1 1.4 .7 1.3 .9 1.6 .3" fill="none" stroke="#3c3c3c" stroke-width="0.58" stroke-linecap="round" stroke-linejoin="round"/><path d="M155 713.1l-.8 1.4-1 1.3-.8 1.3-.6 1.5-.7 1.5-.8 1.3-.7 1.5-.6 1.5-.4 1.5-.1 1.6 .2 1.6" fill="none" stroke="#3c3c3c" stroke-width="0.58" stroke-linecap="round" stroke-linejoin="round"/><path d="M160.9 684.4l0 1.6-.6 1.5-.9 1.4-.6 1.4-1.2 1.1-1.2 1-1.5 .7-1.2 1.1-1.4 .7-1.3 .9-1.4 .8-1.4 .8-1.6 .4-1.4 .8-1.4 .6-1.5 .6-1.6 .4-1.5 .5-1.3 .9-1.2 1" fill="none" stroke="#1e1e1e" stroke-width="0.81" stroke-linecap="round" stroke-linejoin="round"/><path d="M146.6 697.8l-1.3 .8-1.4 .9-1.2 1-1.1 1.1-1.3 1.1-1.4 .5-1.4 .8-1.3 1-1.3 1-1.4 .7-1.6 .3" fill="none" stroke="#2a2a2a" stroke-width="0.57" stroke-linecap="round" stroke-linejoin="round"/><path d="M136.7 702.6l-.8 1.4-.7 1.5-.8 1.3-1 1.3-1.1 1.2-1.2 1.1-1.3 .9" fill="none" stroke="#2a2a2a" stroke-width="0.61" stroke-linecap="round" stroke-linejoin="round"/><path d="M136.7 702.6l-1.5 .7-1.1 1.2-.9 1.3-.6 1.5-.2 1.5-.1 1.6-.4 1.6-.3 1.6-.5 1.5-.1 1.6-.2 1.6" fill="none" stroke="#2a2a2a" stroke-width="0.61" stroke-linecap="round" stroke-linejoin="round"/><path d="M159.4 676.4l.9 1.4 .3 1.6 .3 1.5 0 1.6-.2 1.6 .1 1.6 .3 1.6 .4 1.5 .1 1.6 .6 1.5 .9 1.4 .8 1.3 .8 1.4 .9 1.3 1.1 1.2 1.5 .6 1.5 .6" fill="none" stroke="#2f2f2f" stroke-width="0.90" stroke-linecap="round" stroke-linejoin="round"/><path d="M160.8 685.7l1.1 1.2 1.2 1.1 1.1 1.1 1.1 1.2 1.1 1.2" fill="none" stroke="#3b3b3b" stroke-width="0.63" stroke-linecap="round" stroke-linejoin="round"/><path d="M169.7 699.7l1.6 .1 1.5-.3 1.6 .2 1.5 .6 1.4 .8 1.1 1.1" fill="none" stroke="#3b3b3b" stroke-width="0.67" stroke-linecap="round" stroke-linejoin="round"/><path d="M169.7 699.7l1.5 .3 1.6 0 1.6 .2 1.6 .3 1.3 .9 1.5 .5 1.5 .5 1.6 .3" fill="none" stroke="#3b3b3b" stroke-width="0.67" stroke-linecap="round" stroke-linejoin="round"/><path d="M160.5 680.5l.7 1.5 1.1 1.1 1.4 .7 1.5 .7 1 1.2 .8 1.4 1.4 .7 1.5 .7 1.5 .4 1.6 .2 1.6 0 1.6-.3 1.4-.6 1.5-.7 1.5-.6 1.6-.1 1.6-.2 1.5-.2" fill="none" stroke="#212121" stroke-width="0.78" stroke-linecap="round" stroke-linejoin="round"/><path d="M165.2 684.5l-1 1.3-.8 1.4-.7 1.4-.7 1.4-.8 1.4-.9 1.3" fill="none" stroke="#2d2d2d" stroke-width="0.55" stroke-linecap="round" stroke-linejoin="round"/><path d="M169.9 688.5l-1.4 .8-1.3 .9-1 1.2-.7 1.5-.8 1.3-.8 1.5-.9 1.3-.8 1.4" fill="none" stroke="#2d2d2d" stroke-width="0.55" stroke-linecap="round" stroke-linejoin="round"/><path d="M180.6 686.9l1.5 .6 1.3 .8 1.1 1.1 1 1.3 .8 1.4 .1 1.6 .4 1.6" fill="none" stroke="#2d2d2d" stroke-width="0.55" stroke-linecap="round" stroke-linejoin="round"/><path d="M136.1 695.4l1.1 1.2 1.3 .9 1.4 .9 1.4 .7 1.5 .5 1.2 1.1 1.1 1.1 1.2 1.1 1.4 .8 1.5 .5 1.6-.2 1.5-.5" fill="none" stroke="#1d1d1d" stroke-width="0.73" stroke-linecap="round" stroke-linejoin="round"/><path d="M152.3 703.5l1.3-.9 1-1.2 .8-1.4 .7-1.4 .5-1.6 .2-1.6" fill="none" stroke="#292929" stroke-width="0.54" stroke-linecap="round" stroke-linejoin="round"/><path d="M152.3 703.5l1.6 .2 1.1 1.2 1.1 1.1 1 1.3" fill="none" stroke="#292929" stroke-width="0.54" stroke-linecap="round" stroke-linejoin="round"/><path d="M131.9 677.2l1.5 .5 1.6 .4 1.6 .1 1.6 .3 1.6 0 1.4 .7 1.6 .2 1.6-.2 1.5-.5 1.3-1 1.4-.7 1.6-.2 1.3-1 1.1-1.1 1.4-.7 1.3-1" fill="none" stroke="#323232" stroke-width="0.81" stroke-linecap="round" stroke-linejoin="round"/><path d="M136.6 678.2l.9 1.4 1.3 .9 1.5 .5 1.4 .8 1.1 1.2" fill="none" stroke="#3e3e3e" stroke-width="0.56" stroke-linecap="round" stroke-linejoin="round"/><path d="M139.8 678.5l.3 1.6-.2 1.6 0 1.6-.5 1.5-.3 1.6-.1 1.6-.1 1.6" fill="none" stroke="#3e3e3e" stroke-width="0.56" stroke-linecap="round" stroke-linejoin="round"/><path d="M134.3 660.5l.8 1.3 .8 1.4-.1 1.6-.4 1.6-.4 1.5 .3 1.6 .1 1.6 .3 1.6 0 1.6-.1 1.6 .2 1.6 .4 1.5 .1 1.6" fill="none" stroke="#2c2c2c" stroke-width="0.59" stroke-linecap="round" stroke-linejoin="round"/><path d="M135 667.9l1.2 1.1 1.4 .9 1.1 1.1 1.4 .8 1.2 1.1" fill="none" stroke="#383838" stroke-width="0.45" stroke-linecap="round" stroke-linejoin="round"/><path d="M136.3 680.6l-.1 1.6-.4 1.6-.6 1.5-1.3 1-1.4 .8-.9 1.3-.6 1.4" fill="none" stroke="#383838" stroke-width="0.45" stroke-linecap="round" stroke-linejoin="round"/><path d="M136.3 680.6l-.2 1.6-.5 1.5-1.3 1-1.3 1-1.2 1-1.3 .9-1.4 .8" fill="none" stroke="#383838" stroke-width="0.45" stroke-linecap="round" stroke-linejoin="round"/><path d="M133.1 651l.9 1.4 .7 1.4 .6 1.5 .1 1.6 .7 1.4 1 1.3 .9 1.3 .8 1.4 .9 1.3 .7 1.4 1 1.3 .5 1.5-.2 1.6-.8 1.3-.5 1.6-.8 1.4-1.3 .9-1.5 .2-1.6-.4-1.6 .1-1.6 .1" fill="none" stroke="#1a1a1a" stroke-width="0.74" stroke-linecap="round" stroke-linejoin="round"/><path d="M135.3 655.3l1.1 1.2 .8 1.3 1.1 1.2 .9 1.3 .4 1.6 .7 1.4 .8 1.4 .7 1.4 .4 1.6 1 1.2 1.4 .8 1.2 1.1" fill="none" stroke="#262626" stroke-width="0.52" stroke-linecap="round" stroke-linejoin="round"/><path d="M141.9 667.8l1.6 .1 1.6 .1 1.6-.5 1.4-.5 1.6-.4 1.6-.1 1.6-.4" fill="none" stroke="#262626" stroke-width="0.52" stroke-linecap="round" stroke-linejoin="round"/><path d="M132 674.6l-1 1.2-1 1.2-.8 1.4-.6 1.5-.3 1.6-1.1 1.2-1.1 1.2-1 1.2-1 1.3" fill="none" stroke="#262626" stroke-width="0.55" stroke-linecap="round" stroke-linejoin="round"/><path d="M132 674.6l-1.6 .3-1.5 .5-1.4 .7-1.5 .5-1.6-.1-1.3 1-.9 1.3-1.1 1.2-1.2 1.1-1.3 .8" fill="none" stroke="#262626" stroke-width="0.55" stroke-linecap="round" stroke-linejoin="round"/><path d="M135.9 668.2l1.3 1 1.3 .8 .7 1.4 .7 1.5 0 1.6-.2 1.6 .3 1.6 .1 1.6 .6 1.5 .7 1.4 .7 1.4 .8 1.4 .9 1.4 .3 1.5" fill="none" stroke="#262626" stroke-width="0.72" stroke-linecap="round" stroke-linejoin="round"/><path d="M132.1 684.2l1.3 .9 .9 1.3 1.2 1 1.2 1.1 1.2 1.1 1.5 .5 1.6 0 1.6 .2 1.6 .1 1.6 .2 1.6 0 1.6-.2 1.5-.3 1.4-.8 1.1-1.2 1.4-.7" fill="none" stroke="#2d2d2d" stroke-width="0.67" stroke-linecap="round" stroke-linejoin="round"/><path d="M133.4 675.7l1.6 .2 1.5 .6 1.4 .7 1.5 .6 1.4 .8 .8 1.4 .3 1.5 0 1.6 .1 1.6 .7 1.5 .9 1.3 .3 1.6 0 1.6-.3 1.6 0 1.6 .5 1.5 .4 1.5 .3 1.6 0 1.6-.2 1.6-.2 1.6" fill="none" stroke="#2a2a2a" stroke-width="0.63" stroke-linecap="round" stroke-linejoin="round"/><path d="M144.1 695.4l1.6-.3 1.6-.2 1.5-.5 1.6-.3 1.5 .4 1.5 .5 1.5 .5 1.6 .4 1.5-.4" fill="none" stroke="#363636" stroke-width="0.45" stroke-linecap="round" stroke-linejoin="round"/><path d="M144.4 703.3l.5 1.5 .4 1.6-.2 1.5 .1 1.6 0 1.6 .1 1.6-.3 1.6-.6 1.5-.8 1.4-.8 1.4-.9 1.3-.9 1.3-.9 1.3" fill="none" stroke="#363636" stroke-width="0.47" stroke-linecap="round" stroke-linejoin="round"/><path d="M144.4 703.3l-.3 1.6-.5 1.5 .6 1.4 1.4 .8 1.6 .2 1.6 0 1.6 .2 1.6-.2 1.6-.2 1.5-.6 1-1.2 1-1.3 1.1-1" fill="none" stroke="#363636" stroke-width="0.47" stroke-linecap="round" stroke-linejoin="round"/><path d="M133 702.5l1.5 .7 1.5 .5 1.6-.1 1.6 0 1.6-.2 1-1.2 1.2-1.1 .9-1.3 .9-1.3 .6-1.5 1-1.2 1.6-.4 1.5-.6 1.5-.5 1.5 .5 1.6 .1" fill="none" stroke="#191919" stroke-width="0.86" stroke-linecap="round" stroke-linejoin="round"/><path d="M146.4 695.8l1.6 .3 1.6-.2 1.6 .2 1.6-.3 1.6 0 1.4 .8 1 1.2 .4 1.6 1 1.2" fill="none" stroke="#252525" stroke-width="0.61" stroke-linecap="round" stroke-linejoin="round"/><path d="M154.1 694.9l1.5-.6 1.5-.6 1.3-.9 1.4-.8 1.5-.5 1.6-.2 1.4-.8" fill="none" stroke="#252525" stroke-width="0.65" stroke-linecap="round" stroke-linejoin="round"/><path d="M154.1 694.9l1.6 .5 1.5 .2 1.6 0 1.6-.4 1.6-.3 1.5-.4 1.6-.3 1.6 .1 1.6 .2 1.6 .2" fill="none" stroke="#252525" stroke-width="0.65" stroke-linecap="round" stroke-linejoin="round"/><path d="M135.6 657l1.4 .8 1.4 .8 1.1 1.1 .9 1.3 .8 1.4 1.1 1.2 .3 1.5 .6 1.5 .5 1.6-.2 1.6-.3 1.5-.8 1.4-.9 1.3-1.5 .7-.9 1.3" fill="none" stroke="#2b2b2b" stroke-width="0.76" stroke-linecap="round" stroke-linejoin="round"/><path d="M139.1 676l0 1.6-.3 1.6 0 1.6 .1 1.6-.5 1.5-.7 1.5 0 1.6-.2 1.5" fill="none" stroke="#373737" stroke-width="0.57" stroke-linecap="round" stroke-linejoin="round"/><path d="M139.1 676l-1.2 1-1.2 1.1-.8 1.4-.9 1.3-1.4 .9" fill="none" stroke="#373737" stroke-width="0.57" stroke-linecap="round" stroke-linejoin="round"/><path d="M135.9 669.9l.9 1.3 .5 1.6 .6 1.5 .6 1.4 1.2 1.1 1.2 1.1 1.2 .9 1.2 1.1 1.2 1.1 1.5 .5 1.6-.2 1.6 .3 1.5 .4 1.5 .8 1 1.2 1.1 1.1" fill="none" stroke="#383838" stroke-width="0.71" stroke-linecap="round" stroke-linejoin="round"/><path d="M154.3 685.1l1.5 .6 1.5 .7 1.1 1.2 .7 1.4 .5 1.5 1.1 1.1 .7 1.5 .6 1.5" fill="none" stroke="#444444" stroke-width="0.53" stroke-linecap="round" stroke-linejoin="round"/><path d="M154.3 685.1l.7 1.5 0 1.6 .3 1.5-.2 1.6-.3 1.6 .2 1.6 0 1.6 .4 1.5" fill="none" stroke="#444444" stroke-width="0.53" stroke-linecap="round" stroke-linejoin="round"/><path d="M133.4 685.8l.8 1.4 1.2 1 1.3 1 1.3 .9 .9 1.3 .8 1.4 .8 1.3 .7 1.5 1.1 1.1 1.1 1.2 .8 1.4 1.2 1.1 .9 1.3 1.3 .9 1.1 1.1 1.6 .3 1.3 1 1.3 .9 1.3 .9" fill="none" stroke="#373737" stroke-width="0.55" stroke-linecap="round" stroke-linejoin="round"/><path d="M140.5 694.1l.5 1.6 .7 1.4 .4 1.6 1 1.3 1.1 1.1 1.3 1 1.4 .7 1.6 .2" fill="none" stroke="#434343" stroke-width="0.45" stroke-linecap="round" stroke-linejoin="round"/><path d="M154.2 706.8l1.3 1 1.3 1 1.3 .8 1.5 .6 1.5 .4 1.6 .4 1.6-.1 1.6-.1 1.6-.2 1.6-.1 1.6 0" fill="none" stroke="#434343" stroke-width="0.45" stroke-linecap="round" stroke-linejoin="round"/><path d="M154.2 706.8l1.3 .9 1.4 .8 1.4 .7 1.3 1 1 1.2 1.3 1 1.6 .1 1.6 .2 1.5 .5 1.6 0 1.6 .3" fill="none" stroke="#434343" stroke-width="0.45" stroke-linecap="round" stroke-linejoin="round"/><path d="M135.1 704.4l1.1 1.2 1.1 1.1 .9 1.4 1 1.2 .9 1.4 1.1 1.1 1.2 1.1 1.4 .8 1.4 .7 1.5 .6 1 1.2 1.3 1" fill="none" stroke="#353535" stroke-width="0.83" stroke-linecap="round" stroke-linejoin="round"/><path d="M131.5 675.5l1.3 .9 1.4 .8 1.4 .8 1.5 .7 1.4 .7 1.4 .8 1.4 .7 .9 1.3 .5 1.5 .9 1.3 .9 1.4 .1 1.6 .2 1.5 .8 1.4 .4 1.6 .3 1.6 .1 1.6 .5 1.5 .7 1.4 .5 1.5" fill="none" stroke="#252525" stroke-width="0.77" stroke-linecap="round" stroke-linejoin="round"/><path d="M148.1 700.1l1 1.3 .5 1.5 .5 1.5 .2 1.6 .2 1.6 .4 1.5 1 1.3 1.1 1.2 .7 1.4 .6 1.5" fill="none" stroke="#313131" stroke-width="0.58" stroke-linecap="round" stroke-linejoin="round"/><path d="M148.1 700.1l-.6 1.5-.8 1.4-1.2 1.1-1.3 .8-1.3 1-1.5 .7-.9 1.3-1.4 .8-1.4 .8-1.5 .5-1.5 .6-1.5 .3" fill="none" stroke="#313131" stroke-width="0.58" stroke-linecap="round" stroke-linejoin="round"/><path d="M133 662.3l1.3 .9 1.3 .9 1.6 .4 1.5 .4 1.5 .6 1.4 .8 1.3 .9 1.2 1.1 .9 1.3 0 1.6 .2 1.6-.4 1.6-.3 1.6 .3 1.5-.2 1.6-.2 1.6-.5 1.5-.6 1.5" fill="none" stroke="#181818" stroke-width="0.66" stroke-linecap="round" stroke-linejoin="round"/><path d="M141.6 666.3l1 1.3 1 1.2 1.3 .9 1.4 .8 1.6 .2 1.6-.2" fill="none" stroke="#242424" stroke-width="0.46" stroke-linecap="round" stroke-linejoin="round"/><path d="M143.3 683.7l0 1.6-.2 1.6-.7 1.4-1.1 1.2-1.1 1.1-1.4 .8-1.4 .8-1.1 1.2" fill="none" stroke="#242424" stroke-width="0.49" stroke-linecap="round" stroke-linejoin="round"/><path d="M143.3 683.7l-1.2 1.1-1.1 1.1-1.5 .5-1.5 .6-1.6-.1-1.6-.1-1.5-.7-1.2-1" fill="none" stroke="#242424" stroke-width="0.49" stroke-linecap="round" stroke-linejoin="round"/><path d="M133 685.5l-.3 1.6-.2 1.6-.8 1.4-1.1 1.1-1.3 1-1.4 .6-1.6 .4-1.3 .9-1.1 1.2-1.5 .4-1.6-.1-1.6-.4-1.6-.3-1.5 .6-1.5 .3-1.5 .6-1.5 .5-1.6 .4" fill="none" stroke="#1a1a1a" stroke-width="0.69" stroke-linecap="round" stroke-linejoin="round"/><path d="M116.1 695.5l1.6 .2 1.6 0 1.6 .2 1.4 .7 1.6 .3 1.5 .6 1.6 .3 1.5 .2 1.6-.3" fill="none" stroke="#262626" stroke-width="0.48" stroke-linecap="round" stroke-linejoin="round"/><path d="M134 666.8l1 1.2 .6 1.5 1.3 1.1 .5 1.5 .7 1.4 .4 1.5-.2 1.6 0 1.6 .5 1.5 1 1.2 .6 1.5-.2 1.6 .3 1.6 .1 1.6 .2 1.6 0 1.6 .6 1.5 .3 1.5 0 1.6 .1 1.6-.1 1.6" fill="none" stroke="#212121" stroke-width="0.54" stroke-linecap="round" stroke-linejoin="round"/><path d="M141.7 698.2l.3 1.6 .5 1.5 1.3 .9 1 1.2 1.4 .9 1.4 .7 1.6 .4 1.5-.2 1.6-.5 1.3-.9" fill="none" stroke="#2d2d2d" stroke-width="0.45" stroke-linecap="round" stroke-linejoin="round"/><path d="M141.7 698.2l-.4 1.6 0 1.6-.3 1.6-.2 1.6 .4 1.5 .4 1.6 .8 1.4 .4 1.5 .8 1.4 .7 1.4" fill="none" stroke="#2d2d2d" stroke-width="0.45" stroke-linecap="round" stroke-linejoin="round"/><path d="M133.8 662.7l.8 1.4 .6 1.5 .8 1.4 .8 1.3 .9 1.3 .4 1.6 .1 1.6 .3 1.5-.1 1.6 .5 1.6 .6 1.4 .8 1.4 1.3 .9 1.4 .8 1.1 1.2" fill="none" stroke="#1a1a1a" stroke-width="0.87" stroke-linecap="round" stroke-linejoin="round"/><path d="M144.1 683.2l1.3 .9 1.5 .5 .9 1.3 1 1.3 0 1.6" fill="none" stroke="#262626" stroke-width="0.65" stroke-linecap="round" stroke-linejoin="round"/><path d="M144.1 683.2l.9 1.3 1 1.3 1.2 1.1 1.1 1.1 1 1.2 1.4 .8 1.3 1" fill="none" stroke="#262626" stroke-width="0.65" stroke-linecap="round" stroke-linejoin="round"/><path d="M131.4 676.2l1.5 .7 1.5 .5 1.4 .8 1.5 .4 1.3 1 1.2 1 .9 1.3 .8 1.4 .4 1.6 .2 1.5 .2 1.6" fill="none" stroke="#313131" stroke-width="0.61" stroke-linecap="round" stroke-linejoin="round"/><path d="M137.3 678.6l.3 1.6 .3 1.6-.1 1.6-.8 1.3" fill="none" stroke="#3d3d3d" stroke-width="0.45" stroke-linecap="round" stroke-linejoin="round"/><path d="M139.8 680.6l1.6-.1 1.6-.3 1.5-.6" fill="none" stroke="#3d3d3d" stroke-width="0.45" stroke-linecap="round" stroke-linejoin="round"/><path d="M142.3 688l.6 1.5 .3 1.6 .5 1.5-.4 1.5" fill="none" stroke="#3d3d3d" stroke-width="0.46" stroke-linecap="round" stroke-linejoin="round"/><path d="M142.3 688l-.3 1.6-.2 1.6-.2 1.6-.1 1.6" fill="none" stroke="#3d3d3d" stroke-width="0.46" stroke-linecap="round" stroke-linejoin="round"/><path d="M135.2 651.9l.9 1.3 .6 1.5 1.2 1.1 1.4 .7 1.6-.1 1.6-.3 1.5-.4 1.6-.2 1.6 .2 1.6 0 1.6 .1" fill="none" stroke="#2e2e2e" stroke-width="0.57" stroke-linecap="round" stroke-linejoin="round"/><path d="M147.2 655.7l1.2 1 .9 1.3 .8 1.4" fill="none" stroke="#3a3a3a" stroke-width="0.45" stroke-linecap="round" stroke-linejoin="round"/><path d="M150.4 655.8l1.3-.8 1.4-.9 1.3-.9 1.3-.9" fill="none" stroke="#3a3a3a" stroke-width="0.45" stroke-linecap="round" stroke-linejoin="round"/><path d="M150.4 655.8l1.1 1.2 1.5 .4 1.6 .5 1.4 .6 1.6 .3" fill="none" stroke="#3a3a3a" stroke-width="0.45" stroke-linecap="round" stroke-linejoin="round"/><path d="M131.5 654.5l1.1 1.2 1.2 1.1 .8 1.3 1.3 1 1.5 .4 1.6 .3 1.6 .2 1 1.2 1.4 .9 1.1 1.1 1 1.2 1 1.3 1.3 1" fill="none" stroke="#292929" stroke-width="0.59" stroke-linecap="round" stroke-linejoin="round"/><path d="M139 659.8l1 1.3 1 1.2 .8 1.4 1 1.3 1.5 .3 1.5 .6 1.5 .7" fill="none" stroke="#353535" stroke-width="0.45" stroke-linecap="round" stroke-linejoin="round"/><path d="M135 699l1 1.2 1.3 1 .9 1.3 1.1 1.2 1.1 1.1 1.1 1.2 1.4 .7 1.4 .8 1.2 1.1 1 1.2 1.4 .8 1.3 1 1.6 .2 1.6-.1 1.6 0 1.6 0 1.5-.3 1.4-.8 1.6-.1 1.6-.2" fill="none" stroke="#363636" stroke-width="0.63" stroke-linecap="round" stroke-linejoin="round"/><path d="M138.2 702.5l1.1 1.2 1.3 .9 1.5 .7 1.3 .9 1.1 1.1 1.3 1 1.5 .5 1.5 .7 1.5 .6" fill="none" stroke="#424242" stroke-width="0.45" stroke-linecap="round" stroke-linejoin="round"/><path d="M161.7 710.3l.8-1.4 1.5-.6 1.6-.4 1.5-.6 1.6-.1 1.5-.3 1.6 .3 1.4 .8 1.3 .9 .9 1.3" fill="none" stroke="#424242" stroke-width="0.48" stroke-linecap="round" stroke-linejoin="round"/><path d="M161.7 710.3l1.5 .5 1.5 .6 1.5 .4 1.6 .1 1.6 .2 1.6-.4 1.6 0 1.5 .4 1.6 .1 1.6 .2 1.5-.5 1.6 0" fill="none" stroke="#424242" stroke-width="0.48" stroke-linecap="round" stroke-linejoin="round"/><path d="M131.3 697.7l.4 1.6 1 1.2 .9 1.4 1 1.2 1.3 1 1.1 1.1 .8 1.4 1.1 1.2 1.5 .6 1.3 .8 1.4 .8 1.5 .7 1.3 .9" fill="none" stroke="#272727" stroke-width="0.85" stroke-linecap="round" stroke-linejoin="round"/><path d="M144.6 710.7l1.3 .8 1.5 .7 1.1 1.1 1.3 1 1.5 .5 1.5 .4 1.6 .3" fill="none" stroke="#333333" stroke-width="0.59" stroke-linecap="round" stroke-linejoin="round"/><path d="M145.9 711.6l1.4 .7 1.6 .2 1.6 0 1.6 .1 1.6 .1" fill="none" stroke="#333333" stroke-width="0.64" stroke-linecap="round" stroke-linejoin="round"/><path d="M145.9 711.6l1 1.2 1.3 1 1.3 .8 1.3 1.1 1.2 1 1 1.2 .9 1.4" fill="none" stroke="#333333" stroke-width="0.64" stroke-linecap="round" stroke-linejoin="round"/><path d="M134.3 669.4l.8 1.4 .6 1.5 .6 1.5 .7 1.4 .9 1.3 1.6 .5 1.4 .6 1.4 .8 1.5 .6 1.4 .7 1.3 1 1.4 .8 1.1 1.1 1.5 .7 1.6 .2" fill="none" stroke="#272727" stroke-width="0.66" stroke-linecap="round" stroke-linejoin="round"/><path d="M137 675.2l.5 1.5 .9 1.4 .9 1.3 .9 1.3 1.4 .7" fill="none" stroke="#333333" stroke-width="0.46" stroke-linecap="round" stroke-linejoin="round"/><path d="M150.5 683.3l1.5 .6 1.3 .9 .8 1.4 .8 1.4 .3 1.5 1 1.2 1.4 .8 1.4 .9 1.1 1.2" fill="none" stroke="#333333" stroke-width="0.46" stroke-linecap="round" stroke-linejoin="round"/><path d="M152.1 683.5l1.6 .1 1.6 0 1.5-.5 1.6-.3 1.5-.2 1.4 .9 1.4 .6 1.5 .5 1.6 .4" fill="none" stroke="#333333" stroke-width="0.50" stroke-linecap="round" stroke-linejoin="round"/><path d="M152.1 683.5l1.2 1 1.1 1.2 .8 1.3 .3 1.6 .2 1.6-.2 1.6-.1 1.6" fill="none" stroke="#333333" stroke-width="0.50" stroke-linecap="round" stroke-linejoin="round"/><path d="M134.5 663.9l1 1.2 1.1 1.2 .8 1.4 .9 1.3 .2 1.6-.1 1.6 .1 1.6 .3 1.5-.3 1.6-.2 1.6 .2 1.6-.1 1.6 .3 1.6 .4 1.5 .5 1.5" fill="none" stroke="#1b1b1b" stroke-width="0.64" stroke-linecap="round" stroke-linejoin="round"/><path d="M138.8 675.3l1.6 .2 1.5 .3 1.6 .5 1.4 .6" fill="none" stroke="#272727" stroke-width="0.45" stroke-linecap="round" stroke-linejoin="round"/><path d="M138.5 680.1l1 1.2 .9 1.3 .7 1.5 1 1.3 .9 1.3 .6 1.5 .1 1.6 .1 1.5 0 1.6" fill="none" stroke="#272727" stroke-width="0.45" stroke-linecap="round" stroke-linejoin="round"/><path d="M139.6 686.3l.1 1.6-.8 1.4-.9 1.3-1 1.3-.6 1.4-.9 1.4-.6 1.4 0 1.6" fill="none" stroke="#272727" stroke-width="0.48" stroke-linecap="round" stroke-linejoin="round"/><path d="M139.6 686.3l-.3 1.6 .4 1.6 .1 1.5 .2 1.6-.1 1.6" fill="none" stroke="#272727" stroke-width="0.48" stroke-linecap="round" stroke-linejoin="round"/><path d="M134.4 666l-.2 1.6-.2 1.6-.7 1.4-.8 1.4-1.1 1.1-1.5 .6-1.5 .5-1.5 .7-1.5 .6-1.4 .7-1.6 .3-1.4 .7-1.5 .6-1.3 .9-1.2 1.1-.7 1.4-.7 1.5" fill="none" stroke="#242424" stroke-width="0.57" stroke-linecap="round" stroke-linejoin="round"/><path d="M133.5 654.3l1.6 .4 1.6-.1 1.5-.5 1.5-.5 1.4-.8 1.4-.7 1.6-.2 1.6-.1 1.6 .1 1.4-.8 1.6-.3" fill="none" stroke="#191919" stroke-width="0.84" stroke-linecap="round" stroke-linejoin="round"/></g>
<g filter="url(#b06)"><ellipse cx="153.4" cy="645.2" rx="2.9" ry="2.7" fill="#080808"/><ellipse cx="160.5" cy="676.7" rx="2.3" ry="2.5" fill="#222"/></g>
</g></g>
<rect x="130.90" y="608.30" width="52.90" height="115.10" fill="none" stroke="#333" stroke-width="1.1" />
<line x1="180.30" y1="694.80" x2="180.30" y2="719.40" stroke="#111" stroke-width="1.6" />
<text transform="translate(172.20,708.60) rotate(-90)" x="0" y="0" font-size="9.5" font-weight="bold" font-style="normal" text-anchor="middle" dominant-baseline="central" fill="#111">50μm</text>
<text transform="translate(38.5,740.0) rotate(-28)" font-size="9.2" font-weight="bold" text-anchor="start" fill="#111">WT</text>
<text transform="translate(75.6,749.3) rotate(-28)" font-size="9.2" font-weight="bold" text-anchor="start" fill="#111">3xTg-AD</text>
<text transform="translate(104.6,765.8) rotate(-28)" font-size="9.2" font-weight="bold" text-anchor="start" fill="#111">3xTg-AD+β-OHB</text>
<text x="185.60" y="611.60" font-size="18" font-weight="bold" font-style="normal" text-anchor="start" fill="#111" >h</text>
<line x1="209.40" y1="617.90" x2="209.40" y2="715.30" stroke="#111" stroke-width="1.1" />
<line x1="208.90" y1="714.70" x2="337.80" y2="714.70" stroke="#111" stroke-width="1.1" />
<line x1="206.60" y1="714.70" x2="209.40" y2="714.70" stroke="#111" stroke-width="1.1" />
<text x="206.00" y="717.10" font-size="6.7" font-weight="bold" font-style="normal" text-anchor="end" fill="#111" >0</text>
<line x1="206.60" y1="695.34" x2="209.40" y2="695.34" stroke="#111" stroke-width="1.1" />
<text x="206.00" y="697.74" font-size="6.7" font-weight="bold" font-style="normal" text-anchor="end" fill="#111" >5</text>
<line x1="206.60" y1="675.98" x2="209.40" y2="675.98" stroke="#111" stroke-width="1.1" />
<text x="206.00" y="678.38" font-size="6.7" font-weight="bold" font-style="normal" text-anchor="end" fill="#111" >10</text>
<line x1="206.60" y1="656.62" x2="209.40" y2="656.62" stroke="#111" stroke-width="1.1" />
<text x="206.00" y="659.02" font-size="6.7" font-weight="bold" font-style="normal" text-anchor="end" fill="#111" >15</text>
<line x1="206.60" y1="637.26" x2="209.40" y2="637.26" stroke="#111" stroke-width="1.1" />
<text x="206.00" y="639.66" font-size="6.7" font-weight="bold" font-style="normal" text-anchor="end" fill="#111" >20</text>
<line x1="206.60" y1="617.90" x2="209.40" y2="617.90" stroke="#111" stroke-width="1.1" />
<text x="206.00" y="620.30" font-size="6.7" font-weight="bold" font-style="normal" text-anchor="end" fill="#111" >25</text>
<line x1="217.80" y1="714.70" x2="217.80" y2="717.50" stroke="#111" stroke-width="1.1" />
<text x="217.80" y="725.50" font-size="6.6" font-weight="bold" font-style="normal" text-anchor="middle" fill="#111" >0</text>
<line x1="230.23" y1="714.70" x2="230.23" y2="717.50" stroke="#111" stroke-width="1.1" />
<text x="230.23" y="725.50" font-size="6.6" font-weight="bold" font-style="normal" text-anchor="middle" fill="#111" >25</text>
<line x1="242.66" y1="714.70" x2="242.66" y2="717.50" stroke="#111" stroke-width="1.1" />
<text x="242.66" y="725.50" font-size="6.6" font-weight="bold" font-style="normal" text-anchor="middle" fill="#111" >50</text>
<line x1="255.09" y1="714.70" x2="255.09" y2="717.50" stroke="#111" stroke-width="1.1" />
<text x="255.09" y="725.50" font-size="6.6" font-weight="bold" font-style="normal" text-anchor="middle" fill="#111" >75</text>
<line x1="267.52" y1="714.70" x2="267.52" y2="717.50" stroke="#111" stroke-width="1.1" />
<text x="267.52" y="725.50" font-size="6.6" font-weight="bold" font-style="normal" text-anchor="middle" fill="#111" >100</text>
<line x1="279.95" y1="714.70" x2="279.95" y2="717.50" stroke="#111" stroke-width="1.1" />
<text x="279.95" y="725.50" font-size="6.6" font-weight="bold" font-style="normal" text-anchor="middle" fill="#111" >125</text>
<line x1="292.38" y1="714.70" x2="292.38" y2="717.50" stroke="#111" stroke-width="1.1" />
<text x="292.38" y="725.50" font-size="6.6" font-weight="bold" font-style="normal" text-anchor="middle" fill="#111" >150</text>
<line x1="304.81" y1="714.70" x2="304.81" y2="717.50" stroke="#111" stroke-width="1.1" />
<text x="304.81" y="725.50" font-size="6.6" font-weight="bold" font-style="normal" text-anchor="middle" fill="#111" >175</text>
<line x1="317.24" y1="714.70" x2="317.24" y2="717.50" stroke="#111" stroke-width="1.1" />
<text x="317.24" y="725.50" font-size="6.6" font-weight="bold" font-style="normal" text-anchor="middle" fill="#111" >200</text>
<line x1="329.67" y1="714.70" x2="329.67" y2="717.50" stroke="#111" stroke-width="1.1" />
<text x="329.67" y="725.50" font-size="6.6" font-weight="bold" font-style="normal" text-anchor="middle" fill="#111" >225</text>
<text x="338.40" y="725.30" font-size="6.8" font-weight="bold" font-style="normal" text-anchor="start" fill="#111" >(μm)</text>
<text x="267.00" y="616.30" font-size="9.5" font-weight="bold" font-style="normal" text-anchor="middle" fill="#111" >CA1</text>
<text transform="translate(190.60,666.70) rotate(-90)" x="0" y="0" font-size="8.4" font-weight="bold" font-style="normal" text-anchor="middle" dominant-baseline="central" fill="#111">NO.sholl intersections</text>
<polyline points="217.8,714.7 230.2,695.3 242.7,662.4 255.1,646.2 267.5,639.6 279.9,650.4 292.4,675.2 304.8,690.3 317.2,698.4 329.7,704.2" fill="none" stroke="#1010f0" stroke-width="1.3"/>
<circle cx="217.8" cy="714.7" r="2" fill="#1010f0"/>
<line x1="230.23" y1="693.79" x2="230.23" y2="696.89" stroke="#1010f0" stroke-width="0.8" />
<line x1="228.43" y1="693.79" x2="232.03" y2="693.79" stroke="#1010f0" stroke-width="0.8" />
<line x1="228.43" y1="696.89" x2="232.03" y2="696.89" stroke="#1010f0" stroke-width="0.8" />
<circle cx="230.2" cy="695.3" r="2" fill="#1010f0"/>
<line x1="242.66" y1="658.56" x2="242.66" y2="666.30" stroke="#1010f0" stroke-width="0.8" />
<line x1="240.86" y1="658.56" x2="244.46" y2="658.56" stroke="#1010f0" stroke-width="0.8" />
<line x1="240.86" y1="666.30" x2="244.46" y2="666.30" stroke="#1010f0" stroke-width="0.8" />
<circle cx="242.7" cy="662.4" r="2" fill="#1010f0"/>
<line x1="255.09" y1="640.74" x2="255.09" y2="651.59" stroke="#1010f0" stroke-width="0.8" />
<line x1="253.29" y1="640.74" x2="256.89" y2="640.74" stroke="#1010f0" stroke-width="0.8" />
<line x1="253.29" y1="651.59" x2="256.89" y2="651.59" stroke="#1010f0" stroke-width="0.8" />
<circle cx="255.1" cy="646.2" r="2" fill="#1010f0"/>
<line x1="267.52" y1="632.61" x2="267.52" y2="646.55" stroke="#1010f0" stroke-width="0.8" />
<line x1="265.72" y1="632.61" x2="269.32" y2="632.61" stroke="#1010f0" stroke-width="0.8" />
<line x1="265.72" y1="646.55" x2="269.32" y2="646.55" stroke="#1010f0" stroke-width="0.8" />
<circle cx="267.5" cy="639.6" r="2" fill="#1010f0"/>
<line x1="279.95" y1="642.29" x2="279.95" y2="658.56" stroke="#1010f0" stroke-width="0.8" />
<line x1="278.15" y1="642.29" x2="281.75" y2="642.29" stroke="#1010f0" stroke-width="0.8" />
<line x1="278.15" y1="658.56" x2="281.75" y2="658.56" stroke="#1010f0" stroke-width="0.8" />
<circle cx="279.9" cy="650.4" r="2" fill="#1010f0"/>
<line x1="292.38" y1="669.40" x2="292.38" y2="681.01" stroke="#1010f0" stroke-width="0.8" />
<line x1="290.58" y1="669.40" x2="294.18" y2="669.40" stroke="#1010f0" stroke-width="0.8" />
<line x1="290.58" y1="681.01" x2="294.18" y2="681.01" stroke="#1010f0" stroke-width="0.8" />
<circle cx="292.4" cy="675.2" r="2" fill="#1010f0"/>
<line x1="304.81" y1="685.66" x2="304.81" y2="694.95" stroke="#1010f0" stroke-width="0.8" />
<line x1="303.01" y1="685.66" x2="306.61" y2="685.66" stroke="#1010f0" stroke-width="0.8" />
<line x1="303.01" y1="694.95" x2="306.61" y2="694.95" stroke="#1010f0" stroke-width="0.8" />
<circle cx="304.8" cy="690.3" r="2" fill="#1010f0"/>
<line x1="317.24" y1="696.50" x2="317.24" y2="700.37" stroke="#1010f0" stroke-width="0.8" />
<line x1="315.44" y1="696.50" x2="319.04" y2="696.50" stroke="#1010f0" stroke-width="0.8" />
<line x1="315.44" y1="700.37" x2="319.04" y2="700.37" stroke="#1010f0" stroke-width="0.8" />
<circle cx="317.2" cy="698.4" r="2" fill="#1010f0"/>
<line x1="329.67" y1="703.08" x2="329.67" y2="705.41" stroke="#1010f0" stroke-width="0.8" />
<line x1="327.87" y1="703.08" x2="331.47" y2="703.08" stroke="#1010f0" stroke-width="0.8" />
<line x1="327.87" y1="705.41" x2="331.47" y2="705.41" stroke="#1010f0" stroke-width="0.8" />
<circle cx="329.7" cy="704.2" r="2" fill="#1010f0"/>
<polyline points="217.8,714.7 230.2,691.5 242.7,667.1 255.1,655.5 267.5,645.8 279.9,659.7 292.4,681.0 304.8,698.1 317.2,706.2 329.7,708.5" fill="none" stroke="#40d020" stroke-width="1.3"/>
<circle cx="217.8" cy="714.7" r="2" fill="#40d020"/>
<line x1="230.23" y1="687.60" x2="230.23" y2="695.34" stroke="#40d020" stroke-width="0.8" />
<line x1="228.43" y1="687.60" x2="232.03" y2="687.60" stroke="#40d020" stroke-width="0.8" />
<line x1="228.43" y1="695.34" x2="232.03" y2="695.34" stroke="#40d020" stroke-width="0.8" />
<circle cx="230.2" cy="691.5" r="2" fill="#40d020"/>
<line x1="242.66" y1="663.98" x2="242.66" y2="670.17" stroke="#40d020" stroke-width="0.8" />
<line x1="240.86" y1="663.98" x2="244.46" y2="663.98" stroke="#40d020" stroke-width="0.8" />
<line x1="240.86" y1="670.17" x2="244.46" y2="670.17" stroke="#40d020" stroke-width="0.8" />
<circle cx="242.7" cy="667.1" r="2" fill="#40d020"/>
<line x1="255.09" y1="651.97" x2="255.09" y2="658.94" stroke="#40d020" stroke-width="0.8" />
<line x1="253.29" y1="651.97" x2="256.89" y2="651.97" stroke="#40d020" stroke-width="0.8" />
<line x1="253.29" y1="658.94" x2="256.89" y2="658.94" stroke="#40d020" stroke-width="0.8" />
<circle cx="255.1" cy="655.5" r="2" fill="#40d020"/>
<line x1="267.52" y1="641.13" x2="267.52" y2="650.42" stroke="#40d020" stroke-width="0.8" />
<line x1="265.72" y1="641.13" x2="269.32" y2="641.13" stroke="#40d020" stroke-width="0.8" />
<line x1="265.72" y1="650.42" x2="269.32" y2="650.42" stroke="#40d020" stroke-width="0.8" />
<circle cx="267.5" cy="645.8" r="2" fill="#40d020"/>
<line x1="279.95" y1="655.07" x2="279.95" y2="664.36" stroke="#40d020" stroke-width="0.8" />
<line x1="278.15" y1="655.07" x2="281.75" y2="655.07" stroke="#40d020" stroke-width="0.8" />
<line x1="278.15" y1="664.36" x2="281.75" y2="664.36" stroke="#40d020" stroke-width="0.8" />
<circle cx="279.9" cy="659.7" r="2" fill="#40d020"/>
<line x1="292.38" y1="677.14" x2="292.38" y2="684.89" stroke="#40d020" stroke-width="0.8" />
<line x1="290.58" y1="677.14" x2="294.18" y2="677.14" stroke="#40d020" stroke-width="0.8" />
<line x1="290.58" y1="684.89" x2="294.18" y2="684.89" stroke="#40d020" stroke-width="0.8" />
<circle cx="292.4" cy="681" r="2" fill="#40d020"/>
<line x1="304.81" y1="695.73" x2="304.81" y2="700.37" stroke="#40d020" stroke-width="0.8" />
<line x1="303.01" y1="695.73" x2="306.61" y2="695.73" stroke="#40d020" stroke-width="0.8" />
<line x1="303.01" y1="700.37" x2="306.61" y2="700.37" stroke="#40d020" stroke-width="0.8" />
<circle cx="304.8" cy="698.1" r="2" fill="#40d020"/>
<line x1="317.24" y1="704.63" x2="317.24" y2="707.73" stroke="#40d020" stroke-width="0.8" />
<line x1="315.44" y1="704.63" x2="319.04" y2="704.63" stroke="#40d020" stroke-width="0.8" />
<line x1="315.44" y1="707.73" x2="319.04" y2="707.73" stroke="#40d020" stroke-width="0.8" />
<circle cx="317.2" cy="706.2" r="2" fill="#40d020"/>
<line x1="329.67" y1="707.34" x2="329.67" y2="709.67" stroke="#40d020" stroke-width="0.8" />
<line x1="327.87" y1="707.34" x2="331.47" y2="707.34" stroke="#40d020" stroke-width="0.8" />
<line x1="327.87" y1="709.67" x2="331.47" y2="709.67" stroke="#40d020" stroke-width="0.8" />
<circle cx="329.7" cy="708.5" r="2" fill="#40d020"/>
<polyline points="217.8,714.7 230.2,697.3 242.7,682.2 255.1,669.4 267.5,659.7 279.9,670.6 292.4,690.7 304.8,700.4 317.2,707.3 329.7,709.3" fill="none" stroke="#f02020" stroke-width="1.3"/>
<circle cx="217.8" cy="714.7" r="2" fill="#f02020"/>
<line x1="230.23" y1="695.73" x2="230.23" y2="698.82" stroke="#f02020" stroke-width="0.8" />
<line x1="228.43" y1="695.73" x2="232.03" y2="695.73" stroke="#f02020" stroke-width="0.8" />
<line x1="228.43" y1="698.82" x2="232.03" y2="698.82" stroke="#f02020" stroke-width="0.8" />
<circle cx="230.2" cy="697.3" r="2" fill="#f02020"/>
<line x1="242.66" y1="680.24" x2="242.66" y2="684.11" stroke="#f02020" stroke-width="0.8" />
<line x1="240.86" y1="680.24" x2="244.46" y2="680.24" stroke="#f02020" stroke-width="0.8" />
<line x1="240.86" y1="684.11" x2="244.46" y2="684.11" stroke="#f02020" stroke-width="0.8" />
<circle cx="242.7" cy="682.2" r="2" fill="#f02020"/>
<line x1="255.09" y1="666.69" x2="255.09" y2="672.11" stroke="#f02020" stroke-width="0.8" />
<line x1="253.29" y1="666.69" x2="256.89" y2="666.69" stroke="#f02020" stroke-width="0.8" />
<line x1="253.29" y1="672.11" x2="256.89" y2="672.11" stroke="#f02020" stroke-width="0.8" />
<circle cx="255.1" cy="669.4" r="2" fill="#f02020"/>
<line x1="267.52" y1="657.39" x2="267.52" y2="662.04" stroke="#f02020" stroke-width="0.8" />
<line x1="265.72" y1="657.39" x2="269.32" y2="657.39" stroke="#f02020" stroke-width="0.8" />
<line x1="265.72" y1="662.04" x2="269.32" y2="662.04" stroke="#f02020" stroke-width="0.8" />
<circle cx="267.5" cy="659.7" r="2" fill="#f02020"/>
<line x1="279.95" y1="665.91" x2="279.95" y2="675.21" stroke="#f02020" stroke-width="0.8" />
<line x1="278.15" y1="665.91" x2="281.75" y2="665.91" stroke="#f02020" stroke-width="0.8" />
<line x1="278.15" y1="675.21" x2="281.75" y2="675.21" stroke="#f02020" stroke-width="0.8" />
<circle cx="279.9" cy="670.6" r="2" fill="#f02020"/>
<line x1="292.38" y1="687.60" x2="292.38" y2="693.79" stroke="#f02020" stroke-width="0.8" />
<line x1="290.58" y1="687.60" x2="294.18" y2="687.60" stroke="#f02020" stroke-width="0.8" />
<line x1="290.58" y1="693.79" x2="294.18" y2="693.79" stroke="#f02020" stroke-width="0.8" />
<circle cx="292.4" cy="690.7" r="2" fill="#f02020"/>
<line x1="304.81" y1="698.44" x2="304.81" y2="702.31" stroke="#f02020" stroke-width="0.8" />
<line x1="303.01" y1="698.44" x2="306.61" y2="698.44" stroke="#f02020" stroke-width="0.8" />
<line x1="303.01" y1="702.31" x2="306.61" y2="702.31" stroke="#f02020" stroke-width="0.8" />
<circle cx="304.8" cy="700.4" r="2" fill="#f02020"/>
<line x1="317.24" y1="706.18" x2="317.24" y2="708.50" stroke="#f02020" stroke-width="0.8" />
<line x1="315.44" y1="706.18" x2="319.04" y2="706.18" stroke="#f02020" stroke-width="0.8" />
<line x1="315.44" y1="708.50" x2="319.04" y2="708.50" stroke="#f02020" stroke-width="0.8" />
<circle cx="317.2" cy="707.3" r="2" fill="#f02020"/>
<line x1="329.67" y1="708.12" x2="329.67" y2="710.44" stroke="#f02020" stroke-width="0.8" />
<line x1="327.87" y1="708.12" x2="331.47" y2="708.12" stroke="#f02020" stroke-width="0.8" />
<line x1="327.87" y1="710.44" x2="331.47" y2="710.44" stroke="#f02020" stroke-width="0.8" />
<circle cx="329.7" cy="709.3" r="2" fill="#f02020"/>
<path d="M239 652.8v3.4M237.5 653.6l2.9 1.7M237.5 655.4l2.9 -1.7M242.7 652.8v3.4M241.2 653.6l2.9 1.7M241.2 655.4l2.9 -1.7M246.4 652.8v3.4M244.9 653.6l2.9 1.7M244.9 655.4l2.9 -1.7" stroke="#555" stroke-width="1.0" fill="none"/>
<path d="M249.5 636.2v3.4M248.1 637l2.9 1.7M248.1 638.8l2.9 -1.7M253.2 636.2v3.4M251.8 637l2.9 1.7M251.8 638.8l2.9 -1.7M256.9 636.2v3.4M255.5 637l2.9 1.7M255.5 638.8l2.9 -1.7M260.6 636.2v3.4M259.2 637l2.9 1.7M259.2 638.8l2.9 -1.7" stroke="#555" stroke-width="1.0" fill="none"/>
<path d="M263.8 628.9v3.4M262.3 629.8l2.9 1.7M262.3 631.5l2.9 -1.7M267.5 628.9v3.4M266 629.8l2.9 1.7M266 631.5l2.9 -1.7M271.2 628.9v3.4M269.7 629.8l2.9 1.7M269.7 631.5l2.9 -1.7" stroke="#555" stroke-width="1.0" fill="none"/>
<path d="M276.2 637.9v3.4M274.8 638.8l2.9 1.7M274.8 640.5l2.9 -1.7M279.9 637.9v3.4M278.5 638.8l2.9 1.7M278.5 640.5l2.9 -1.7M283.6 637.9v3.4M282.2 638.8l2.9 1.7M282.2 640.5l2.9 -1.7" stroke="#555" stroke-width="1.0" fill="none"/>
<path d="M292.4 663.9v3.4M290.9 664.8l2.9 1.7M290.9 666.5l2.9 -1.7" stroke="#555" stroke-width="1.0" fill="none"/>
<path d="M242.7 673.5v3.4M241.2 674.4l2.9 1.7M241.2 676.1l2.9 -1.7" stroke="#555" stroke-width="1.0" fill="none"/>
<path d="M255.1 658.8v3.4M253.6 659.6l2.9 1.7M253.6 661.4l2.9 -1.7" stroke="#555" stroke-width="1.0" fill="none"/>
<path d="M267.5 651.8v3.4M266 652.6l2.9 1.7M266 654.4l2.9 -1.7" stroke="#555" stroke-width="1.0" fill="none"/>
<text x="526.30" y="612.00" font-size="18" font-weight="bold" font-style="normal" text-anchor="start" fill="#111" >j</text>
<line x1="546.00" y1="619.10" x2="546.00" y2="715.50" stroke="#111" stroke-width="1.1" />
<line x1="545.50" y1="714.90" x2="671.30" y2="714.90" stroke="#111" stroke-width="1.1" />
<line x1="543.20" y1="714.90" x2="546.00" y2="714.90" stroke="#111" stroke-width="1.1" />
<text x="542.60" y="717.30" font-size="6.7" font-weight="bold" font-style="normal" text-anchor="end" fill="#111" >0</text>
<line x1="543.20" y1="690.95" x2="546.00" y2="690.95" stroke="#111" stroke-width="1.1" />
<text x="542.60" y="693.35" font-size="6.7" font-weight="bold" font-style="normal" text-anchor="end" fill="#111" >2</text>
<line x1="543.20" y1="667.00" x2="546.00" y2="667.00" stroke="#111" stroke-width="1.1" />
<text x="542.60" y="669.40" font-size="6.7" font-weight="bold" font-style="normal" text-anchor="end" fill="#111" >4</text>
<line x1="543.20" y1="643.05" x2="546.00" y2="643.05" stroke="#111" stroke-width="1.1" />
<text x="542.60" y="645.45" font-size="6.7" font-weight="bold" font-style="normal" text-anchor="end" fill="#111" >6</text>
<line x1="543.20" y1="619.10" x2="546.00" y2="619.10" stroke="#111" stroke-width="1.1" />
<text x="542.60" y="621.50" font-size="6.7" font-weight="bold" font-style="normal" text-anchor="end" fill="#111" >8</text>
<line x1="554.40" y1="714.90" x2="554.40" y2="717.70" stroke="#111" stroke-width="1.1" />
<text x="554.40" y="725.50" font-size="6.6" font-weight="bold" font-style="normal" text-anchor="middle" fill="#111" >0</text>
<line x1="566.44" y1="714.90" x2="566.44" y2="717.70" stroke="#111" stroke-width="1.1" />
<text x="566.44" y="725.50" font-size="6.6" font-weight="bold" font-style="normal" text-anchor="middle" fill="#111" >25</text>
<line x1="578.48" y1="714.90" x2="578.48" y2="717.70" stroke="#111" stroke-width="1.1" />
<text x="578.48" y="725.50" font-size="6.6" font-weight="bold" font-style="normal" text-anchor="middle" fill="#111" >50</text>
<line x1="590.52" y1="714.90" x2="590.52" y2="717.70" stroke="#111" stroke-width="1.1" />
<text x="590.52" y="725.50" font-size="6.6" font-weight="bold" font-style="normal" text-anchor="middle" fill="#111" >75</text>
<line x1="602.56" y1="714.90" x2="602.56" y2="717.70" stroke="#111" stroke-width="1.1" />
<text x="602.56" y="725.50" font-size="6.6" font-weight="bold" font-style="normal" text-anchor="middle" fill="#111" >100</text>
<line x1="614.60" y1="714.90" x2="614.60" y2="717.70" stroke="#111" stroke-width="1.1" />
<text x="614.60" y="725.50" font-size="6.6" font-weight="bold" font-style="normal" text-anchor="middle" fill="#111" >125</text>
<line x1="626.64" y1="714.90" x2="626.64" y2="717.70" stroke="#111" stroke-width="1.1" />
<text x="626.64" y="725.50" font-size="6.6" font-weight="bold" font-style="normal" text-anchor="middle" fill="#111" >150</text>
<line x1="638.68" y1="714.90" x2="638.68" y2="717.70" stroke="#111" stroke-width="1.1" />
<text x="638.68" y="725.50" font-size="6.6" font-weight="bold" font-style="normal" text-anchor="middle" fill="#111" >175</text>
<line x1="650.72" y1="714.90" x2="650.72" y2="717.70" stroke="#111" stroke-width="1.1" />
<text x="650.72" y="725.50" font-size="6.6" font-weight="bold" font-style="normal" text-anchor="middle" fill="#111" >200</text>
<line x1="662.76" y1="714.90" x2="662.76" y2="717.70" stroke="#111" stroke-width="1.1" />
<text x="662.76" y="725.50" font-size="6.6" font-weight="bold" font-style="normal" text-anchor="middle" fill="#111" >225</text>
<text x="670.40" y="725.30" font-size="6.8" font-weight="bold" font-style="normal" text-anchor="start" fill="#111" >(μm)</text>
<text x="608.50" y="609.20" font-size="9.5" font-weight="bold" font-style="normal" text-anchor="middle" fill="#111" >DG</text>
<text transform="translate(532.20,666.70) rotate(-90)" x="0" y="0" font-size="8.4" font-weight="bold" font-style="normal" text-anchor="middle" dominant-baseline="central" fill="#111">NO.sholl intersections</text>
<polyline points="554.4,714.9 566.4,699.7 578.5,669.6 590.5,651.6 602.6,633.6 614.6,639.6 626.6,642.0 638.7,653.5 650.7,675.6 662.8,694.4" fill="none" stroke="#1010f0" stroke-width="1.3"/>
<circle cx="554.4" cy="714.9" r="2" fill="#1010f0"/>
<line x1="566.44" y1="698.49" x2="566.44" y2="700.89" stroke="#1010f0" stroke-width="0.8" />
<line x1="564.64" y1="698.49" x2="568.24" y2="698.49" stroke="#1010f0" stroke-width="0.8" />
<line x1="564.64" y1="700.89" x2="568.24" y2="700.89" stroke="#1010f0" stroke-width="0.8" />
<circle cx="566.4" cy="699.7" r="2" fill="#1010f0"/>
<line x1="578.48" y1="664.84" x2="578.48" y2="674.42" stroke="#1010f0" stroke-width="0.8" />
<line x1="576.68" y1="664.84" x2="580.28" y2="664.84" stroke="#1010f0" stroke-width="0.8" />
<line x1="576.68" y1="674.42" x2="580.28" y2="674.42" stroke="#1010f0" stroke-width="0.8" />
<circle cx="578.5" cy="669.6" r="2" fill="#1010f0"/>
<line x1="590.52" y1="646.76" x2="590.52" y2="656.34" stroke="#1010f0" stroke-width="0.8" />
<line x1="588.72" y1="646.76" x2="592.32" y2="646.76" stroke="#1010f0" stroke-width="0.8" />
<line x1="588.72" y1="656.34" x2="592.32" y2="656.34" stroke="#1010f0" stroke-width="0.8" />
<circle cx="590.5" cy="651.6" r="2" fill="#1010f0"/>
<line x1="602.56" y1="628.20" x2="602.56" y2="638.98" stroke="#1010f0" stroke-width="0.8" />
<line x1="600.76" y1="628.20" x2="604.36" y2="628.20" stroke="#1010f0" stroke-width="0.8" />
<line x1="600.76" y1="638.98" x2="604.36" y2="638.98" stroke="#1010f0" stroke-width="0.8" />
<circle cx="602.6" cy="633.6" r="2" fill="#1010f0"/>
<line x1="614.60" y1="635.98" x2="614.60" y2="643.17" stroke="#1010f0" stroke-width="0.8" />
<line x1="612.80" y1="635.98" x2="616.40" y2="635.98" stroke="#1010f0" stroke-width="0.8" />
<line x1="612.80" y1="643.17" x2="616.40" y2="643.17" stroke="#1010f0" stroke-width="0.8" />
<circle cx="614.6" cy="639.6" r="2" fill="#1010f0"/>
<line x1="626.64" y1="637.78" x2="626.64" y2="646.16" stroke="#1010f0" stroke-width="0.8" />
<line x1="624.84" y1="637.78" x2="628.44" y2="637.78" stroke="#1010f0" stroke-width="0.8" />
<line x1="624.84" y1="646.16" x2="628.44" y2="646.16" stroke="#1010f0" stroke-width="0.8" />
<circle cx="626.6" cy="642" r="2" fill="#1010f0"/>
<line x1="638.68" y1="649.28" x2="638.68" y2="657.66" stroke="#1010f0" stroke-width="0.8" />
<line x1="636.88" y1="649.28" x2="640.48" y2="649.28" stroke="#1010f0" stroke-width="0.8" />
<line x1="636.88" y1="657.66" x2="640.48" y2="657.66" stroke="#1010f0" stroke-width="0.8" />
<circle cx="638.7" cy="653.5" r="2" fill="#1010f0"/>
<line x1="650.72" y1="670.83" x2="650.72" y2="680.41" stroke="#1010f0" stroke-width="0.8" />
<line x1="648.92" y1="670.83" x2="652.52" y2="670.83" stroke="#1010f0" stroke-width="0.8" />
<line x1="648.92" y1="680.41" x2="652.52" y2="680.41" stroke="#1010f0" stroke-width="0.8" />
<circle cx="650.7" cy="675.6" r="2" fill="#1010f0"/>
<line x1="662.76" y1="692.03" x2="662.76" y2="696.82" stroke="#1010f0" stroke-width="0.8" />
<line x1="660.96" y1="692.03" x2="664.56" y2="692.03" stroke="#1010f0" stroke-width="0.8" />
<line x1="660.96" y1="696.82" x2="664.56" y2="696.82" stroke="#1010f0" stroke-width="0.8" />
<circle cx="662.8" cy="694.4" r="2" fill="#1010f0"/>
<polyline points="554.4,714.9 566.4,696.1 578.5,666.8 590.5,658.4 602.6,644.4 614.6,646.8 626.6,658.9 638.7,669.6 650.7,687.2 662.8,700.4" fill="none" stroke="#40d020" stroke-width="1.3"/>
<circle cx="554.4" cy="714.9" r="2" fill="#40d020"/>
<line x1="566.44" y1="693.70" x2="566.44" y2="698.49" stroke="#40d020" stroke-width="0.8" />
<line x1="564.64" y1="693.70" x2="568.24" y2="693.70" stroke="#40d020" stroke-width="0.8" />
<line x1="564.64" y1="698.49" x2="568.24" y2="698.49" stroke="#40d020" stroke-width="0.8" />
<circle cx="566.4" cy="696.1" r="2" fill="#40d020"/>
<line x1="578.48" y1="661.37" x2="578.48" y2="672.15" stroke="#40d020" stroke-width="0.8" />
<line x1="576.68" y1="661.37" x2="580.28" y2="661.37" stroke="#40d020" stroke-width="0.8" />
<line x1="576.68" y1="672.15" x2="580.28" y2="672.15" stroke="#40d020" stroke-width="0.8" />
<circle cx="578.5" cy="666.8" r="2" fill="#40d020"/>
<line x1="590.52" y1="654.79" x2="590.52" y2="661.97" stroke="#40d020" stroke-width="0.8" />
<line x1="588.72" y1="654.79" x2="592.32" y2="654.79" stroke="#40d020" stroke-width="0.8" />
<line x1="588.72" y1="661.97" x2="592.32" y2="661.97" stroke="#40d020" stroke-width="0.8" />
<circle cx="590.5" cy="658.4" r="2" fill="#40d020"/>
<line x1="602.56" y1="640.18" x2="602.56" y2="648.56" stroke="#40d020" stroke-width="0.8" />
<line x1="600.76" y1="640.18" x2="604.36" y2="640.18" stroke="#40d020" stroke-width="0.8" />
<line x1="600.76" y1="648.56" x2="604.36" y2="648.56" stroke="#40d020" stroke-width="0.8" />
<circle cx="602.6" cy="644.4" r="2" fill="#40d020"/>
<line x1="614.60" y1="640.77" x2="614.60" y2="652.75" stroke="#40d020" stroke-width="0.8" />
<line x1="612.80" y1="640.77" x2="616.40" y2="640.77" stroke="#40d020" stroke-width="0.8" />
<line x1="612.80" y1="652.75" x2="616.40" y2="652.75" stroke="#40d020" stroke-width="0.8" />
<circle cx="614.6" cy="646.8" r="2" fill="#40d020"/>
<line x1="626.64" y1="653.47" x2="626.64" y2="664.25" stroke="#40d020" stroke-width="0.8" />
<line x1="624.84" y1="653.47" x2="628.44" y2="653.47" stroke="#40d020" stroke-width="0.8" />
<line x1="624.84" y1="664.25" x2="628.44" y2="664.25" stroke="#40d020" stroke-width="0.8" />
<circle cx="626.6" cy="658.9" r="2" fill="#40d020"/>
<line x1="638.68" y1="664.84" x2="638.68" y2="674.42" stroke="#40d020" stroke-width="0.8" />
<line x1="636.88" y1="664.84" x2="640.48" y2="664.84" stroke="#40d020" stroke-width="0.8" />
<line x1="636.88" y1="674.42" x2="640.48" y2="674.42" stroke="#40d020" stroke-width="0.8" />
<circle cx="638.7" cy="669.6" r="2" fill="#40d020"/>
<line x1="650.72" y1="682.45" x2="650.72" y2="692.03" stroke="#40d020" stroke-width="0.8" />
<line x1="648.92" y1="682.45" x2="652.52" y2="682.45" stroke="#40d020" stroke-width="0.8" />
<line x1="648.92" y1="692.03" x2="652.52" y2="692.03" stroke="#40d020" stroke-width="0.8" />
<circle cx="650.7" cy="687.2" r="2" fill="#40d020"/>
<line x1="662.76" y1="698.02" x2="662.76" y2="702.81" stroke="#40d020" stroke-width="0.8" />
<line x1="660.96" y1="698.02" x2="664.56" y2="698.02" stroke="#40d020" stroke-width="0.8" />
<line x1="660.96" y1="702.81" x2="664.56" y2="702.81" stroke="#40d020" stroke-width="0.8" />
<circle cx="662.8" cy="700.4" r="2" fill="#40d020"/>
<polyline points="554.4,714.9 566.4,695.6 578.5,679.3 590.5,663.6 602.6,666.8 614.6,664.8 626.6,676.8 638.7,687.2 650.7,703.4 662.8,709.4" fill="none" stroke="#f02020" stroke-width="1.3"/>
<circle cx="554.4" cy="714.9" r="2" fill="#f02020"/>
<line x1="566.44" y1="693.82" x2="566.44" y2="697.42" stroke="#f02020" stroke-width="0.8" />
<line x1="564.64" y1="693.82" x2="568.24" y2="693.82" stroke="#f02020" stroke-width="0.8" />
<line x1="564.64" y1="697.42" x2="568.24" y2="697.42" stroke="#f02020" stroke-width="0.8" />
<circle cx="566.4" cy="695.6" r="2" fill="#f02020"/>
<line x1="578.48" y1="674.54" x2="578.48" y2="684.12" stroke="#f02020" stroke-width="0.8" />
<line x1="576.68" y1="674.54" x2="580.28" y2="674.54" stroke="#f02020" stroke-width="0.8" />
<line x1="576.68" y1="684.12" x2="580.28" y2="684.12" stroke="#f02020" stroke-width="0.8" />
<circle cx="578.5" cy="679.3" r="2" fill="#f02020"/>
<line x1="590.52" y1="661.25" x2="590.52" y2="666.04" stroke="#f02020" stroke-width="0.8" />
<line x1="588.72" y1="661.25" x2="592.32" y2="661.25" stroke="#f02020" stroke-width="0.8" />
<line x1="588.72" y1="666.04" x2="592.32" y2="666.04" stroke="#f02020" stroke-width="0.8" />
<circle cx="590.5" cy="663.6" r="2" fill="#f02020"/>
<line x1="602.56" y1="663.17" x2="602.56" y2="670.35" stroke="#f02020" stroke-width="0.8" />
<line x1="600.76" y1="663.17" x2="604.36" y2="663.17" stroke="#f02020" stroke-width="0.8" />
<line x1="600.76" y1="670.35" x2="604.36" y2="670.35" stroke="#f02020" stroke-width="0.8" />
<circle cx="602.6" cy="666.8" r="2" fill="#f02020"/>
<line x1="614.60" y1="660.05" x2="614.60" y2="669.63" stroke="#f02020" stroke-width="0.8" />
<line x1="612.80" y1="660.05" x2="616.40" y2="660.05" stroke="#f02020" stroke-width="0.8" />
<line x1="612.80" y1="669.63" x2="616.40" y2="669.63" stroke="#f02020" stroke-width="0.8" />
<circle cx="614.6" cy="664.8" r="2" fill="#f02020"/>
<line x1="626.64" y1="672.63" x2="626.64" y2="681.01" stroke="#f02020" stroke-width="0.8" />
<line x1="624.84" y1="672.63" x2="628.44" y2="672.63" stroke="#f02020" stroke-width="0.8" />
<line x1="624.84" y1="681.01" x2="628.44" y2="681.01" stroke="#f02020" stroke-width="0.8" />
<circle cx="626.6" cy="676.8" r="2" fill="#f02020"/>
<line x1="638.68" y1="683.65" x2="638.68" y2="690.83" stroke="#f02020" stroke-width="0.8" />
<line x1="636.88" y1="683.65" x2="640.48" y2="683.65" stroke="#f02020" stroke-width="0.8" />
<line x1="636.88" y1="690.83" x2="640.48" y2="690.83" stroke="#f02020" stroke-width="0.8" />
<circle cx="638.7" cy="687.2" r="2" fill="#f02020"/>
<line x1="650.72" y1="700.41" x2="650.72" y2="706.40" stroke="#f02020" stroke-width="0.8" />
<line x1="648.92" y1="700.41" x2="652.52" y2="700.41" stroke="#f02020" stroke-width="0.8" />
<line x1="648.92" y1="706.40" x2="652.52" y2="706.40" stroke="#f02020" stroke-width="0.8" />
<circle cx="650.7" cy="703.4" r="2" fill="#f02020"/>
<line x1="662.76" y1="707.60" x2="662.76" y2="711.19" stroke="#f02020" stroke-width="0.8" />
<line x1="660.96" y1="707.60" x2="664.56" y2="707.60" stroke="#f02020" stroke-width="0.8" />
<line x1="660.96" y1="711.19" x2="664.56" y2="711.19" stroke="#f02020" stroke-width="0.8" />
<circle cx="662.8" cy="709.4" r="2" fill="#f02020"/>
<path d="M597 620.5v3.4M595.5 621.4l2.9 1.7M595.5 623.1l2.9 -1.7M600.7 620.5v3.4M599.2 621.4l2.9 1.7M599.2 623.1l2.9 -1.7M604.4 620.5v3.4M602.9 621.4l2.9 1.7M602.9 623.1l2.9 -1.7M608.1 620.5v3.4M606.6 621.4l2.9 1.7M606.6 623.1l2.9 -1.7" stroke="#555" stroke-width="1.0" fill="none"/>
<path d="M609.1 625.3v3.4M607.6 626.1l2.9 1.7M607.6 627.9l2.9 -1.7M612.8 625.3v3.4M611.3 626.1l2.9 1.7M611.3 627.9l2.9 -1.7M616.5 625.3v3.4M615 626.1l2.9 1.7M615 627.9l2.9 -1.7M620.1 625.3v3.4M618.7 626.1l2.9 1.7M618.7 627.9l2.9 -1.7" stroke="#555" stroke-width="1.0" fill="none"/>
<path d="M621.1 630.1v3.4M619.6 630.9l2.9 1.7M619.6 632.6l2.9 -1.7M624.8 630.1v3.4M623.3 630.9l2.9 1.7M623.3 632.6l2.9 -1.7M628.5 630.1v3.4M627 630.9l2.9 1.7M627 632.6l2.9 -1.7M632.2 630.1v3.4M630.7 630.9l2.9 1.7M630.7 632.6l2.9 -1.7" stroke="#555" stroke-width="1.0" fill="none"/>
<path d="M633.1 638.6v3.4M631.7 639.4l2.9 1.7M631.7 641.1l2.9 -1.7M636.8 638.6v3.4M635.4 639.4l2.9 1.7M635.4 641.1l2.9 -1.7M640.5 638.6v3.4M639.1 639.4l2.9 1.7M639.1 641.1l2.9 -1.7M644.2 638.6v3.4M642.8 639.4l2.9 1.7M642.8 641.1l2.9 -1.7" stroke="#555" stroke-width="1.0" fill="none"/>
<path d="M645.2 659.5v3.4M643.7 660.4l2.9 1.7M643.7 662.1l2.9 -1.7M648.9 659.5v3.4M647.4 660.4l2.9 1.7M647.4 662.1l2.9 -1.7M652.6 659.5v3.4M651.1 660.4l2.9 1.7M651.1 662.1l2.9 -1.7M656.3 659.5v3.4M654.8 660.4l2.9 1.7M654.8 662.1l2.9 -1.7" stroke="#555" stroke-width="1.0" fill="none"/>
<path d="M662.8 684.3v3.4M661.3 685.1l2.9 1.7M661.3 686.9l2.9 -1.7" stroke="#555" stroke-width="1.0" fill="none"/>
<path d="M598.9 653.5v3.4M597.4 654.4l2.9 1.7M597.4 656.1l2.9 -1.7M602.6 653.5v3.4M601.1 654.4l2.9 1.7M601.1 656.1l2.9 -1.7M606.3 653.5v3.4M604.8 654.4l2.9 1.7M604.8 656.1l2.9 -1.7" stroke="#555" stroke-width="1.0" fill="none"/>
<path d="M612.8 657.1v3.4M611.3 657.9l2.9 1.7M611.3 659.6l2.9 -1.7M616.5 657.1v3.4M615 657.9l2.9 1.7M615 659.6l2.9 -1.7" stroke="#555" stroke-width="1.0" fill="none"/>
<path d="M624.8 666.8v3.4M623.3 667.6l2.9 1.7M623.3 669.4l2.9 -1.7M628.5 666.8v3.4M627 667.6l2.9 1.7M627 669.4l2.9 -1.7" stroke="#555" stroke-width="1.0" fill="none"/>
<path d="M636.8 678.3v3.4M635.4 679.1l2.9 1.7M635.4 680.9l2.9 -1.7M640.5 678.3v3.4M639.1 679.1l2.9 1.7M639.1 680.9l2.9 -1.7" stroke="#555" stroke-width="1.0" fill="none"/>
<path d="M650.7 695.7v3.4M649.2 696.5l2.9 1.7M649.2 698.2l2.9 -1.7" stroke="#555" stroke-width="1.0" fill="none"/>
<text x="344.80" y="613.60" font-size="18" font-weight="bold" font-style="normal" text-anchor="start" fill="#111" >i</text>
<clipPath id="ci_1"><rect x="358.4" y="608.3" width="52.400000000000034" height="115.10000000000002"/></clipPath>
<rect x="358.40" y="608.30" width="52.40" height="115.10" fill="#dcdcdc" stroke="none" stroke-width="1" />
<g clip-path="url(#ci_1)"><g filter="url(#b04)">
<ellipse cx="380" cy="708" rx="18" ry="14" fill="#eaeaea" filter="url(#b3)"/>
<ellipse cx="366" cy="690" rx="8" ry="25" fill="#e8e8e8" filter="url(#b3)"/>
<ellipse cx="395" cy="640" rx="8" ry="12" fill="#e4e4e4" filter="url(#b3)"/>
<rect x="358.4" y="608.3" width="52.400000000000034" height="115.10000000000002" filter="url(#nz2)"/>
<g filter="url(#b04)" opacity="1.0"><path d="M384.4 643.1l1.6 .1 1.5 .3 1.6-.4 1.2 1.1 1.3 .9 1.3 .9" fill="none" stroke="#999999" stroke-width="0.56" stroke-linecap="round" stroke-linejoin="round"/><path d="M395.8 661.2l-.2 1.6 .6 1.5 .5 1.5 .8 1.4" fill="none" stroke="#808080" stroke-width="0.42" stroke-linecap="round" stroke-linejoin="round"/><path d="M358.5 615.7l-1.4-.7-1-1.2-1.3-1-1-1.2 0-1.6-1-1.2-1.6-.4" fill="none" stroke="#999999" stroke-width="0.59" stroke-linecap="round" stroke-linejoin="round"/><path d="M390.8 670l-1.4 .8-1.4 .9-.1 1.6 1.1 1.1" fill="none" stroke="#a0a0a0" stroke-width="0.46" stroke-linecap="round" stroke-linejoin="round"/><path d="M389.9 689.6l.6-1.4 1.5-.7 1.4-.7 1.6-.2 1.6-.3 .6-1.4" fill="none" stroke="#868686" stroke-width="0.52" stroke-linecap="round" stroke-linejoin="round"/><path d="M374.4 612.1l0-1.6-.6-1.5 .1-1.6 .4-1.5 .2-1.6" fill="none" stroke="#909090" stroke-width="0.53" stroke-linecap="round" stroke-linejoin="round"/><path d="M361 655.7l-1 1.3-.1 1.6-.2 1.6-.3 1.6-1.1 1.1-1.4 .7" fill="none" stroke="#939393" stroke-width="0.58" stroke-linecap="round" stroke-linejoin="round"/><path d="M404.1 631.5l-1.4 .8-1.6 .1-1.5 .5-1.6-.2-1.4-.7" fill="none" stroke="#818181" stroke-width="0.56" stroke-linecap="round" stroke-linejoin="round"/><path d="M385.2 699l-.9-2-.4-2.2-.5-2.1-.8-2.1-.8-2-.8-2.1-1-1.9-.6-2.1-1.3-1.8-1.2-1.9-1.1-1.9-1.4-1.7-1.1-1.9-1.4-1.7-1.3-1.8-1.3-1.7-3.7-6.2-.9-2-.5-2.1-.9-2-.5-2.2-.7-2.1-.5-2.1-.4-2.2-.6-2.1-.2-2.2-.8-2-.6-2.1-.4-2.2-.5-2.2-.3-2.1-.3-2.2-.2-2.2 .2-2.2 .5-2.1" fill="none" stroke="#3c3c3c" stroke-width="1.1" stroke-linecap="round" stroke-dasharray="2.2 .5"/><path d="M388.6 699l-1-2-1-1.9-1-1.9-1-2-.8-2.1-1.1-1.9-1.4-1.6-1.4-1.7-1.2-1.9-1.2-1.9-.5-2.1-.7-2.1-.6-2.1-.9-2-.8-2.1-.6-2.1-1.3-1.8-.9-2-4.4-4.5 0-2.2-.1-2.2-.7-2.1-.3-2.1-.5-2.2-.9-2-.8-2-1-2-.8-2-.4-2.2-.4-2.2-.3-2.2-.4-2.1 0-2.2-.3-2.2 .1-2.2 .4-2.2 .3-2.1 .2-2.2" fill="none" stroke="#393939" stroke-width="1.3" stroke-linecap="round" stroke-dasharray="2.2 .5"/><path d="M364.3 646.5l-.7-2.1-.7-2.1-.5-2.1-.7-2.1-1.1-1.9-.5-2.1-.6-2.2 0-2.2-.3-2.1-.3-2.2-.2-2.2-.2-2.2" fill="none" stroke="#3a3a3a" stroke-width=".9" stroke-linecap="round"/><path d="M385.7 699l-.8-2-1-2-1-2-1.1-1.9-.7-2.1-.4-2.1-.5-2.2-.3-2.1-.8-2.1-.8-2.1-.7-2-.7-2.1-.7-2.1-.5-2.2-.6-2.1-1.2-1.8-3.1-6.4 .3-2.2 .1-2.2-.1-2.2-.6-2.1 0-2.2-.1-2.2-.4-2.2-.4-2.1 .1-2.2-.3-2.2-.3-2.2-.2-2.2 .3-2.2 .4-2.1 .5-2.2 .2-2.2 .3-2.2-.1-2.1" fill="none" stroke="#333333" stroke-width="1.3" stroke-linecap="round" stroke-dasharray="2.2 .5"/><path d="M369.6 642.3l.7-2.1 .4-2.2 .5-2.2 .6-2.1 .6-2.1 .9-2 1.3-1.7 1.2-1.9 1-2" fill="none" stroke="#3a3a3a" stroke-width=".9" stroke-linecap="round"/><path d="M385.7 699l-.6-2.1-.2-2.2-.4-2.1-.3-2.2 .1-2.2-.1-2.2-.2-2.2 .1-2.2-.3-2.2-.5-2.1-.7-2.1-.7-2.1-.8-2.1-1.1-1.9-1.1-1.9-.8-2-.5-2.2-2.1-7-.5-2.1 .1-2.2 .3-2.2 .4-2.2-.3-2.2-.5-2.1-.8-2.1-.5-2.1-.2-2.2-.6-2.1-.6-2.1-.7-2.1-1-2-.7-2.1-.8-2-.1-2.2" fill="none" stroke="#373737" stroke-width="1.3" stroke-linecap="round" stroke-dasharray="2.2 .5"/><path d="M374.2 640.9l.7-2.1 .5-2.1 .9-2 1.2-1.8 1.3-1.8 1.2-1.9 .9-2 .9-2 1.2-1.8 .9-2 .3-2.2" fill="none" stroke="#3a3a3a" stroke-width=".9" stroke-linecap="round"/><path d="M385.3 699l-.2-2.2-.6-2.1-.6-2.1-.7-2.1-.6-2.1-.6-2.1-.6-2.2-.5-2.1-.3-2.2-.2-2.2 .2-2.2 0-2.2-.2-2.1-.3-2.2-.1-2.2 0-2.2-.3-2.2-1.8-5.3-.6-2-.7-2.1-.3-2.2 .1-2.2 0-2.2-.1-2.2-.1-2.2-.5-2.2-.4-2.1-.8-2.1-.3-2.1-.5-2.2 .1-2.2 .4-2.2 .1-2.2-.1-2.2 .4-2.1 .5-2.2" fill="none" stroke="#252525" stroke-width="1.1" stroke-linecap="round" stroke-dasharray="2.2 .5"/><path d="M376.2 641.9l-.7-2.1-.7-2.1-.4-2.1-.3-2.2-.3-2.2 0-2.2-.2-2.2-.3-2.2-.1-2.2-.1-2.2-.7-2.1-.7-2" fill="none" stroke="#3a3a3a" stroke-width=".9" stroke-linecap="round"/><path d="M387 699l-.5-2.1-.3-2.2-.2-2.2-.2-2.2-.7-2.1-.7-2.1-.9-2-.4-2.2-.3-2.1-.4-2.2-.1-2.2 .1-2.2 0-2.2-.3-2.2-1.1-6.7-.1-2.2-.3-2.2-.2-2.2-.5-2.1-.2-2.2 .1-2.2 .1-2.2 0-2.2 .2-2.2 .3-2.2 .4-2.1 0-2.2-.4-2.2-.6-2.1-.7-2.1-.5-2.1-.4-2.2-.5-2.1 0-2.2" fill="none" stroke="#393939" stroke-width="1.3" stroke-linecap="round" stroke-dasharray="2.2 .5"/><path d="M379.9 644.6l.8-2 1-2 .8-2 .4-2.2 .6-2.1 .9-2 .8-2.1 .5-2.1 .6-2.1" fill="none" stroke="#3a3a3a" stroke-width=".9" stroke-linecap="round"/><path d="M387.4 699l0-2.2 0-2.2 .3-2.2 .4-2.1 .3-2.2 0-2.2 .2-2.2-.1-2.2-.6-2.1-.8-2.1-.9-2-.6-2.1-.1-2.2-.3-2.2-.5-2.1-.1-2.2-1.1-6.8-.2-2.2 .3-2.1 .6-2.1 .1-2.2 .3-2.2 .3-2.2 0-2.2 .2-2.2-.1-2.2-.1-2.2-.1-2.2-.3-2.2-.1-2.2 0-2.2 .2-2.1-.2-2.2-.2-2.2 0-2.2" fill="none" stroke="#282828" stroke-width="1.3" stroke-linecap="round" stroke-dasharray="2.2 .5"/><path d="M385.1 640.3l-.3-2.2-.1-2.2-.4-2.1-.4-2.2-.9-2-.7-2.1-.8-2-.7-2.1-.6-2.1 0-2.2 .5-2.2" fill="none" stroke="#3a3a3a" stroke-width=".9" stroke-linecap="round"/><path d="M388.6 699l.3-2.2 .2-2.2 0-2.2 .1-2.2-.1-2.2 .1-2.2 .4-2.1 .3-2.2 .3-2.2 .5-2.1-.2-2.2-.4-2.2-.6-2.1-.4-2.2-.1-2.2 1.2-6.7 .4-2.2 .3-2.2 .2-2.2 .4-2.1 .2-2.2 .3-2.2 .2-2.2 .1-2.2 0-2.2 .1-2.2 .3-2.2 .5-2.1 .3-2.2 .4-2.2 .4-2.1 .2-2.2 .2-2.2-.1-2.2-.2-2.2-.7-2.1-.9-2" fill="none" stroke="#3b3b3b" stroke-width="1" stroke-linecap="round" stroke-dasharray="2.2 .5"/><path d="M392 646.5l-.9-2-.6-2.1-1.1-1.9-.9-2.1-.9-2-.9-1.9-1.2-1.9" fill="none" stroke="#3a3a3a" stroke-width=".9" stroke-linecap="round"/><path d="M388.8 699l0-2.2-.4-2.2-.5-2.1-1-2-.5-2.1-.5-2.2 .1-2.2 .1-2.2 .7-2 1-2 1.2-1.9 1.3-1.7 .9-2 .5-2.2 .6-2.1-2.1-6.2-.3-2.2-.2-2.2 .4-2.2 1-1.9 1-2 .8-2 .5-2.2 .7-2.1 .6-2.1 .5-2.1 .1-2.2-.1-2.2 .3-2.2 .1-2.2 .2-2.2 .4-2.1-.3-2.2-.1-2.2-.7-2.1" fill="none" stroke="#303030" stroke-width="1.3" stroke-linecap="round" stroke-dasharray="2.2 .5"/><path d="M394.1 644.9l.6-2.1 .7-2.1 .7-2.1 .9-2 1.3-1.7 1.5-1.6 1.4-1.7 1-2 1.1-1.9 .8-2.1 .1-2.2-.1-2.2" fill="none" stroke="#3a3a3a" stroke-width=".9" stroke-linecap="round"/><path d="M388.4 699l.4-2.2 .4-2.1 .7-2.1 .2-2.2 .1-2.2 0-2.2 .1-2.2-.1-2.2 .3-2.2 0-2.2 .3-2.2 .7-2.1 .7-2.1 .4-2.1 .1-2.2 3.5-6.4 .2-2.2 .2-2.2 0-2.2 0-2.2-.3-2.1-.3-2.2-.7-2.1-.8-2.1-.8-2-.7-2.1-.8-2.1-.4-2.1-.6-2.1-.3-2.2-.3-2.2-.6-2.1-.4-2.2-.6-2.1-.2-2.2 .1-2.2-.2-2.2 .4-2.1 .8-2.1 1.6-1.5 2.1-.7" fill="none" stroke="#323232" stroke-width="1.1" stroke-linecap="round" stroke-dasharray="2.2 .5"/><path d="M385.4 699l.8-2.1 .7-2 .4-2.2 .5-2.2 .4-2.1 .5-2.2 .5-2.1 .4-2.2 .4-2.1 .7-2.1 0-2.2 .4-2.2 .5-2.1 .3-2.2 0-2.2 .9-2 4.2-4.9 .2-2.2 .2-2.2 .3-2.1 .6-2.1 .8-2.1 .3-2.2 .1-2.2-.1-2.2 0-2.2 0-2.2 .1-2.2-.2-2.2-.1-2.2 .2-2.2 0-2.2 .1-2.2" fill="none" stroke="#262626" stroke-width="1" stroke-linecap="round" stroke-dasharray="2.2 .5"/><path d="M397.4 655.5l-.9-2-1.2-1.9-.9-2-.7-2-.4-2.2-.4-2.2-.6-2.1-.7-2.1-.6-2.1-.5-2.1" fill="none" stroke="#3a3a3a" stroke-width=".9" stroke-linecap="round"/><path d="M387.2 699l.4-2.2 .5-2.1 .7-2.1 .6-2.1 .4-2.2 .5-2.1 .6-2.1 .2-2.2 .7-2.1 .8-2.1 .8-2 1.2-1.9 1.2-1.8 1.2-1.8 2.7-6.8 .6-2.1 .1-2.2 .3-2.2 .1-2.2 .4-2.2 .9-2 1-1.9 .9-2.1 .4-2.1 .6-2.1 .6-2.2 .2-2.1-.2-2.2 .2-2.2-.3-2.2-.3-2.2-.6-2.1-1-2-.8-2 .1-2.2" fill="none" stroke="#272727" stroke-width="1.1" stroke-linecap="round" stroke-dasharray="2.2 .5"/><path d="M388 699l.2-2.2 1-2 .6-2.1 .3-2.2 .2-2.2 .4-2.1 .2-2.2 .6-2.1 1.3-1.8 1.2-1.8 1.1-1.9 1.4-1.8 1.3-1.7 1.2-1.9 1.2-1.8 3.3-6.5 .5-2.1 .3-2.2 .4-2.1 .1-2.2 .1-2.2 .2-2.2 .1-2.2-.1-2.2 0-2.2 .2-2.2 .5-2.1 .5-2.2 .8-2 .8-2.1 .4-2.1 .4-2.2 .2-2.2" fill="none" stroke="#393939" stroke-width="1.3" stroke-linecap="round" stroke-dasharray="2.2 .5"/><path d="M386.1 699l.9-2 1-2 .5-2.1 .6-2.1 .7-2.1 .7-2.1 .9-2 1-2 1.3-1.7 1.2-1.8 .7-2.1 .6-2.2 .8-2 .7-2.1 .8-2 1.1-2 5.1-4.5-.1-2.2 0-2.2 .4-2.2 .4-2.2 .5-2.1 .3-2.2 .1-2.2 .1-2.2 .2-2.2 .4-2.1 0-2.2 .6-2.2 .2-2.1 .4-2.2 .6-2.1 .5-2.2 0-2.2 .5-2.1 .5-2.2 .8-2 .5-2.2" fill="none" stroke="#2f2f2f" stroke-width="1.2" stroke-linecap="round" stroke-dasharray="2.2 .5"/><path d="M405 655.6l-.7-2.1-.8-2-1-2-1.2-1.9-1.5-1.6-1-1.9-1.1-2" fill="none" stroke="#3a3a3a" stroke-width=".9" stroke-linecap="round"/></g>
<g filter="url(#b06)"><path d="M381.5,700 L390,698.5 L392,703 L391,707 L393.5,711 L393,718.5 L381.5,718.5 Z" fill="#080808"/><path d="M371.5,667 Q378,663 384.5,660" stroke="#1a1a1a" stroke-width="2.4" fill="none"/><circle cx="394.5" cy="707" r="1.6" fill="#333"/></g>
<g filter="url(#b2)"><ellipse cx="405" cy="628" rx="5" ry="8" fill="#a8a8a8"/></g>
</g></g>
<rect x="358.40" y="608.30" width="52.40" height="115.10" fill="none" stroke="#333" stroke-width="1.1" />
<clipPath id="ci_2"><rect x="414.2" y="608.3" width="52.30000000000001" height="115.10000000000002"/></clipPath>
<rect x="414.20" y="608.30" width="52.30" height="115.10" fill="#dcdcdc" stroke="none" stroke-width="1" />
<g clip-path="url(#ci_2)"><g filter="url(#b04)">
<ellipse cx="440" cy="680" rx="15" ry="25" fill="#e8e8e8" filter="url(#b3)"/>
<ellipse cx="455" cy="705" rx="8" ry="10" fill="#eaeaea" filter="url(#b3)"/>
<rect x="414.2" y="608.3" width="52.30000000000001" height="115.10000000000002" filter="url(#nz2)"/>
<circle cx="419.2" cy="686.8" r=".5" fill="#7e7e7e"/><circle cx="438.1" cy="678.7" r=".6" fill="#868686"/><circle cx="414.3" cy="669.5" r=".7" fill="#555555"/><circle cx="450.7" cy="698.9" r=".6" fill="#555555"/><circle cx="419.1" cy="635.6" r=".6" fill="#7e7e7e"/><circle cx="422" cy="650.5" r=".5" fill="#404040"/><circle cx="442.1" cy="680.9" r=".6" fill="#6f6f6f"/><circle cx="443.9" cy="649.3" r=".6" fill="#424242"/><circle cx="443.6" cy="651.1" r=".6" fill="#6e6e6e"/><circle cx="455.2" cy="664" r=".6" fill="#5a5a5a"/><circle cx="457.5" cy="644.1" r=".5" fill="#5a5a5a"/><circle cx="433.6" cy="644.3" r=".6" fill="#5a5a5a"/><circle cx="450.8" cy="696" r=".4" fill="#717171"/><circle cx="423.9" cy="630.2" r=".4" fill="#7b7b7b"/><circle cx="442.1" cy="672.9" r=".6" fill="#737373"/><circle cx="445.9" cy="634.6" r=".4" fill="#6f6f6f"/><circle cx="456.2" cy="693.9" r=".5" fill="#505050"/><circle cx="445.1" cy="667.2" r=".6" fill="#424242"/><circle cx="421.6" cy="664" r=".4" fill="#707070"/><circle cx="435.9" cy="638.7" r=".6" fill="#727272"/><circle cx="466.4" cy="672.5" r=".5" fill="#545454"/><circle cx="435" cy="660.5" r=".5" fill="#434343"/><circle cx="437.6" cy="647.2" r=".7" fill="#676767"/><circle cx="458.6" cy="676.4" r=".7" fill="#505050"/><circle cx="418.1" cy="622.5" r=".5" fill="#474747"/><circle cx="443.4" cy="667.2" r=".7" fill="#616161"/><circle cx="445.3" cy="686.9" r=".4" fill="#515151"/><circle cx="438.2" cy="631" r=".7" fill="#808080"/><circle cx="456.1" cy="623.3" r=".5" fill="#5c5c5c"/><circle cx="423.8" cy="701.3" r=".7" fill="#727272"/><circle cx="414.3" cy="703.6" r=".5" fill="#747474"/><circle cx="450.8" cy="661.3" r=".7" fill="#606060"/><circle cx="426" cy="683.5" r=".5" fill="#717171"/><circle cx="453.3" cy="722.9" r=".4" fill="#535353"/><circle cx="443.7" cy="686.8" r=".5" fill="#818181"/><circle cx="452.5" cy="698" r=".5" fill="#6b6b6b"/><circle cx="426.4" cy="667.4" r=".6" fill="#5f5f5f"/><circle cx="466.1" cy="717.4" r=".5" fill="#696969"/><circle cx="440.2" cy="712.2" r=".4" fill="#6c6c6c"/><circle cx="458.6" cy="628" r=".6" fill="#4e4e4e"/><circle cx="430.6" cy="685.8" r=".7" fill="#858585"/><circle cx="439.5" cy="648.9" r=".5" fill="#484848"/><circle cx="434.4" cy="670.2" r=".6" fill="#515151"/><circle cx="449.2" cy="683.1" r=".6" fill="#656565"/><circle cx="430.8" cy="721.2" r=".7" fill="#464646"/><circle cx="466.9" cy="679.5" r=".5" fill="#858585"/><circle cx="422.9" cy="667.3" r=".6" fill="#7f7f7f"/><circle cx="444.5" cy="696.1" r=".7" fill="#878787"/><circle cx="449.3" cy="664.4" r=".6" fill="#6e6e6e"/><circle cx="429.5" cy="652.8" r=".7" fill="#888888"/><circle cx="414.9" cy="640.8" r=".7" fill="#6e6e6e"/><circle cx="417.4" cy="661.3" r=".7" fill="#808080"/><circle cx="427.9" cy="706.5" r=".5" fill="#707070"/><circle cx="424.2" cy="704.9" r=".6" fill="#828282"/><circle cx="442.8" cy="647.5" r=".5" fill="#737373"/><circle cx="458.7" cy="651" r=".7" fill="#6f6f6f"/><circle cx="462.3" cy="693.5" r=".7" fill="#757575"/><circle cx="451.7" cy="720.7" r=".5" fill="#626262"/><circle cx="418.6" cy="644.2" r=".7" fill="#5e5e5e"/><circle cx="447.2" cy="687.2" r=".4" fill="#505050"/><circle cx="450.1" cy="636.1" r=".7" fill="#414141"/><circle cx="466.4" cy="664.6" r=".7" fill="#808080"/><circle cx="427.9" cy="657.3" r=".7" fill="#676767"/><circle cx="452.8" cy="667.4" r=".7" fill="#575757"/><circle cx="437.7" cy="672.3" r=".7" fill="#595959"/><circle cx="440" cy="691.2" r=".4" fill="#7e7e7e"/><circle cx="429.1" cy="673.2" r=".4" fill="#6c6c6c"/><circle cx="457" cy="628" r=".6" fill="#555555"/><circle cx="451.6" cy="687.2" r=".4" fill="#525252"/><circle cx="423.2" cy="682.4" r=".4" fill="#565656"/><circle cx="465.6" cy="653.7" r=".7" fill="#626262"/><circle cx="452" cy="664.7" r=".6" fill="#868686"/><circle cx="444.9" cy="719.2" r=".6" fill="#464646"/><circle cx="460.3" cy="636.2" r=".7" fill="#6c6c6c"/><circle cx="426.3" cy="648.3" r=".4" fill="#474747"/><circle cx="447.8" cy="671.3" r=".5" fill="#6d6d6d"/><circle cx="442.5" cy="693.3" r=".7" fill="#4b4b4b"/><circle cx="462.3" cy="629.9" r=".5" fill="#5c5c5c"/><circle cx="465.5" cy="640.3" r=".6" fill="#838383"/><circle cx="445" cy="669.3" r=".6" fill="#545454"/><circle cx="456.6" cy="706.7" r=".6" fill="#676767"/><circle cx="414.4" cy="621.2" r=".5" fill="#5e5e5e"/><circle cx="445.4" cy="693.1" r=".7" fill="#5d5d5d"/><circle cx="437.5" cy="662.9" r=".5" fill="#626262"/><circle cx="431.4" cy="628.5" r=".7" fill="#5c5c5c"/><circle cx="420.5" cy="675.4" r=".6" fill="#454545"/><circle cx="441.3" cy="701.2" r=".4" fill="#767676"/><circle cx="450.5" cy="679.5" r=".4" fill="#5e5e5e"/><circle cx="414.1" cy="716.1" r=".7" fill="#5d5d5d"/><circle cx="423.6" cy="699.5" r=".6" fill="#474747"/><circle cx="427.1" cy="620.2" r=".5" fill="#636363"/><circle cx="429.7" cy="673.5" r=".7" fill="#818181"/><circle cx="441.9" cy="661" r=".4" fill="#505050"/><circle cx="464.4" cy="690.9" r=".4" fill="#717171"/><circle cx="453.1" cy="632.5" r=".5" fill="#494949"/><circle cx="440.5" cy="665.8" r=".7" fill="#707070"/><circle cx="438.1" cy="631" r=".7" fill="#595959"/><circle cx="443.2" cy="709.1" r=".6" fill="#767676"/><circle cx="415.2" cy="690.1" r=".5" fill="#767676"/><circle cx="455.3" cy="694.2" r=".5" fill="#656565"/><circle cx="444.3" cy="697.1" r=".6" fill="#757575"/><circle cx="444.3" cy="624.4" r=".7" fill="#4c4c4c"/><circle cx="452.7" cy="658.5" r=".4" fill="#787878"/><circle cx="433.7" cy="647" r=".7" fill="#797979"/><circle cx="427.3" cy="651.2" r=".6" fill="#4a4a4a"/><circle cx="431.2" cy="629.5" r=".5" fill="#808080"/><circle cx="465.9" cy="673.2" r=".4" fill="#717171"/><circle cx="456.4" cy="651.4" r=".5" fill="#474747"/><circle cx="417.7" cy="691.7" r=".6" fill="#6b6b6b"/><circle cx="453.7" cy="699.4" r=".7" fill="#828282"/>
<g filter="url(#b06)" opacity="1.0"><path d="M434 609.6l1.6 0 1.5-.3 1.4-.9 .9-1.3 1.2-1.1" fill="none" stroke="#373737" stroke-width="1.26" stroke-linecap="round" stroke-linejoin="round"/><path d="M460.3 611.1l-1.6-.1-1.6-.2-1.5-.7" fill="none" stroke="#4f4f4f" stroke-width="1.25" stroke-linecap="round" stroke-linejoin="round"/><path d="M422 609.4l.8-1.4 .6-1.5" fill="none" stroke="#282828" stroke-width="1.15" stroke-linecap="round" stroke-linejoin="round"/><path d="M452.9 611.9l-1.1 1.2-1 1.2-1.6 .1-1.6 .4" fill="none" stroke="#222222" stroke-width="1.35" stroke-linecap="round" stroke-linejoin="round"/><path d="M445.5 607.3l-.9 1.3-.7 1.4-1 1.2-.2 1.6 .4 1.6" fill="none" stroke="#383838" stroke-width="1.36" stroke-linecap="round" stroke-linejoin="round"/><path d="M418.3 614.7l1.3-.8 1.6 0 1.6-.3" fill="none" stroke="#3e3e3e" stroke-width="0.94" stroke-linecap="round" stroke-linejoin="round"/><path d="M422 619.4l1.1 1.2 .6 1.5-.5 1.5" fill="none" stroke="#202020" stroke-width="1.05" stroke-linecap="round" stroke-linejoin="round"/><path d="M426.2 607.4l-.9-1.3-.9-1.3-1.5-.5-1.5-.8-.7-1.4" fill="none" stroke="#474747" stroke-width="0.95" stroke-linecap="round" stroke-linejoin="round"/><path d="M439.1 608.1l0-1.6-1.2-1.1" fill="none" stroke="#3d3d3d" stroke-width="0.93" stroke-linecap="round" stroke-linejoin="round"/><path d="M449.9 610l1.4-.9 1.5-.5 1.5 .5 1.5 .6 1.6-.2" fill="none" stroke="#454545" stroke-width="1.16" stroke-linecap="round" stroke-linejoin="round"/><path d="M422.6 617.1l-1 1.3-1.5 .3-1.6-.4-1.6 .1-1.4-.8" fill="none" stroke="#2b2b2b" stroke-width="1.13" stroke-linecap="round" stroke-linejoin="round"/><path d="M414.9 619.3l.7-1.5 .9-1.3 1.2-1 1.1-1.2 1.5-.6" fill="none" stroke="#303030" stroke-width="0.92" stroke-linecap="round" stroke-linejoin="round"/><path d="M435 616l-.3 1.6-.8 1.4-1.4 .6-1.5 .7-1.6 0" fill="none" stroke="#3f3f3f" stroke-width="0.99" stroke-linecap="round" stroke-linejoin="round"/><path d="M451.4 607.6l1.5-.7 1.6 0 1.5 .6 1.4-.7 1.3-.9" fill="none" stroke="#404040" stroke-width="1.37" stroke-linecap="round" stroke-linejoin="round"/><path d="M452.4 614.6l1.5 .6 .8 1.4 .3 1.6 1.3 1" fill="none" stroke="#3a3a3a" stroke-width="1.17" stroke-linecap="round" stroke-linejoin="round"/><path d="M431.1 614.2l-1.1 1.1-1.3 1" fill="none" stroke="#303030" stroke-width="1.35" stroke-linecap="round" stroke-linejoin="round"/><path d="M416.7 611.7l1.4 .8 1.3 .8 .8 1.4" fill="none" stroke="#2f2f2f" stroke-width="1.21" stroke-linecap="round" stroke-linejoin="round"/><path d="M461.3 606.9l1.2 1.1 1 1.3 1.4 .6 1.3 .9 1.5-.7" fill="none" stroke="#474747" stroke-width="1.38" stroke-linecap="round" stroke-linejoin="round"/><path d="M441.3 618.7l.4-1.5 .6-1.5-1.2-1" fill="none" stroke="#2a2a2a" stroke-width="1.34" stroke-linecap="round" stroke-linejoin="round"/><path d="M428.5 606.4l-1.5-.5-1.6 .2-1.5 .4-.8 1.4-1.5 .7" fill="none" stroke="#414141" stroke-width="1.38" stroke-linecap="round" stroke-linejoin="round"/><path d="M440.6 611.9l-1-1.3-.3-1.6-1-1.2 .1-1.6-.4-1.6" fill="none" stroke="#4f4f4f" stroke-width="0.97" stroke-linecap="round" stroke-linejoin="round"/><path d="M419.5 616.8l1.6-.4 .1-1.6-.6-1.5-.6-1.4-.3-1.6" fill="none" stroke="#393939" stroke-width="1.32" stroke-linecap="round" stroke-linejoin="round"/><path d="M454.3 608.5l1.6 .1 1.6 0 1.4 .8 1.4 .8" fill="none" stroke="#484848" stroke-width="1.39" stroke-linecap="round" stroke-linejoin="round"/><path d="M440.1 619.2l1.6 0 1 1.3 .3 1.5-.1 1.6 .6 1.5" fill="none" stroke="#2d2d2d" stroke-width="0.80" stroke-linecap="round" stroke-linejoin="round"/><path d="M444.2 616.2l.4 1.6 1.2 1 1.6 .5" fill="none" stroke="#222222" stroke-width="0.80" stroke-linecap="round" stroke-linejoin="round"/><path d="M464.4 618.3l-1.6-.3-1.6 .1-1.6-.2" fill="none" stroke="#2b2b2b" stroke-width="1.06" stroke-linecap="round" stroke-linejoin="round"/><path d="M415.2 611.4l-1.6 .2-1.3 1-.3 1.5-.6 1.5" fill="none" stroke="#4d4d4d" stroke-width="0.82" stroke-linecap="round" stroke-linejoin="round"/><path d="M450.4 616.4l1.5-.6 1.4-.9 1.6 .2 1.3 .9 1.6 .3 1.3 .9" fill="none" stroke="#222222" stroke-width="1.09" stroke-linecap="round" stroke-linejoin="round"/><path d="M454.9 619.1l.6 1.5-.1 1.6-.2 1.6" fill="none" stroke="#4f4f4f" stroke-width="1.29" stroke-linecap="round" stroke-linejoin="round"/><path d="M451.5 619.5l-1.3 .9-.3 1.5-.6 1.5" fill="none" stroke="#2a2a2a" stroke-width="1.23" stroke-linecap="round" stroke-linejoin="round"/><path d="M464.8 619.9l1.6 .3 1.5-.2 1.5-.7" fill="none" stroke="#272727" stroke-width="1.02" stroke-linecap="round" stroke-linejoin="round"/><path d="M456.4 613.7l-.4-1.6-.7-1.4-.5-1.5-.7-1.5-1.6 0" fill="none" stroke="#202020" stroke-width="1.22" stroke-linecap="round" stroke-linejoin="round"/><path d="M449.6 610.6l-1.3-1-1.3-.9-1.6 0" fill="none" stroke="#232323" stroke-width="0.85" stroke-linecap="round" stroke-linejoin="round"/><path d="M459.3 614.3l.9 1.4 1.4 .7 1.5 .4" fill="none" stroke="#4f4f4f" stroke-width="1.07" stroke-linecap="round" stroke-linejoin="round"/><path d="M451.5 615.3l.1 1.6-.1 1.6-.9 1.3-1.5 .6-.9 1.3" fill="none" stroke="#4d4d4d" stroke-width="1.05" stroke-linecap="round" stroke-linejoin="round"/><path d="M447.8 618.7l.5 1.5 0 1.6 .3 1.5-.4 1.6-1 1.3" fill="none" stroke="#404040" stroke-width="0.87" stroke-linecap="round" stroke-linejoin="round"/><path d="M416.8 607.3l-1-1.3-.4-1.5-.6-1.5" fill="none" stroke="#4b4b4b" stroke-width="0.96" stroke-linecap="round" stroke-linejoin="round"/><path d="M433.8 607.3l.9 1.3 .5 1.5" fill="none" stroke="#2c2c2c" stroke-width="1.25" stroke-linecap="round" stroke-linejoin="round"/><path d="M437.3 614.4l1 1.2 1.2 1.1 1.3 1 1 1.1" fill="none" stroke="#232323" stroke-width="0.95" stroke-linecap="round" stroke-linejoin="round"/><path d="M424.3 610.1l.2-1.6-.8-1.4-1.2-1-1.4-.8" fill="none" stroke="#3b3b3b" stroke-width="1.19" stroke-linecap="round" stroke-linejoin="round"/><path d="M454.4 658.8l.8 1.3 .9 1.4 .9 1.3-.6 1.5-.9 1.3-1.6 .3-1.6 .1" fill="none" stroke="#6f6f6f" stroke-width="0.63" stroke-linecap="round" stroke-linejoin="round"/><path d="M464.3 652l1.4 1 1.5 .2 1.6 .3 1.6-.4 1.5-.1 1.6-.1 1.6 .5" fill="none" stroke="#787878" stroke-width="0.61" stroke-linecap="round" stroke-linejoin="round"/><path d="M458.6 670.9l-1.4 .7-1.6-.3-1.2-1-.7-1.4-.2-1.6-.6-1.5-1.3-.9-1.3-1" fill="none" stroke="#808080" stroke-width="0.56" stroke-linecap="round" stroke-linejoin="round"/><path d="M427.2 682.8l1.5 .4 1.6 .2 1.5-.5 .9-1.4 .7-1.4" fill="none" stroke="#757575" stroke-width="0.57" stroke-linecap="round" stroke-linejoin="round"/><path d="M438.8 685.8l.2-1.6-.4-1.5-.4-1.6 .5-1.5 .9-1.3 1.6-.3 1.5-.6 1.4-.8" fill="none" stroke="#7e7e7e" stroke-width="0.57" stroke-linecap="round" stroke-linejoin="round"/><path d="M457.2 687l1.1 1.1 1.6 .2 1.1 1.2 .1 1.6" fill="none" stroke="#898989" stroke-width="0.59" stroke-linecap="round" stroke-linejoin="round"/><path d="M429.2 667.1l.3-1.6-.9-1.3-1.4-.7-1.6 .1-1.3 1" fill="none" stroke="#8b8b8b" stroke-width="0.57" stroke-linecap="round" stroke-linejoin="round"/><path d="M458.1 672.5l0 1.6-1.2 1.1-1.2 1.1-1.5 .4-1.4 .8-1.1 1.2-.7 1.5" fill="none" stroke="#808080" stroke-width="0.66" stroke-linecap="round" stroke-linejoin="round"/><path d="M421.4 660l.6 1.5 .1 1.6 .4 1.6 .9 1.3 1.6 .4" fill="none" stroke="#808080" stroke-width="0.67" stroke-linecap="round" stroke-linejoin="round"/><path d="M462.4 672.6l1.2 1.1 1.4 .8 1.6 .1 1.4-.8 1.1-1.1 .6-1.5 1-1.1" fill="none" stroke="#727272" stroke-width="0.69" stroke-linecap="round" stroke-linejoin="round"/><path d="M436.2,702.7 C435.5,700.6 433.4,694.6 432.0,690.0 C430.6,685.4 429.3,680.0 428.0,675.0 C426.7,670.0 425.2,665.0 424.0,660.0 C422.8,655.0 421.9,650.0 421.0,645.0 C420.1,640.0 419.1,632.7 418.5,630.0 C417.9,627.3 417.5,628.8 417.3,628.6" fill="none" stroke="#707070" stroke-width="4.4" stroke-linecap="round" opacity=".4"/><path d="M436.2,702.7 C435.5,700.6 433.4,694.6 432.0,690.0 C430.6,685.4 429.3,680.0 428.0,675.0 C426.7,670.0 425.2,665.0 424.0,660.0 C422.8,655.0 421.9,650.0 421.0,645.0 C420.1,640.0 419.1,632.7 418.5,630.0 C417.9,627.3 417.5,628.8 417.3,628.6" fill="none" stroke="#1c1c1c" stroke-width="2.53" stroke-linecap="round"/><path d="M436.2,702.7 C435.2,700.6 431.9,694.6 430.0,690.0 C428.1,685.4 426.7,680.0 425.0,675.0 C423.3,670.0 421.5,665.0 420.0,660.0 C418.5,655.0 416.7,647.5 416.0,645.0" fill="none" stroke="#707070" stroke-width="3.5" stroke-linecap="round" opacity=".4"/><path d="M436.2,702.7 C435.2,700.6 431.9,694.6 430.0,690.0 C428.1,685.4 426.7,680.0 425.0,675.0 C423.3,670.0 421.5,665.0 420.0,660.0 C418.5,655.0 416.7,647.5 416.0,645.0" fill="none" stroke="#2a2a2a" stroke-width="1.4949999999999999" stroke-linecap="round"/><path d="M437.0,700.0 C438.3,698.3 442.5,693.7 445.0,690.0 C447.5,686.3 449.8,681.7 452.0,678.0 C454.2,674.3 456.3,671.0 458.0,668.0 C459.7,665.0 461.0,662.2 462.0,660.0 C463.0,657.8 463.7,655.8 464.0,655.0" fill="none" stroke="#707070" stroke-width="3.7" stroke-linecap="round" opacity=".4"/><path d="M437.0,700.0 C438.3,698.3 442.5,693.7 445.0,690.0 C447.5,686.3 449.8,681.7 452.0,678.0 C454.2,674.3 456.3,671.0 458.0,668.0 C459.7,665.0 461.0,662.2 462.0,660.0 C463.0,657.8 463.7,655.8 464.0,655.0" fill="none" stroke="#222" stroke-width="1.7249999999999999" stroke-linecap="round"/><path d="M440.0,698.0 C441.2,696.3 445.0,691.8 447.0,688.0 C449.0,684.2 450.5,678.8 452.0,675.0 C453.5,671.2 454.8,668.3 456.0,665.0 C457.2,661.7 458.5,657.8 459.0,655.0 C459.5,652.2 459.0,649.2 459.0,648.0" fill="none" stroke="#707070" stroke-width="3.2" stroke-linecap="round" opacity=".4"/><path d="M440.0,698.0 C441.2,696.3 445.0,691.8 447.0,688.0 C449.0,684.2 450.5,678.8 452.0,675.0 C453.5,671.2 454.8,668.3 456.0,665.0 C457.2,661.7 458.5,657.8 459.0,655.0 C459.5,652.2 459.0,649.2 459.0,648.0" fill="none" stroke="#333" stroke-width="1.15" stroke-linecap="round"/><path d="M459.0,652.0 C459.2,650.8 460.1,647.0 460.0,645.0 C459.9,643.0 458.6,640.8 458.3,640.0" fill="none" stroke="#707070" stroke-width="4.2" stroke-linecap="round" opacity=".4"/><path d="M459.0,652.0 C459.2,650.8 460.1,647.0 460.0,645.0 C459.9,643.0 458.6,640.8 458.3,640.0" fill="none" stroke="#222" stroke-width="2.3" stroke-linecap="round"/><path d="M448.8,633.4 C448.5,634.5 447.6,637.6 447.0,640.0 C446.4,642.4 445.3,646.7 445.0,648.0" fill="none" stroke="#707070" stroke-width="4.0" stroke-linecap="round" opacity=".4"/><path d="M448.8,633.4 C448.5,634.5 447.6,637.6 447.0,640.0 C446.4,642.4 445.3,646.7 445.0,648.0" fill="none" stroke="#333" stroke-width="2.07" stroke-linecap="round"/><path d="M433.0,640.0 C433.5,642.0 435.0,647.3 436.0,652.0 C437.0,656.7 438.2,662.5 439.0,668.0 C439.8,673.5 440.8,680.0 441.0,685.0 C441.2,690.0 440.2,695.8 440.0,698.0" fill="none" stroke="#707070" stroke-width="3.1" stroke-linecap="round" opacity=".4"/><path d="M433.0,640.0 C433.5,642.0 435.0,647.3 436.0,652.0 C437.0,656.7 438.2,662.5 439.0,668.0 C439.8,673.5 440.8,680.0 441.0,685.0 C441.2,690.0 440.2,695.8 440.0,698.0" fill="none" stroke="#444" stroke-width="1.035" stroke-linecap="round"/><path d="M429.0,632.0 C429.5,633.7 431.5,640.3 432.0,642.0" fill="none" stroke="#707070" stroke-width="4.6" stroke-linecap="round" opacity=".4"/><path d="M429.0,632.0 C429.5,633.7 431.5,640.3 432.0,642.0" fill="none" stroke="#333" stroke-width="2.76" stroke-linecap="round"/><path d="M414.0,660.0 C415.0,662.0 418.2,667.0 420.0,672.0 C421.8,677.0 423.7,685.0 425.0,690.0 C426.3,695.0 427.5,700.0 428.0,702.0" fill="none" stroke="#707070" stroke-width="3.2" stroke-linecap="round" opacity=".4"/><path d="M414.0,660.0 C415.0,662.0 418.2,667.0 420.0,672.0 C421.8,677.0 423.7,685.0 425.0,690.0 C426.3,695.0 427.5,700.0 428.0,702.0" fill="none" stroke="#444" stroke-width="1.15" stroke-linecap="round"/><path d="M440.0,690.0 C442.5,691.3 451.2,696.3 455.0,698.0 C458.8,699.7 461.7,699.7 463.0,700.0" fill="none" stroke="#707070" stroke-width="3.1" stroke-linecap="round" opacity=".4"/><path d="M440.0,690.0 C442.5,691.3 451.2,696.3 455.0,698.0 C458.8,699.7 461.7,699.7 463.0,700.0" fill="none" stroke="#555" stroke-width="1.035" stroke-linecap="round"/><path d="M430.0,668.0 C431.3,667.2 435.3,663.8 438.0,663.0 C440.7,662.2 443.7,663.5 446.0,663.0 C448.3,662.5 451.0,660.5 452.0,660.0" fill="none" stroke="#707070" stroke-width="3.1" stroke-linecap="round" opacity=".4"/><path d="M430.0,668.0 C431.3,667.2 435.3,663.8 438.0,663.0 C440.7,662.2 443.7,663.5 446.0,663.0 C448.3,662.5 451.0,660.5 452.0,660.0" fill="none" stroke="#444" stroke-width="1.035" stroke-linecap="round"/><path d="M444.0,703.0 C445.0,700.8 448.2,693.8 450.0,690.0 C451.8,686.2 454.2,681.7 455.0,680.0" fill="none" stroke="#707070" stroke-width="3.1" stroke-linecap="round" opacity=".4"/><path d="M444.0,703.0 C445.0,700.8 448.2,693.8 450.0,690.0 C451.8,686.2 454.2,681.7 455.0,680.0" fill="none" stroke="#555" stroke-width="1.035" stroke-linecap="round"/></g>
<g filter="url(#b2)"><ellipse cx="432" cy="630" rx="4" ry="7" fill="#999"/></g>
<g filter="url(#b06)"><ellipse cx="437" cy="715.3" rx="2.8" ry="4.4" fill="#080808"/><path d="M436.5,705 L437,712" stroke="#222" stroke-width="1.8"/></g>
</g></g>
<rect x="414.20" y="608.30" width="52.30" height="115.10" fill="none" stroke="#333" stroke-width="1.1" />
<clipPath id="ci_3"><rect x="469.5" y="608.3" width="52.0" height="115.10000000000002"/></clipPath>
<rect x="469.50" y="608.30" width="52.00" height="115.10" fill="#dcdcdc" stroke="none" stroke-width="1" />
<g clip-path="url(#ci_3)"><g filter="url(#b04)">
<ellipse cx="484" cy="690" rx="10" ry="18" fill="#eaeaea" filter="url(#b3)"/>
<ellipse cx="505" cy="705" rx="10" ry="14" fill="#e8e8e8" filter="url(#b3)"/>
<ellipse cx="480" cy="625" rx="8" ry="12" fill="#e6e6e6" filter="url(#b3)"/>
<rect x="469.5" y="608.3" width="52.0" height="115.10000000000002" filter="url(#nz2)"/>
<g filter="url(#b04)" opacity="1.0"><path d="M482.2 636l1.4 .9 .8 1.4 1.3 .9 1.5 .7 1.4 .7 1.6 0 1.4 .8" fill="none" stroke="#9e9e9e" stroke-width="0.60" stroke-linecap="round" stroke-linejoin="round"/><path d="M475.1 629.1l-1.6 0-1.5-.2-.8 1.4" fill="none" stroke="#8c8c8c" stroke-width="0.49" stroke-linecap="round" stroke-linejoin="round"/><path d="M500 673.3l1.2 1 1.4 .8 .6 1.5 .6 1.5 .2 1.6" fill="none" stroke="#a0a0a0" stroke-width="0.56" stroke-linecap="round" stroke-linejoin="round"/><path d="M484.4 636.8l-1.6-.1-1.5 .6-1.6-.3-1.5-.4-1.6-.4-1.1-1.1" fill="none" stroke="#878787" stroke-width="0.53" stroke-linecap="round" stroke-linejoin="round"/><path d="M512.5 642.9l-.9 1.3-1.1 1.1-1.4 .8-1.6 0-1.5-.6" fill="none" stroke="#898989" stroke-width="0.42" stroke-linecap="round" stroke-linejoin="round"/><path d="M517.7 668.3l1.4-.6 1.6 .2 1.2 1 1 1.2 .9 1.4" fill="none" stroke="#989898" stroke-width="0.54" stroke-linecap="round" stroke-linejoin="round"/><path d="M476.3 684.7l-1.2 1.1-.5 1.6-1.3 .9-.7 1.4" fill="none" stroke="#8d8d8d" stroke-width="0.43" stroke-linecap="round" stroke-linejoin="round"/><path d="M501.9 616.5l-1.4 .8-.9 1.3-.5 1.6 0 1.6" fill="none" stroke="#909090" stroke-width="0.58" stroke-linecap="round" stroke-linejoin="round"/><path d="M497 704l-.8-2.1-.8-2-.9-2-.8-2.1-.5-2.1-.5-2.2-.7-2-.7-2.1-1.1-1.9-1-2-1.6-1.5-1.1-1.9-1.3-1.8-1-2-1-1.9-1.1-2-.5-2.1-2.1-6.4-.2-2.2-.3-2.2-.2-2.1-.2-2.2 .1-2.2-.1-2.2-.1-2.2-.5-2.2-.5-2.1-.4-2.2-.3-2.2-.1-2.2-.4-2.1-.5-2.2-.4-2.1-.8-2.1-.6-2.1-.8-2-1.2-1.9-1-1.9-.8-2.1-.5-2.1" fill="none" stroke="#404040" stroke-width=".9" stroke-linecap="round" stroke-dasharray="2 .6"/><path d="M497 704l-1.2-1.8-1.2-1.9-1.2-1.9-.7-2.1-.7-2-.9-2-1.1-1.9-1.4-1.8-1.2-1.8-.9-2-1.2-1.8-1.2-1.9-1-2-1-1.9-1-2-2.9-5.8-1-1.9-.5-2.2-.1-2.1-.5-2.2-.8-2.1-1-1.9-.9-2-.9-2-.7-2.1-.4-2.2-.6-2.1-.7-2.1-.6-2.1-.6-2.1-.3-2.2 .1-2.2 .1-2.2 .3-2.2 .6-2.1 .3-2.2 .3-2.1 .2-2.2 .6-2.2" fill="none" stroke="#565656" stroke-width=".7" stroke-linecap="round" stroke-dasharray="2 .6"/><path d="M497 704l-.5-2.1-.1-2.2-.5-2.2-.8-2-1-2-1.3-1.8-1.1-1.9-1.2-1.8-1.1-1.9-1.1-1.9-.6-2.1-.6-2.1-.9-2.1-1-1.9-.9-2-.9-2-.8-2.1-1.3-5.9-.6-2.1-.5-2.1-.5-2.2 .1-2.2 .1-2.2-.2-2.2-.1-2.2-.4-2.1-.2-2.2 .1-2.2-.4-2.2-.2-2.2-.5-2.2-.2-2.1-.1-2.2-.6-2.2-.4-2.1-.4-2.2" fill="none" stroke="#4e4e4e" stroke-width=".8" stroke-linecap="round" stroke-dasharray="2 .6"/><path d="M494.6 704l-.9-2-.6-2.1-.5-2.2-.3-2.2-.4-2.1-.6-2.1-.2-2.2-.6-2.1-.3-2.2-.6-2.1-.7-2.1-.9-2-.9-2.1-1.5-5.9 0-2.2-.2-2.2 .2-2.2-.1-2.2 .3-2.1 .3-2.2-.3-2.2-.1-2.2-.2-2.2-.1-2.2 .1-2.2 .4-2.1-.5-2.2-.8-2-.5-2.2-.6-2.1-.6-2.1-.8-2.1-.7-2.1-.9-1.9-.7-2.1-.6-2.2 0-2.2" fill="none" stroke="#535353" stroke-width=".8" stroke-linecap="round" stroke-dasharray="2 .6"/><path d="M495.8 704l-.4-2.2-.7-2.1-.9-1.9-.5-2.2-.2-2.2-.6-2.1-.4-2.1-.3-2.2-.4-2.2-.3-2.2-.7-2.1-.5-2.1-.5-2.1-.9-2.1-1.1-1.9-1-6 .2-2.2-.3-2.1 0-2.2 .2-2.2 .2-2.2 .3-2.2 .3-2.2 .4-2.1 .2-2.2-.3-2.2-.3-2.2-.3-2.2-.2-2.2 0-2.2 .3-2.1-.2-2.2-.5-2.2-.6-2.1-.4-2.1-.3-2.2 .2-2.2-.1-2.2-.2-2.2" fill="none" stroke="#5a5a5a" stroke-width=".8" stroke-linecap="round" stroke-dasharray="2 .6"/><path d="M495.6 704l-.5-2.1-.4-2.2-.4-2.2-.4-2.1-.5-2.2-.5-2.1-.4-2.2-.7-2.1-.7-2.1-.5-2.1-.7-2.1-.9-2-.4-2.2-1.1-6.7-.6-2.2-.5-2.1-.3-2.2-.5-2.1-.8-2.1-.8-2-.7-2.1-.8-2.1-.8-2-.4-2.2 .1-2.2 .3-2.1 .4-2.2 .2-2.2 .5-2.1 .4-2.2 .3-2.2 .4-2.1 .4-2.2 .2-2.2-.1-2.2 .1-2.2" fill="none" stroke="#464646" stroke-width=".9" stroke-linecap="round" stroke-dasharray="2 .6"/><path d="M495.7 704l-.1-2.2-.2-2.2 .1-2.2 .1-2.2 .5-2.1 0-2.2-.1-2.2 0-2.2 .3-2.2 .5-2.2 0-2.2-.4-2.1-.2-2.2-.2-2.2-.2-2.2-.6-2.1-.4-2.2-2.4-5.5-.5-2.2 0-2.2 0-2.2 .3-2.2 .2-2.2 .5-2.1 .4-2.2 .4-2.1 .3-2.2 .3-2.2 .5-2.1 .6-2.1 .3-2.2 .3-2.2 .4-2.2 .6-2.1 .4-2.1 0-2.2-.2-2.2-.1-2.2-.6-2.2-1.1-1.8-1.3-1.8" fill="none" stroke="#414141" stroke-width=".7" stroke-linecap="round" stroke-dasharray="2 .6"/><path d="M497.4 704l-.1-2.2 .2-2.2 .1-2.2-.7-2.1-.5-2.1-.6-2.1-.3-2.2-.6-2.2 .3-2.1 .5-2.2-.1-2.2-.3-2.2-.1-2.2-.1-2.2 .5-2.1-.5-5.6 0-2.2 .4-2.1 .5-2.2 .7-2 .6-2.2 .2-2.2 .1-2.2 .4-2.1 .6-2.2 .7-2 .5-2.2-.2-2.2-.3-2.1-.5-2.2-.5-2.1-.4-2.2-.7-2.1-.9-2-1.1-1.9-.8-2-.7-2.1" fill="none" stroke="#404040" stroke-width=".7" stroke-linecap="round" stroke-dasharray="2 .6"/><path d="M495.3 704l.3-2.2 .2-2.2 .5-2.1 .6-2.1 0-2.2 .2-2.2-.1-2.2 .1-2.2 0-2.2-.1-2.2-.7-2.1-.2-2.2-.4-2.2-.4-2.1 1.5-5.9 .1-2.2 .7-2.1 .5-2.2 .1-2.2 .2-2.2-.1-2.2 .2-2.1-.3-2.2-.3-2.2-.5-2.1-.5-2.2-.3-2.2-.3-2.1-.8-2.1-1.4-1.7-.9-2-1.2-1.9-.9-2-.6-2.1-.4-2.2-.5-2.1 0-2.2 .9-2 1.3-1.8" fill="none" stroke="#555555" stroke-width=".8" stroke-linecap="round" stroke-dasharray="2 .6"/><path d="M495 704l.3-2.2-.2-2.2 .1-2.2 0-2.2 .1-2.2 .4-2.1 .2-2.2 .1-2.2 .2-2.2 .2-2.2 .1-2.2 .5-2.1 .3-2.2-.2-2.2 .2-2.2-.2-2.2-.6-6.7 .2-2.2-.3-2.2-.3-2.2 .1-2.2 0-2.2-.4-2.1-.6-2.2-.4-2.1-.2-2.2 .1-2.2-.2-2.2 0-2.2 .3-2.2 .1-2.2-.2-2.2-.1-2.2 0-2.2 .7-2.1 1-1.9 .9-2" fill="none" stroke="#5a5a5a" stroke-width=".9" stroke-linecap="round" stroke-dasharray="2 .6"/><path d="M498.2 704l.5-2.1 .6-2.1 .5-2.2 .3-2.2-.1-2.2 .2-2.2-.1-2.2-.2-2.1 0-2.2 0-2.2 .1-2.2-.4-2.2-.3-2.2-.2-2.2 2.4-6.2 .1-2.2 .4-2.2 .5-2.2-.1-2.2-.3-2.1 .3-2.2 .4-2.2 .1-2.2 0-2.2 .2-2.2 .3-2.1 0-2.2 .1-2.2 .1-2.2-.1-2.2 .1-2.2 .2-2.2 .3-2.2" fill="none" stroke="#4b4b4b" stroke-width=".8" stroke-linecap="round" stroke-dasharray="2 .6"/><path d="M495.4 704l.1-2.2 .2-2.2 .7-2.1 .8-2 1-2 .9-2 .8-2 1.4-1.8 1.4-1.6 1.2-1.9 .5-2.1 .6-2.1 0-2.2-.3-2.2-.6-2.2-.9-5.7 .8-2 .6-2.2 .4-2.1 0-2.2-.5-2.2-.4-2.1-.1-2.2-.3-2.2-.3-2.2-.4-2.2-.4-2.1-.6-2.2-.4-2.1-.8-2.1-.5-2.1-.2-2.2-.1-2.2 .4-2.2 .6-2.1" fill="none" stroke="#4b4b4b" stroke-width=".9" stroke-linecap="round" stroke-dasharray="2 .6"/><path d="M495.4 704l.4-2.2 .6-2.1 .6-2.1 .5-2.1 .6-2.2 .2-2.1 .7-2.1 1.1-2 1-1.9 1-2 .9-2 .6-2.1 .8-2 .8-2.1 0-5.6 .7-2.1 .6-2.1 .4-2.2 .5-2.1 .2-2.2 .4-2.2 .5-2.1 .7-2.1 .7-2.1 .8-2 .7-2.1 .3-2.2 .4-2.2 .4-2.1 .2-2.2 .5-2.2-.2-2.1-.5-2.2-.8-2.1-.6-2.1-.6-2.1-.5-2.1-.7-2.1" fill="none" stroke="#545454" stroke-width=".9" stroke-linecap="round" stroke-dasharray="2 .6"/><path d="M496.8 704l.8-2.1 .6-2.1 .5-2.1 .4-2.2 .3-2.2 .1-2.2 .4-2.1 .6-2.1 1.2-1.9 1.2-1.9 .9-1.9 1.2-1.9 1.3-1.8 1.5-1.6 1.5-1.6 1.1-1.9 .6-2.2 .3-2.1-4.1-4.7 .1-2.2 .4-2.1 .3-2.2 0-2.2 .1-2.2 .4-2.2 .5-2.1 0-2.2 .2-2.2 .3-2.2 .7-2 .9-2.1 .7-2.1 .7-2.1 .5-2.1 0-2.2-.5-2.1-.4-2.2" fill="none" stroke="#545454" stroke-width=".8" stroke-linecap="round" stroke-dasharray="2 .6"/><path d="M496.3 704l.7-2.1 .6-2.1 .9-2 .8-2 .9-2.1 .7-2 1.1-2 .9-2 .6-2.1 .2-2.2 .6-2.1 .9-2 .9-2 1.3-1.8 1.2-1.8 1.6-1.5 .9-5.9 .2-2.2-.1-2.2 0-2.2 .3-2.2 0-2.2-.1-2.2-.1-2.2 .1-2.2-.1-2.2 .3-2.1 0-2.2 .1-2.2-.3-2.2-.2-2.2-.4-2.2-.1-2.2 .4-2.1 .4-2.2" fill="none" stroke="#515151" stroke-width=".8" stroke-linecap="round" stroke-dasharray="2 .6"/><path d="M497.7 704l1.1-1.9 1.3-1.8 1.1-1.9 .9-2 1.2-1.8 .9-2 1.1-2 1.1-1.9 .9-2 .8-2 .8-2.1 .9-2 .9-2 .8-2 .3-2.2-.6-5.5-.3-2.2 .1-2.2 .1-2.2-.2-2.2-.2-2.2-.2-2.2 0-2.2 .3-2.2 .1-2.2-.1-2.2-.1-2.2-.2-2.1 .1-2.2-.2-2.2-.3-2.2-.4-2.2 .1-2.2 0-2.2 .2-2.2-.1-2.2 .3-2.2 .7-2 1-2 1.3-1.8 1.1-1.9" fill="none" stroke="#4c4c4c" stroke-width=".9" stroke-linecap="round" stroke-dasharray="2 .6"/><path d="M496.2 704l.7-2.1 .9-2 1-2 .9-1.9 1-2 .9-2 .7-2.1 .6-2.1 .6-2.1 .4-2.2 .4-2.2 .3-2.1 .3-2.2 .4-2.2 .8-2 .9-2 1.1-1.9 1.8-1.4 1.8-1.2 3.9-3.2 .1-2.2-.5-2.1 0-2.2-.2-2.2 .1-2.2 .4-2.2 .3-2.1 0-2.2 .2-2.2-.2-2.2-.2-2.2-.3-2.2 0-2.2 .1-2.2 .3-2.2 .2-2.2 .4-2.1 .1-2.2-.5-2.2 0-2.2-.1-2.2 .7-2.1" fill="none" stroke="#606060" stroke-width=".8" stroke-linecap="round" stroke-dasharray="2 .6"/><path d="M478 702l-.4-2.2 0-2.2 .2-2.2-.3-2.1-.3-2.2 .3-2.2 .3-2.2 .1-2.2 .4-2.1 0-2.2-.8-2.1 0-2.2-.1-2.2 0-2.2-.5-2.1-.5-2.2-.7-2-.6-2.2-.8-2-.8-2.1-.9-2-.4-2.1-.3-2.2 .1-2.2 .3-2.2 0-2.2-.4-2.2-.3-2.1-.3-2.2-.4-2.2-.2-2.2-.2-2.2-.7-2.1-.7-2" fill="none" stroke="#555" stroke-width=".75" stroke-linecap="round"/><path d="M478 702l-.1-2.2-.1-2.2 0-2.2-.1-2.2-.2-2.2 .2-2.2 .1-2.2 .3-2.1 .7-2.1-.1-2.2-.4-2.2-.4-2.2 0-2.2-.2-2.2-.2-2.2-.3-2.1-.3-2.2-.4-2.2-.9-2-.6-2.1-.6-2.1-.4-2.2 0-2.2-.2-2.2-.4-2.1-.3-2.2 .3-2.2-.1-2.2 .2-2.2 .5-2.1 .7-2.1 1.1-1.9 .9-2" fill="none" stroke="#555" stroke-width=".75" stroke-linecap="round"/><path d="M478 702l.2-2.2 .2-2.2 .4-2.1 0-2.2 .3-2.2 .5-2.2 .1-2.2 .4-2.1 .2-2.2-.1-2.2 .2-2.2 .3-2.2 0-2.2-.3-2.2-.3-2.2-.8-2-.5-2.1-.6-2.2-.4-2.1-.1-2.2 .4-2.2 .1-2.2 .4-2.2 0-2.2-.3-2.1-.6-2.2-.8-2-.6-2.1-.2-2.2 0-2.2 .2-2.2-.1-2.2 .3-2.2 .2-2.2 .4-2.1" fill="none" stroke="#555" stroke-width=".75" stroke-linecap="round"/><path d="M478 702l-.2-2.2-.6-2.1-.5-2.2-.7-2-.6-2.2-.3-2.1-.5-2.2-.1-2.2 .3-2.2 .2-2.1 .4-2.2 .4-2.2 .3-2.1 .5-2.2 .6-2.1 .5-2.1 .1-2.2 .4-2.2-.1-2.2 .4-2.2 .7-2.1 .8-2 .4-2.2 .1-2.2 0-2.2 .2-2.2 .5-2.1 .3-2.2-.3-2.2-.6-2.1-.5-2.1" fill="none" stroke="#555" stroke-width=".75" stroke-linecap="round"/><path d="M478 702l.7-2.1 .7-2.1 1.3-1.8 1-1.9 .9-2 .9-2 .6-2.2 .5-2.1 .7-2.1 0-2.2-.2-2.2-.1-2.2-.2-2.2-.2-2.2 .4-2.1 .2-2.2 .2-2.2 .4-2.2 .2-2.1 .2-2.2 0-2.2-.1-2.2-.4-2.2-.1-2.2-.5-2.1-.5-2.2-.6-2.1-.5-2.1-.2-2.2-.4-2.2-.8-2.1-.5-2.1-.5-2.1 .1-2.2 .1-2.2 .6-2.2 .6-2.1 .5-2.1 .8-2.1" fill="none" stroke="#555" stroke-width=".75" stroke-linecap="round"/><path d="M478 702l.2-2.2 .3-2.2 .4-2.1 .2-2.2 .6-2.2 .5-2.1 .7-2.1 .4-2.1 .7-2.1 1-2 1.5-1.6 1.4-1.7 .8-2 .7-2.1 .4-2.2 .4-2.2 .5-2.1 .6-2.1-.2-2.2 .2-2.2 .5-2.2 .3-2.1 .2-2.2 .5-2.2 .4-2.1 .9-2 .8-2.1 .4-2.2 .2-2.2 .1-2.2-.4-2.1-.4-2.2-.8-2.1-.7-2-.8-2.1-.6-2.1" fill="none" stroke="#555" stroke-width=".75" stroke-linecap="round"/></g>
<g filter="url(#b3)"><ellipse cx="518" cy="651" rx="8" ry="11" fill="#1e1e1e"/><ellipse cx="510" cy="655" rx="6" ry="6" fill="#666"/></g>
<g filter="url(#b06)"><ellipse cx="496.7" cy="712" rx="2.6" ry="6" fill="#080808"/><ellipse cx="477.8" cy="706" rx="3.3" ry="4.2" fill="#1a1a1a"/></g>
</g></g>
<rect x="469.50" y="608.30" width="52.00" height="115.10" fill="none" stroke="#333" stroke-width="1.1" />
<line x1="515.60" y1="692.50" x2="515.60" y2="717.70" stroke="#111" stroke-width="1.6" />
<text transform="translate(507.40,708.80) rotate(-90)" x="0" y="0" font-size="9.5" font-weight="bold" font-style="normal" text-anchor="middle" dominant-baseline="central" fill="#111">50μm</text>
<text transform="translate(376.9,740.0) rotate(-28)" font-size="9.2" font-weight="bold" text-anchor="start" fill="#111">WT</text>
<text transform="translate(414.0,749.3) rotate(-28)" font-size="9.2" font-weight="bold" text-anchor="start" fill="#111">3xTg-AD</text>
<text transform="translate(443.0,765.8) rotate(-28)" font-size="9.2" font-weight="bold" text-anchor="start" fill="#111">3xTg-AD+β-OHB</text>
</svg>
</body></html>
